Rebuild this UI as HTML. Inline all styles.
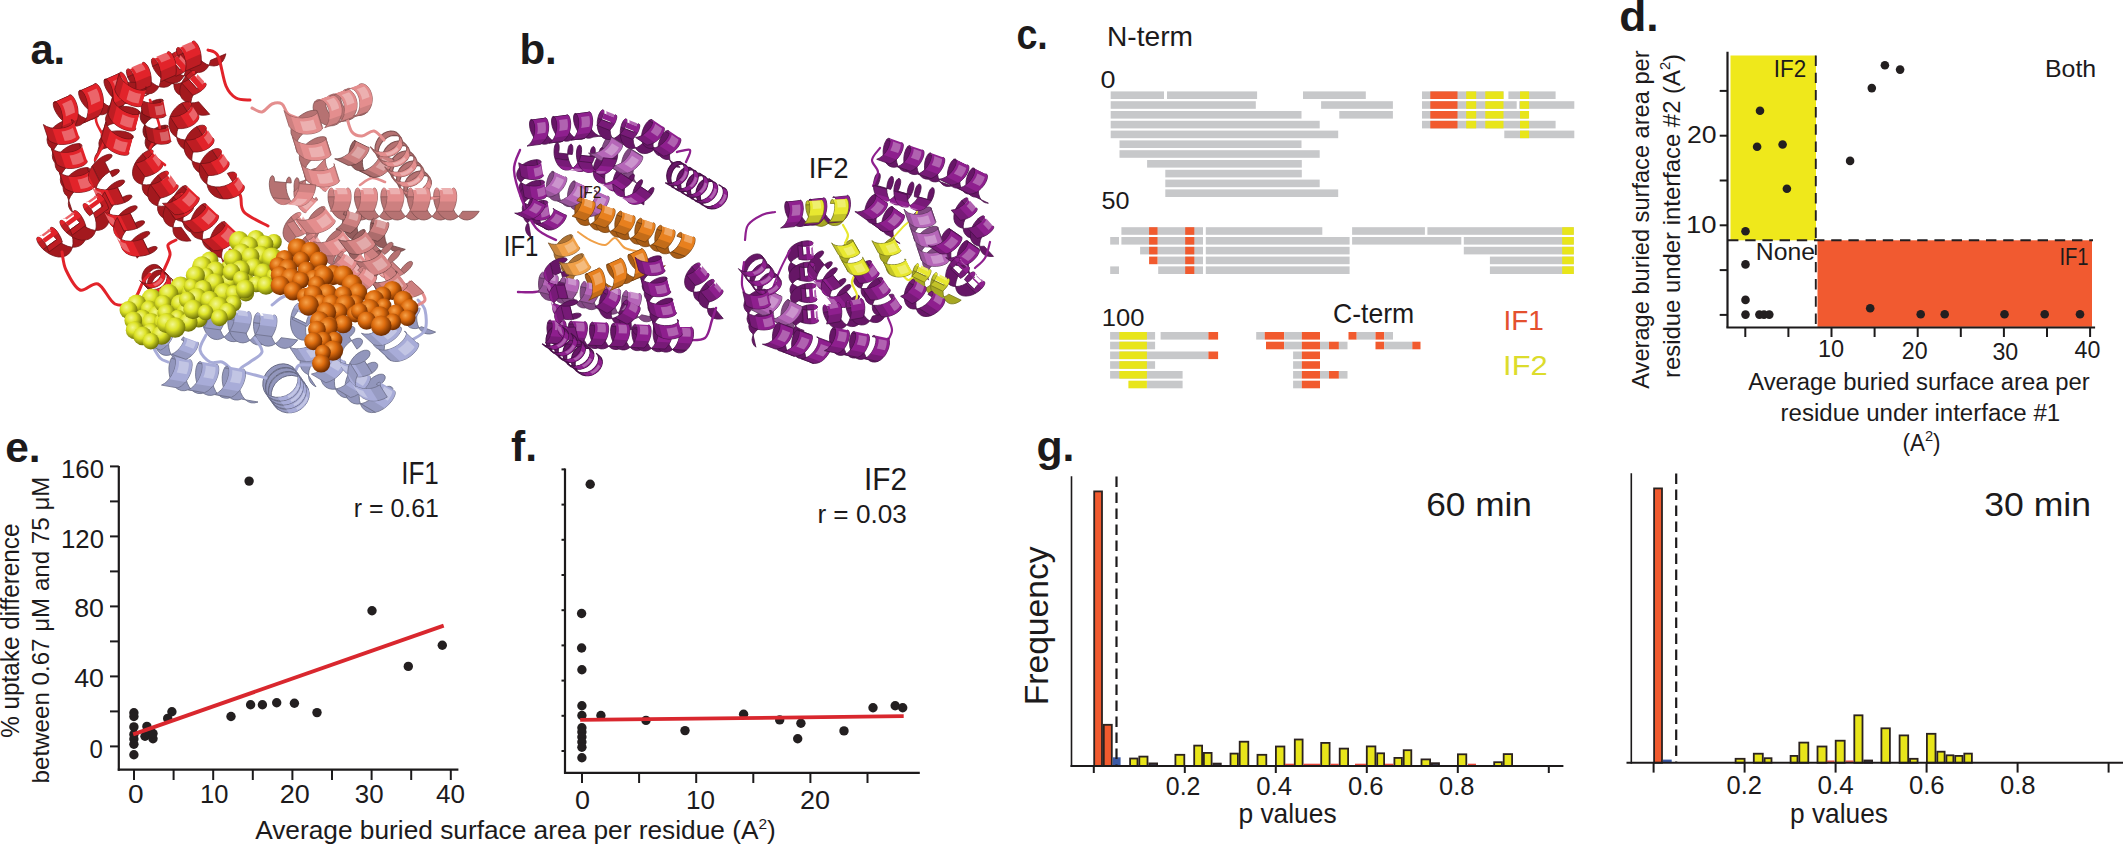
<!DOCTYPE html>
<html><head><meta charset="utf-8"><title>Figure</title>
<style>
html,body{margin:0;padding:0;background:#fff;}
svg{display:block;}
svg text{font-family:'Liberation Sans',Arial,sans-serif;}
</style></head><body>
<svg width="2123" height="846" viewBox="0 0 2123 846">
<rect width="2123" height="846" fill="#fff"/>
<defs><radialGradient id="gy" cx="0.38" cy="0.35" r="0.65"><stop offset="0" stop-color="#f2f690"/><stop offset="0.45" stop-color="#dde326"/><stop offset="1" stop-color="#6f7309"/></radialGradient><radialGradient id="go" cx="0.38" cy="0.35" r="0.65"><stop offset="0" stop-color="#f6a24a"/><stop offset="0.45" stop-color="#dd6c0e"/><stop offset="1" stop-color="#6e2c00"/></radialGradient></defs>
<g><path d="M187.8,361.2 186.7,363.5 185.8,366.7 185.4,370.5 185.4,374.7 186,379 187.3,383.2 189.2,386.9 191.6,390 194.5,392.2 197.7,393.4 201.1,393.6 204.6,392.7 188.2,389.8 184.7,390.7 181.3,390.6 178,389.3 175.1,387.1 172.7,384 170.8,380.3 169.6,376.1 169,371.8 168.9,367.6 169.4,363.8 170.2,360.6 171.4,358.3Z" fill="#9296bc" stroke="#666984" stroke-width="0.8"/>
<path d="M214.5,365.9 213.4,368.2 212.5,371.3 212,375.1 212.1,379.3 212.7,383.7 214,387.8 215.8,391.6 218.3,394.7 221.1,396.9 224.4,398.1 227.8,398.3 231.3,397.3 214.8,394.5 211.4,395.4 207.9,395.2 204.7,394 201.8,391.8 199.4,388.7 197.5,385 196.3,380.8 195.6,376.4 195.6,372.3 196,368.5 196.9,365.3 198,363Z" fill="#9296bc" stroke="#666984" stroke-width="0.8"/>
<path d="M241.2,370.5 240,372.8 239.1,376 238.7,379.8 238.7,384 239.4,388.3 240.6,392.5 242.5,396.2 244.9,399.3 247.8,401.6 251,402.8 254.5,402.9 258,402 241.5,399.1 238,400 234.6,399.9 231.4,398.7 228.5,396.5 226,393.4 224.2,389.6 222.9,385.4 222.3,381.1 222.2,376.9 222.7,373.1 223.6,370 224.7,367.7Z" fill="#9296bc" stroke="#666984" stroke-width="0.8"/>
<path d="M218.7,317.9 218.7,322 219.3,326.3 220.5,330.5 222.3,334.3 224.6,337.6 227.4,340 230.6,341.4 234,341.7 237.4,341 240.7,339.2 243.7,336.6 246.3,333.2 229.8,331.1 227.1,334.4 224.1,337.1 220.8,338.8 217.4,339.6 214,339.2 210.9,337.8 208.1,335.4 205.7,332.2 203.9,328.4 202.8,324.2 202.2,319.9 202.2,315.8Z" fill="#9296bc" stroke="#666984" stroke-width="0.8"/>
<path d="M244.4,321.3 244.4,325.4 245,329.6 246.2,333.8 248,337.7 250.3,340.9 253.1,343.3 256.3,344.7 259.6,345 263,344.3 266.3,342.5 269.4,339.9 272,336.5 255.4,334.4 252.8,337.7 249.8,340.4 246.5,342.2 243.1,342.9 239.7,342.5 236.6,341.1 233.7,338.7 231.4,335.5 229.6,331.7 228.4,327.5 227.8,323.2 227.8,319.1Z" fill="#9296bc" stroke="#666984" stroke-width="0.8"/>
<path d="M270.1,324.6 270.1,328.7 270.6,333 271.8,337.2 273.6,341 276,344.2 278.8,346.6 281.9,348 285.3,348.4 288.7,347.6 292,345.9 295,343.2 297.7,339.9 281.1,337.7 278.5,341.1 275.4,343.7 272.1,345.5 268.7,346.2 265.4,345.9 262.2,344.5 259.4,342.1 257.1,338.9 255.3,335 254.1,330.8 253.5,326.5 253.5,322.5Z" fill="#9296bc" stroke="#666984" stroke-width="0.8"/>
<path d="M170.2,335.8 169.4,338.2 168.8,341.1 168.6,344.3 168.9,347.7 169.6,351 170.8,354.1 172.5,356.7 174.6,358.7 177.2,360.1 180,360.6 182.9,360.4 185.9,359.4 171.8,354.2 168.8,355.2 165.9,355.4 163.1,354.9 160.5,353.5 158.4,351.5 156.7,348.9 155.4,345.8 154.7,342.5 154.5,339.1 154.7,335.9 155.3,333 156.1,330.6Z" fill="#9296bc" stroke="#666984" stroke-width="0.8"/>
<path d="M294.5,370.1 290.6,368.2 286.1,367.4 281.5,367.8 276.9,369.4 272.8,372.1 269.3,375.7 266.9,380 265.6,384.8 265.5,389.5 266.6,394.1 268.9,398.2 272.3,401.4 269.8,397.9 266.4,394.6 264.1,390.6 262.9,386 263,381.2 264.3,376.5 266.8,372.2 270.2,368.6 274.4,365.9 278.9,364.3 283.6,363.8 288.1,364.6 292,366.6Z" fill="#9296bc" stroke="#666984" stroke-width="1"/>
<path d="M297.4,374.1 293.5,372.2 289,371.4 284.3,371.8 279.8,373.4 275.6,376.1 272.2,379.7 269.7,384 268.4,388.8 268.3,393.5 269.5,398.1 271.8,402.2 275.1,405.4 272.6,401.9 269.3,398.6 266.9,394.6 265.8,390 265.9,385.2 267.2,380.5 269.7,376.2 273.1,372.6 277.2,369.9 281.8,368.3 286.5,367.8 290.9,368.6 294.9,370.6Z" fill="#9296bc" stroke="#666984" stroke-width="1"/>
<path d="M300.2,378.1 296.3,376.2 291.9,375.4 287.2,375.8 282.6,377.4 278.5,380.1 275.1,383.7 272.6,388 271.3,392.8 271.2,397.5 272.3,402.1 274.6,406.2 278,409.4 275.5,405.9 272.1,402.6 269.8,398.6 268.6,394 268.7,389.2 270.1,384.5 272.5,380.2 275.9,376.6 280.1,373.9 284.7,372.3 289.3,371.8 293.8,372.6 297.7,374.6Z" fill="#9296bc" stroke="#666984" stroke-width="1"/>
<path d="M306.1,323.5 305.6,327.8 305.7,332.3 306.5,336.5 308.1,340.3 310.3,343.5 313.1,345.7 316.5,347 320.2,347.3 324.1,346.6 327.9,345 331.6,342.7 335,339.7 319.9,332.5 316.6,335.5 312.9,337.9 309,339.5 305.1,340.2 301.4,339.9 298,338.6 295.2,336.3 293,333.1 291.5,329.4 290.6,325.1 290.5,320.7 291,316.3Z" fill="#9296bc" stroke="#666984" stroke-width="0.8"/>
<path d="M341,363.3 339.1,365.7 337.3,369 335.8,372.9 334.8,377.1 334.4,381.5 334.7,385.8 335.8,389.7 337.6,393 340.1,395.5 343.2,397.2 346.7,397.8 350.6,397.5 336.2,388.9 332.4,389.3 328.8,388.6 325.7,387 323.2,384.4 321.4,381.1 320.4,377.2 320.1,372.9 320.5,368.6 321.5,364.3 323,360.4 324.8,357.2 326.6,354.7Z" fill="#9296bc" stroke="#666984" stroke-width="0.8"/>
<path d="M365.8,378.1 363.9,380.5 362.1,383.8 360.6,387.7 359.6,391.9 359.2,396.3 359.5,400.6 360.6,404.5 362.4,407.8 364.9,410.3 368,412 371.5,412.6 375.4,412.3 361,403.7 357.2,404.1 353.6,403.4 350.5,401.8 348,399.2 346.2,395.9 345.2,392 344.9,387.7 345.3,383.4 346.3,379.1 347.8,375.2 349.6,372 351.4,369.5Z" fill="#9296bc" stroke="#666984" stroke-width="0.8"/>
<path d="M356.9,349.1 359.7,346.9 361.6,344.5 362.5,342.3 362.4,340.4 361.3,339 359.4,338.3 356.9,338.4 353.8,339.4 350.6,341.2 347.5,343.8 344.6,347.1 342.3,351 334.7,338.9 337,335.1 339.8,331.7 343,329.1 346.2,327.3 349.2,326.3 351.8,326.2 353.7,326.9 354.7,328.3 354.8,330.2 353.9,332.5 352,334.8 349.3,337Z" fill="#9296bc" stroke="#666984" stroke-width="0.8"/>
<path d="M372.1,373.1 374.9,370.9 376.8,368.5 377.7,366.3 377.6,364.4 376.5,363 374.6,362.3 372.1,362.4 369,363.4 365.8,365.2 362.7,367.8 359.8,371.1 357.5,375 349.9,362.9 352.2,359.1 355,355.7 358.2,353.1 361.4,351.3 364.4,350.3 367,350.2 368.9,350.9 369.9,352.3 370,354.2 369.1,356.5 367.2,358.8 364.5,361Z" fill="#9296bc" stroke="#666984" stroke-width="0.8"/>
<path d="M387.3,397.1 390.1,394.9 392,392.5 392.9,390.3 392.8,388.4 391.7,387 389.8,386.3 387.3,386.4 384.2,387.4 381,389.2 377.9,391.8 375,395.1 372.7,399 365.1,386.9 367.4,383.1 370.2,379.7 373.4,377.1 376.6,375.3 379.6,374.3 382.2,374.2 384.1,374.9 385.1,376.3 385.2,378.2 384.3,380.5 382.4,382.8 379.7,385Z" fill="#9296bc" stroke="#666984" stroke-width="0.8"/>
<path d="M399.3,326.7 397.3,327.2 394.9,328.6 392.3,330.9 389.8,333.9 387.5,337.5 385.8,341.4 384.6,345.5 384.2,349.6 384.7,353.3 386,356.5 388.2,359 391,360.7 378.7,349.3 375.9,347.6 373.7,345.1 372.4,341.9 372,338.2 372.3,334.2 373.5,330.1 375.3,326.2 377.5,322.6 380,319.6 382.6,317.3 385,315.9 387,315.3Z" fill="#9296bc" stroke="#666984" stroke-width="0.8"/>
<path d="M417.4,312.3 416.9,314.9 416.7,317.9 416.9,321 417.5,324.1 418.6,327.1 420.1,329.7 422.1,331.7 424.5,333.2 427.1,333.9 429.9,334 432.8,333.3 435.6,332.1 421.6,326.7 418.8,327.9 415.9,328.6 413.1,328.5 410.4,327.8 408.1,326.3 406.1,324.3 404.6,321.7 403.5,318.7 402.9,315.6 402.7,312.5 402.9,309.5 403.4,306.9Z" fill="#9296bc" stroke="#666984" stroke-width="0.8"/>
<path d="M319.3,356.2 317.6,357.4 315.7,359.2 313.7,361.5 311.8,364.3 310.2,367.4 309,370.7 308.5,374.1 308.6,377.4 309.4,380.4 311,383.1 313.2,385.2 316,386.8 307.7,374.3 304.9,372.7 302.7,370.6 301.1,367.9 300.2,364.9 300.1,361.6 300.7,358.2 301.8,354.9 303.4,351.8 305.3,349 307.3,346.7 309.3,344.9 311,343.7Z" fill="#9296bc" stroke="#666984" stroke-width="0.8"/>
<path d="M357.8,218.8 357.3,221.6 357,225 357.2,228.5 357.8,232.2 359,235.6 360.7,238.6 362.9,241.1 365.5,242.8 368.5,243.7 371.6,243.8 374.7,243 377.8,241.4 363.4,237.2 360.3,238.8 357.1,239.6 354,239.5 351.1,238.6 348.5,236.9 346.3,234.4 344.6,231.4 343.4,228 342.7,224.3 342.6,220.8 342.8,217.4 343.4,214.6Z" fill="#945c5c" stroke="#684040" stroke-width="0.8"/>
<path d="M385.3,226.8 384.8,229.6 384.5,233 384.7,236.5 385.3,240.2 386.5,243.6 388.2,246.6 390.4,249.1 393,250.8 396,251.7 399.1,251.8 402.2,251 405.3,249.4 390.9,245.2 387.8,246.8 384.6,247.6 381.5,247.5 378.6,246.6 376,244.9 373.8,242.4 372.1,239.4 370.9,236 370.2,232.3 370.1,228.8 370.3,225.4 370.9,222.6Z" fill="#945c5c" stroke="#684040" stroke-width="0.8"/>
<path d="M367.6,147.2 366.5,148.2 365.3,150 364.1,152.6 363.2,155.6 362.6,159.1 362.4,162.8 362.8,166.4 363.8,169.7 365.3,172.7 367.4,175 370,176.6 372.9,177.4 359.4,170.8 356.4,170 353.9,168.4 351.8,166.1 350.3,163.2 349.3,159.8 348.9,156.2 349.1,152.5 349.7,149.1 350.6,146 351.8,143.5 353,141.7 354.1,140.6Z" fill="#945c5c" stroke="#684040" stroke-width="0.8"/>
<path d="M300.6,230.6 298.1,233.3 295.8,236.4 294.1,239.8 292.9,243.3 292.6,246.7 293.1,249.9 294.4,252.6 296.5,254.9 299.2,256.4 302.5,257.3 306.2,257.5 310,257.1 300.4,243.4 296.6,243.8 293,243.6 289.7,242.8 286.9,241.2 284.8,239 283.5,236.2 283,233 283.4,229.6 284.5,226.1 286.2,222.7 288.5,219.6 291,216.9Z" fill="#b67272" stroke="#7f5050" stroke-width="0.8"/>
<path d="M314.6,250.6 312.1,253.3 309.8,256.4 308.1,259.8 306.9,263.3 306.6,266.7 307.1,269.9 308.4,272.6 310.5,274.9 313.2,276.4 316.5,277.3 320.2,277.5 324,277.1 314.4,263.4 310.6,263.8 307,263.6 303.7,262.8 300.9,261.2 298.8,259 297.5,256.2 297,253 297.4,249.6 298.5,246.1 300.2,242.7 302.5,239.6 305,236.9Z" fill="#b67272" stroke="#7f5050" stroke-width="0.8"/>
<path d="M324.7,188.2 322.9,186.5 320.4,184.7 317.5,183 314.1,181.6 310.5,180.7 306.9,180.4 303.5,180.7 300.4,181.7 297.8,183.5 295.8,185.8 294.5,188.7 293.9,192 305.3,179.8 305.9,176.5 307.2,173.6 309.2,171.3 311.8,169.5 314.9,168.5 318.3,168.2 321.9,168.5 325.5,169.4 328.9,170.8 331.9,172.5 334.3,174.3 336.1,176Z" fill="#b67272" stroke="#7f5050" stroke-width="0.8"/>
<path d="M326.9,97.5 325.9,100 325.5,103.1 326,106.5 327.2,110.1 329.2,113.5 331.9,116.6 335.1,119 338.6,120.6 342.3,121.3 346,121 349.4,119.8 352.3,117.6 339.9,122.1 337,124.3 333.6,125.6 329.9,125.9 326.2,125.2 322.7,123.6 319.5,121.1 316.8,118.1 314.8,114.7 313.6,111.1 313.1,107.6 313.4,104.5 314.5,102Z" fill="#b67272" stroke="#7f5050" stroke-width="0.8"/>
<path d="M342.1,91.9 341.1,94.4 340.7,97.5 341.2,100.9 342.4,104.5 344.4,107.9 347.1,111 350.3,113.4 353.8,115 357.5,115.7 361.2,115.4 364.6,114.2 367.5,112 355.1,116.5 352.2,118.7 348.8,120 345.1,120.3 341.4,119.6 337.9,118 334.7,115.5 332,112.5 330,109.1 328.8,105.5 328.3,102 328.6,98.9 329.7,96.4Z" fill="#b67272" stroke="#7f5050" stroke-width="0.8"/>
<path d="M401.4,138.4 399.4,136.6 396.8,135.6 393.7,135.4 390.4,136 387.1,137.6 384,140 381.4,143 379.4,146.5 378.3,150.3 378.1,154.1 378.9,157.7 380.6,161 377.4,156.6 375.7,153.3 375,149.7 375.2,145.9 376.3,142.1 378.2,138.6 380.8,135.6 383.9,133.2 387.2,131.7 390.6,131 393.7,131.2 396.3,132.2 398.2,134Z" fill="#b67272" stroke="#7f5050" stroke-width="1.1"/>
<path d="M408.6,148.4 406.6,146.6 404,145.6 400.9,145.4 397.6,146 394.3,147.6 391.2,150 388.6,153 386.6,156.5 385.5,160.3 385.3,164.1 386.1,167.7 387.8,171 384.6,166.6 382.9,163.3 382.2,159.7 382.4,155.9 383.5,152.1 385.4,148.6 388,145.6 391.1,143.2 394.4,141.7 397.8,141 400.9,141.2 403.5,142.2 405.4,144Z" fill="#b67272" stroke="#7f5050" stroke-width="1.1"/>
<path d="M415.8,158.4 413.8,156.6 411.2,155.6 408.1,155.4 404.8,156 401.5,157.6 398.4,160 395.8,163 393.8,166.5 392.7,170.3 392.5,174.1 393.3,177.7 395,181 391.8,176.6 390.1,173.3 389.4,169.7 389.6,165.9 390.7,162.1 392.6,158.6 395.2,155.6 398.3,153.2 401.6,151.7 405,151 408.1,151.2 410.7,152.2 412.6,154Z" fill="#b67272" stroke="#7f5050" stroke-width="1.1"/>
<path d="M423,168.4 421,166.6 418.4,165.6 415.3,165.4 412,166 408.7,167.6 405.6,170 403,173 401,176.5 399.9,180.3 399.7,184.1 400.5,187.7 402.2,191 399,186.6 397.3,183.3 396.6,179.7 396.8,175.9 397.9,172.1 399.8,168.6 402.4,165.6 405.5,163.2 408.8,161.7 412.2,161 415.3,161.2 417.9,162.2 419.8,164Z" fill="#b67272" stroke="#7f5050" stroke-width="1.1"/>
<path d="M430.2,178.4 428.2,176.6 425.6,175.6 422.5,175.4 419.2,176 415.9,177.6 412.8,180 410.2,183 408.2,186.5 407.1,190.3 406.9,194.1 407.7,197.7 409.4,201 406.2,196.6 404.5,193.3 403.8,189.7 404,185.9 405.1,182.1 407,178.6 409.6,175.6 412.7,173.2 416,171.7 419.4,171 422.5,171.2 425.1,172.2 427,174Z" fill="#b67272" stroke="#7f5050" stroke-width="1.1"/>
<path d="M322.1,126.7 320.5,126.2 318.1,126.2 315,126.8 311.5,128.1 307.8,130 304.2,132.5 301,135.5 298.4,138.9 296.7,142.5 295.9,146.1 296.2,149.6 297.5,152.8 292.5,136.9 291.1,133.7 290.9,130.2 291.6,126.6 293.4,123 295.9,119.6 299.1,116.6 302.7,114.1 306.4,112.1 309.9,110.9 313,110.3 315.5,110.3 317.1,110.8Z" fill="#b67272" stroke="#7f5050" stroke-width="0.8"/>
<path d="M330.5,153.1 328.9,152.6 326.5,152.6 323.4,153.2 319.9,154.5 316.2,156.4 312.6,158.9 309.4,161.9 306.8,165.3 305.1,168.9 304.3,172.5 304.6,176 305.9,179.2 300.9,163.3 299.5,160.1 299.3,156.6 300,153 301.8,149.4 304.3,146 307.5,143 311.1,140.5 314.8,138.5 318.3,137.3 321.4,136.7 323.9,136.7 325.5,137.2Z" fill="#b67272" stroke="#7f5050" stroke-width="0.8"/>
<path d="M291.2,183 291.1,180.3 290.5,178.3 289.7,177.2 288.8,177.1 287.8,177.8 286.9,179.5 286.3,182 286,185.1 286.2,188.6 286.9,192.4 288.1,196 289.8,199.4 273.1,198 271.4,194.7 270.2,191 269.5,187.3 269.3,183.8 269.6,180.7 270.2,178.2 271.1,176.5 272.1,175.7 273.1,175.9 273.9,177 274.4,178.9 274.5,181.6Z" fill="#b67272" stroke="#7f5050" stroke-width="0.8"/>
<path d="M315.9,185 315.7,182.3 315.2,180.3 314.4,179.2 313.4,179.1 312.4,179.8 311.6,181.5 310.9,184 310.7,187.1 310.8,190.6 311.5,194.4 312.7,198 314.5,201.4 297.8,200 296.1,196.7 294.9,193 294.2,189.3 294,185.8 294.3,182.7 294.9,180.2 295.8,178.5 296.8,177.7 297.7,177.9 298.5,179 299.1,180.9 299.2,183.6Z" fill="#b67272" stroke="#7f5050" stroke-width="0.8"/>
<path d="M344.7,196.7 345,200.7 346,204.8 347.5,209 349.6,212.7 352.2,215.9 355.2,218.3 358.4,219.7 361.8,220 365.2,219.2 368.3,217.4 371.2,214.7 373.6,211.3 356.9,211.3 354.5,214.7 351.6,217.4 348.5,219.2 345.1,220 341.7,219.7 338.5,218.3 335.5,215.9 332.9,212.7 330.8,209 329.3,204.8 328.3,200.7 328,196.7Z" fill="#b67272" stroke="#7f5050" stroke-width="0.8"/>
<path d="M371.1,196.7 371.4,200.7 372.4,204.8 373.9,209 376,212.7 378.6,215.9 381.6,218.3 384.8,219.7 388.2,220 391.6,219.2 394.7,217.4 397.6,214.7 400,211.3 383.3,211.3 380.9,214.7 378,217.4 374.9,219.2 371.5,220 368.1,219.7 364.9,218.3 361.9,215.9 359.3,212.7 357.2,209 355.7,204.8 354.7,200.7 354.4,196.7Z" fill="#b67272" stroke="#7f5050" stroke-width="0.8"/>
<path d="M397.5,196.7 397.8,200.7 398.8,204.8 400.3,209 402.4,212.7 405,215.9 408,218.3 411.2,219.7 414.6,220 418,219.2 421.1,217.4 424,214.7 426.4,211.3 409.7,211.3 407.3,214.7 404.4,217.4 401.3,219.2 397.9,220 394.5,219.7 391.3,218.3 388.3,215.9 385.7,212.7 383.6,209 382.1,204.8 381.1,200.7 380.8,196.7Z" fill="#b67272" stroke="#7f5050" stroke-width="0.8"/>
<path d="M423.9,196.7 424.2,200.7 425.2,204.8 426.7,209 428.8,212.7 431.4,215.9 434.4,218.3 437.6,219.7 441,220 444.4,219.2 447.5,217.4 450.4,214.7 452.8,211.3 436.1,211.3 433.7,214.7 430.8,217.4 427.7,219.2 424.3,220 420.9,219.7 417.7,218.3 414.7,215.9 412.1,212.7 410,209 408.5,204.8 407.5,200.7 407.2,196.7Z" fill="#b67272" stroke="#7f5050" stroke-width="0.8"/>
<path d="M450.3,196.7 450.6,200.7 451.6,204.8 453.1,209 455.2,212.7 457.8,215.9 460.8,218.3 464,219.7 467.4,220 470.8,219.2 473.9,217.4 476.8,214.7 479.2,211.3 462.5,211.3 460.1,214.7 457.2,217.4 454.1,219.2 450.7,220 447.3,219.7 444.1,218.3 441.1,215.9 438.5,212.7 436.4,209 434.9,204.8 433.9,200.7 433.6,196.7Z" fill="#b67272" stroke="#7f5050" stroke-width="0.8"/>
<path d="M332.3,219.9 329.9,220.9 327.1,222.7 324.3,225.2 321.5,228.3 319.1,232 317.2,236 316.1,240 315.8,244 316.5,247.6 318,250.7 320.5,253.2 323.7,254.9 313.5,241.7 310.3,240 307.9,237.5 306.3,234.4 305.6,230.7 305.9,226.8 307,222.7 308.9,218.8 311.3,215.1 314.1,211.9 317,209.4 319.7,207.6 322.1,206.7Z" fill="#b67272" stroke="#7f5050" stroke-width="0.8"/>
<path d="M349.5,242.3 347.1,243.3 344.3,245.1 341.5,247.6 338.7,250.7 336.3,254.4 334.4,258.4 333.3,262.4 333,266.4 333.7,270 335.2,273.1 337.7,275.6 340.9,277.3 330.7,264.1 327.5,262.4 325.1,259.9 323.5,256.8 322.8,253.1 323.1,249.2 324.2,245.1 326.1,241.2 328.5,237.5 331.3,234.3 334.2,231.8 336.9,230 339.3,229.1Z" fill="#b67272" stroke="#7f5050" stroke-width="0.8"/>
<path d="M384.7,254.4 387.9,251.9 390.4,249.3 392.1,246.9 393,244.8 392.9,243.2 392.1,242.4 390.6,242.4 388.5,243.3 386.1,245.1 383.6,247.7 381.1,250.9 379,254.7 367.1,243.1 369.2,239.3 371.6,236 374.1,233.4 376.6,231.7 378.6,230.8 380.2,230.8 381,231.6 381,233.1 380.1,235.2 378.4,237.7 375.9,240.3 372.7,242.8Z" fill="#b67272" stroke="#7f5050" stroke-width="0.8"/>
<path d="M404.2,273.4 407.4,270.9 409.9,268.3 411.6,265.9 412.5,263.8 412.4,262.2 411.6,261.4 410.1,261.4 408,262.3 405.6,264.1 403.1,266.7 400.6,269.9 398.5,273.7 386.6,262.1 388.7,258.3 391.1,255 393.6,252.4 396.1,250.7 398.1,249.8 399.7,249.8 400.5,250.6 400.5,252.1 399.6,254.2 397.9,256.7 395.4,259.3 392.2,261.8Z" fill="#b67272" stroke="#7f5050" stroke-width="0.8"/>
<path d="M373.5,242.8 371.6,243.4 369.4,244.7 366.9,246.8 364.5,249.4 362.2,252.5 360.4,255.9 359.2,259.5 358.7,263.1 359,266.4 360.2,269.4 362.1,271.8 364.7,273.7 354.5,260.4 351.9,258.6 350,256.2 348.9,253.2 348.6,249.8 349.1,246.3 350.3,242.7 352.1,239.2 354.3,236.1 356.7,233.5 359.2,231.5 361.4,230.2 363.3,229.5Z" fill="#9a6060" stroke="#6c4343" stroke-width="0.8"/>
<path d="M389.5,263.6 387.6,264.2 385.4,265.5 382.9,267.6 380.5,270.2 378.2,273.3 376.4,276.7 375.2,280.3 374.7,283.9 375,287.2 376.2,290.2 378.1,292.6 380.7,294.5 370.5,281.2 367.9,279.4 366,277 364.9,274 364.6,270.6 365.1,267.1 366.3,263.5 368.1,260 370.3,256.9 372.7,254.3 375.2,252.3 377.4,251 379.3,250.3Z" fill="#9a6060" stroke="#6c4343" stroke-width="0.8"/>
<path d="M351.1,265.3 349.4,267.9 348,271 346.9,274.4 346.4,278 346.4,281.5 347,284.7 348.3,287.5 350.3,289.7 352.8,291.2 355.7,292 358.9,292 362.3,291.2 348.9,281.2 345.6,281.9 342.3,281.9 339.4,281.2 336.9,279.7 335,277.5 333.7,274.7 333,271.4 333,267.9 333.6,264.4 334.6,261 336.1,257.9 337.7,255.3Z" fill="#b67272" stroke="#7f5050" stroke-width="0.8"/>
<path d="M371.1,280.3 369.4,282.9 368,286 366.9,289.4 366.4,293 366.4,296.5 367,299.7 368.3,302.5 370.3,304.7 372.8,306.2 375.7,307 378.9,307 382.3,306.2 368.9,296.2 365.6,296.9 362.3,296.9 359.4,296.2 356.9,294.7 355,292.5 353.7,289.7 353,286.4 353,282.9 353.6,279.4 354.6,276 356.1,272.9 357.7,270.3Z" fill="#b67272" stroke="#7f5050" stroke-width="0.8"/>
<path d="M360,185 C362,183.8 367.8,178.5 372,178 C376.2,177.5 382.8,181.3 385,182" fill="none" stroke="#e48e8e" stroke-width="2.6" stroke-linecap="round" stroke-linejoin="round"/>
<path d="M162.8,114 160.3,114.3 157.4,115.1 154.3,116.4 151.2,118.2 148.3,120.5 145.9,123.1 144.1,126 143.1,129 143,132 143.7,134.9 145.2,137.5 147.5,139.8 144.7,125 142.4,122.7 140.8,120.1 140.1,117.2 140.3,114.2 141.3,111.2 143.1,108.3 145.5,105.7 148.3,103.5 151.4,101.7 154.6,100.3 157.5,99.5 160,99.2Z" fill="#8f161b" stroke="#640f13" stroke-width="0.8"/>
<path d="M167.8,140 165.3,140.3 162.4,141.1 159.3,142.4 156.2,144.2 153.3,146.5 150.9,149.1 149.1,152 148.1,155 148,158 148.7,160.9 150.2,163.5 152.5,165.8 149.7,151 147.4,148.7 145.8,146.1 145.1,143.2 145.3,140.2 146.3,137.2 148.1,134.3 150.5,131.7 153.3,129.5 156.4,127.7 159.6,126.3 162.5,125.5 165,125.2Z" fill="#8f161b" stroke="#640f13" stroke-width="0.8"/>
<path d="M179.9,69.7 177.7,72.7 175.9,76.1 174.6,79.7 173.9,83.3 174,86.8 174.9,89.9 176.5,92.5 178.9,94.5 181.9,95.8 185.3,96.3 189,96.1 192.7,95.3 181.6,82.8 177.8,83.7 174.2,83.9 170.8,83.4 167.8,82.1 165.4,80.1 163.8,77.5 162.9,74.4 162.8,70.9 163.5,67.3 164.8,63.6 166.6,60.2 168.8,57.2Z" fill="#a3191e" stroke="#721215" stroke-width="0.8"/>
<path d="M196.9,88.7 194.7,91.7 192.9,95.1 191.6,98.7 190.9,102.3 191,105.8 191.9,108.9 193.5,111.5 195.9,113.5 198.9,114.8 202.3,115.3 206,115.1 209.7,114.3 198.6,101.8 194.8,102.7 191.2,102.9 187.8,102.4 184.8,101.1 182.4,99.1 180.8,96.5 179.9,93.4 179.8,89.9 180.5,86.3 181.8,82.6 183.6,79.2 185.8,76.2Z" fill="#a3191e" stroke="#721215" stroke-width="0.8"/>
<path d="M68.7,96 68.5,98 69.1,100.7 70.3,103.9 72.2,107.3 74.8,110.7 77.9,113.8 81.4,116.4 85.1,118.3 88.8,119.3 92.4,119.2 95.7,118.2 98.6,116.1 83.3,123 80.5,125 77.2,126.1 73.6,126.1 69.8,125.1 66.1,123.3 62.6,120.7 59.5,117.5 57,114.1 55.1,110.7 53.8,107.5 53.3,104.8 53.4,102.9Z" fill="#a3191e" stroke="#721215" stroke-width="0.8"/>
<path d="M94,84.7 93.9,86.7 94.4,89.4 95.6,92.5 97.6,96 100.1,99.4 103.2,102.5 106.7,105.1 110.4,107 114.2,107.9 117.8,107.9 121.1,106.9 123.9,104.8 108.7,111.6 105.8,113.7 102.5,114.7 98.9,114.8 95.2,113.8 91.4,111.9 88,109.3 84.9,106.2 82.3,102.8 80.4,99.4 79.2,96.2 78.6,93.5 78.8,91.5Z" fill="#a3191e" stroke="#721215" stroke-width="0.8"/>
<path d="M119.3,73.4 119.2,75.3 119.7,78 121,81.2 122.9,84.6 125.5,88 128.5,91.2 132,93.8 135.7,95.6 139.5,96.6 143.1,96.6 146.4,95.5 149.2,93.5 134,100.3 131.2,102.3 127.9,103.4 124.2,103.4 120.5,102.5 116.8,100.6 113.3,98 110.2,94.9 107.7,91.5 105.7,88 104.5,84.8 104,82.2 104.1,80.2Z" fill="#a3191e" stroke="#721215" stroke-width="0.8"/>
<path d="M143,70.3 144.6,73.8 146.9,77.3 149.7,80.6 153,83.4 156.6,85.6 160.3,87 164,87.3 167.4,86.7 170.4,85 172.9,82.4 174.7,79.1 175.9,75.1 160.5,81.7 159.4,85.6 157.5,89 155.1,91.6 152,93.3 148.6,93.9 145,93.5 141.3,92.2 137.7,90 134.4,87.1 131.5,83.8 129.2,80.3 127.6,76.9Z" fill="#a3191e" stroke="#721215" stroke-width="0.8"/>
<path d="M168,59.7 169.6,63.1 171.9,66.6 174.7,69.9 178,72.8 181.6,75 185.3,76.3 189,76.7 192.4,76 195.4,74.4 197.9,71.8 199.7,68.4 200.9,64.4 185.5,71 184.4,75 182.5,78.3 180.1,80.9 177,82.6 173.6,83.2 170,82.9 166.3,81.5 162.7,79.3 159.4,76.5 156.5,73.1 154.2,69.6 152.6,66.2Z" fill="#a3191e" stroke="#721215" stroke-width="0.8"/>
<path d="M193,49 194.6,52.4 196.9,55.9 199.7,59.2 203,62.1 206.6,64.3 210.3,65.6 214,66 217.4,65.4 220.4,63.7 222.9,61.1 224.7,57.7 225.9,53.8 210.5,60.3 209.4,64.3 207.5,67.7 205.1,70.3 202,71.9 198.6,72.6 195,72.2 191.3,70.8 187.7,68.7 184.4,65.8 181.5,62.5 179.2,59 177.6,55.6Z" fill="#a3191e" stroke="#721215" stroke-width="0.8"/>
<path d="M141.6,102.8 139.8,101.4 137.1,100 133.6,99 129.6,98.4 125.2,98.3 120.9,98.8 116.9,100 113.3,101.8 110.5,104.2 108.7,107.1 107.8,110.4 108,113.8 112.4,97.7 112.2,94.2 113.1,91 114.9,88.1 117.7,85.7 121.3,83.9 125.3,82.7 129.7,82.2 134,82.3 138,82.9 141.5,83.9 144.2,85.2 146,86.7Z" fill="#a3191e" stroke="#721215" stroke-width="0.8"/>
<path d="M134.9,127.1 133.1,125.7 130.4,124.4 126.9,123.3 122.9,122.7 118.6,122.6 114.3,123.2 110.2,124.4 106.7,126.2 103.9,128.6 102,131.5 101.1,134.7 101.3,138.1 105.8,122 105.5,118.6 106.4,115.3 108.3,112.5 111.1,110.1 114.6,108.2 118.7,107.1 123,106.5 127.3,106.6 131.3,107.2 134.8,108.3 137.5,109.6 139.3,111Z" fill="#a3191e" stroke="#721215" stroke-width="0.8"/>
<path d="M128.2,151.5 126.5,150 123.7,148.7 120.2,147.7 116.2,147 111.9,147 107.6,147.5 103.5,148.7 100,150.5 97.2,152.9 95.3,155.8 94.5,159 94.7,162.5 99.1,146.4 98.9,142.9 99.7,139.7 101.6,136.8 104.4,134.4 107.9,132.6 112,131.4 116.3,130.9 120.6,130.9 124.7,131.5 128.1,132.6 130.9,133.9 132.7,135.4Z" fill="#a3191e" stroke="#721215" stroke-width="0.8"/>
<path d="M76.6,135.5 74,135.5 70.8,136.2 67.2,137.5 63.6,139.5 60,142 56.9,145 54.5,148.4 52.9,151.9 52.3,155.4 52.7,158.8 54.2,161.8 56.7,164.4 51.4,148.5 48.9,146 47.5,142.9 47,139.6 47.6,136.1 49.2,132.5 51.6,129.2 54.7,126.2 58.3,123.6 62,121.6 65.5,120.3 68.8,119.7 71.3,119.6Z" fill="#a3191e" stroke="#721215" stroke-width="0.8"/>
<path d="M84.6,159.5 82,159.5 78.8,160.2 75.2,161.5 71.6,163.5 68,166 64.9,169 62.5,172.4 60.9,175.9 60.3,179.4 60.7,182.8 62.2,185.8 64.7,188.4 59.4,172.5 56.9,170 55.5,166.9 55,163.6 55.6,160.1 57.2,156.5 59.6,153.2 62.7,150.2 66.3,147.6 70,145.6 73.5,144.3 76.8,143.7 79.3,143.6Z" fill="#a3191e" stroke="#721215" stroke-width="0.8"/>
<path d="M92.6,183.5 90,183.5 86.8,184.2 83.2,185.5 79.6,187.5 76,190 72.9,193 70.5,196.4 68.9,199.9 68.3,203.4 68.7,206.8 70.2,209.8 72.7,212.4 67.4,196.5 64.9,194 63.5,190.9 63,187.6 63.6,184.1 65.2,180.5 67.6,177.2 70.7,174.2 74.3,171.6 78,169.6 81.5,168.3 84.8,167.7 87.3,167.6Z" fill="#a3191e" stroke="#721215" stroke-width="0.8"/>
<path d="M112.2,176.8 115.3,175.2 117.7,173.5 119.1,171.9 119.4,170.5 118.8,169.6 117.3,169.3 114.9,169.5 112,170.6 108.8,172.3 105.4,174.7 102.2,177.7 99.5,181.1 92.1,166.1 94.9,162.7 98.1,159.7 101.4,157.3 104.7,155.6 107.6,154.5 109.9,154.2 111.5,154.6 112.1,155.5 111.7,156.9 110.3,158.5 108,160.2 104.8,161.8Z" fill="#a3191e" stroke="#721215" stroke-width="0.8"/>
<path d="M124.7,202.5 127.9,200.9 130.2,199.2 131.6,197.6 132,196.3 131.4,195.3 129.8,195 127.5,195.3 124.6,196.3 121.3,198 118,200.4 114.8,203.4 112,206.8 104.7,191.8 107.5,188.4 110.6,185.4 114,183 117.3,181.3 120.2,180.3 122.5,180 124.1,180.3 124.7,181.2 124.3,182.6 122.9,184.2 120.6,185.9 117.4,187.5Z" fill="#a3191e" stroke="#721215" stroke-width="0.8"/>
<path d="M137.3,228.2 140.5,226.6 142.8,224.9 144.2,223.3 144.6,222 144,221 142.4,220.7 140.1,221 137.2,222 133.9,223.7 130.6,226.1 127.4,229.1 124.6,232.5 117.3,217.5 120,214.1 123.2,211.1 126.6,208.7 129.8,207 132.8,206 135.1,205.7 136.6,206 137.2,207 136.9,208.3 135.5,209.9 133.1,211.6 130,213.2Z" fill="#a3191e" stroke="#721215" stroke-width="0.8"/>
<path d="M149.9,253.9 153,252.3 155.4,250.6 156.8,249 157.2,247.7 156.5,246.8 155,246.4 152.7,246.7 149.8,247.7 146.5,249.4 143.1,251.8 139.9,254.8 137.2,258.2 129.8,243.2 132.6,239.8 135.8,236.8 139.2,234.4 142.4,232.7 145.3,231.7 147.7,231.4 149.2,231.8 149.8,232.7 149.4,234 148,235.6 145.7,237.3 142.5,238.9Z" fill="#a3191e" stroke="#721215" stroke-width="0.8"/>
<path d="M152.5,167.4 149.5,170.2 146.8,173.6 144.5,177.3 143,181.3 142.2,185.2 142.4,188.9 143.5,192.2 145.6,194.9 148.5,196.9 152,198.1 156,198.5 160.3,198.2 150.5,184.6 146.3,184.9 142.3,184.5 138.7,183.3 135.8,181.3 133.8,178.6 132.7,175.3 132.5,171.6 133.2,167.7 134.8,163.8 137,160 139.7,156.7 142.7,153.8Z" fill="#a3191e" stroke="#721215" stroke-width="0.8"/>
<path d="M167.8,188.7 164.8,191.6 162.1,194.9 159.9,198.7 158.3,202.6 157.6,206.5 157.7,210.2 158.9,213.5 160.9,216.2 163.8,218.2 167.3,219.4 171.4,219.8 175.6,219.5 165.9,205.9 161.6,206.3 157.6,205.9 154.1,204.6 151.2,202.6 149.1,199.9 148,196.7 147.8,193 148.5,189 150.1,185.1 152.3,181.4 155.1,178 158,175.2Z" fill="#a3191e" stroke="#721215" stroke-width="0.8"/>
<path d="M183.1,210.1 180.2,212.9 177.4,216.3 175.2,220 173.6,223.9 172.9,227.9 173.1,231.6 174.2,234.8 176.3,237.5 179.1,239.5 182.7,240.8 186.7,241.2 191,240.8 181.2,227.3 176.9,227.6 172.9,227.2 169.4,226 166.5,224 164.5,221.3 163.3,218 163.1,214.3 163.9,210.4 165.4,206.4 167.7,202.7 170.4,199.3 173.4,196.5Z" fill="#a3191e" stroke="#721215" stroke-width="0.8"/>
<path d="M189.6,115.1 186.4,117.1 183.3,119.9 180.5,123.3 178.4,127.2 177.1,131.5 176.6,135.8 177.2,140 178.8,143.8 181.3,147 184.6,149.5 188.5,151.2 192.9,152 185.1,140 180.8,139.2 176.9,137.5 173.5,135 171,131.8 169.5,128 168.9,123.8 169.3,119.5 170.7,115.2 172.8,111.3 175.5,107.9 178.6,105.1 181.8,103.1Z" fill="#a3191e" stroke="#721215" stroke-width="0.8"/>
<path d="M204.7,138.5 201.5,140.5 198.4,143.3 195.7,146.7 193.5,150.7 192.2,154.9 191.8,159.2 192.4,163.4 193.9,167.2 196.4,170.4 199.7,172.9 203.7,174.6 208,175.5 200.3,163.5 195.9,162.6 192,160.9 188.7,158.4 186.2,155.2 184.6,151.4 184,147.2 184.5,142.9 185.8,138.7 187.9,134.7 190.7,131.3 193.8,128.5 197,126.5Z" fill="#a3191e" stroke="#721215" stroke-width="0.8"/>
<path d="M219.9,162 216.7,163.9 213.6,166.7 210.8,170.2 208.7,174.1 207.3,178.3 206.9,182.7 207.5,186.8 209.1,190.6 211.6,193.8 214.9,196.4 218.8,198.1 223.2,198.9 215.4,186.9 211.1,186.1 207.1,184.4 203.8,181.8 201.3,178.6 199.7,174.8 199.2,170.7 199.6,166.3 200.9,162.1 203.1,158.2 205.8,154.7 208.9,151.9 212.1,150Z" fill="#a3191e" stroke="#721215" stroke-width="0.8"/>
<path d="M195.1,197.6 192.8,199.3 190.3,201.7 187.9,204.9 185.7,208.6 184.1,212.7 183.1,216.9 182.9,220.9 183.6,224.7 185.1,227.8 187.5,230.3 190.5,232 194.1,232.7 181.9,221.4 178.3,220.6 175.2,218.9 172.9,216.5 171.4,213.3 170.7,209.5 170.9,205.5 171.9,201.3 173.5,197.2 175.7,193.5 178.1,190.3 180.6,187.9 182.9,186.3Z" fill="#a3191e" stroke="#721215" stroke-width="0.8"/>
<path d="M214.5,215.6 212.1,217.3 209.6,219.7 207.2,222.9 205.1,226.6 203.4,230.7 202.5,234.9 202.3,238.9 202.9,242.7 204.5,245.8 206.8,248.3 209.8,250 213.4,250.7 201.2,239.4 197.6,238.6 194.6,236.9 192.2,234.5 190.7,231.3 190.1,227.5 190.2,223.5 191.2,219.3 192.9,215.2 195,211.5 197.4,208.3 199.9,205.9 202.2,204.3Z" fill="#a3191e" stroke="#721215" stroke-width="0.8"/>
<path d="M233.8,233.6 231.5,235.3 229,237.7 226.5,240.9 224.4,244.6 222.8,248.7 221.8,252.9 221.6,256.9 222.3,260.7 223.8,263.8 226.1,266.3 229.2,268 232.8,268.7 220.5,257.4 216.9,256.6 213.9,254.9 211.6,252.5 210,249.3 209.4,245.5 209.6,241.5 210.6,237.3 212.2,233.2 214.3,229.5 216.7,226.3 219.2,223.9 221.6,222.3Z" fill="#a3191e" stroke="#721215" stroke-width="0.8"/>
<path d="M56.7,239.6 60.1,242.3 63.9,244.6 67.9,246.3 71.9,247.2 75.7,247.1 79.2,246.1 82.1,244.2 84.4,241.5 85.8,238 86.5,234 86.4,229.7 85.6,225.4 72.1,235.2 72.9,239.5 73,243.8 72.3,247.8 70.8,251.3 68.6,254 65.7,255.9 62.2,256.9 58.4,257 54.3,256.1 50.3,254.4 46.6,252.1 43.2,249.4Z" fill="#a3191e" stroke="#721215" stroke-width="0.8"/>
<path d="M79.9,222.8 83.3,225.5 87.1,227.8 91.1,229.5 95.1,230.4 98.9,230.3 102.4,229.3 105.3,227.4 107.6,224.7 109,221.2 109.7,217.2 109.6,212.9 108.8,208.6 95.3,218.4 96.1,222.7 96.2,227 95.5,231 94,234.5 91.8,237.2 88.9,239.1 85.4,240.1 81.6,240.2 77.5,239.3 73.5,237.6 69.8,235.3 66.4,232.6Z" fill="#a3191e" stroke="#721215" stroke-width="0.8"/>
<path d="M163.1,270.2 161.2,268.8 158.9,268.2 156.3,268.3 153.6,269.1 151.1,270.7 148.8,272.8 147.1,275.5 146,278.5 145.7,281.7 146,284.7 147.2,287.6 149,289.9 145.3,286.2 143.4,283.8 142.3,281 141.9,277.9 142.3,274.8 143.4,271.8 145.1,269.1 147.3,266.9 149.9,265.4 152.5,264.5 155.1,264.4 157.5,265.1 159.4,266.5Z" fill="#a3191e" stroke="#721215" stroke-width="0.8"/>
<path d="M168.7,275.8 166.8,274.4 164.5,273.8 161.9,273.9 159.2,274.7 156.7,276.3 154.4,278.4 152.7,281.1 151.6,284.1 151.3,287.3 151.6,290.3 152.8,293.2 154.6,295.5 150.9,291.8 149,289.4 147.9,286.6 147.5,283.5 147.9,280.4 149,277.4 150.7,274.7 152.9,272.5 155.5,271 158.1,270.1 160.7,270 163.1,270.7 165,272.1Z" fill="#a3191e" stroke="#721215" stroke-width="0.8"/>
<path d="M100,95 C99.3,99.2 95.3,112.5 96,120 C96.7,127.5 104.2,133.3 104,140 C103.8,146.7 96.5,156.7 95,160" fill="none" stroke="#e2232a" stroke-width="2.6" stroke-linecap="round" stroke-linejoin="round"/>
<path d="M150,100 C151.7,105 160,121.7 160,130 C160,138.3 149.2,144.2 150,150 C150.8,155.8 162.5,162.5 165,165" fill="none" stroke="#e2232a" stroke-width="2.6" stroke-linecap="round" stroke-linejoin="round"/>
<path d="M152,345 C153.3,347.2 157.3,355.2 160,358 C162.7,360.8 166.7,361.3 168,362" fill="none" stroke="#a8acd8" stroke-width="3" stroke-linecap="round" stroke-linejoin="round"/>
<path d="M206,335 C205,337.5 199.3,345.5 200,350 C200.7,354.5 206.3,360 210,362 C213.7,364 218.7,361 222,362 C225.3,363 228.7,367 230,368" fill="none" stroke="#a8acd8" stroke-width="3" stroke-linecap="round" stroke-linejoin="round"/>
<path d="M255,338 C256.2,340.3 262.8,348 262,352 C261.2,356 253.7,359 250,362 C246.3,365 239.2,367.8 240,370 C240.8,372.2 250.7,373.7 255,375 C259.3,376.3 264.2,377.5 266,378" fill="none" stroke="#a8acd8" stroke-width="3" stroke-linecap="round" stroke-linejoin="round"/>
<path d="M272,305 C274.2,303.5 279.5,297.8 285,296 C290.5,294.2 300,293.3 305,294 C310,294.7 313.3,299 315,300" fill="none" stroke="#a8acd8" stroke-width="3" stroke-linecap="round" stroke-linejoin="round"/>
<path d="M296,370 C296.7,369.2 296.3,365.8 300,365 C303.7,364.2 313,365.5 318,365 C323,364.5 328,362.5 330,362" fill="none" stroke="#a8acd8" stroke-width="3" stroke-linecap="round" stroke-linejoin="round"/>
<path d="M418,300 C419.2,301.7 423.8,305 425,310 C426.2,315 427.2,325 425,330 C422.8,335 414.2,338.3 412,340" fill="none" stroke="#a8acd8" stroke-width="3" stroke-linecap="round" stroke-linejoin="round"/>
<path d="M252,108 C253.7,108.7 258.7,112.7 262,112 C265.3,111.3 268.7,105.3 272,104 C275.3,102.7 279.3,102.3 282,104 C284.7,105.7 285.3,111.7 288,114 C290.7,116.3 296.3,117.3 298,118" fill="none" stroke="#e48e8e" stroke-width="3" stroke-linecap="round" stroke-linejoin="round"/>
<path d="M347,118 C347.8,120.3 349.5,129 352,132 C354.5,135 358.3,136.2 362,136 C365.7,135.8 370.3,130.3 374,131 C377.7,131.7 382.3,138.5 384,140" fill="none" stroke="#e48e8e" stroke-width="3" stroke-linecap="round" stroke-linejoin="round"/>
<path d="M420,190 C421.7,191.3 426.7,197 430,198 C433.3,199 438.3,196.3 440,196" fill="none" stroke="#e48e8e" stroke-width="3" stroke-linecap="round" stroke-linejoin="round"/>
<path d="M410,282 C411.7,283.3 417.5,287 420,290 C422.5,293 425.3,297.5 425,300 C424.7,302.5 419.2,304.2 418,305" fill="none" stroke="#e48e8e" stroke-width="3" stroke-linecap="round" stroke-linejoin="round"/>
<path d="M208,50 C209.7,51 215,50 218,56 C221,62 223,79 226,86 C229,93 232,95.7 236,98 C240,100.3 247.7,99.7 250,100" fill="none" stroke="#e2232a" stroke-width="3" stroke-linecap="round" stroke-linejoin="round"/>
<path d="M229,192 C230.8,192.5 237.5,191.7 240,195 C242.5,198.3 239.3,206.8 244,212 C248.7,217.2 264,223.7 268,226" fill="none" stroke="#e2232a" stroke-width="3" stroke-linecap="round" stroke-linejoin="round"/>
<path d="M62,252 C62.7,255 63,263.7 66,270 C69,276.3 74.7,287.7 80,290 C85.3,292.3 92.2,281.7 98,284 C103.8,286.3 109.2,301.2 115,304 C120.8,306.8 128.3,304.7 133,301 C137.7,297.3 140.2,286.5 143,282 C145.8,277.5 148.8,275.3 150,274" fill="none" stroke="#e2232a" stroke-width="3" stroke-linecap="round" stroke-linejoin="round"/>
<path d="M164,270 C165,267.5 169.3,259.2 170,255 C170.7,250.8 167,247.5 168,245 C169,242.5 174.7,240.8 176,240" fill="none" stroke="#e2232a" stroke-width="3" stroke-linecap="round" stroke-linejoin="round"/>
<path d="M230,250 C231.3,250.3 235.3,253 238,252 C240.7,251 244.7,245.3 246,244" fill="none" stroke="#e2232a" stroke-width="3" stroke-linecap="round" stroke-linejoin="round"/>
<path d="M178,388 181.3,386.1 184.4,383.3 187.1,379.9 189.3,376.1 190.9,372.2 191.8,368.4 192.2,365 192,362.3 191.3,360.5 190.3,359.7 189.1,359.9 187.8,361.2 171.4,358.3 172.6,357 173.8,356.8 174.9,357.6 175.5,359.4 175.7,362.1 175.4,365.5 174.4,369.3 172.8,373.2 170.6,377 168,380.4 164.9,383.2 161.5,385.1Z" fill="#979bc2" stroke="#6d708c" stroke-width="0.8"/>
<path d="M185.3,382 187.6,378.8 189.4,375.3 190.7,371.7 191.6,368.3 191.9,365.3 191.8,362.8 191.3,360.9 190.5,359.8 174.5,357 175.3,358.1 175.9,360 176,362.5 175.6,365.5 174.8,368.9 173.4,372.5 171.6,376 169.3,379.2Z" fill="#a8acd8"/>
<path d="M186.6,374.3 187.8,371 188.5,367.8 188.9,364.9 188.8,362.5 178.9,360.8 179,363.2 178.7,366.1 177.9,369.2 176.7,372.5Z" fill="#c2c5e4"/>
<path d="M204.6,392.7 208,390.8 211.1,388 213.8,384.6 215.9,380.8 217.5,376.8 218.5,373 218.8,369.7 218.6,367 218,365.2 217,364.3 215.8,364.6 214.5,365.9 198,363 199.3,361.7 200.5,361.5 201.5,362.3 202.2,364.1 202.4,366.8 202,370.2 201.1,374 199.5,377.9 197.3,381.7 194.6,385.1 191.5,387.9 188.2,389.8Z" fill="#979bc2" stroke="#6d708c" stroke-width="0.8"/>
<path d="M212,386.6 214.2,383.4 216.1,379.9 217.4,376.4 218.2,373 218.6,370 218.5,367.4 218,365.6 217.2,364.5 201.2,361.7 202,362.8 202.5,364.6 202.6,367.2 202.3,370.2 201.4,373.6 200.1,377.1 198.3,380.6 196,383.9Z" fill="#a8acd8"/>
<path d="M213.2,378.9 214.4,375.6 215.2,372.5 215.5,369.6 215.5,367.2 205.6,365.5 205.7,367.9 205.3,370.7 204.6,373.9 203.3,377.2Z" fill="#c2c5e4"/>
<path d="M231.3,397.3 234.7,395.4 237.7,392.7 240.4,389.2 242.6,385.4 244.2,381.5 245.2,377.7 245.5,374.4 245.3,371.7 244.6,369.8 243.6,369 242.4,369.2 241.2,370.5 224.7,367.7 226,366.4 227.2,366.1 228.2,366.9 228.9,368.8 229.1,371.5 228.7,374.8 227.7,378.6 226.2,382.6 224,386.4 221.3,389.8 218.2,392.5 214.8,394.5Z" fill="#979bc2" stroke="#6d708c" stroke-width="0.8"/>
<path d="M238.6,391.3 240.9,388.1 242.7,384.6 244.1,381.1 244.9,377.7 245.3,374.6 245.1,372.1 244.6,370.2 243.8,369.2 227.9,366.4 228.7,367.4 229.2,369.3 229.3,371.8 228.9,374.9 228.1,378.3 226.8,381.8 224.9,385.3 222.7,388.5Z" fill="#a8acd8"/>
<path d="M239.9,383.6 241.1,380.3 241.9,377.1 242.2,374.3 242.1,371.9 232.3,370.1 232.3,372.5 232,375.4 231.2,378.6 230,381.9Z" fill="#c2c5e4"/>
<path d="M220.7,329.9 222.8,326.1 224.4,322.1 225.3,318.1 225.7,314.6 225.5,311.6 224.8,309.5 223.8,308.4 222.5,308.3 221.3,309.3 220.1,311.4 219.2,314.3 218.7,317.9 202.2,315.8 202.7,312.2 203.6,309.2 204.7,307.2 206,306.2 207.2,306.2 208.2,307.4 208.9,309.5 209.1,312.4 208.7,316 207.8,319.9 206.2,323.9 204.1,327.7Z" fill="#979bc2" stroke="#6d708c" stroke-width="0.8"/>
<path d="M224.6,320.4 225.2,317 225.4,313.9 225.2,311.4 224.5,309.5 223.6,308.4 222.6,308.2 221.4,308.9 220.3,310.4 204.2,308.3 205.3,306.8 206.5,306.1 207.6,306.3 208.5,307.4 209.1,309.3 209.3,311.8 209.2,314.9 208.5,318.3Z" fill="#a8acd8"/>
<path d="M222.3,313.1 222.1,310.8 221.5,309.1 220.6,308.1 219.6,307.8 209.7,306.5 210.7,306.8 211.5,307.8 212.1,309.5 212.4,311.8Z" fill="#c2c5e4"/>
<path d="M246.3,333.2 248.5,329.4 250,325.4 251,321.5 251.3,317.9 251.1,315 250.4,312.9 249.4,311.7 248.2,311.7 246.9,312.7 245.8,314.7 244.9,317.6 244.4,321.3 227.8,319.1 228.3,315.5 229.2,312.6 230.4,310.5 231.6,309.5 232.9,309.6 233.9,310.7 234.6,312.8 234.8,315.8 234.4,319.3 233.5,323.2 231.9,327.2 229.8,331.1Z" fill="#979bc2" stroke="#6d708c" stroke-width="0.8"/>
<path d="M250.2,323.8 250.9,320.3 251.1,317.2 250.8,314.7 250.2,312.8 249.3,311.8 248.2,311.6 247.1,312.2 246,313.8 229.9,311.7 231,310.1 232.1,309.5 233.2,309.7 234.1,310.7 234.8,312.6 235,315.2 234.8,318.2 234.2,321.7Z" fill="#a8acd8"/>
<path d="M248,316.5 247.7,314.1 247.1,312.4 246.3,311.4 245.3,311.1 235.4,309.8 236.4,310.1 237.2,311.1 237.8,312.9 238.1,315.2Z" fill="#c2c5e4"/>
<path d="M272,336.5 274.1,332.7 275.7,328.7 276.6,324.8 277,321.2 276.8,318.3 276.1,316.2 275.1,315.1 273.9,315 272.6,316 271.5,318 270.6,321 270.1,324.6 253.5,322.5 254,318.8 254.9,315.9 256,313.9 257.3,312.8 258.5,312.9 259.6,314 260.2,316.2 260.4,319.1 260.1,322.7 259.1,326.6 257.6,330.6 255.4,334.4Z" fill="#979bc2" stroke="#6d708c" stroke-width="0.8"/>
<path d="M275.9,327.1 276.6,323.7 276.7,320.6 276.5,318 275.9,316.2 275,315.1 273.9,314.9 272.7,315.6 271.6,317.1 255.6,315 256.7,313.5 257.8,312.8 258.9,313 259.8,314.1 260.4,315.9 260.7,318.5 260.5,321.6 259.8,325Z" fill="#a8acd8"/>
<path d="M273.7,319.8 273.4,317.5 272.8,315.8 272,314.7 271,314.5 261,313.2 262,313.5 262.9,314.5 263.5,316.2 263.7,318.5Z" fill="#c2c5e4"/>
<path d="M160.6,350.1 163.5,348.5 166.2,346.3 168.5,343.9 170.4,341.3 171.8,338.7 172.7,336.4 173.1,334.6 173,333.4 172.6,332.8 171.9,333 171.1,334 170.2,335.8 156.1,330.6 156.9,328.8 157.8,327.8 158.5,327.6 158.9,328.2 159,329.4 158.6,331.2 157.7,333.5 156.3,336.1 154.4,338.7 152,341.1 149.4,343.3 146.5,344.9Z" fill="#979bc2" stroke="#6d708c" stroke-width="0.8"/>
<path d="M166.9,345.3 168.9,343 170.5,340.7 171.7,338.4 172.5,336.4 172.9,334.7 172.9,333.5 172.6,332.8 172,332.8 158.3,327.7 158.9,327.8 159.2,328.4 159.2,329.6 158.8,331.3 158,333.4 156.8,335.6 155.2,338 153.2,340.3Z" fill="#a8acd8"/>
<path d="M168,339.4 169.1,337.3 169.9,335.4 170.2,333.8 170.3,332.6 161.8,329.5 161.8,330.7 161.4,332.3 160.7,334.2 159.6,336.3Z" fill="#c2c5e4"/>
<path d="M185.9,359.4 188.8,357.8 191.5,355.7 193.8,353.2 195.7,350.6 197.1,348.1 198,345.8 198.4,343.9 198.4,342.7 197.9,342.1 197.2,342.4 196.4,343.4 195.5,345.1 181.4,339.9 182.3,338.2 183.1,337.2 183.8,336.9 184.3,337.5 184.3,338.7 183.9,340.6 183,342.9 181.6,345.4 179.7,348 177.4,350.5 174.7,352.6 171.8,354.2Z" fill="#979bc2" stroke="#6d708c" stroke-width="0.8"/>
<path d="M192.2,354.6 194.2,352.4 195.8,350 197,347.7 197.8,345.7 198.2,344 198.2,342.8 197.9,342.1 197.3,342.1 183.7,337.1 184.2,337.1 184.5,337.8 184.5,339 184.1,340.7 183.3,342.7 182.1,345 180.5,347.3 178.6,349.6Z" fill="#a8acd8"/>
<path d="M193.4,348.7 194.5,346.6 195.2,344.7 195.6,343.2 195.6,342 187.1,338.9 187.1,340 186.7,341.6 186,343.5 184.9,345.6Z" fill="#c2c5e4"/>
<path d="M269.4,397.4 273.6,399.7 278.3,400.8 283.2,400.7 288,399.5 292.4,397.1 296,393.8 298.7,389.8 300.3,385.5 300.7,381 299.7,376.8 297.6,373 294.5,370.1 292,366.6 295.1,369.5 297.2,373.2 298.1,377.5 297.8,381.9 296.2,386.3 293.5,390.3 289.9,393.5 285.5,395.9 280.7,397.2 275.8,397.3 271.1,396.2 266.9,393.9Z" fill="#979bc2" stroke="#6d708c" stroke-width="1"/>
<path d="M280.2,400.9 284.6,400.4 288.9,399 292.7,396.7 296,393.8 298.5,390.2 300.1,386.3 300.6,382.3 300.2,378.4 297.8,374.9 298.2,378.8 297.6,382.9 296,386.8 293.5,390.3 290.3,393.3 286.4,395.6 282.2,397 277.8,397.4Z" fill="#a8acd8"/>
<path d="M289,398.1 292.5,395.9 295.5,393.1 297.9,389.8 299.4,386.2 297.9,384 296.4,387.7 294,391 291,393.8 287.4,396Z" fill="#c2c5e4"/>
<path d="M272.3,401.4 276.5,403.7 281.1,404.8 286.1,404.7 290.9,403.5 295.2,401.1 298.9,397.8 301.6,393.8 303.2,389.5 303.5,385 302.6,380.8 300.5,377 297.4,374.1 294.9,370.6 298,373.5 300.1,377.2 301,381.5 300.6,385.9 299.1,390.3 296.4,394.3 292.7,397.5 288.3,399.9 283.5,401.2 278.6,401.3 273.9,400.2 269.8,397.9Z" fill="#979bc2" stroke="#6d708c" stroke-width="1"/>
<path d="M283.1,404.9 287.5,404.4 291.7,403 295.6,400.7 298.9,397.8 301.3,394.2 302.9,390.3 303.5,386.3 303.1,382.4 300.6,378.9 301,382.8 300.5,386.9 298.9,390.8 296.4,394.3 293.1,397.3 289.3,399.6 285,401 280.6,401.4Z" fill="#a8acd8"/>
<path d="M291.8,402.1 295.4,399.9 298.4,397.1 300.7,393.8 302.3,390.2 300.8,388 299.2,391.7 296.9,395 293.9,397.8 290.3,400Z" fill="#c2c5e4"/>
<path d="M275.1,405.4 279.3,407.7 284,408.8 288.9,408.7 293.7,407.5 298.1,405.1 301.8,401.8 304.5,397.8 306,393.5 306.4,389 305.5,384.8 303.4,381 300.2,378.1 297.7,374.6 300.8,377.5 302.9,381.2 303.8,385.5 303.5,389.9 301.9,394.3 299.2,398.3 295.6,401.5 291.2,403.9 286.4,405.2 281.5,405.3 276.8,404.2 272.6,401.9Z" fill="#979bc2" stroke="#6d708c" stroke-width="1"/>
<path d="M285.9,408.9 290.3,408.4 294.6,407 298.5,404.7 301.7,401.8 304.2,398.2 305.8,394.3 306.4,390.3 305.9,386.4 303.5,382.9 303.9,386.8 303.3,390.9 301.7,394.8 299.3,398.3 296,401.3 292.1,403.6 287.9,405 283.5,405.4Z" fill="#a8acd8"/>
<path d="M294.7,406.1 298.2,403.9 301.3,401.1 303.6,397.8 305.2,394.2 303.6,392 302.1,395.7 299.7,399 296.7,401.8 293.2,404Z" fill="#c2c5e4"/>
<path d="M278,409.4 282.2,411.7 286.9,412.8 291.8,412.7 296.6,411.5 301,409.1 304.6,405.8 307.3,401.8 308.9,397.5 309.2,393 308.3,388.8 306.2,385 303.1,382.1 300.6,378.6 303.7,381.5 305.8,385.2 306.7,389.5 306.4,393.9 304.8,398.3 302.1,402.3 298.4,405.5 294,407.9 289.2,409.2 284.3,409.3 279.6,408.2 275.5,405.9Z" fill="#979bc2" stroke="#6d708c" stroke-width="1"/>
<path d="M288.8,412.9 293.2,412.4 297.5,411 301.3,408.7 304.6,405.8 307.1,402.2 308.6,398.3 309.2,394.3 308.8,390.4 306.3,386.9 306.8,390.8 306.2,394.9 304.6,398.8 302.1,402.3 298.9,405.3 295,407.6 290.7,409 286.3,409.4Z" fill="#a8acd8"/>
<path d="M297.5,410.1 301.1,407.9 304.1,405.1 306.5,401.8 308,398.2 306.5,396 304.9,399.7 302.6,403 299.6,405.8 296,408Z" fill="#c2c5e4"/>
<path d="M307,326.4 309.8,323.1 312,319.8 313.5,316.6 314.4,314 314.5,311.9 314,310.8 313,310.6 311.6,311.4 310,313.2 308.5,315.9 307.1,319.4 306.1,323.5 291,316.3 292,312.2 293.4,308.7 294.9,306 296.5,304.2 297.9,303.4 298.9,303.6 299.4,304.8 299.3,306.8 298.5,309.5 296.9,312.6 294.7,315.9 291.9,319.2Z" fill="#979bc2" stroke="#6d708c" stroke-width="0.8"/>
<path d="M312.5,318.4 313.6,315.7 314.2,313.4 314.2,311.7 313.7,310.7 312.8,310.4 311.7,311 310.3,312.4 308.9,314.6 294.2,307.7 295.6,305.5 297,304.1 298.2,303.5 299.1,303.7 299.6,304.7 299.6,306.4 299,308.7 297.9,311.4Z" fill="#a8acd8"/>
<path d="M311.4,311.8 311.4,310.3 310.9,309.3 310.1,309.1 309,309.6 300,305.3 301.1,304.8 301.9,305 302.4,306 302.4,307.5Z" fill="#c2c5e4"/>
<path d="M335,339.7 337.8,336.5 340,333.1 341.5,330 342.4,327.3 342.5,325.3 342,324.1 341,323.9 339.6,324.7 338,326.5 336.5,329.3 335.1,332.7 334.1,336.8 319,329.6 320,325.6 321.4,322.1 322.9,319.4 324.5,317.5 325.9,316.7 326.9,316.9 327.4,318.1 327.3,320.1 326.5,322.8 324.9,325.9 322.7,329.3 319.9,332.5Z" fill="#979bc2" stroke="#6d708c" stroke-width="0.8"/>
<path d="M340.5,331.7 341.6,329 342.2,326.7 342.2,325 341.7,324 340.8,323.8 339.7,324.4 338.3,325.8 336.9,328 322.2,321 323.6,318.8 325,317.4 326.2,316.8 327.1,317 327.6,318.1 327.6,319.8 327,322 325.9,324.8Z" fill="#a8acd8"/>
<path d="M339.4,325.1 339.4,323.6 338.9,322.7 338.1,322.4 337,322.9 328,318.6 329.1,318.1 329.9,318.4 330.4,319.3 330.4,320.8Z" fill="#c2c5e4"/>
<path d="M325.8,382.7 329.7,381.5 333.6,379.4 337.1,376.8 340.2,373.8 342.7,370.6 344.4,367.6 345.5,364.9 345.7,362.8 345.3,361.5 344.3,361.1 342.8,361.7 341,363.3 326.6,354.7 328.4,353.1 329.9,352.6 330.9,353 331.4,354.3 331.1,356.3 330.1,359 328.3,362.1 325.8,365.2 322.8,368.2 319.2,370.9 315.4,372.9 311.4,374.1Z" fill="#979bc2" stroke="#6d708c" stroke-width="0.8"/>
<path d="M334.8,378.3 337.9,375.8 340.5,373 342.7,370.2 344.2,367.4 345.2,365 345.5,363.1 345.3,361.7 344.5,361 330.6,352.7 331.4,353.4 331.6,354.8 331.3,356.7 330.3,359.1 328.7,361.9 326.6,364.7 324,367.5 320.9,370Z" fill="#a8acd8"/>
<path d="M338.2,371.1 340.1,368.4 341.6,365.9 342.5,363.6 342.8,361.7 334.2,356.6 333.9,358.5 333,360.7 331.5,363.3 329.6,365.9Z" fill="#c2c5e4"/>
<path d="M350.6,397.5 354.5,396.3 358.4,394.2 361.9,391.6 365,388.6 367.5,385.4 369.2,382.4 370.3,379.7 370.5,377.6 370.1,376.3 369.1,375.9 367.6,376.5 365.8,378.1 351.4,369.5 353.2,367.9 354.7,367.4 355.7,367.8 356.2,369.1 355.9,371.1 354.9,373.8 353.1,376.9 350.6,380 347.6,383 344,385.7 340.2,387.7 336.2,388.9Z" fill="#979bc2" stroke="#6d708c" stroke-width="0.8"/>
<path d="M359.6,393.1 362.7,390.6 365.3,387.8 367.5,385 369,382.2 370,379.8 370.3,377.9 370.1,376.5 369.3,375.8 355.4,367.5 356.2,368.2 356.4,369.6 356.1,371.5 355.1,373.9 353.5,376.7 351.4,379.5 348.8,382.3 345.7,384.8Z" fill="#a8acd8"/>
<path d="M363,385.9 364.9,383.2 366.4,380.7 367.3,378.4 367.6,376.5 359,371.4 358.7,373.3 357.8,375.5 356.3,378.1 354.4,380.7Z" fill="#c2c5e4"/>
<path d="M375.4,412.3 379.3,411.1 383.2,409 386.7,406.4 389.8,403.4 392.3,400.2 394,397.2 395.1,394.5 395.3,392.4 394.9,391.1 393.9,390.7 392.4,391.3 390.6,392.9 376.2,384.3 378,382.7 379.5,382.2 380.5,382.6 381,383.9 380.7,385.9 379.7,388.6 377.9,391.7 375.4,394.8 372.4,397.8 368.8,400.5 365,402.5 361,403.7Z" fill="#979bc2" stroke="#6d708c" stroke-width="0.8"/>
<path d="M384.4,407.9 387.5,405.4 390.1,402.6 392.3,399.8 393.8,397 394.8,394.6 395.1,392.7 394.9,391.3 394.1,390.6 380.2,382.3 381,383 381.2,384.4 380.9,386.3 379.9,388.7 378.3,391.5 376.2,394.3 373.6,397.1 370.5,399.6Z" fill="#a8acd8"/>
<path d="M387.8,400.7 389.7,398 391.2,395.5 392.1,393.2 392.4,391.3 383.8,386.2 383.5,388.1 382.6,390.3 381.1,392.9 379.2,395.5Z" fill="#c2c5e4"/>
<path d="M342.3,351 340.8,355.2 340.2,359.5 340.6,363.8 341.9,367.7 344.3,371.1 347.4,373.8 351.3,375.7 355.5,376.7 360,376.9 364.4,376.3 368.5,374.9 372.1,373.1 364.5,361 360.9,362.9 356.8,364.2 352.4,364.8 347.9,364.6 343.6,363.6 339.8,361.7 336.6,359 334.3,355.6 332.9,351.7 332.6,347.5 333.2,343.1 334.7,338.9Z" fill="#979bc2" stroke="#6d708c" stroke-width="0.8"/>
<path d="M340.1,361.1 340.8,364.8 342.2,368.2 344.4,371.2 347.3,373.6 350.7,375.3 354.5,376.4 358.6,376.7 362.6,376.4 355.2,364.7 351.1,365 347.1,364.7 343.3,363.6 339.9,361.9 337,359.5 334.8,356.5 333.3,353.1 332.7,349.4Z" fill="#a8acd8"/>
<path d="M341,366.4 343.2,369.1 345.9,371.3 349.1,373 352.6,374.1 348,366.8 344.5,365.8 341.3,364.1 338.6,361.9 336.5,359.2Z" fill="#c2c5e4"/>
<path d="M357.5,375 356,379.2 355.4,383.5 355.8,387.8 357.1,391.7 359.5,395.1 362.6,397.8 366.5,399.7 370.7,400.7 375.2,400.9 379.6,400.3 383.7,398.9 387.3,397.1 379.7,385 376.1,386.9 372,388.2 367.6,388.8 363.1,388.6 358.8,387.6 355,385.7 351.8,383 349.5,379.6 348.1,375.7 347.8,371.5 348.4,367.1 349.9,362.9Z" fill="#979bc2" stroke="#6d708c" stroke-width="0.8"/>
<path d="M355.3,385.1 356,388.8 357.4,392.2 359.6,395.2 362.5,397.6 365.9,399.3 369.7,400.4 373.8,400.7 377.8,400.4 370.4,388.7 366.3,389 362.3,388.7 358.5,387.6 355.1,385.9 352.2,383.5 350,380.5 348.5,377.1 347.9,373.4Z" fill="#a8acd8"/>
<path d="M356.2,390.4 358.4,393.1 361.1,395.3 364.3,397 367.8,398.1 363.2,390.8 359.7,389.8 356.5,388.1 353.8,385.9 351.7,383.2Z" fill="#c2c5e4"/>
<path d="M373.7,344.7 377.1,345.5 380.9,345.4 385,344.4 388.9,342.8 392.6,340.5 395.9,337.9 398.4,335.1 400.3,332.4 401.3,330.1 401.4,328.2 400.7,327 399.3,326.7 387,315.3 388.4,315.7 389.1,316.9 389,318.7 388,321.1 386.2,323.8 383.6,326.6 380.4,329.2 376.7,331.4 372.7,333.1 368.7,334 364.8,334.1 361.4,333.3Z" fill="#979bc2" stroke="#6d708c" stroke-width="0.8"/>
<path d="M382.4,344.9 386,343.8 389.5,342.2 392.8,340.1 395.7,337.7 398,335.2 399.8,332.8 400.9,330.5 401.2,328.7 389.3,317.7 389,319.6 387.9,321.8 386.1,324.2 383.8,326.7 380.9,329.1 377.6,331.2 374.1,332.8 370.5,333.9Z" fill="#a8acd8"/>
<path d="M387.7,339.8 390.7,337.8 393.4,335.6 395.6,333.3 397.3,331 390,324.2 388.3,326.5 386,328.8 383.4,331.1 380.3,333Z" fill="#c2c5e4"/>
<path d="M391,360.7 394.5,361.5 398.3,361.4 402.3,360.4 406.3,358.8 410,356.5 413.2,353.9 415.8,351.1 417.6,348.4 418.6,346.1 418.7,344.2 418,343 416.6,342.7 404.3,331.3 405.7,331.7 406.4,332.9 406.3,334.7 405.3,337.1 403.5,339.8 400.9,342.6 397.7,345.2 394,347.4 390,349.1 386,350 382.2,350.1 378.7,349.3Z" fill="#979bc2" stroke="#6d708c" stroke-width="0.8"/>
<path d="M399.7,360.9 403.3,359.8 406.8,358.2 410.1,356.1 413,353.7 415.4,351.2 417.1,348.8 418.2,346.5 418.6,344.7 406.7,333.7 406.3,335.6 405.2,337.8 403.5,340.2 401.1,342.7 398.2,345.1 394.9,347.2 391.4,348.8 387.8,349.9Z" fill="#a8acd8"/>
<path d="M405,355.8 408.1,353.8 410.7,351.6 413,349.3 414.7,347 407.3,340.2 405.6,342.5 403.4,344.8 400.7,347.1 397.7,349Z" fill="#c2c5e4"/>
<path d="M409.6,322.1 412.3,320.3 414.6,318.2 416.6,315.9 418.2,313.6 419.3,311.5 419.9,309.7 420.1,308.5 419.9,307.9 419.4,308 418.8,308.7 418.1,310.2 417.4,312.3 403.4,306.9 404,304.8 404.7,303.3 405.4,302.6 405.9,302.5 406,303.1 405.9,304.3 405.2,306.1 404.1,308.2 402.6,310.5 400.6,312.8 398.2,314.9 395.6,316.7Z" fill="#979bc2" stroke="#6d708c" stroke-width="0.8"/>
<path d="M415.3,317.2 416.9,315.1 418.2,313.1 419.1,311.2 419.7,309.7 419.9,308.5 419.7,307.9 419.4,307.8 418.8,308.3 405.2,303 405.8,302.5 406.1,302.6 406.3,303.3 406.1,304.4 405.5,306 404.6,307.8 403.3,309.9 401.7,312Z" fill="#a8acd8"/>
<path d="M415.8,311.8 416.6,310.1 417.1,308.7 417.3,307.6 417.2,306.9 408.8,303.7 408.8,304.3 408.7,305.4 408.2,306.9 407.4,308.6Z" fill="#c2c5e4"/>
<path d="M298,359.8 301.2,360.9 304.7,361.3 308.2,361.3 311.6,360.7 314.7,359.9 317.3,358.8 319.4,357.7 320.8,356.6 321.4,355.8 321.3,355.4 320.6,355.5 319.3,356.2 311,343.7 312.3,343 313,342.9 313.1,343.3 312.4,344.1 311,345.1 309,346.3 306.3,347.3 303.2,348.2 299.8,348.7 296.3,348.8 292.9,348.4 289.7,347.3Z" fill="#979bc2" stroke="#6d708c" stroke-width="0.8"/>
<path d="M305.9,361.2 309.1,360.9 312.1,360.4 314.8,359.6 317.2,358.6 319.1,357.6 320.4,356.6 321.2,355.9 321.3,355.4 313.2,343.2 313.1,343.7 312.3,344.5 311,345.4 309.1,346.5 306.8,347.4 304,348.2 301,348.8 297.9,349Z" fill="#a8acd8"/>
<path d="M310.9,358 313.5,357.2 315.7,356.3 317.4,355.3 318.7,354.4 313.7,346.9 312.4,347.8 310.7,348.8 308.5,349.7 305.9,350.5Z" fill="#c2c5e4"/>
<path d="M350.3,233.4 353.2,231.2 355.8,228.6 357.9,225.7 359.5,222.7 360.6,219.9 361.2,217.6 361.3,215.8 361,214.7 360.4,214.5 359.5,215.1 358.6,216.6 357.8,218.8 343.4,214.6 344.2,212.4 345.1,210.9 345.9,210.3 346.5,210.5 346.9,211.6 346.8,213.4 346.2,215.7 345.1,218.5 343.5,221.5 341.3,224.4 338.8,227 335.9,229.2Z" fill="#ac6c6c" stroke="#664040" stroke-width="0.8"/>
<path d="M356.5,227.4 358.2,224.7 359.6,222.1 360.5,219.6 361,217.5 361.1,215.9 360.9,214.8 360.4,214.4 359.7,214.7 345.7,210.6 346.3,210.3 346.9,210.7 347.1,211.8 347,213.4 346.5,215.5 345.6,218 344.2,220.6 342.5,223.3Z" fill="#cd8080"/>
<path d="M357,220.9 357.9,218.7 358.3,216.7 358.4,215.2 358.2,214.1 349.6,211.6 349.8,212.7 349.7,214.2 349.2,216.2 348.4,218.4Z" fill="#dca6a6"/>
<path d="M377.8,241.4 380.7,239.2 383.3,236.6 385.4,233.7 387,230.7 388.1,227.9 388.7,225.6 388.8,223.8 388.5,222.7 387.9,222.5 387,223.1 386.1,224.6 385.3,226.8 370.9,222.6 371.7,220.4 372.6,218.9 373.4,218.3 374,218.5 374.4,219.6 374.3,221.4 373.7,223.7 372.6,226.5 371,229.5 368.8,232.4 366.3,235 363.4,237.2Z" fill="#ac6c6c" stroke="#664040" stroke-width="0.8"/>
<path d="M384,235.4 385.7,232.7 387.1,230.1 388,227.6 388.5,225.5 388.6,223.9 388.4,222.8 387.9,222.4 387.2,222.7 373.2,218.6 373.8,218.3 374.4,218.7 374.6,219.8 374.5,221.4 374,223.5 373.1,226 371.7,228.6 370,231.3Z" fill="#cd8080"/>
<path d="M384.5,228.9 385.4,226.7 385.8,224.7 385.9,223.2 385.7,222.1 377.1,219.6 377.3,220.7 377.2,222.2 376.7,224.2 375.9,226.4Z" fill="#dca6a6"/>
<path d="M348.2,165.4 351.4,165.3 354.7,164.5 357.9,163 360.9,160.9 363.5,158.5 365.7,155.8 367.4,153.2 368.5,150.8 369,148.9 369,147.6 368.5,147 367.6,147.2 354.1,140.6 355,140.4 355.5,141 355.5,142.3 355,144.3 353.9,146.6 352.2,149.2 350,151.9 347.4,154.4 344.4,156.4 341.1,158 337.9,158.8 334.7,158.8Z" fill="#ac6c6c" stroke="#664040" stroke-width="0.8"/>
<path d="M355.8,163.9 358.6,162.3 361.2,160.4 363.6,158.1 365.5,155.7 367.1,153.4 368.1,151.2 368.7,149.3 368.9,147.9 355.8,141.6 355.6,143 355,144.8 354,147 352.4,149.3 350.5,151.7 348.1,154 345.5,156 342.7,157.5Z" fill="#cd8080"/>
<path d="M359.1,158.9 361.2,156.7 363,154.5 364.5,152.3 365.5,150.2 357.4,146.3 356.4,148.4 354.9,150.6 353.1,152.8 351,154.9Z" fill="#dca6a6"/>
<path d="M372.9,177.4 376.1,177.3 379.3,176.5 382.5,175 385.5,172.9 388.2,170.5 390.4,167.8 392.1,165.2 393.2,162.8 393.7,160.9 393.7,159.6 393.2,159 392.3,159.2 378.8,152.6 379.7,152.4 380.2,153 380.2,154.3 379.7,156.3 378.6,158.6 376.9,161.2 374.7,163.9 372,166.4 369,168.4 365.8,170 362.5,170.8 359.4,170.8Z" fill="#ac6c6c" stroke="#664040" stroke-width="0.8"/>
<path d="M380.4,175.9 383.3,174.3 385.9,172.4 388.2,170.1 390.2,167.7 391.7,165.4 392.8,163.2 393.4,161.3 393.5,159.9 380.4,153.6 380.3,155 379.7,156.8 378.6,159 377.1,161.3 375.1,163.7 372.8,166 370.2,168 367.3,169.5Z" fill="#cd8080"/>
<path d="M383.7,170.9 385.9,168.7 387.7,166.5 389.2,164.3 390.2,162.2 382.1,158.3 381,160.4 379.6,162.6 377.8,164.8 375.6,166.9Z" fill="#dca6a6"/>
<path d="M296,237.1 299.7,236.1 303.1,234.6 306,232.9 308.3,231.1 309.8,229.3 310.5,227.8 310.4,226.7 309.5,226.2 307.8,226.2 305.7,227 303.2,228.5 300.6,230.6 291,216.9 293.6,214.8 296.1,213.3 298.3,212.6 299.9,212.5 300.8,213 300.9,214.1 300.3,215.6 298.7,217.4 296.4,219.2 293.5,220.9 290.1,222.4 286.4,223.4Z" fill="#cd8080" stroke="#945c5c" stroke-width="0.8"/>
<path d="M304.2,233.7 306.6,232.1 308.5,230.5 309.8,228.9 310.4,227.6 310.3,226.6 309.6,226 308.3,225.9 306.5,226.4 297.2,213.2 299,212.7 300.3,212.7 301,213.3 301.1,214.3 300.5,215.7 299.2,217.2 297.4,218.9 294.9,220.5Z" fill="#e48e8e"/>
<path d="M307,227.7 308.1,226.3 308.6,225.1 308.5,224.1 307.9,223.5 302.2,215.3 302.8,215.9 302.9,216.8 302.3,218.1 301.2,219.5Z" fill="#ecb0b0"/>
<path d="M310,257.1 313.7,256.1 317.1,254.6 320,252.9 322.3,251.1 323.8,249.3 324.5,247.8 324.4,246.7 323.5,246.2 321.8,246.2 319.7,247 317.2,248.5 314.6,250.6 305,236.9 307.6,234.8 310.1,233.3 312.3,232.6 313.9,232.5 314.8,233 314.9,234.1 314.3,235.6 312.7,237.4 310.4,239.2 307.5,240.9 304.1,242.4 300.4,243.4Z" fill="#cd8080" stroke="#945c5c" stroke-width="0.8"/>
<path d="M318.2,253.7 320.6,252.1 322.5,250.5 323.8,248.9 324.4,247.6 324.3,246.6 323.6,246 322.3,245.9 320.5,246.4 311.2,233.2 313,232.7 314.3,232.7 315,233.3 315.1,234.3 314.5,235.7 313.2,237.2 311.4,238.9 308.9,240.5Z" fill="#e48e8e"/>
<path d="M321,247.7 322.1,246.3 322.6,245.1 322.5,244.1 321.9,243.5 316.2,235.3 316.8,235.9 316.9,236.8 316.3,238.1 315.2,239.5Z" fill="#ecb0b0"/>
<path d="M313.9,170.7 314,174.2 314.8,177.8 316.1,181.2 317.8,184.3 319.7,187 321.7,189.1 323.4,190.6 324.9,191.3 325.8,191.4 326.1,190.8 325.8,189.7 324.7,188.2 336.1,176 337.2,177.5 337.6,178.6 337.2,179.2 336.3,179.2 334.9,178.4 333.1,177 331.1,174.8 329.2,172.2 327.5,169 326.2,165.6 325.4,162 325.3,158.5Z" fill="#cd8080" stroke="#945c5c" stroke-width="0.8"/>
<path d="M315.4,179 316.8,182 318.3,184.7 320.1,187.1 321.8,189 323.4,190.3 324.8,191.1 325.8,191.3 326.3,190.9 337.4,179.1 336.8,179.4 335.9,179.2 334.5,178.5 332.9,177.1 331.2,175.3 329.4,172.9 327.8,170.2 326.5,167.2Z" fill="#e48e8e"/>
<path d="M320.7,182.8 322.3,185 323.9,186.7 325.5,188 326.7,188.7 333.6,181.4 332.3,180.7 330.8,179.4 329.2,177.7 327.5,175.5Z" fill="#ecb0b0"/>
<path d="M293.9,192 294,195.5 294.8,199.1 296.1,202.5 297.8,205.7 299.7,208.4 301.7,210.5 303.4,211.9 304.9,212.7 305.8,212.7 306.1,212.2 305.8,211 304.7,209.5 316.1,197.3 317.2,198.9 317.6,200 317.2,200.5 316.3,200.5 314.9,199.7 313.1,198.3 311.1,196.2 309.2,193.5 307.5,190.3 306.2,186.9 305.4,183.3 305.3,179.8Z" fill="#cd8080" stroke="#945c5c" stroke-width="0.8"/>
<path d="M295.4,200.3 296.8,203.3 298.3,206.1 300.1,208.4 301.8,210.3 303.4,211.6 304.8,212.4 305.8,212.6 306.3,212.3 317.4,200.5 316.8,200.8 315.9,200.6 314.5,199.8 312.9,198.5 311.2,196.6 309.4,194.3 307.8,191.5 306.5,188.5Z" fill="#e48e8e"/>
<path d="M300.7,204.2 302.3,206.3 303.9,208 305.5,209.3 306.7,210.1 313.6,202.8 312.3,202 310.8,200.7 309.2,199 307.5,196.8Z" fill="#ecb0b0"/>
<path d="M337.1,123.2 339.4,120.2 341,116.6 341.8,112.7 341.9,108.7 341.1,104.8 339.7,101.3 337.8,98.4 335.5,96.3 333.1,95.1 330.7,94.9 328.6,95.7 326.9,97.5 314.5,102 316.2,100.3 318.3,99.5 320.7,99.7 323.1,100.8 325.4,102.9 327.3,105.8 328.7,109.3 329.4,113.2 329.4,117.3 328.6,121.2 327,124.8 324.7,127.7Z" fill="#cd8080" stroke="#945c5c" stroke-width="0.8"/>
<path d="M341.3,115.2 341.7,111.6 341.6,107.9 340.8,104.5 339.5,101.3 337.8,98.7 335.8,96.7 333.6,95.4 331.4,95 319.4,99.4 321.6,99.9 323.7,101.1 325.8,103.1 327.5,105.8 328.8,108.9 329.5,112.4 329.7,116 329.2,119.6Z" fill="#e48e8e"/>
<path d="M339.2,108.3 338.4,105.1 337.2,102.2 335.6,99.7 333.8,97.8 326.3,100.5 328.2,102.4 329.8,104.9 331,107.8 331.8,111Z" fill="#ecb0b0"/>
<path d="M352.3,117.6 354.6,114.6 356.2,111 357,107.1 357.1,103.1 356.3,99.2 354.9,95.7 353,92.8 350.7,90.7 348.3,89.5 345.9,89.3 343.8,90.1 342.1,91.9 329.7,96.4 331.4,94.7 333.5,93.9 335.9,94.1 338.3,95.2 340.6,97.3 342.5,100.2 343.9,103.7 344.6,107.6 344.6,111.7 343.8,115.6 342.2,119.2 339.9,122.1Z" fill="#cd8080" stroke="#945c5c" stroke-width="0.8"/>
<path d="M356.5,109.6 356.9,106 356.8,102.3 356,98.9 354.7,95.7 353,93.1 351,91.1 348.8,89.8 346.6,89.4 334.6,93.8 336.8,94.3 338.9,95.5 341,97.5 342.7,100.2 344,103.3 344.7,106.8 344.9,110.4 344.4,114Z" fill="#e48e8e"/>
<path d="M354.4,102.7 353.6,99.5 352.4,96.6 350.8,94.1 349,92.2 341.5,94.9 343.4,96.8 345,99.3 346.2,102.2 347,105.4Z" fill="#ecb0b0"/>
<path d="M367.5,112 369.8,109 371.4,105.4 372.2,101.5 372.3,97.5 371.5,93.6 370.1,90.1 368.2,87.2 365.9,85.1 363.5,83.9 361.1,83.7 359,84.5 357.3,86.3 344.9,90.8 346.6,89.1 348.7,88.3 351.1,88.5 353.5,89.6 355.8,91.7 357.7,94.6 359.1,98.1 359.8,102 359.8,106.1 359,110 357.4,113.6 355.1,116.5Z" fill="#cd8080" stroke="#945c5c" stroke-width="0.8"/>
<path d="M371.7,104 372.1,100.4 372,96.7 371.2,93.3 369.9,90.1 368.2,87.5 366.2,85.5 364,84.2 361.8,83.8 349.8,88.2 352,88.7 354.1,89.9 356.2,91.9 357.9,94.6 359.2,97.7 359.9,101.2 360.1,104.8 359.6,108.4Z" fill="#e48e8e"/>
<path d="M369.6,97.1 368.8,93.9 367.6,91 366,88.5 364.2,86.6 356.7,89.3 358.6,91.2 360.2,93.7 361.4,96.6 362.2,99.8Z" fill="#ecb0b0"/>
<path d="M373.4,151 375.9,153.6 379.1,155.5 382.8,156.5 386.8,156.7 390.7,155.9 394.4,154.4 397.6,152.2 400.1,149.6 401.8,146.6 402.6,143.6 402.5,140.8 401.4,138.4 398.2,134 399.3,136.4 399.5,139.3 398.7,142.2 397,145.2 394.4,147.9 391.2,150 387.5,151.6 383.6,152.3 379.7,152.1 376,151.1 372.8,149.2 370.2,146.6Z" fill="#cd8080" stroke="#945c5c" stroke-width="1.1"/>
<path d="M380.5,155.9 383.9,156.6 387.5,156.5 391,155.8 394.3,154.4 397.3,152.4 399.6,150.1 401.4,147.5 402.4,144.8 399.3,140.5 398.3,143.2 396.6,145.8 394.2,148.2 391.3,150.1 388,151.5 384.5,152.3 380.9,152.3 377.5,151.7Z" fill="#e48e8e"/>
<path d="M387.4,155.7 390.7,154.9 393.8,153.6 396.5,151.8 398.8,149.6 396.9,147 394.6,149.1 391.9,150.9 388.8,152.3 385.5,153Z" fill="#ecb0b0"/>
<path d="M380.6,161 383.1,163.6 386.3,165.5 390,166.5 394,166.7 397.9,165.9 401.6,164.4 404.8,162.2 407.3,159.6 409,156.6 409.8,153.6 409.7,150.8 408.6,148.4 405.4,144 406.5,146.4 406.7,149.3 405.9,152.2 404.2,155.2 401.6,157.9 398.4,160 394.7,161.6 390.8,162.3 386.9,162.1 383.2,161.1 380,159.2 377.4,156.6Z" fill="#cd8080" stroke="#945c5c" stroke-width="1.1"/>
<path d="M387.7,165.9 391.1,166.6 394.7,166.5 398.2,165.8 401.5,164.4 404.5,162.4 406.8,160.1 408.6,157.5 409.6,154.8 406.5,150.5 405.5,153.2 403.8,155.8 401.4,158.2 398.5,160.1 395.2,161.5 391.7,162.3 388.1,162.3 384.7,161.7Z" fill="#e48e8e"/>
<path d="M394.6,165.7 397.9,164.9 401,163.6 403.7,161.8 406,159.6 404.1,157 401.8,159.1 399.1,160.9 396,162.3 392.7,163Z" fill="#ecb0b0"/>
<path d="M387.8,171 390.3,173.6 393.5,175.5 397.2,176.5 401.2,176.7 405.1,175.9 408.8,174.4 412,172.2 414.5,169.6 416.2,166.6 417,163.6 416.9,160.8 415.8,158.4 412.6,154 413.7,156.4 413.9,159.3 413.1,162.2 411.4,165.2 408.8,167.9 405.6,170 401.9,171.6 398,172.3 394.1,172.1 390.4,171.1 387.2,169.2 384.6,166.6Z" fill="#cd8080" stroke="#945c5c" stroke-width="1.1"/>
<path d="M394.9,175.9 398.3,176.6 401.9,176.5 405.4,175.8 408.7,174.4 411.7,172.4 414,170.1 415.8,167.5 416.8,164.8 413.7,160.5 412.7,163.2 411,165.8 408.6,168.2 405.7,170.1 402.4,171.5 398.9,172.3 395.3,172.3 391.9,171.7Z" fill="#e48e8e"/>
<path d="M401.8,175.7 405.1,174.9 408.2,173.6 410.9,171.8 413.2,169.6 411.3,167 409,169.1 406.3,170.9 403.2,172.3 399.9,173Z" fill="#ecb0b0"/>
<path d="M395,181 397.5,183.6 400.7,185.5 404.4,186.5 408.4,186.7 412.3,185.9 416,184.4 419.2,182.2 421.7,179.6 423.4,176.6 424.2,173.6 424.1,170.8 423,168.4 419.8,164 420.9,166.4 421.1,169.3 420.3,172.2 418.6,175.2 416,177.9 412.8,180 409.1,181.6 405.2,182.3 401.3,182.1 397.6,181.1 394.4,179.2 391.8,176.6Z" fill="#cd8080" stroke="#945c5c" stroke-width="1.1"/>
<path d="M402.1,185.9 405.5,186.6 409.1,186.5 412.6,185.8 415.9,184.4 418.9,182.4 421.2,180.1 423,177.5 424,174.8 420.9,170.5 419.9,173.2 418.2,175.8 415.8,178.2 412.9,180.1 409.6,181.5 406.1,182.3 402.5,182.3 399.1,181.7Z" fill="#e48e8e"/>
<path d="M409,185.7 412.3,184.9 415.4,183.6 418.1,181.8 420.4,179.6 418.5,177 416.2,179.1 413.5,180.9 410.4,182.3 407.1,183Z" fill="#ecb0b0"/>
<path d="M402.2,191 404.7,193.6 407.9,195.5 411.6,196.5 415.6,196.7 419.5,195.9 423.2,194.4 426.4,192.2 428.9,189.6 430.6,186.6 431.4,183.6 431.3,180.8 430.2,178.4 427,174 428.1,176.4 428.3,179.3 427.5,182.2 425.8,185.2 423.2,187.9 420,190 416.3,191.6 412.4,192.3 408.5,192.1 404.8,191.1 401.6,189.2 399,186.6Z" fill="#cd8080" stroke="#945c5c" stroke-width="1.1"/>
<path d="M409.3,195.9 412.7,196.6 416.3,196.5 419.8,195.8 423.1,194.4 426.1,192.4 428.4,190.1 430.2,187.5 431.2,184.8 428.1,180.5 427.1,183.2 425.4,185.8 423,188.2 420.1,190.1 416.8,191.5 413.3,192.3 409.7,192.3 406.3,191.7Z" fill="#e48e8e"/>
<path d="M416.2,195.7 419.5,194.9 422.6,193.6 425.3,191.8 427.6,189.6 425.7,187 423.4,189.1 420.7,190.9 417.6,192.3 414.3,193Z" fill="#ecb0b0"/>
<path d="M289.1,126.4 291.4,129.1 294.6,131.3 298.4,132.9 302.6,133.9 307,134.1 311.3,133.8 315.2,133 318.4,131.8 320.9,130.4 322.3,129 322.8,127.7 322.1,126.7 317.1,110.8 317.7,111.8 317.3,113.1 315.8,114.5 313.4,115.9 310.1,117.1 306.2,117.9 301.9,118.2 297.5,117.9 293.3,117 289.5,115.4 286.4,113.2 284.1,110.5Z" fill="#cd8080" stroke="#945c5c" stroke-width="0.8"/>
<path d="M296,131.8 299.5,133 303.4,133.7 307.4,133.9 311.2,133.6 314.7,132.9 317.8,131.8 320.2,130.6 321.8,129.3 316.9,113.9 315.2,115.2 312.8,116.4 309.8,117.4 306.3,118.1 302.5,118.4 298.5,118.3 294.6,117.6 291,116.4Z" fill="#e48e8e"/>
<path d="M303,130.8 306.7,130.9 310.3,130.6 313.6,130 316.5,129.1 313.4,119.5 310.5,120.4 307.2,121.1 303.7,121.4 300,121.3Z" fill="#ecb0b0"/>
<path d="M297.5,152.8 299.8,155.5 303,157.7 306.8,159.3 311,160.3 315.4,160.5 319.7,160.2 323.6,159.4 326.8,158.2 329.3,156.8 330.7,155.4 331.2,154.1 330.5,153.1 325.5,137.2 326.1,138.2 325.7,139.5 324.2,140.9 321.8,142.3 318.5,143.5 314.6,144.3 310.3,144.6 305.9,144.3 301.7,143.4 297.9,141.8 294.8,139.6 292.5,136.9Z" fill="#cd8080" stroke="#945c5c" stroke-width="0.8"/>
<path d="M304.4,158.2 307.9,159.4 311.8,160.1 315.8,160.3 319.6,160 323.1,159.3 326.2,158.2 328.6,157 330.2,155.7 325.3,140.3 323.6,141.6 321.2,142.8 318.2,143.8 314.7,144.5 310.9,144.8 306.9,144.7 303,144 299.4,142.8Z" fill="#e48e8e"/>
<path d="M311.4,157.2 315.1,157.3 318.7,157 322,156.4 324.9,155.5 321.8,145.9 318.9,146.8 315.6,147.5 312.1,147.8 308.4,147.7Z" fill="#ecb0b0"/>
<path d="M305.9,179.2 308.2,181.9 311.4,184.1 315.2,185.7 319.4,186.7 323.8,186.9 328.1,186.6 332,185.8 335.2,184.6 337.7,183.2 339.1,181.8 339.6,180.5 338.9,179.5 333.9,163.6 334.5,164.6 334.1,165.9 332.6,167.3 330.2,168.7 326.9,169.9 323,170.7 318.7,171 314.3,170.7 310.1,169.8 306.3,168.2 303.2,166 300.9,163.3Z" fill="#cd8080" stroke="#945c5c" stroke-width="0.8"/>
<path d="M312.8,184.6 316.3,185.8 320.2,186.5 324.2,186.7 328,186.4 331.5,185.7 334.6,184.6 337,183.4 338.6,182.1 333.7,166.7 332,168 329.6,169.2 326.6,170.2 323.1,170.9 319.3,171.2 315.3,171.1 311.4,170.4 307.8,169.2Z" fill="#e48e8e"/>
<path d="M319.8,183.6 323.5,183.7 327.1,183.4 330.4,182.8 333.3,181.9 330.2,172.3 327.3,173.2 324,173.9 320.5,174.2 316.8,174.1Z" fill="#ecb0b0"/>
<path d="M289.8,199.4 292,202.2 294.6,204.3 297.4,205.6 300.5,206 303.5,205.3 306.4,203.8 309.1,201.5 311.4,198.6 313.3,195.2 314.7,191.7 315.5,188.2 315.9,185 299.2,183.6 298.9,186.8 298,190.3 296.7,193.9 294.8,197.2 292.5,200.2 289.8,202.5 286.8,204 283.8,204.6 280.8,204.3 277.9,203 275.3,200.9 273.1,198Z" fill="#cd8080" stroke="#945c5c" stroke-width="0.8"/>
<path d="M295.4,204.9 298.1,205.8 300.8,205.9 303.5,205.2 306.2,203.8 308.6,201.8 310.8,199.2 312.6,196.2 314,193.1 297.8,191.8 296.4,194.9 294.6,197.9 292.5,200.4 290,202.5 287.4,203.9 284.7,204.6 281.9,204.5 279.3,203.6Z" fill="#e48e8e"/>
<path d="M298.1,205.6 300.6,204.9 303.1,203.6 305.4,201.7 307.4,199.3 297.4,198.5 295.4,200.9 293.1,202.7 290.7,204.1 288.1,204.8Z" fill="#ecb0b0"/>
<path d="M347.2,211.3 349.1,207.3 350.3,203.2 351,199 351.1,195.3 350.7,192.1 349.9,189.7 348.9,188.3 347.7,188 346.5,188.8 345.6,190.6 344.9,193.3 344.7,196.7 328,196.7 328.2,193.3 328.9,190.6 329.8,188.8 331,188 332.2,188.3 333.2,189.7 334,192.1 334.4,195.3 334.3,199 333.6,203.2 332.4,207.3 330.5,211.3Z" fill="#cd8080" stroke="#945c5c" stroke-width="0.8"/>
<path d="M350.4,201.5 350.9,197.9 350.8,194.6 350.4,191.8 349.7,189.7 348.7,188.4 347.7,188 346.6,188.4 345.7,189.7 329.5,189.7 330.4,188.4 331.5,188 332.5,188.4 333.5,189.7 334.2,191.8 334.6,194.6 334.7,197.9 334.2,201.5Z" fill="#e48e8e"/>
<path d="M347.7,194.2 347.3,191.7 346.6,189.7 345.7,188.5 344.7,188 334.7,188 335.7,188.5 336.6,189.7 337.3,191.7 337.7,194.2Z" fill="#ecb0b0"/>
<path d="M373.6,211.3 375.5,207.3 376.7,203.2 377.4,199 377.5,195.3 377.1,192.1 376.3,189.7 375.3,188.3 374.1,188 372.9,188.8 372,190.6 371.3,193.3 371.1,196.7 354.4,196.7 354.6,193.3 355.3,190.6 356.2,188.8 357.4,188 358.6,188.3 359.6,189.7 360.4,192.1 360.8,195.3 360.7,199 360,203.2 358.8,207.3 356.9,211.3Z" fill="#cd8080" stroke="#945c5c" stroke-width="0.8"/>
<path d="M376.8,201.5 377.3,197.9 377.2,194.6 376.8,191.8 376.1,189.7 375.1,188.4 374.1,188 373,188.4 372.1,189.7 355.9,189.7 356.8,188.4 357.9,188 358.9,188.4 359.9,189.7 360.6,191.8 361,194.6 361.1,197.9 360.6,201.5Z" fill="#e48e8e"/>
<path d="M374.1,194.2 373.7,191.7 373,189.7 372.1,188.5 371.1,188 361.1,188 362.1,188.5 363,189.7 363.7,191.7 364.1,194.2Z" fill="#ecb0b0"/>
<path d="M400,211.3 401.9,207.3 403.1,203.2 403.8,199 403.9,195.3 403.5,192.1 402.7,189.7 401.7,188.3 400.5,188 399.3,188.8 398.4,190.6 397.7,193.3 397.5,196.7 380.8,196.7 381,193.3 381.7,190.6 382.6,188.8 383.8,188 385,188.3 386,189.7 386.8,192.1 387.2,195.3 387.1,199 386.4,203.2 385.2,207.3 383.3,211.3Z" fill="#cd8080" stroke="#945c5c" stroke-width="0.8"/>
<path d="M403.2,201.5 403.7,197.9 403.6,194.6 403.2,191.8 402.5,189.7 401.5,188.4 400.5,188 399.4,188.4 398.5,189.7 382.3,189.7 383.2,188.4 384.3,188 385.3,188.4 386.3,189.7 387,191.8 387.4,194.6 387.5,197.9 387,201.5Z" fill="#e48e8e"/>
<path d="M400.5,194.2 400.1,191.7 399.4,189.7 398.5,188.5 397.5,188 387.5,188 388.5,188.5 389.4,189.7 390.1,191.7 390.5,194.2Z" fill="#ecb0b0"/>
<path d="M426.4,211.3 428.3,207.3 429.5,203.2 430.2,199 430.3,195.3 429.9,192.1 429.1,189.7 428.1,188.3 426.9,188 425.7,188.8 424.8,190.6 424.1,193.3 423.9,196.7 407.2,196.7 407.4,193.3 408.1,190.6 409,188.8 410.2,188 411.4,188.3 412.4,189.7 413.2,192.1 413.6,195.3 413.5,199 412.8,203.2 411.6,207.3 409.7,211.3Z" fill="#cd8080" stroke="#945c5c" stroke-width="0.8"/>
<path d="M429.6,201.5 430.1,197.9 430,194.6 429.6,191.8 428.9,189.7 427.9,188.4 426.9,188 425.8,188.4 424.9,189.7 408.7,189.7 409.6,188.4 410.7,188 411.7,188.4 412.7,189.7 413.4,191.8 413.8,194.6 413.9,197.9 413.4,201.5Z" fill="#e48e8e"/>
<path d="M426.9,194.2 426.5,191.7 425.8,189.7 424.9,188.5 423.9,188 413.9,188 414.9,188.5 415.8,189.7 416.5,191.7 416.9,194.2Z" fill="#ecb0b0"/>
<path d="M452.8,211.3 454.7,207.3 455.9,203.2 456.6,199 456.7,195.3 456.3,192.1 455.5,189.7 454.5,188.3 453.3,188 452.1,188.8 451.2,190.6 450.5,193.3 450.3,196.7 433.6,196.7 433.8,193.3 434.5,190.6 435.4,188.8 436.6,188 437.8,188.3 438.8,189.7 439.6,192.1 440,195.3 439.9,199 439.2,203.2 438,207.3 436.1,211.3Z" fill="#cd8080" stroke="#945c5c" stroke-width="0.8"/>
<path d="M456,201.5 456.5,197.9 456.4,194.6 456,191.8 455.3,189.7 454.3,188.4 453.3,188 452.2,188.4 451.3,189.7 435.1,189.7 436,188.4 437.1,188 438.1,188.4 439.1,189.7 439.8,191.8 440.2,194.6 440.3,197.9 439.8,201.5Z" fill="#e48e8e"/>
<path d="M453.3,194.2 452.9,191.7 452.2,189.7 451.3,188.5 450.3,188 440.3,188 441.3,188.5 442.2,189.7 442.9,191.7 443.3,194.2Z" fill="#ecb0b0"/>
<path d="M306.5,232.5 310.3,233.4 314.5,233.5 318.8,232.9 323,231.6 326.9,229.8 330.2,227.7 332.7,225.5 334.4,223.4 335.2,221.6 335.1,220.4 334,219.8 332.3,219.9 322.1,206.7 323.9,206.5 324.9,207.1 325,208.4 324.3,210.2 322.6,212.2 320,214.4 316.7,216.5 312.8,218.3 308.6,219.6 304.3,220.3 300.1,220.2 296.3,219.3Z" fill="#cd8080" stroke="#945c5c" stroke-width="0.8"/>
<path d="M316.1,233.1 319.9,232.3 323.7,231 327.1,229.4 330,227.5 332.4,225.5 334,223.6 334.9,221.9 335.1,220.6 325.2,207.8 325.1,209.1 324.2,210.7 322.5,212.7 320.2,214.6 317.2,216.5 313.8,218.2 310.1,219.5 306.2,220.3Z" fill="#e48e8e"/>
<path d="M322.3,228.4 325.4,226.8 328.1,225 330.4,223.2 332,221.4 325.9,213.4 324.2,215.2 322,217.1 319.3,218.9 316.2,220.4Z" fill="#ecb0b0"/>
<path d="M323.7,254.9 327.5,255.8 331.7,255.9 336,255.3 340.2,254 344.1,252.2 347.4,250.1 349.9,247.9 351.6,245.8 352.4,244 352.3,242.8 351.2,242.2 349.5,242.3 339.3,229.1 341.1,228.9 342.1,229.5 342.2,230.8 341.5,232.6 339.8,234.6 337.2,236.8 333.9,238.9 330,240.7 325.8,242 321.5,242.7 317.3,242.6 313.5,241.7Z" fill="#cd8080" stroke="#945c5c" stroke-width="0.8"/>
<path d="M333.3,255.5 337.1,254.7 340.9,253.4 344.3,251.8 347.2,249.9 349.6,247.9 351.2,246 352.1,244.3 352.3,243 342.4,230.2 342.3,231.5 341.4,233.1 339.7,235.1 337.4,237 334.4,238.9 331,240.6 327.3,241.9 323.4,242.7Z" fill="#e48e8e"/>
<path d="M339.5,250.8 342.6,249.2 345.3,247.4 347.6,245.6 349.2,243.8 343.1,235.8 341.4,237.6 339.2,239.5 336.5,241.3 333.4,242.8Z" fill="#ecb0b0"/>
<path d="M340.9,277.3 344.7,278.2 348.9,278.3 353.2,277.7 357.4,276.4 361.3,274.6 364.6,272.5 367.1,270.3 368.8,268.2 369.6,266.4 369.5,265.2 368.4,264.6 366.7,264.7 356.5,251.5 358.3,251.3 359.3,251.9 359.4,253.2 358.7,255 357,257 354.4,259.2 351.1,261.3 347.2,263.1 343,264.4 338.7,265.1 334.5,265 330.7,264.1Z" fill="#cd8080" stroke="#945c5c" stroke-width="0.8"/>
<path d="M350.5,277.9 354.3,277.1 358.1,275.8 361.5,274.2 364.4,272.3 366.8,270.3 368.4,268.4 369.3,266.7 369.5,265.4 359.6,252.6 359.5,253.9 358.6,255.5 356.9,257.5 354.6,259.4 351.6,261.3 348.2,263 344.5,264.3 340.6,265.1Z" fill="#e48e8e"/>
<path d="M356.7,273.2 359.8,271.6 362.5,269.8 364.8,268 366.4,266.2 360.3,258.2 358.6,260 356.4,261.9 353.7,263.7 350.6,265.2Z" fill="#ecb0b0"/>
<path d="M379,254.7 377.5,258.8 376.6,263 376.5,267 377.3,270.7 378.9,273.8 381.3,276.2 384.5,277.8 388.2,278.5 392.2,278.3 396.4,277.3 400.4,275.6 404.2,273.4 392.2,261.8 388.5,264 384.4,265.7 380.3,266.7 376.2,266.8 372.5,266.1 369.4,264.6 366.9,262.2 365.3,259.1 364.5,255.4 364.6,251.3 365.5,247.2 367.1,243.1Z" fill="#cd8080" stroke="#945c5c" stroke-width="0.8"/>
<path d="M376.3,264.5 376.4,268 377.3,271.2 378.9,273.9 381.2,276.1 384,277.5 387.2,278.3 390.8,278.3 394.5,277.6 382.9,266.3 379.2,267 375.6,266.9 372.4,266.2 369.6,264.8 367.3,262.6 365.7,259.9 364.8,256.7 364.6,253.2Z" fill="#e48e8e"/>
<path d="M375.3,269.5 376.8,271.9 379,273.9 381.6,275.3 384.6,276 377.4,269 374.4,268.3 371.8,266.9 369.7,264.9 368.1,262.5Z" fill="#ecb0b0"/>
<path d="M398.5,273.7 397,277.8 396.1,282 396,286 396.8,289.7 398.4,292.8 400.8,295.2 404,296.8 407.7,297.5 411.7,297.3 415.9,296.3 419.9,294.6 423.7,292.4 411.7,280.8 408,283 403.9,284.7 399.8,285.7 395.7,285.8 392,285.1 388.9,283.6 386.4,281.2 384.8,278.1 384,274.4 384.1,270.3 385,266.2 386.6,262.1Z" fill="#cd8080" stroke="#945c5c" stroke-width="0.8"/>
<path d="M395.8,283.5 395.9,287 396.8,290.2 398.4,292.9 400.7,295.1 403.5,296.5 406.7,297.3 410.3,297.3 414,296.6 402.4,285.3 398.7,286 395.1,285.9 391.9,285.2 389.1,283.8 386.8,281.6 385.2,278.9 384.3,275.7 384.1,272.2Z" fill="#e48e8e"/>
<path d="M394.8,288.5 396.3,290.9 398.5,292.9 401.1,294.3 404.1,295 396.9,288 393.9,287.3 391.3,285.9 389.2,283.9 387.6,281.5Z" fill="#ecb0b0"/>
<path d="M348.7,252.9 351.9,254 355.5,254.4 359.3,254.1 363,253.2 366.6,251.8 369.7,250.1 372.3,248.3 374.1,246.4 375.1,244.8 375.3,243.6 374.8,242.9 373.5,242.8 363.3,229.5 364.6,229.6 365.2,230.3 365,231.6 363.9,233.2 362.1,235 359.6,236.9 356.4,238.6 352.9,240 349.1,240.8 345.3,241.1 341.7,240.7 338.5,239.6Z" fill="#b47070" stroke="#6b4242" stroke-width="0.8"/>
<path d="M356.8,254.1 360.3,253.7 363.6,252.8 366.8,251.5 369.6,249.9 371.9,248.2 373.7,246.6 374.8,245.1 375.2,243.8 365.3,231 364.9,232.2 363.8,233.7 362,235.4 359.7,237.1 356.9,238.6 353.8,239.9 350.4,240.8 347,241.3Z" fill="#d68585"/>
<path d="M362.2,250.2 365.1,248.9 367.7,247.5 369.9,245.9 371.6,244.3 365.5,236.4 363.8,238 361.6,239.5 359,241 356.1,242.2Z" fill="#e2aaaa"/>
<path d="M364.7,273.7 367.9,274.8 371.5,275.2 375.3,274.9 379,274 382.6,272.6 385.7,270.9 388.3,269.1 390.1,267.2 391.1,265.6 391.3,264.4 390.8,263.7 389.5,263.6 379.3,250.3 380.6,250.4 381.2,251.1 381,252.4 379.9,254 378.1,255.8 375.6,257.7 372.4,259.4 368.9,260.8 365.1,261.6 361.3,261.9 357.7,261.5 354.5,260.4Z" fill="#b47070" stroke="#6b4242" stroke-width="0.8"/>
<path d="M372.8,274.9 376.3,274.5 379.6,273.6 382.8,272.3 385.6,270.7 387.9,269 389.7,267.4 390.8,265.9 391.2,264.6 381.3,251.8 380.9,253 379.8,254.5 378,256.2 375.7,257.9 372.9,259.4 369.8,260.7 366.4,261.6 363,262.1Z" fill="#d68585"/>
<path d="M378.2,271 381.1,269.7 383.7,268.3 385.9,266.7 387.6,265.1 381.5,257.2 379.8,258.8 377.6,260.3 375,261.8 372.1,263Z" fill="#e2aaaa"/>
<path d="M380.7,294.5 383.9,295.6 387.5,296 391.3,295.7 395,294.8 398.6,293.4 401.7,291.7 404.3,289.9 406.1,288 407.1,286.4 407.3,285.2 406.8,284.5 405.5,284.4 395.3,271.1 396.6,271.2 397.2,271.9 397,273.2 395.9,274.8 394.1,276.6 391.6,278.5 388.4,280.2 384.9,281.6 381.1,282.4 377.3,282.7 373.7,282.3 370.5,281.2Z" fill="#b47070" stroke="#6b4242" stroke-width="0.8"/>
<path d="M388.8,295.7 392.3,295.3 395.6,294.4 398.8,293.1 401.6,291.5 403.9,289.8 405.7,288.2 406.8,286.7 407.2,285.4 397.3,272.6 396.9,273.8 395.8,275.3 394,277 391.7,278.7 388.9,280.2 385.8,281.5 382.4,282.4 379,282.9Z" fill="#d68585"/>
<path d="M394.2,291.8 397.1,290.5 399.7,289.1 401.9,287.5 403.6,285.9 397.5,278 395.8,279.6 393.6,281.1 391,282.6 388.1,283.8Z" fill="#e2aaaa"/>
<path d="M342.3,276.2 345.6,274.9 348.7,273 351.4,270.9 353.7,268.6 355.3,266.3 356.3,264.3 356.7,262.8 356.4,261.8 355.6,261.6 354.3,262.1 352.8,263.3 351.1,265.3 337.7,255.3 339.4,253.3 341,252 342.2,251.5 343,251.8 343.3,252.8 343,254.3 342,256.3 340.3,258.5 338.1,260.8 335.3,263 332.2,264.9 328.9,266.2Z" fill="#cd8080" stroke="#945c5c" stroke-width="0.8"/>
<path d="M349.6,272 352,270 353.9,267.9 355.3,265.9 356.1,264.2 356.5,262.8 356.3,261.8 355.7,261.4 354.7,261.6 341.7,251.9 342.7,251.7 343.3,252.1 343.5,253 343.2,254.5 342.3,256.2 340.9,258.2 339,260.3 336.7,262.3Z" fill="#e48e8e"/>
<path d="M351.6,265.8 352.9,264 353.7,262.3 354,261 353.9,260.1 345.9,254 346,255 345.6,256.3 344.8,258 343.6,259.8Z" fill="#ecb0b0"/>
<path d="M362.3,291.2 365.6,289.9 368.7,288 371.4,285.9 373.7,283.6 375.3,281.3 376.3,279.3 376.7,277.8 376.4,276.8 375.6,276.6 374.3,277.1 372.8,278.3 371.1,280.3 357.7,270.3 359.4,268.3 361,267 362.2,266.5 363,266.8 363.3,267.8 363,269.3 362,271.3 360.3,273.5 358.1,275.8 355.3,278 352.2,279.9 348.9,281.2Z" fill="#cd8080" stroke="#945c5c" stroke-width="0.8"/>
<path d="M369.6,287 372,285 373.9,282.9 375.3,280.9 376.1,279.2 376.5,277.8 376.3,276.8 375.7,276.4 374.7,276.6 361.7,266.9 362.7,266.7 363.3,267.1 363.5,268 363.2,269.5 362.3,271.2 360.9,273.2 359,275.3 356.7,277.3Z" fill="#e48e8e"/>
<path d="M371.6,280.8 372.9,279 373.7,277.3 374,276 373.9,275.1 365.9,269 366,270 365.6,271.3 364.8,273 363.6,274.8Z" fill="#ecb0b0"/>
<path d="M142.5,113.8 145.4,115.6 148.8,117 152.3,117.8 155.8,118.2 159.1,118.1 161.9,117.7 164.1,117 165.5,116.1 166.1,115.3 165.8,114.6 164.7,114.1 162.8,114 160,99.2 161.9,99.3 163,99.8 163.3,100.5 162.7,101.4 161.3,102.2 159.1,102.9 156.3,103.4 153,103.4 149.5,103.1 145.9,102.2 142.6,100.9 139.7,99Z" fill="#a71a1f" stroke="#641012" stroke-width="0.8"/>
<path d="M150.1,117.2 153.3,117.8 156.5,118 159.4,117.9 161.9,117.4 163.9,116.8 165.3,116.1 166,115.3 166,114.6 163.3,100.3 163.3,101 162.5,101.8 161.1,102.5 159.1,103.1 156.6,103.5 153.7,103.7 150.6,103.5 147.4,102.8Z" fill="#c71f25"/>
<path d="M156.3,115.3 159,115.1 161.4,114.7 163.3,114.1 164.6,113.5 162.9,104.6 161.5,105.3 159.7,105.9 157.3,106.3 154.6,106.4Z" fill="#d86266"/>
<path d="M147.5,139.8 150.4,141.6 153.8,143 157.3,143.8 160.8,144.2 164.1,144.1 166.9,143.7 169.1,143 170.5,142.1 171.1,141.3 170.8,140.6 169.7,140.1 167.8,140 165,125.2 166.9,125.3 168,125.8 168.3,126.5 167.7,127.4 166.3,128.2 164.1,128.9 161.3,129.4 158,129.4 154.5,129.1 150.9,128.2 147.6,126.9 144.7,125Z" fill="#a71a1f" stroke="#641012" stroke-width="0.8"/>
<path d="M155.1,143.2 158.3,143.8 161.5,144 164.4,143.9 166.9,143.4 168.9,142.8 170.3,142.1 171,141.3 171,140.6 168.3,126.3 168.3,127 167.5,127.8 166.1,128.5 164.1,129.1 161.6,129.5 158.7,129.7 155.6,129.5 152.4,128.8Z" fill="#c71f25"/>
<path d="M161.3,141.3 164,141.1 166.4,140.7 168.3,140.1 169.6,139.5 167.9,130.6 166.5,131.3 164.7,131.9 162.3,132.3 159.6,132.4Z" fill="#d86266"/>
<path d="M175.7,76.3 179.3,74.8 182.6,73 185.3,71 187.4,68.9 188.7,67.1 189.2,65.5 189,64.5 188.1,64.1 186.5,64.4 184.5,65.5 182.2,67.2 179.9,69.7 168.8,57.2 171.1,54.8 173.4,53 175.4,52 176.9,51.6 177.9,52 178.1,53.1 177.6,54.6 176.2,56.5 174.2,58.6 171.4,60.6 168.2,62.4 164.6,63.8Z" fill="#be1d23" stroke="#711215" stroke-width="0.8"/>
<path d="M183.6,72 185.8,70.2 187.5,68.4 188.6,66.7 189.1,65.3 188.9,64.4 188.1,63.9 186.9,64 185.2,64.8 174.4,52.7 176,52 177.3,51.8 178.1,52.3 178.3,53.3 177.8,54.6 176.7,56.3 175,58.1 172.8,60Z" fill="#e2232a"/>
<path d="M185.7,65.8 186.6,64.3 187,63 186.9,62.1 186.2,61.6 179.5,54.2 180.2,54.6 180.3,55.6 179.9,56.8 179,58.4Z" fill="#eb656a"/>
<path d="M192.7,95.3 196.3,93.8 199.6,92 202.3,90 204.4,87.9 205.7,86.1 206.2,84.5 206,83.5 205.1,83.1 203.5,83.4 201.5,84.5 199.2,86.2 196.9,88.7 185.8,76.2 188.1,73.8 190.4,72 192.4,71 193.9,70.6 194.9,71 195.1,72.1 194.6,73.6 193.2,75.5 191.2,77.6 188.4,79.6 185.2,81.4 181.6,82.8Z" fill="#be1d23" stroke="#711215" stroke-width="0.8"/>
<path d="M200.6,91 202.8,89.2 204.5,87.4 205.6,85.7 206.1,84.3 205.9,83.4 205.1,82.9 203.9,83 202.2,83.8 191.4,71.7 193,71 194.3,70.8 195.1,71.3 195.3,72.3 194.8,73.6 193.7,75.3 192,77.1 189.8,79Z" fill="#e2232a"/>
<path d="M202.7,84.8 203.6,83.3 204,82 203.9,81.1 203.2,80.6 196.5,73.2 197.2,73.6 197.3,74.6 196.9,75.8 196,77.4Z" fill="#eb656a"/>
<path d="M73.2,127.5 75.5,124.6 77.1,120.9 77.9,116.8 78.1,112.4 77.7,108.1 76.7,104 75.3,100.5 73.7,97.7 72.1,95.7 70.6,94.8 69.4,94.9 68.7,96 53.4,102.9 54.2,101.8 55.3,101.6 56.8,102.6 58.5,104.5 60.1,107.3 61.5,110.8 62.4,114.9 62.9,119.3 62.7,123.6 61.8,127.8 60.2,131.4 58,134.3Z" fill="#be1d23" stroke="#711215" stroke-width="0.8"/>
<path d="M77.3,119.4 77.8,115.6 77.9,111.7 77.4,107.8 76.5,104.1 75.3,100.9 73.8,98.3 72.3,96.3 70.9,95.2 56.1,101.8 57.6,102.9 59,104.9 60.5,107.5 61.7,110.7 62.6,114.4 63.1,118.3 63.1,122.2 62.5,126Z" fill="#e2232a"/>
<path d="M75,112.4 74.5,108.8 73.7,105.4 72.5,102.3 71.2,99.8 62.1,103.9 63.4,106.4 64.5,109.5 65.4,112.9 65.9,116.5Z" fill="#eb656a"/>
<path d="M98.6,116.1 100.8,113.2 102.4,109.6 103.3,105.5 103.5,101.1 103,96.7 102,92.7 100.7,89.1 99.1,86.3 97.4,84.4 95.9,83.5 94.7,83.6 94,84.7 78.8,91.5 79.5,90.4 80.7,90.3 82.2,91.2 83.8,93.1 85.4,96 86.8,99.5 87.8,103.6 88.2,107.9 88,112.3 87.2,116.4 85.6,120.1 83.3,123Z" fill="#be1d23" stroke="#711215" stroke-width="0.8"/>
<path d="M102.6,108.1 103.2,104.3 103.2,100.3 102.7,96.4 101.8,92.8 100.6,89.6 99.2,86.9 97.7,85 96.3,83.8 81.5,90.5 82.9,91.6 84.4,93.5 85.8,96.2 87,99.4 87.9,103 88.4,106.9 88.4,110.9 87.8,114.7Z" fill="#e2232a"/>
<path d="M100.3,101.1 99.8,97.4 99,94 97.9,91 96.5,88.5 87.4,92.6 88.7,95.1 89.8,98.1 90.7,101.5 91.2,105.1Z" fill="#eb656a"/>
<path d="M123.9,104.8 126.2,101.9 127.7,98.3 128.6,94.1 128.8,89.8 128.3,85.4 127.4,81.3 126,77.8 124.4,75 122.8,73.1 121.3,72.2 120.1,72.3 119.3,73.4 104.1,80.2 104.8,79.1 106,79 107.5,79.9 109.2,81.8 110.7,84.6 112.1,88.2 113.1,92.2 113.5,96.6 113.4,101 112.5,105.1 110.9,108.7 108.7,111.6Z" fill="#be1d23" stroke="#711215" stroke-width="0.8"/>
<path d="M127.9,96.8 128.5,92.9 128.5,89 128,85.1 127.1,81.4 125.9,78.2 124.5,75.6 123,73.7 121.6,72.5 106.8,79.1 108.2,80.3 109.7,82.2 111.1,84.8 112.3,88.1 113.3,91.7 113.7,95.6 113.7,99.6 113.2,103.4Z" fill="#e2232a"/>
<path d="M125.7,89.7 125.2,86.1 124.3,82.7 123.2,79.7 121.9,77.2 112.7,81.3 114,83.8 115.2,86.8 116,90.2 116.5,93.8Z" fill="#eb656a"/>
<path d="M150.9,85.8 151.3,81.5 151.1,77.1 150.4,72.9 149.2,69.1 147.7,66 146,63.8 144.5,62.5 143.1,62.3 142.2,63.1 141.8,64.8 142,67.3 143,70.3 127.6,76.9 126.7,73.8 126.4,71.3 126.8,69.6 127.8,68.9 129.1,69.1 130.7,70.4 132.3,72.6 133.8,75.7 135,79.4 135.8,83.6 136,88 135.5,92.3Z" fill="#be1d23" stroke="#711215" stroke-width="0.8"/>
<path d="M150.7,75.5 149.8,71.8 148.6,68.5 147.3,65.9 145.8,63.9 144.4,62.7 143.1,62.4 142.2,62.8 141.7,64.1 126.8,70.5 127.3,69.2 128.2,68.7 129.5,69.1 130.9,70.3 132.4,72.2 133.7,74.9 134.9,78.2 135.8,81.8Z" fill="#e2232a"/>
<path d="M145.6,69.4 144.3,66.9 142.9,65.1 141.6,64 140.4,63.6 131.2,67.5 132.4,67.9 133.7,69.1 135.1,70.9 136.4,73.3Z" fill="#eb656a"/>
<path d="M175.9,75.1 176.3,70.8 176.1,66.4 175.4,62.2 174.2,58.5 172.7,55.4 171,53.1 169.5,51.9 168.1,51.6 167.2,52.4 166.8,54.1 167,56.6 168,59.7 152.6,66.2 151.7,63.2 151.4,60.7 151.8,59 152.8,58.2 154.1,58.4 155.7,59.7 157.3,61.9 158.8,65 160,68.8 160.8,73 161,77.4 160.5,81.7Z" fill="#be1d23" stroke="#711215" stroke-width="0.8"/>
<path d="M175.7,64.8 174.8,61.1 173.6,57.9 172.3,55.2 170.8,53.2 169.4,52.1 168.1,51.7 167.2,52.2 166.7,53.4 151.8,59.8 152.3,58.5 153.2,58.1 154.5,58.4 155.9,59.6 157.4,61.6 158.7,64.2 159.9,67.5 160.8,71.2Z" fill="#e2232a"/>
<path d="M170.6,58.7 169.3,56.3 167.9,54.5 166.6,53.3 165.4,52.9 156.2,56.8 157.4,57.3 158.7,58.4 160.1,60.2 161.4,62.6Z" fill="#eb656a"/>
<path d="M200.9,64.4 201.3,60.1 201.1,55.7 200.4,51.5 199.2,47.8 197.7,44.7 196,42.5 194.5,41.2 193.1,41 192.2,41.7 191.8,43.5 192,45.9 193,49 177.6,55.6 176.7,52.5 176.4,50 176.8,48.3 177.8,47.5 179.1,47.8 180.7,49 182.3,51.3 183.8,54.3 185,58.1 185.8,62.3 186,66.7 185.5,71Z" fill="#be1d23" stroke="#711215" stroke-width="0.8"/>
<path d="M200.7,54.1 199.8,50.5 198.6,47.2 197.3,44.5 195.8,42.6 194.4,41.4 193.1,41 192.2,41.5 191.7,42.8 176.8,49.1 177.3,47.9 178.2,47.4 179.5,47.7 180.9,48.9 182.4,50.9 183.7,53.6 184.9,56.8 185.8,60.5Z" fill="#e2232a"/>
<path d="M195.6,48 194.3,45.6 192.9,43.8 191.6,42.7 190.4,42.2 181.2,46.2 182.4,46.6 183.7,47.7 185.1,49.5 186.4,52Z" fill="#eb656a"/>
<path d="M114.7,89.5 115.9,92.9 118.1,96.3 121,99.4 124.5,102 128.2,104.1 132,105.6 135.5,106.4 138.5,106.7 140.7,106.3 142,105.4 142.3,104.2 141.6,102.8 146,86.7 146.8,88.1 146.5,89.3 145.1,90.2 142.9,90.5 139.9,90.3 136.4,89.5 132.6,88 128.9,85.9 125.4,83.3 122.5,80.2 120.3,76.8 119.1,73.4Z" fill="#be1d23" stroke="#711215" stroke-width="0.8"/>
<path d="M119.2,97.3 122.1,100 125.3,102.2 128.7,104 132.1,105.4 135.2,106.1 138,106.4 140.2,106.2 141.7,105.6 146,90 144.5,90.6 142.3,90.8 139.5,90.5 136.3,89.7 133,88.4 129.6,86.6 126.3,84.3 123.5,81.7Z" fill="#e2232a"/>
<path d="M126.5,99.5 129.7,101.2 132.9,102.4 135.8,103.1 138.5,103.4 141.1,93.8 138.5,93.5 135.5,92.7 132.4,91.5 129.2,89.9Z" fill="#eb656a"/>
<path d="M108,113.8 109.2,117.3 111.4,120.6 114.3,123.7 117.8,126.3 121.6,128.4 125.3,129.9 128.8,130.8 131.8,131 134.1,130.6 135.4,129.8 135.7,128.6 134.9,127.1 139.3,111 140.1,112.4 139.8,113.7 138.5,114.5 136.2,114.9 133.2,114.7 129.7,113.8 126,112.3 122.2,110.2 118.8,107.6 115.8,104.5 113.7,101.2 112.4,97.7Z" fill="#be1d23" stroke="#711215" stroke-width="0.8"/>
<path d="M112.6,121.7 115.4,124.3 118.6,126.6 122,128.4 125.4,129.7 128.6,130.5 131.3,130.8 133.5,130.5 135,129.9 139.3,114.3 137.8,114.9 135.6,115.1 132.8,114.9 129.7,114.1 126.3,112.8 122.9,110.9 119.7,108.7 116.8,106Z" fill="#e2232a"/>
<path d="M119.9,123.9 123.1,125.5 126.2,126.7 129.2,127.5 131.8,127.8 134.5,118.1 131.8,117.8 128.9,117 125.7,115.8 122.5,114.2Z" fill="#eb656a"/>
<path d="M101.3,138.1 102.6,141.6 104.7,145 107.7,148 111.1,150.7 114.9,152.8 118.7,154.3 122.2,155.1 125.1,155.3 127.4,155 128.7,154.1 129,152.9 128.2,151.5 132.7,135.4 133.4,136.8 133.1,138 131.8,138.8 129.6,139.2 126.6,139 123.1,138.2 119.3,136.7 115.6,134.6 112.1,131.9 109.2,128.9 107,125.5 105.8,122Z" fill="#be1d23" stroke="#711215" stroke-width="0.8"/>
<path d="M105.9,146 108.7,148.6 111.9,150.9 115.3,152.7 118.7,154 121.9,154.8 124.7,155.1 126.9,154.9 128.4,154.3 132.6,138.6 131.2,139.3 129,139.5 126.2,139.2 123,138.4 119.6,137.1 116.2,135.3 113,133 110.2,130.4Z" fill="#e2232a"/>
<path d="M113.2,148.2 116.4,149.8 119.5,151 122.5,151.8 125.1,152.1 127.8,142.4 125.2,142.1 122.2,141.4 119,140.2 115.9,138.5Z" fill="#eb656a"/>
<path d="M48.7,140.4 51.9,142.3 55.8,143.7 60,144.4 64.4,144.4 68.6,143.8 72.4,142.8 75.5,141.5 77.7,139.9 79,138.4 79.2,137.1 78.4,136 76.6,135.5 71.3,119.6 73.1,120.2 73.9,121.2 73.7,122.6 72.4,124.1 70.2,125.6 67.1,127 63.3,128 59.1,128.5 54.8,128.5 50.5,127.8 46.6,126.5 43.4,124.5Z" fill="#be1d23" stroke="#711215" stroke-width="0.8"/>
<path d="M57.4,143.8 61.3,144.2 65.2,144.1 68.9,143.5 72.3,142.6 75.1,141.4 77.3,140 78.6,138.6 79.2,137.3 74,122 73.5,123.3 72.1,124.6 70,126 67.2,127.2 63.8,128.2 60.1,128.7 56.1,128.8 52.3,128.4Z" fill="#e2232a"/>
<path d="M64.7,141.1 68.2,140.5 71.3,139.7 74,138.5 76,137.3 72.9,127.8 70.8,129 68.1,130.1 65,131 61.5,131.6Z" fill="#eb656a"/>
<path d="M56.7,164.4 59.9,166.3 63.8,167.7 68,168.4 72.4,168.4 76.6,167.8 80.4,166.8 83.5,165.5 85.7,163.9 87,162.4 87.2,161.1 86.4,160 84.6,159.5 79.3,143.6 81.1,144.2 81.9,145.2 81.7,146.6 80.4,148.1 78.2,149.6 75.1,151 71.3,152 67.1,152.5 62.8,152.5 58.5,151.8 54.6,150.5 51.4,148.5Z" fill="#be1d23" stroke="#711215" stroke-width="0.8"/>
<path d="M65.4,167.8 69.3,168.2 73.2,168.1 76.9,167.5 80.3,166.6 83.1,165.4 85.3,164 86.6,162.6 87.2,161.3 82,146 81.5,147.3 80.1,148.6 78,150 75.2,151.2 71.8,152.2 68.1,152.7 64.1,152.8 60.3,152.4Z" fill="#e2232a"/>
<path d="M72.7,165.1 76.2,164.5 79.3,163.7 82,162.5 84,161.3 80.9,151.8 78.8,153 76.1,154.1 73,155 69.5,155.6Z" fill="#eb656a"/>
<path d="M64.7,188.4 67.9,190.3 71.8,191.7 76,192.4 80.4,192.4 84.6,191.8 88.4,190.8 91.5,189.5 93.7,187.9 95,186.4 95.2,185.1 94.4,184 92.6,183.5 87.3,167.6 89.1,168.2 89.9,169.2 89.7,170.6 88.4,172.1 86.2,173.6 83.1,175 79.3,176 75.1,176.5 70.8,176.5 66.5,175.8 62.6,174.5 59.4,172.5Z" fill="#be1d23" stroke="#711215" stroke-width="0.8"/>
<path d="M73.4,191.8 77.3,192.2 81.2,192.1 84.9,191.5 88.3,190.6 91.1,189.4 93.3,188 94.6,186.6 95.2,185.3 90,170 89.5,171.3 88.1,172.6 86,174 83.2,175.2 79.8,176.2 76.1,176.7 72.1,176.8 68.3,176.4Z" fill="#e2232a"/>
<path d="M80.7,189.1 84.2,188.5 87.3,187.7 90,186.5 92,185.3 88.9,175.8 86.8,177 84.1,178.1 81,179 77.5,179.6Z" fill="#eb656a"/>
<path d="M99.5,181.1 97.3,184.8 96,188.6 95.7,192.4 96.4,195.9 98,199 100.6,201.5 104,203.3 108,204.4 112.3,204.9 116.7,204.6 120.9,203.8 124.7,202.5 117.4,187.5 113.6,188.8 109.3,189.6 104.9,189.9 100.6,189.4 96.7,188.3 93.3,186.5 90.7,184 89,180.9 88.4,177.4 88.7,173.6 90,169.8 92.1,166.1Z" fill="#be1d23" stroke="#711215" stroke-width="0.8"/>
<path d="M95.7,189.9 95.7,193.3 96.5,196.3 98.2,199 100.5,201.2 103.5,202.9 107,204.1 110.9,204.6 114.8,204.6 107.7,190 103.7,190 99.9,189.5 96.4,188.4 93.4,186.7 91,184.5 89.4,181.8 88.6,178.7 88.6,175.4Z" fill="#e2232a"/>
<path d="M95.3,193.9 96.9,196.4 99.2,198.5 102,200.1 105.2,201.2 100.8,192.2 97.6,191.1 94.8,189.5 92.5,187.4 90.9,184.9Z" fill="#eb656a"/>
<path d="M112,206.8 109.9,210.5 108.6,214.4 108.3,218.1 108.9,221.6 110.6,224.7 113.2,227.2 116.6,229 120.5,230.2 124.8,230.6 129.3,230.3 133.5,229.5 137.3,228.2 130,213.2 126.2,214.5 121.9,215.3 117.5,215.6 113.2,215.2 109.2,214 105.9,212.2 103.3,209.7 101.6,206.6 100.9,203.1 101.3,199.4 102.6,195.5 104.7,191.8Z" fill="#be1d23" stroke="#711215" stroke-width="0.8"/>
<path d="M108.3,215.7 108.3,219 109.1,222 110.7,224.7 113.1,227 116.1,228.7 119.6,229.8 123.4,230.3 127.4,230.3 120.3,215.7 116.3,215.7 112.5,215.2 109,214.1 106,212.4 103.6,210.2 102,207.5 101.1,204.4 101.1,201.1Z" fill="#e2232a"/>
<path d="M107.9,219.6 109.5,222.1 111.7,224.2 114.5,225.8 117.8,226.9 113.4,217.9 110.1,216.8 107.3,215.2 105.1,213.1 103.5,210.6Z" fill="#eb656a"/>
<path d="M124.6,232.5 122.5,236.2 121.2,240.1 120.8,243.8 121.5,247.3 123.2,250.4 125.8,252.9 129.1,254.7 133.1,255.9 137.4,256.3 141.8,256 146.1,255.2 149.9,253.9 142.5,238.9 138.7,240.2 134.5,241 130.1,241.3 125.8,240.9 121.8,239.7 118.4,237.9 115.9,235.4 114.2,232.3 113.5,228.8 113.9,225.1 115.1,221.2 117.3,217.5Z" fill="#be1d23" stroke="#711215" stroke-width="0.8"/>
<path d="M120.8,241.4 120.8,244.7 121.7,247.8 123.3,250.4 125.7,252.7 128.7,254.4 132.2,255.5 136,256 140,256 132.8,241.4 128.9,241.5 125.1,240.9 121.6,239.8 118.6,238.1 116.2,235.9 114.5,233.2 113.7,230.1 113.7,226.8Z" fill="#e2232a"/>
<path d="M120.5,245.4 122.1,247.8 124.3,249.9 127.1,251.5 130.3,252.6 125.9,243.6 122.7,242.5 119.9,240.9 117.7,238.8 116.1,236.4Z" fill="#eb656a"/>
<path d="M145,176.8 149.2,175.8 153.2,174.2 156.7,172.2 159.6,170.1 161.6,167.9 162.7,166 162.8,164.5 162,163.6 160.4,163.4 158.2,163.9 155.4,165.3 152.5,167.4 142.7,153.8 145.7,151.7 148.4,150.4 150.7,149.8 152.3,150 153.1,150.9 152.9,152.4 151.8,154.4 149.8,156.5 147,158.7 143.5,160.6 139.5,162.2 135.2,163.3Z" fill="#be1d23" stroke="#711215" stroke-width="0.8"/>
<path d="M154.5,173.2 157.5,171.4 159.9,169.4 161.6,167.5 162.5,165.8 162.7,164.4 162.1,163.5 160.9,163.1 159,163.4 149.6,150.2 151.4,150 152.7,150.3 153.2,151.3 153.1,152.6 152.1,154.4 150.4,156.3 148.1,158.2 145.1,160.1Z" fill="#e2232a"/>
<path d="M158.4,166.7 159.9,164.9 160.7,163.3 160.9,162 160.4,161.1 154.6,152.9 155.1,153.9 154.9,155.2 154,156.7 152.5,158.5Z" fill="#eb656a"/>
<path d="M160.3,198.2 164.5,197.1 168.5,195.5 172.1,193.6 174.9,191.4 176.9,189.3 178,187.3 178.2,185.8 177.4,184.9 175.8,184.7 173.5,185.2 170.8,186.6 167.8,188.7 158,175.2 161,173 163.8,171.7 166,171.1 167.6,171.3 168.4,172.3 168.3,173.8 167.2,175.7 165.2,177.8 162.3,180 158.8,182 154.8,183.6 150.5,184.6Z" fill="#be1d23" stroke="#711215" stroke-width="0.8"/>
<path d="M169.9,194.6 172.8,192.7 175.2,190.8 176.9,188.8 177.9,187.1 178,185.8 177.5,184.8 176.2,184.5 174.3,184.7 164.9,171.6 166.7,171.3 168,171.7 168.6,172.6 168.4,174 167.5,175.7 165.8,177.6 163.4,179.6 160.4,181.4Z" fill="#e2232a"/>
<path d="M173.7,188 175.2,186.2 176.1,184.6 176.2,183.3 175.8,182.4 169.9,174.3 170.4,175.2 170.2,176.5 169.4,178.1 167.8,179.8Z" fill="#eb656a"/>
<path d="M175.6,219.5 179.9,218.5 183.9,216.9 187.4,214.9 190.2,212.7 192.3,210.6 193.3,208.7 193.5,207.2 192.7,206.2 191.1,206 188.8,206.6 186.1,207.9 183.1,210.1 173.4,196.5 176.4,194.4 179.1,193 181.4,192.5 183,192.7 183.7,193.6 183.6,195.1 182.5,197 180.5,199.2 177.6,201.3 174.1,203.3 170.1,204.9 165.9,205.9Z" fill="#be1d23" stroke="#711215" stroke-width="0.8"/>
<path d="M185.2,215.9 188.2,214.1 190.6,212.1 192.3,210.2 193.2,208.5 193.4,207.1 192.8,206.2 191.5,205.8 189.7,206.1 180.2,192.9 182.1,192.6 183.3,193 183.9,193.9 183.7,195.3 182.8,197 181.1,198.9 178.7,200.9 175.7,202.8Z" fill="#e2232a"/>
<path d="M189,209.3 190.5,207.5 191.4,206 191.6,204.7 191.1,203.8 185.3,195.6 185.7,196.5 185.5,197.8 184.7,199.4 183.2,201.2Z" fill="#eb656a"/>
<path d="M177.7,128.6 182.2,128.6 186.6,127.8 190.6,126.3 194,124.3 196.6,122 198.3,119.6 198.9,117.4 198.6,115.6 197.4,114.3 195.3,113.7 192.7,114 189.6,115.1 181.8,103.1 184.9,102 187.6,101.7 189.6,102.3 190.9,103.6 191.2,105.4 190.5,107.6 188.8,110 186.2,112.3 182.8,114.3 178.8,115.8 174.5,116.6 170,116.6Z" fill="#be1d23" stroke="#711215" stroke-width="0.8"/>
<path d="M188.1,127.1 191.5,125.5 194.4,123.7 196.7,121.6 198.1,119.4 198.8,117.4 198.7,115.7 197.7,114.4 196.1,113.7 188.6,102 190.2,102.8 191.1,104.1 191.3,105.8 190.6,107.8 189.1,109.9 186.9,112 184,113.9 180.6,115.4Z" fill="#e2232a"/>
<path d="M193.3,121.2 195.4,119.2 196.7,117.2 197.4,115.4 197.3,113.7 192.6,106.5 192.7,108.2 192.1,110 190.7,112 188.7,114Z" fill="#eb656a"/>
<path d="M192.9,152 197.4,152 201.7,151.2 205.7,149.7 209.1,147.7 211.7,145.4 213.4,143.1 214.1,140.8 213.8,139 212.5,137.7 210.5,137.2 207.8,137.4 204.7,138.5 197,126.5 200.1,125.4 202.7,125.2 204.8,125.7 206,127 206.3,128.9 205.6,131.1 204,133.4 201.4,135.7 198,137.7 194,139.2 189.6,140 185.1,140Z" fill="#be1d23" stroke="#711215" stroke-width="0.8"/>
<path d="M203.3,150.5 206.7,149 209.6,147.1 211.8,145 213.3,142.9 213.9,140.9 213.8,139.2 212.9,137.9 211.3,137.1 203.8,125.5 205.4,126.2 206.3,127.5 206.4,129.2 205.8,131.2 204.3,133.4 202.1,135.5 199.2,137.3 195.7,138.8Z" fill="#e2232a"/>
<path d="M208.5,144.6 210.5,142.6 211.8,140.7 212.5,138.8 212.4,137.1 207.8,129.9 207.8,131.6 207.2,133.5 205.8,135.4 203.8,137.4Z" fill="#eb656a"/>
<path d="M208,175.5 212.5,175.4 216.9,174.6 220.9,173.1 224.3,171.1 226.9,168.8 228.5,166.5 229.2,164.3 228.9,162.4 227.7,161.2 225.6,160.6 223,160.8 219.9,162 212.1,150 215.2,148.8 217.9,148.6 219.9,149.2 221.2,150.4 221.5,152.3 220.8,154.5 219.1,156.9 216.5,159.1 213.1,161.1 209.1,162.6 204.7,163.4 200.3,163.5Z" fill="#be1d23" stroke="#711215" stroke-width="0.8"/>
<path d="M218.4,173.9 221.8,172.4 224.7,170.5 227,168.4 228.4,166.3 229.1,164.3 228.9,162.6 228,161.3 226.4,160.5 218.9,148.9 220.5,149.7 221.4,150.9 221.6,152.7 220.9,154.7 219.4,156.8 217.2,158.9 214.3,160.8 210.9,162.3Z" fill="#e2232a"/>
<path d="M223.6,168 225.6,166.1 227,164.1 227.6,162.2 227.6,160.6 222.9,153.4 223,155 222.3,156.9 221,158.9 219,160.8Z" fill="#eb656a"/>
<path d="M223.2,198.9 227.6,198.9 232,198 236,196.6 239.4,194.6 242,192.3 243.7,189.9 244.4,187.7 244.1,185.9 242.8,184.6 240.8,184 238.1,184.3 235,185.4 227.3,173.4 230.3,172.3 233,172 235.1,172.6 236.3,173.9 236.6,175.7 235.9,177.9 234.2,180.3 231.6,182.6 228.2,184.6 224.3,186 219.9,186.9 215.4,186.9Z" fill="#be1d23" stroke="#711215" stroke-width="0.8"/>
<path d="M233.5,197.3 237,195.8 239.9,193.9 242.1,191.9 243.6,189.7 244.2,187.7 244.1,186 243.2,184.7 241.6,184 234,172.3 235.6,173.1 236.6,174.4 236.7,176.1 236,178.1 234.6,180.2 232.3,182.3 229.5,184.2 226,185.7Z" fill="#e2232a"/>
<path d="M238.8,191.5 240.8,189.5 242.1,187.5 242.8,185.6 242.7,184 238.1,176.8 238.1,178.4 237.5,180.3 236.1,182.3 234.1,184.3Z" fill="#eb656a"/>
<path d="M174.8,214.7 178.7,214.6 182.8,213.7 186.8,212 190.6,209.8 193.8,207.2 196.4,204.5 198.2,202 199.2,199.7 199.3,198 198.5,197.1 197.1,196.9 195.1,197.6 182.9,186.3 184.9,185.5 186.3,185.7 187,186.7 186.9,188.3 186,190.6 184.2,193.1 181.6,195.8 178.4,198.4 174.6,200.6 170.6,202.3 166.5,203.2 162.5,203.4Z" fill="#be1d23" stroke="#711215" stroke-width="0.8"/>
<path d="M184.3,212.9 187.8,211.2 191.1,209.1 193.9,206.8 196.2,204.4 197.9,202 198.9,200 199.1,198.3 198.7,197.2 186.9,186.1 187.3,187.3 187,188.9 186,191 184.4,193.3 182.1,195.7 179.2,198.1 176,200.2 172.4,201.9Z" fill="#e2232a"/>
<path d="M189.2,206.7 191.9,204.5 194,202.3 195.5,200.1 196.5,198.1 189.2,191.3 188.2,193.2 186.6,195.4 184.5,197.7 181.9,199.9Z" fill="#eb656a"/>
<path d="M194.1,232.7 198,232.6 202.1,231.7 206.2,230 209.9,227.8 213.2,225.2 215.8,222.5 217.6,220 218.5,217.7 218.6,216 217.9,215.1 216.5,214.9 214.5,215.6 202.2,204.3 204.2,203.5 205.7,203.7 206.4,204.7 206.3,206.3 205.3,208.6 203.5,211.1 200.9,213.8 197.7,216.4 194,218.6 189.9,220.3 185.8,221.2 181.9,221.4Z" fill="#be1d23" stroke="#711215" stroke-width="0.8"/>
<path d="M203.6,230.9 207.2,229.2 210.4,227.1 213.3,224.8 215.6,222.4 217.2,220 218.2,218 218.5,216.3 218.1,215.2 206.2,204.1 206.6,205.3 206.3,206.9 205.4,209 203.7,211.3 201.4,213.7 198.6,216.1 195.3,218.2 191.7,219.9Z" fill="#e2232a"/>
<path d="M208.6,224.7 211.2,222.5 213.3,220.3 214.9,218.1 215.9,216.1 208.5,209.3 207.5,211.2 206,213.4 203.8,215.7 201.2,217.9Z" fill="#eb656a"/>
<path d="M213.4,250.7 217.4,250.6 221.5,249.7 225.5,248 229.3,245.8 232.5,243.2 235.1,240.5 236.9,238 237.8,235.7 237.9,234 237.2,233.1 235.8,232.9 233.8,233.6 221.6,222.3 223.6,221.5 225,221.7 225.7,222.7 225.6,224.3 224.7,226.6 222.9,229.1 220.3,231.8 217,234.4 213.3,236.6 209.3,238.3 205.1,239.2 201.2,239.4Z" fill="#be1d23" stroke="#711215" stroke-width="0.8"/>
<path d="M222.9,248.9 226.5,247.2 229.8,245.1 232.6,242.8 234.9,240.4 236.6,238 237.5,236 237.8,234.3 237.4,233.2 225.6,222.1 226,223.3 225.7,224.9 224.7,227 223,229.3 220.7,231.7 217.9,234.1 214.6,236.2 211.1,237.9Z" fill="#e2232a"/>
<path d="M227.9,242.7 230.5,240.5 232.6,238.3 234.2,236.1 235.2,234.1 227.8,227.3 226.9,229.2 225.3,231.4 223.2,233.7 220.6,235.9Z" fill="#eb656a"/>
<path d="M62.4,242.2 61,238.1 59.1,234.4 57.1,231.3 55,229 53.1,227.7 51.5,227.3 50.5,227.8 50.2,229.1 50.7,231.2 51.9,233.8 54,236.7 56.7,239.6 43.2,249.4 40.5,246.5 38.4,243.6 37.2,241 36.7,238.9 37,237.6 38,237.1 39.5,237.5 41.5,238.8 43.5,241.1 45.6,244.2 47.4,247.9 48.9,252Z" fill="#be1d23" stroke="#711215" stroke-width="0.8"/>
<path d="M58.1,233.2 56.2,230.7 54.4,228.8 52.7,227.7 51.3,227.4 50.4,227.8 50,228.9 50.3,230.7 51.1,232.8 38,242.3 37.1,240.2 36.9,238.4 37.3,237.3 38.2,236.9 39.6,237.2 41.3,238.3 43.1,240.2 45,242.7Z" fill="#e2232a"/>
<path d="M51.6,230.5 50.1,229.5 48.8,229.2 47.9,229.6 47.5,230.6 39.4,236.4 39.8,235.5 40.7,235.1 42,235.4 43.5,236.3Z" fill="#eb656a"/>
<path d="M85.6,225.4 84.2,221.3 82.3,217.6 80.3,214.5 78.2,212.2 76.3,210.9 74.7,210.5 73.7,211 73.4,212.3 73.9,214.4 75.1,217 77.2,219.9 79.9,222.8 66.4,232.6 63.7,229.7 61.6,226.8 60.4,224.2 59.9,222.1 60.2,220.8 61.2,220.3 62.7,220.7 64.7,222 66.7,224.3 68.8,227.4 70.6,231.1 72.1,235.2Z" fill="#be1d23" stroke="#711215" stroke-width="0.8"/>
<path d="M81.3,216.4 79.4,213.9 77.6,212 75.9,210.9 74.5,210.6 73.6,211 73.2,212.1 73.5,213.9 74.3,216 61.2,225.5 60.3,223.4 60.1,221.6 60.5,220.5 61.4,220.1 62.8,220.4 64.5,221.5 66.3,223.4 68.2,225.9Z" fill="#e2232a"/>
<path d="M74.8,213.7 73.3,212.7 72,212.4 71.1,212.8 70.7,213.8 62.6,219.6 63,218.7 63.9,218.3 65.2,218.6 66.7,219.5Z" fill="#eb656a"/>
<path d="M108.8,208.6 107.4,204.5 105.5,200.8 103.5,197.7 101.4,195.4 99.5,194.1 97.9,193.7 96.9,194.2 96.6,195.5 97.1,197.6 98.3,200.2 100.4,203.1 103.1,206 89.6,215.8 86.9,212.9 84.8,210 83.6,207.4 83.1,205.3 83.4,204 84.4,203.5 85.9,203.9 87.9,205.2 89.9,207.5 92,210.6 93.8,214.3 95.3,218.4Z" fill="#be1d23" stroke="#711215" stroke-width="0.8"/>
<path d="M104.5,199.6 102.6,197.1 100.8,195.2 99.1,194.1 97.7,193.8 96.8,194.2 96.4,195.3 96.7,197.1 97.5,199.2 84.4,208.7 83.5,206.6 83.3,204.8 83.7,203.7 84.6,203.3 86,203.6 87.7,204.7 89.5,206.6 91.4,209.1Z" fill="#e2232a"/>
<path d="M98,196.9 96.5,195.9 95.2,195.6 94.3,196 93.9,197 85.8,202.8 86.2,201.9 87.1,201.5 88.4,201.8 89.9,202.7Z" fill="#eb656a"/>
<path d="M143.4,284.3 145.8,286.2 148.6,287.3 151.7,287.7 154.8,287.3 157.8,286.2 160.5,284.5 162.7,282.3 164.2,279.7 165.1,277.1 165.2,274.5 164.5,272.1 163.1,270.2 159.4,266.5 160.8,268.4 161.4,270.7 161.3,273.3 160.5,276 158.9,278.5 156.8,280.8 154.1,282.5 151.1,283.6 147.9,283.9 144.9,283.6 142,282.4 139.7,280.6Z" fill="#be1d23" stroke="#711215" stroke-width="0.8"/>
<path d="M149.7,287.5 152.6,287.6 155.4,287.1 158,286 160.4,284.4 162.4,282.4 163.9,280.2 164.8,277.8 165.2,275.4 161.5,271.8 161.2,274.2 160.3,276.6 158.8,278.8 156.8,280.8 154.4,282.4 151.7,283.5 148.9,284 146.1,283.9Z" fill="#e2232a"/>
<path d="M155,286.3 157.5,285.2 159.7,283.7 161.6,281.9 163,279.8 160.8,277.6 159.4,279.7 157.5,281.5 155.3,283 152.8,284Z" fill="#eb656a"/>
<path d="M149,289.9 151.4,291.8 154.2,292.9 157.3,293.3 160.4,292.9 163.4,291.8 166.1,290.1 168.3,287.9 169.8,285.3 170.7,282.7 170.8,280.1 170.1,277.7 168.7,275.8 165,272.1 166.4,274 167,276.3 166.9,278.9 166.1,281.6 164.5,284.1 162.4,286.4 159.7,288.1 156.7,289.2 153.5,289.5 150.5,289.2 147.6,288 145.3,286.2Z" fill="#be1d23" stroke="#711215" stroke-width="0.8"/>
<path d="M155.3,293.1 158.2,293.2 161,292.7 163.6,291.6 166,290 168,288 169.5,285.8 170.4,283.4 170.8,281 167.1,277.4 166.8,279.8 165.9,282.2 164.4,284.4 162.4,286.4 160,288 157.3,289.1 154.5,289.6 151.7,289.5Z" fill="#e2232a"/>
<path d="M160.6,291.9 163.1,290.8 165.3,289.3 167.2,287.5 168.6,285.4 166.4,283.2 165,285.3 163.1,287.1 160.9,288.6 158.4,289.6Z" fill="#eb656a"/>
<path d="M154.6,295.5 157,297.4 159.8,298.5 162.9,298.9 166,298.5 169,297.4 171.7,295.7 173.9,293.5 175.4,290.9 176.3,288.3 176.4,285.7 175.7,283.3 174.3,281.4 170.6,277.7 172,279.6 172.6,281.9 172.5,284.5 171.7,287.2 170.1,289.7 168,292 165.3,293.7 162.3,294.8 159.1,295.1 156.1,294.8 153.2,293.6 150.9,291.8Z" fill="#be1d23" stroke="#711215" stroke-width="0.8"/>
<path d="M160.9,298.7 163.8,298.8 166.6,298.3 169.2,297.2 171.6,295.6 173.6,293.6 175.1,291.4 176,289 176.4,286.6 172.7,283 172.4,285.4 171.5,287.8 170,290 168,292 165.6,293.6 162.9,294.7 160.1,295.2 157.3,295.1Z" fill="#e2232a"/>
<path d="M166.2,297.5 168.7,296.4 170.9,294.9 172.8,293.1 174.2,291 172,288.8 170.6,290.9 168.7,292.7 166.5,294.2 164,295.2Z" fill="#eb656a"/>
<circle cx="151.6" cy="298.5" r="9.9" fill="url(#gy)"/>
<circle cx="136.7" cy="304.1" r="9.7" fill="url(#gy)"/>
<circle cx="163" cy="306.4" r="8.8" fill="url(#gy)"/>
<circle cx="149" cy="308.9" r="8.3" fill="url(#gy)"/>
<circle cx="128.5" cy="310" r="9" fill="url(#gy)"/>
<circle cx="157" cy="314.4" r="8.7" fill="url(#gy)"/>
<circle cx="168.8" cy="314.5" r="9.8" fill="url(#gy)"/>
<circle cx="142.4" cy="318.1" r="8.5" fill="url(#gy)"/>
<circle cx="133.3" cy="320.4" r="8.9" fill="url(#gy)"/>
<circle cx="151.1" cy="322.1" r="9.2" fill="url(#gy)"/>
<circle cx="164" cy="322.6" r="10.1" fill="url(#gy)"/>
<circle cx="134.8" cy="330.2" r="9" fill="url(#gy)"/>
<circle cx="151" cy="331.4" r="8.4" fill="url(#gy)"/>
<circle cx="161.5" cy="335.1" r="9.7" fill="url(#gy)"/>
<circle cx="142.5" cy="335.9" r="9.3" fill="url(#gy)"/>
<circle cx="150.8" cy="341.2" r="8.3" fill="url(#gy)"/>
<circle cx="180.6" cy="286.7" r="10.1" fill="url(#gy)"/>
<circle cx="191.9" cy="292.4" r="10.3" fill="url(#gy)"/>
<circle cx="168.6" cy="293.7" r="9.8" fill="url(#gy)"/>
<circle cx="195.3" cy="301.1" r="10.1" fill="url(#gy)"/>
<circle cx="163" cy="303.5" r="8.5" fill="url(#gy)"/>
<circle cx="180.4" cy="303.8" r="9.6" fill="url(#gy)"/>
<circle cx="204" cy="307.7" r="10.1" fill="url(#gy)"/>
<circle cx="186.3" cy="311.2" r="9.5" fill="url(#gy)"/>
<circle cx="166.3" cy="312.9" r="8.9" fill="url(#gy)"/>
<circle cx="177.8" cy="317.7" r="7.9" fill="url(#gy)"/>
<circle cx="198.7" cy="318.7" r="8.8" fill="url(#gy)"/>
<circle cx="188.3" cy="322.4" r="9.3" fill="url(#gy)"/>
<circle cx="166.8" cy="323.1" r="10.1" fill="url(#gy)"/>
<circle cx="175.1" cy="327.5" r="10.3" fill="url(#gy)"/>
<circle cx="209.6" cy="260.5" r="8.9" fill="url(#gy)"/>
<circle cx="202.1" cy="266.3" r="10" fill="url(#gy)"/>
<circle cx="229" cy="267.9" r="8.4" fill="url(#gy)"/>
<circle cx="215.5" cy="271.1" r="9.8" fill="url(#gy)"/>
<circle cx="237.4" cy="273.4" r="9.1" fill="url(#gy)"/>
<circle cx="206.4" cy="275.4" r="7.7" fill="url(#gy)"/>
<circle cx="195.4" cy="275.6" r="9.6" fill="url(#gy)"/>
<circle cx="228.9" cy="281.5" r="8.7" fill="url(#gy)"/>
<circle cx="245" cy="282" r="9.9" fill="url(#gy)"/>
<circle cx="214.7" cy="282.7" r="9.5" fill="url(#gy)"/>
<circle cx="191.4" cy="286.4" r="7.7" fill="url(#gy)"/>
<circle cx="202.9" cy="288.9" r="9" fill="url(#gy)"/>
<circle cx="223.7" cy="293" r="10" fill="url(#gy)"/>
<circle cx="245.9" cy="293.1" r="8.3" fill="url(#gy)"/>
<circle cx="233.9" cy="293.6" r="8.5" fill="url(#gy)"/>
<circle cx="196.8" cy="297.9" r="10" fill="url(#gy)"/>
<circle cx="187.1" cy="299.8" r="8.2" fill="url(#gy)"/>
<circle cx="209.6" cy="299.9" r="9.2" fill="url(#gy)"/>
<circle cx="233.2" cy="303.4" r="8.3" fill="url(#gy)"/>
<circle cx="218.2" cy="306.8" r="10.3" fill="url(#gy)"/>
<circle cx="193" cy="309.4" r="9.8" fill="url(#gy)"/>
<circle cx="227.4" cy="311.7" r="8.9" fill="url(#gy)"/>
<circle cx="205.6" cy="312.4" r="7.9" fill="url(#gy)"/>
<circle cx="219.4" cy="317.8" r="8.5" fill="url(#gy)"/>
<circle cx="256" cy="239" r="9" fill="url(#gy)"/>
<circle cx="239" cy="241.1" r="10.2" fill="url(#gy)"/>
<circle cx="273.9" cy="241.8" r="7.9" fill="url(#gy)"/>
<circle cx="264.3" cy="244.3" r="9.1" fill="url(#gy)"/>
<circle cx="248.4" cy="245.9" r="9.6" fill="url(#gy)"/>
<circle cx="241.6" cy="252.7" r="9.1" fill="url(#gy)"/>
<circle cx="260.9" cy="255.5" r="9.8" fill="url(#gy)"/>
<circle cx="250.3" cy="256.5" r="9.1" fill="url(#gy)"/>
<circle cx="271.8" cy="257.7" r="10.3" fill="url(#gy)"/>
<circle cx="232.9" cy="258.3" r="9.3" fill="url(#gy)"/>
<circle cx="278.7" cy="264.3" r="9.2" fill="url(#gy)"/>
<circle cx="253.6" cy="267" r="8.9" fill="url(#gy)"/>
<circle cx="240.6" cy="269.6" r="9.3" fill="url(#gy)"/>
<circle cx="231.4" cy="271.9" r="8.7" fill="url(#gy)"/>
<circle cx="263" cy="272.5" r="9.2" fill="url(#gy)"/>
<circle cx="274.8" cy="276.2" r="8.4" fill="url(#gy)"/>
<circle cx="241.2" cy="279" r="8.2" fill="url(#gy)"/>
<circle cx="256.4" cy="284.1" r="8.2" fill="url(#gy)"/>
<circle cx="266" cy="285.5" r="9.3" fill="url(#gy)"/>
<circle cx="245.1" cy="289" r="9.4" fill="url(#gy)"/>
<circle cx="297.5" cy="248.1" r="9.9" fill="url(#go)"/>
<circle cx="310.3" cy="251.5" r="9.7" fill="url(#go)"/>
<circle cx="284.5" cy="258.8" r="8.8" fill="url(#go)"/>
<circle cx="301.1" cy="259.8" r="8.3" fill="url(#go)"/>
<circle cx="318.7" cy="260.5" r="9" fill="url(#go)"/>
<circle cx="278" cy="265.6" r="8.7" fill="url(#go)"/>
<circle cx="287.7" cy="268.9" r="9.8" fill="url(#go)"/>
<circle cx="306.3" cy="270.1" r="8.5" fill="url(#go)"/>
<circle cx="321.9" cy="273.6" r="8.9" fill="url(#go)"/>
<circle cx="279.9" cy="275.2" r="9.2" fill="url(#go)"/>
<circle cx="290.8" cy="278.1" r="10.1" fill="url(#go)"/>
<circle cx="313.9" cy="278.7" r="9" fill="url(#go)"/>
<circle cx="300.7" cy="280.3" r="8.4" fill="url(#go)"/>
<circle cx="280.3" cy="285.5" r="9.7" fill="url(#go)"/>
<circle cx="293" cy="291.1" r="9.3" fill="url(#go)"/>
<circle cx="305.1" cy="296.4" r="8.3" fill="url(#go)"/>
<circle cx="333.2" cy="275.1" r="10.1" fill="url(#go)"/>
<circle cx="343.2" cy="275.8" r="10.3" fill="url(#go)"/>
<circle cx="323.8" cy="275.9" r="9.8" fill="url(#go)"/>
<circle cx="352" cy="284.3" r="10.1" fill="url(#go)"/>
<circle cx="316.5" cy="284.4" r="8.5" fill="url(#go)"/>
<circle cx="357.7" cy="292.7" r="9.6" fill="url(#go)"/>
<circle cx="327.1" cy="293.8" r="10.1" fill="url(#go)"/>
<circle cx="313.1" cy="294.7" r="9.5" fill="url(#go)"/>
<circle cx="343.2" cy="294.9" r="8.9" fill="url(#go)"/>
<circle cx="320.4" cy="302.5" r="7.9" fill="url(#go)"/>
<circle cx="355.1" cy="303.2" r="8.8" fill="url(#go)"/>
<circle cx="331" cy="303.5" r="9.3" fill="url(#go)"/>
<circle cx="345.2" cy="304.7" r="10.1" fill="url(#go)"/>
<circle cx="308.6" cy="305.4" r="10.3" fill="url(#go)"/>
<circle cx="338.5" cy="311.7" r="8.9" fill="url(#go)"/>
<circle cx="326.2" cy="312.3" r="10" fill="url(#go)"/>
<circle cx="355.2" cy="314.1" r="8.4" fill="url(#go)"/>
<circle cx="319.6" cy="321.1" r="9.8" fill="url(#go)"/>
<circle cx="343.2" cy="324.2" r="9.1" fill="url(#go)"/>
<circle cx="329.7" cy="324.5" r="7.7" fill="url(#go)"/>
<circle cx="392.3" cy="290.5" r="9.6" fill="url(#go)"/>
<circle cx="382.6" cy="295.2" r="8.7" fill="url(#go)"/>
<circle cx="374.3" cy="299.9" r="9.9" fill="url(#go)"/>
<circle cx="403.1" cy="300.3" r="9.5" fill="url(#go)"/>
<circle cx="383.9" cy="305.9" r="7.7" fill="url(#go)"/>
<circle cx="409.4" cy="308" r="9" fill="url(#go)"/>
<circle cx="369.7" cy="309" r="10" fill="url(#go)"/>
<circle cx="359.3" cy="311.2" r="8.3" fill="url(#go)"/>
<circle cx="396.1" cy="312.9" r="8.5" fill="url(#go)"/>
<circle cx="379.9" cy="316.2" r="10" fill="url(#go)"/>
<circle cx="407.4" cy="317.9" r="8.2" fill="url(#go)"/>
<circle cx="366.6" cy="320.6" r="9.2" fill="url(#go)"/>
<circle cx="392.8" cy="321.9" r="8.3" fill="url(#go)"/>
<circle cx="381.2" cy="325.7" r="10.3" fill="url(#go)"/>
<circle cx="327.8" cy="327.3" r="9.8" fill="url(#go)"/>
<circle cx="316.9" cy="329.6" r="8.9" fill="url(#go)"/>
<circle cx="334.5" cy="339.7" r="7.9" fill="url(#go)"/>
<circle cx="323.1" cy="340.2" r="8.5" fill="url(#go)"/>
<circle cx="313.3" cy="341.2" r="9" fill="url(#go)"/>
<circle cx="333" cy="350.6" r="10.2" fill="url(#go)"/>
<circle cx="322.9" cy="352.6" r="7.9" fill="url(#go)"/>
<circle cx="321.1" cy="363.5" r="9.1" fill="url(#go)"/></g>
<g><path d="M564.3,177.4 563,178.7 561.7,180.8 560.4,183.5 559.5,186.8 559,190.3 559,194 559.5,197.5 560.6,200.6 562.3,203.3 564.5,205.2 567.1,206.4 570,206.7 557.5,201 554.6,200.7 551.9,199.5 549.7,197.6 548.1,194.9 546.9,191.8 546.4,188.3 546.4,184.6 547,181.1 547.9,177.9 549.1,175.1 550.4,173 551.8,171.7Z" fill="#824984" stroke="#5b335c" stroke-width="0.8"/>
<path d="M585.5,187 584.2,188.3 582.9,190.4 581.6,193.1 580.7,196.4 580.2,199.9 580.2,203.6 580.7,207.1 581.8,210.2 583.5,212.9 585.7,214.8 588.3,216 591.2,216.3 578.7,210.6 575.8,210.3 573.1,209.1 570.9,207.2 569.3,204.5 568.1,201.4 567.6,197.9 567.6,194.2 568.2,190.7 569.1,187.5 570.3,184.7 571.6,182.6 573,181.3Z" fill="#824984" stroke="#5b335c" stroke-width="0.8"/>
<path d="M552.7,280.5 552.1,283.6 551.9,287 552.2,290.6 553,294.1 554.3,297.3 556.1,299.9 558.3,301.9 560.9,303.1 563.7,303.4 566.5,302.9 569.3,301.5 572,299.4 558.5,296.4 555.9,298.5 553.1,299.9 550.2,300.5 547.4,300.1 544.9,299 542.6,297 540.8,294.3 539.5,291.1 538.7,287.6 538.5,284 538.7,280.6 539.2,277.5Z" fill="#824984" stroke="#5b335c" stroke-width="0.8"/>
<path d="M573.5,285.1 572.9,288.2 572.7,291.6 573,295.2 573.8,298.7 575.1,301.9 576.9,304.5 579.1,306.5 581.7,307.7 584.5,308 587.3,307.5 590.1,306.1 592.8,304 579.3,301 576.7,303.1 573.9,304.5 571,305.1 568.2,304.7 565.7,303.6 563.4,301.6 561.6,298.9 560.3,295.7 559.5,292.2 559.3,288.6 559.5,285.2 560,282.1Z" fill="#824984" stroke="#5b335c" stroke-width="0.8"/>
<path d="M594.3,289.7 593.7,292.8 593.5,296.2 593.8,299.8 594.6,303.3 595.9,306.5 597.7,309.1 599.9,311.1 602.5,312.3 605.3,312.6 608.1,312.1 610.9,310.7 613.6,308.6 600.1,305.6 597.5,307.7 594.7,309.1 591.8,309.7 589,309.3 586.5,308.2 584.2,306.2 582.4,303.5 581.1,300.3 580.3,296.8 580.1,293.2 580.3,289.8 580.8,286.7Z" fill="#824984" stroke="#5b335c" stroke-width="0.8"/>
<path d="M615.1,294.3 614.5,297.4 614.3,300.8 614.6,304.4 615.4,307.9 616.7,311.1 618.5,313.7 620.7,315.7 623.3,316.9 626.1,317.2 628.9,316.7 631.7,315.3 634.4,313.2 620.9,310.2 618.3,312.3 615.5,313.7 612.6,314.3 609.8,313.9 607.3,312.8 605,310.8 603.2,308.1 601.9,304.9 601.1,301.4 600.9,297.8 601.1,294.4 601.6,291.3Z" fill="#824984" stroke="#5b335c" stroke-width="0.8"/>
<path d="M635.9,298.9 635.3,302 635.1,305.4 635.4,309 636.2,312.5 637.5,315.7 639.3,318.3 641.5,320.3 644.1,321.5 646.9,321.8 649.7,321.3 652.5,319.9 655.2,317.8 641.7,314.8 639.1,316.9 636.3,318.3 633.4,318.9 630.6,318.5 628.1,317.4 625.8,315.4 624,312.7 622.7,309.5 621.9,306 621.7,302.4 621.9,299 622.4,295.9Z" fill="#824984" stroke="#5b335c" stroke-width="0.8"/>
<path d="M621.5,143.2 620.2,143.7 618.7,145 617.1,147.1 615.6,149.8 614.3,153 613.4,156.5 613,160.1 613.3,163.6 614.1,166.8 615.6,169.5 617.6,171.6 620.2,172.9 608.5,165.6 606,164.3 603.9,162.2 602.4,159.5 601.6,156.3 601.4,152.8 601.7,149.2 602.6,145.7 603.9,142.5 605.4,139.8 607,137.7 608.5,136.4 609.8,135.9Z" fill="#824984" stroke="#5b335c" stroke-width="0.8"/>
<path d="M641.5,155.7 640.2,156.2 638.7,157.5 637.1,159.6 635.6,162.3 634.3,165.5 633.4,169 633,172.6 633.3,176.1 634.1,179.3 635.6,182 637.6,184.1 640.2,185.4 628.5,178.1 626,176.8 623.9,174.7 622.4,172 621.6,168.8 621.4,165.3 621.7,161.7 622.6,158.2 623.9,155 625.4,152.3 627,150.2 628.5,148.9 629.8,148.4Z" fill="#824984" stroke="#5b335c" stroke-width="0.8"/>
<path d="M544,118.4 543.4,119.9 543.2,122.2 543.4,125 544.1,128.1 545.3,131.4 547,134.6 549.1,137.5 551.6,139.8 554.3,141.5 557.1,142.3 560,142.2 562.7,141.3 549,143.1 546.3,144.1 543.5,144.2 540.6,143.3 537.9,141.7 535.5,139.4 533.3,136.5 531.6,133.3 530.4,130 529.7,126.8 529.5,124 529.7,121.8 530.3,120.2Z" fill="#661666" stroke="#470f47" stroke-width="0.8"/>
<path d="M566,115.4 565.4,116.9 565.2,119.2 565.4,122 566.1,125.1 567.3,128.4 569,131.6 571.1,134.5 573.6,136.8 576.3,138.5 579.1,139.3 582,139.2 584.7,138.3 571,140.1 568.3,141.1 565.5,141.2 562.6,140.3 559.9,138.7 557.5,136.4 555.3,133.5 553.6,130.3 552.4,127 551.7,123.8 551.5,121 551.7,118.8 552.3,117.2Z" fill="#661666" stroke="#470f47" stroke-width="0.8"/>
<path d="M588,112.4 587.4,113.9 587.2,116.2 587.4,119 588.1,122.1 589.3,125.4 591,128.6 593.1,131.5 595.6,133.8 598.3,135.5 601.1,136.3 604,136.2 606.7,135.3 593,137.1 590.3,138.1 587.5,138.2 584.6,137.3 581.9,135.7 579.5,133.4 577.3,130.5 575.6,127.3 574.4,124 573.7,120.8 573.5,118 573.7,115.8 574.3,114.2Z" fill="#661666" stroke="#470f47" stroke-width="0.8"/>
<path d="M610.7,123.2 610.2,126.6 610.1,130.3 610.5,133.9 611.6,137.2 613.1,140.1 615.2,142.4 617.8,143.9 620.6,144.6 623.7,144.4 626.8,143.4 629.8,141.7 632.6,139.3 619.8,134.3 617,136.6 614,138.4 610.8,139.4 607.8,139.6 604.9,138.9 602.4,137.4 600.3,135.1 598.7,132.2 597.7,128.9 597.3,125.3 597.3,121.6 597.9,118.2Z" fill="#661666" stroke="#470f47" stroke-width="0.8"/>
<path d="M633.7,132.2 633.2,135.6 633.1,139.3 633.5,142.9 634.6,146.2 636.1,149.1 638.2,151.4 640.8,152.9 643.6,153.6 646.7,153.4 649.8,152.4 652.8,150.7 655.6,148.3 642.8,143.3 640,145.6 637,147.4 633.8,148.4 630.8,148.6 627.9,147.9 625.4,146.4 623.3,144.1 621.7,141.2 620.7,137.9 620.3,134.3 620.3,130.6 620.9,127.2Z" fill="#661666" stroke="#470f47" stroke-width="0.8"/>
<path d="M660.6,128 658.9,129.6 657.1,131.9 655.5,134.7 654.2,138 653.3,141.5 653,144.9 653.3,148.2 654.3,151.2 655.9,153.5 658,155.2 660.6,156.1 663.6,156.2 652.1,148.5 649.2,148.4 646.6,147.5 644.4,145.9 642.8,143.5 641.8,140.6 641.5,137.3 641.8,133.8 642.7,130.3 644,127.1 645.6,124.2 647.4,121.9 649.1,120.3Z" fill="#661666" stroke="#470f47" stroke-width="0.8"/>
<path d="M677.1,139 675.4,140.6 673.6,142.9 672,145.7 670.7,149 669.8,152.5 669.5,155.9 669.8,159.2 670.8,162.2 672.4,164.5 674.5,166.2 677.1,167.1 680.1,167.2 668.6,159.5 665.7,159.4 663.1,158.5 660.9,156.9 659.3,154.5 658.3,151.6 658,148.3 658.3,144.8 659.2,141.3 660.5,138.1 662.1,135.2 663.9,132.9 665.6,131.3Z" fill="#661666" stroke="#470f47" stroke-width="0.8"/>
<path d="M572.2,154.5 572.8,151.3 572.9,148.5 572.7,146.3 572,144.8 571.2,144.1 570.2,144.4 569.2,145.5 568.4,147.4 567.9,150 567.7,153.2 567.9,156.6 568.7,160.2 555,158.7 554.2,155.2 554,151.7 554.2,148.6 554.7,146 555.5,144 556.5,142.9 557.5,142.7 558.3,143.3 559,144.8 559.2,147.1 559.1,149.9 558.5,153Z" fill="#661666" stroke="#470f47" stroke-width="0.8"/>
<path d="M594.6,156.9 595.2,153.7 595.3,150.9 595.1,148.7 594.4,147.2 593.6,146.5 592.6,146.8 591.6,147.9 590.8,149.8 590.3,152.4 590.1,155.6 590.3,159 591.1,162.6 577.4,161.1 576.6,157.6 576.4,154.1 576.6,151 577.1,148.4 577.9,146.4 578.9,145.3 579.9,145.1 580.7,145.7 581.4,147.2 581.6,149.5 581.5,152.3 580.9,155.4Z" fill="#661666" stroke="#470f47" stroke-width="0.8"/>
<path d="M617,159.3 617.6,156.1 617.7,153.3 617.5,151.1 616.8,149.6 616,148.9 615,149.2 614,150.3 613.2,152.2 612.7,154.8 612.5,158 612.7,161.4 613.5,165 599.8,163.5 599,160 598.8,156.5 599,153.4 599.5,150.8 600.3,148.8 601.3,147.7 602.3,147.5 603.1,148.1 603.8,149.6 604,151.9 603.9,154.7 603.3,157.8Z" fill="#661666" stroke="#470f47" stroke-width="0.8"/>
<path d="M539,173.3 536.2,173.5 533.1,174.2 529.8,175.4 526.7,177 523.8,179.1 521.5,181.6 519.8,184.3 519,187.1 519,189.8 520,192.4 521.7,194.8 524.2,196.8 522,183.2 519.5,181.2 517.7,178.8 516.8,176.2 516.7,173.5 517.6,170.7 519.2,168 521.6,165.5 524.4,163.4 527.6,161.8 530.9,160.6 534,159.9 536.8,159.7Z" fill="#661666" stroke="#470f47" stroke-width="0.8"/>
<path d="M542.3,193.7 539.6,193.8 536.4,194.5 533.2,195.7 530,197.4 527.1,199.5 524.8,201.9 523.1,204.6 522.3,207.4 522.4,210.2 523.3,212.8 525.1,215.1 527.5,217.1 525.3,203.5 522.8,201.5 521.1,199.2 520.1,196.6 520.1,193.8 520.9,191 522.6,188.3 524.9,185.9 527.8,183.8 530.9,182.1 534.2,180.9 537.3,180.3 540.1,180.1Z" fill="#661666" stroke="#470f47" stroke-width="0.8"/>
<path d="M545.7,214 542.9,214.2 539.8,214.9 536.5,216 533.3,217.7 530.5,219.8 528.1,222.3 526.5,224.9 525.6,227.7 525.7,230.5 526.6,233.1 528.4,235.5 530.9,237.4 528.7,223.8 526.2,221.9 524.4,219.5 523.5,216.9 523.4,214.1 524.2,211.3 525.9,208.7 528.2,206.2 531.1,204.1 534.3,202.4 537.5,201.3 540.7,200.6 543.5,200.4Z" fill="#661666" stroke="#470f47" stroke-width="0.8"/>
<path d="M543.9,204.2 543,205.1 542,206.6 541,208.8 540.2,211.4 539.7,214.3 539.5,217.4 539.9,220.5 540.7,223.3 542,225.9 543.7,227.9 545.9,229.2 548.4,229.9 536.1,223.8 533.6,223.1 531.4,221.7 529.6,219.7 528.3,217.2 527.5,214.3 527.2,211.2 527.4,208.1 527.9,205.2 528.7,202.6 529.7,200.5 530.7,198.9 531.6,198.1Z" fill="#661666" stroke="#470f47" stroke-width="0.8"/>
<path d="M612.6,167.8 614,165.5 614.7,163.4 614.8,161.9 614.3,161.1 613.3,161 611.9,161.7 610.3,163.1 608.7,165.3 607.1,168.1 605.8,171.4 604.9,174.9 604.6,178.5 593.2,170.8 593.5,167.2 594.4,163.7 595.7,160.4 597.2,157.6 598.9,155.4 600.5,154 601.9,153.3 602.9,153.4 603.4,154.2 603.3,155.7 602.6,157.8 601.2,160.1Z" fill="#661666" stroke="#470f47" stroke-width="0.8"/>
<path d="M632.2,181 633.6,178.7 634.3,176.6 634.4,175.1 633.9,174.3 632.9,174.2 631.5,174.9 629.9,176.3 628.3,178.5 626.7,181.3 625.4,184.6 624.5,188.1 624.2,191.7 612.8,184 613.1,180.4 614,176.9 615.3,173.6 616.8,170.8 618.5,168.6 620.1,167.2 621.5,166.5 622.5,166.6 623,167.4 622.9,168.9 622.2,171 620.8,173.3Z" fill="#661666" stroke="#470f47" stroke-width="0.8"/>
<path d="M651.8,194.2 653.2,191.9 653.9,189.8 654,188.3 653.5,187.5 652.5,187.4 651.1,188.1 649.5,189.5 647.9,191.7 646.3,194.5 645,197.8 644.1,201.3 643.8,204.9 632.4,197.2 632.7,193.6 633.6,190.1 634.9,186.8 636.4,184 638.1,181.8 639.7,180.4 641.1,179.7 642.1,179.8 642.6,180.6 642.5,182.1 641.8,184.2 640.4,186.5Z" fill="#661666" stroke="#470f47" stroke-width="0.8"/>
<path d="M683.7,164.1 681.3,164 678.8,164.7 676.4,166.2 674.2,168.5 672.5,171.3 671.3,174.6 670.8,178 671.1,181.5 672.2,184.7 673.9,187.4 676.3,189.6 679.1,191 675,188.6 672.2,187.2 669.8,185 668,182.2 667,179 666.7,175.6 667.2,172.2 668.3,168.9 670.1,166.1 672.2,163.8 674.7,162.3 677.2,161.5 679.5,161.6Z" fill="#661666" stroke="#470f47" stroke-width="1.1"/>
<path d="M693.4,169.9 691.1,169.8 688.6,170.5 686.1,172 684,174.3 682.2,177.1 681.1,180.4 680.6,183.8 680.9,187.3 681.9,190.5 683.7,193.2 686.1,195.4 688.9,196.8 684.8,194.4 681.9,192.9 679.6,190.8 677.8,188 676.8,184.8 676.5,181.4 677,177.9 678.1,174.7 679.8,171.8 682,169.6 684.4,168 686.9,167.3 689.3,167.4Z" fill="#661666" stroke="#470f47" stroke-width="1.1"/>
<path d="M703.2,175.6 700.8,175.5 698.4,176.3 695.9,177.8 693.8,180.1 692,182.9 690.9,186.1 690.4,189.6 690.7,193 691.7,196.2 693.5,199 695.8,201.2 698.7,202.6 694.6,200.1 691.7,198.7 689.3,196.6 687.6,193.8 686.5,190.6 686.3,187.2 686.7,183.7 687.9,180.5 689.6,177.6 691.8,175.4 694.2,173.8 696.7,173.1 699.1,173.2Z" fill="#661666" stroke="#470f47" stroke-width="1.1"/>
<path d="M713,181.4 710.6,181.3 708.1,182 705.7,183.6 703.5,185.8 701.8,188.7 700.6,191.9 700.2,195.4 700.5,198.8 701.5,202 703.2,204.8 705.6,206.9 708.5,208.4 704.3,205.9 701.5,204.5 699.1,202.3 697.4,199.6 696.3,196.4 696,192.9 696.5,189.5 697.7,186.2 699.4,183.4 701.6,181.1 704,179.6 706.5,178.9 708.9,179Z" fill="#661666" stroke="#470f47" stroke-width="1.1"/>
<path d="M577.2,246.6 575.2,247.1 572.7,248.2 570.1,249.9 567.4,252.2 565,254.9 563,257.9 561.6,261 561,264.2 561.1,267.2 562,269.8 563.8,272.1 566.2,273.8 559.3,261.9 556.8,260.2 555.1,257.9 554.2,255.2 554.1,252.2 554.7,249.1 556.1,245.9 558.1,243 560.5,240.3 563.1,238 565.8,236.3 568.3,235.2 570.3,234.7Z" fill="#ad7334" stroke="#795024" stroke-width="0.8"/>
<path d="M588.2,265.6 586.2,266.1 583.7,267.2 581.1,268.9 578.4,271.2 576,273.9 574,276.9 572.6,280 572,283.2 572.1,286.2 573,288.8 574.8,291.1 577.2,292.8 570.3,280.9 567.8,279.2 566.1,276.9 565.2,274.2 565.1,271.2 565.7,268.1 567.1,264.9 569.1,262 571.5,259.3 574.1,257 576.8,255.3 579.3,254.2 581.3,253.7Z" fill="#ad7334" stroke="#795024" stroke-width="0.8"/>
<path d="M589.9,205.4 588.9,208.1 588.1,211.3 587.8,214.8 588,218.3 588.7,221.7 589.9,224.7 591.7,227.2 593.9,229 596.4,230 599.3,230.1 602.2,229.4 605.1,227.9 592.1,223.3 589.2,224.8 586.3,225.5 583.5,225.3 580.9,224.4 578.7,222.6 576.9,220.1 575.7,217.1 575,213.7 574.8,210.2 575.1,206.7 575.9,203.5 576.9,200.8Z" fill="#a75c16" stroke="#75400f" stroke-width="0.8"/>
<path d="M609.9,212.5 608.9,215.2 608.1,218.4 607.8,221.9 608,225.4 608.7,228.8 609.9,231.8 611.7,234.3 613.9,236.1 616.4,237 619.3,237.2 622.2,236.5 625.1,235 612.1,230.4 609.2,231.8 606.3,232.6 603.5,232.4 600.9,231.5 598.7,229.7 596.9,227.2 595.7,224.2 595,220.8 594.8,217.2 595.1,213.8 595.9,210.6 596.9,207.8Z" fill="#a75c16" stroke="#75400f" stroke-width="0.8"/>
<path d="M629.9,219.5 628.9,222.3 628.1,225.5 627.8,228.9 628,232.5 628.7,235.9 629.9,238.9 631.7,241.4 633.9,243.2 636.4,244.1 639.3,244.3 642.2,243.5 645.1,242.1 632.1,237.5 629.2,238.9 626.3,239.7 623.5,239.5 620.9,238.6 618.7,236.8 616.9,234.3 615.7,231.3 615,227.9 614.8,224.3 615.1,220.9 615.9,217.7 616.9,214.9Z" fill="#a75c16" stroke="#75400f" stroke-width="0.8"/>
<path d="M649.9,226.6 648.9,229.4 648.1,232.6 647.8,236 648,239.6 648.7,243 649.9,246 651.7,248.5 653.9,250.3 656.4,251.2 659.3,251.3 662.2,250.6 665.1,249.2 652.1,244.5 649.2,246 646.3,246.7 643.5,246.6 640.9,245.6 638.7,243.9 636.9,241.4 635.7,238.4 635,235 634.8,231.4 635.1,227.9 635.9,224.7 636.9,222Z" fill="#a75c16" stroke="#75400f" stroke-width="0.8"/>
<path d="M669.9,233.7 668.9,236.4 668.1,239.6 667.8,243.1 668,246.7 668.7,250.1 669.9,253.1 671.7,255.6 673.9,257.3 676.4,258.3 679.3,258.4 682.2,257.7 685.1,256.2 672.1,251.6 669.2,253.1 666.3,253.8 663.5,253.7 660.9,252.7 658.7,251 656.9,248.5 655.7,245.5 655,242.1 654.8,238.5 655.1,235 655.9,231.8 656.9,229.1Z" fill="#a75c16" stroke="#75400f" stroke-width="0.8"/>
<path d="M597.9,268.9 597.8,270.5 598.3,272.6 599.3,275.2 601,278 603.1,280.7 605.6,283.2 608.5,285.3 611.6,286.8 614.6,287.5 617.6,287.5 620.3,286.6 622.7,284.9 610.1,290.6 607.8,292.3 605.1,293.2 602.1,293.2 599,292.5 596,291 593.1,288.9 590.5,286.4 588.4,283.7 586.8,280.9 585.7,278.3 585.3,276.2 585.3,274.6Z" fill="#a75c16" stroke="#75400f" stroke-width="0.8"/>
<path d="M619.2,259.2 619.2,260.8 619.6,263 620.7,265.5 622.3,268.3 624.4,271 627,273.6 629.8,275.6 632.9,277.1 636,277.9 639,277.8 641.7,276.9 644,275.3 631.4,281 629.1,282.6 626.4,283.5 623.4,283.6 620.3,282.8 617.3,281.3 614.4,279.2 611.9,276.7 609.7,274 608.1,271.2 607.1,268.7 606.6,266.5 606.7,264.9Z" fill="#a75c16" stroke="#75400f" stroke-width="0.8"/>
<path d="M640.6,249.5 640.5,251.1 641,253.3 642,255.9 643.6,258.6 645.8,261.4 648.3,263.9 651.2,266 654.2,267.5 657.3,268.2 660.3,268.2 663,267.3 665.3,265.6 652.8,271.3 650.4,273 647.7,273.8 644.8,273.9 641.7,273.1 638.6,271.7 635.8,269.6 633.2,267.1 631.1,264.3 629.5,261.6 628.4,259 627.9,256.8 628,255.2Z" fill="#a75c16" stroke="#75400f" stroke-width="0.8"/>
<path d="M561.3,323.6 560.8,326.1 560.7,329.1 561,332.5 561.8,336 563.1,339.4 564.8,342.4 567,344.8 569.5,346.5 572.2,347.4 575,347.4 577.7,346.5 580.3,344.7 566.5,344 563.9,345.8 561.2,346.7 558.4,346.7 555.7,345.8 553.2,344.1 551.1,341.7 549.3,338.7 548,335.3 547.2,331.8 546.9,328.4 547.1,325.4 547.6,322.9Z" fill="#661666" stroke="#470f47" stroke-width="0.8"/>
<path d="M582.6,324.6 582,327.2 581.9,330.2 582.2,333.6 583,337.1 584.3,340.4 586.1,343.4 588.2,345.9 590.7,347.6 593.4,348.5 596.2,348.5 598.9,347.6 601.5,345.8 587.7,345.1 585.2,346.9 582.4,347.8 579.6,347.8 576.9,346.9 574.5,345.2 572.3,342.7 570.5,339.8 569.2,336.4 568.5,332.9 568.1,329.5 568.3,326.5 568.8,323.9Z" fill="#661666" stroke="#470f47" stroke-width="0.8"/>
<path d="M603.8,325.7 603.3,328.2 603.1,331.3 603.4,334.7 604.2,338.2 605.5,341.5 607.3,344.5 609.5,347 611.9,348.7 614.6,349.5 617.4,349.5 620.2,348.6 622.7,346.9 609,346.2 606.4,347.9 603.7,348.8 600.9,348.9 598.2,348 595.7,346.3 593.5,343.8 591.8,340.8 590.5,337.5 589.7,334 589.4,330.6 589.5,327.5 590,325Z" fill="#661666" stroke="#470f47" stroke-width="0.8"/>
<path d="M625,326.8 624.5,329.3 624.4,332.4 624.7,335.8 625.5,339.2 626.8,342.6 628.5,345.6 630.7,348 633.2,349.7 635.9,350.6 638.6,350.6 641.4,349.7 644,348 630.2,347.3 627.6,349 624.9,349.9 622.1,349.9 619.4,349.1 616.9,347.3 614.8,344.9 613,341.9 611.7,338.6 610.9,335.1 610.6,331.7 610.7,328.6 611.3,326.1Z" fill="#661666" stroke="#470f47" stroke-width="0.8"/>
<path d="M646.3,327.9 645.7,330.4 645.6,333.5 645.9,336.8 646.7,340.3 648,343.7 649.8,346.7 651.9,349.1 654.4,350.8 657.1,351.7 659.9,351.7 662.6,350.8 665.2,349.1 651.4,348.4 648.9,350.1 646.1,351 643.3,351 640.6,350.1 638.2,348.4 636,346 634.2,343 632.9,339.6 632.1,336.1 631.8,332.8 632,329.7 632.5,327.2Z" fill="#661666" stroke="#470f47" stroke-width="0.8"/>
<path d="M667.5,329 667,331.5 666.8,334.5 667.1,337.9 667.9,341.4 669.2,344.8 671,347.8 673.1,350.2 675.6,351.9 678.3,352.8 681.1,352.8 683.9,351.9 686.4,350.1 672.7,349.4 670.1,351.2 667.3,352.1 664.6,352.1 661.9,351.2 659.4,349.5 657.2,347.1 655.5,344.1 654.2,340.7 653.4,337.2 653.1,333.8 653.2,330.8 653.7,328.3Z" fill="#661666" stroke="#470f47" stroke-width="0.8"/>
<path d="M562.5,277.3 565.5,276.6 568,275.6 569.6,274.5 570.5,273.3 570.5,272.3 569.6,271.6 567.9,271.2 565.5,271.2 562.7,271.8 559.6,272.9 556.5,274.5 553.5,276.6 550.1,263.2 553.1,261.1 556.2,259.5 559.3,258.4 562.2,257.9 564.5,257.8 566.2,258.2 567.1,259 567.1,260 566.2,261.1 564.6,262.3 562.1,263.2 559.1,263.9Z" fill="#661666" stroke="#470f47" stroke-width="0.8"/>
<path d="M567.9,298.3 570.9,297.6 573.3,296.6 575,295.5 575.8,294.3 575.8,293.3 574.9,292.6 573.2,292.2 570.9,292.2 568.1,292.8 565,293.9 561.8,295.5 558.9,297.6 555.5,284.2 558.4,282.1 561.6,280.5 564.7,279.4 567.5,278.9 569.8,278.8 571.5,279.2 572.4,280 572.4,281 571.6,282.1 569.9,283.3 567.5,284.2 564.5,284.9Z" fill="#661666" stroke="#470f47" stroke-width="0.8"/>
<path d="M573.2,319.3 576.2,318.6 578.6,317.6 580.3,316.5 581.1,315.3 581.1,314.3 580.2,313.6 578.5,313.2 576.2,313.2 573.4,313.8 570.3,314.9 567.2,316.5 564.2,318.6 560.8,305.2 563.8,303.1 566.9,301.5 570,300.4 572.8,299.9 575.2,299.8 576.8,300.2 577.7,301 577.8,302 576.9,303.1 575.2,304.3 572.8,305.2 569.8,305.9Z" fill="#661666" stroke="#470f47" stroke-width="0.8"/>
<path d="M566.2,329.6 564.1,328.6 561.7,328.3 559.1,328.9 556.5,330.2 554.1,332.3 552.1,335 550.6,338.2 549.8,341.6 549.8,345 550.6,348.2 552.1,351.1 554.3,353.4 550.5,350.4 548.3,348.1 546.8,345.2 546,342 546.1,338.6 546.8,335.2 548.3,332.1 550.3,329.4 552.7,327.3 555.3,325.9 557.9,325.3 560.4,325.6 562.4,326.6Z" fill="#661666" stroke="#470f47" stroke-width="1.1"/>
<path d="M574.6,336.3 572.6,335.2 570.1,335 567.5,335.5 564.9,336.9 562.5,339 560.5,341.7 559,344.8 558.3,348.2 558.2,351.6 559,354.9 560.5,357.7 562.7,360 558.9,357 556.8,354.8 555.2,351.9 554.5,348.7 554.5,345.3 555.3,341.9 556.7,338.7 558.7,336 561.1,333.9 563.8,332.6 566.4,332 568.8,332.3 570.8,333.3Z" fill="#661666" stroke="#470f47" stroke-width="1.1"/>
<path d="M583.1,343 581,341.9 578.6,341.7 576,342.2 573.4,343.6 571,345.7 568.9,348.4 567.5,351.5 566.7,354.9 566.7,358.3 567.5,361.5 569,364.4 571.2,366.7 567.4,363.7 565.2,361.4 563.7,358.6 562.9,355.3 562.9,351.9 563.7,348.5 565.2,345.4 567.2,342.7 569.6,340.6 572.2,339.2 574.8,338.7 577.2,338.9 579.3,340Z" fill="#661666" stroke="#470f47" stroke-width="1.1"/>
<path d="M591.5,349.6 589.5,348.6 587,348.3 584.4,348.9 581.8,350.2 579.4,352.3 577.4,355 575.9,358.2 575.2,361.6 575.1,365 575.9,368.2 577.4,371.1 579.6,373.4 575.8,370.4 573.6,368.1 572.1,365.2 571.4,362 571.4,358.6 572.2,355.2 573.6,352.1 575.6,349.4 578,347.3 580.7,345.9 583.3,345.3 585.7,345.6 587.7,346.6Z" fill="#661666" stroke="#470f47" stroke-width="1.1"/>
<path d="M663.7,269.3 661.8,269.1 659.3,269.3 656.4,270.1 653.3,271.4 650.2,273.2 647.4,275.4 645,278 643.3,280.8 642.3,283.7 642.2,286.6 642.9,289.3 644.5,291.7 640.9,278.4 639.3,276 638.6,273.3 638.7,270.4 639.7,267.5 641.4,264.7 643.8,262.1 646.6,259.9 649.7,258.1 652.8,256.8 655.7,256 658.2,255.8 660.1,256Z" fill="#661666" stroke="#470f47" stroke-width="0.8"/>
<path d="M669.4,290.5 667.5,290.2 665,290.5 662.1,291.2 659,292.5 655.9,294.3 653.1,296.5 650.7,299.1 649,301.9 648,304.9 647.9,307.7 648.6,310.4 650.2,312.8 646.6,299.5 645,297.1 644.3,294.4 644.4,291.5 645.4,288.6 647.1,285.8 649.5,283.2 652.3,281 655.4,279.2 658.5,277.9 661.4,277.2 663.9,276.9 665.8,277.2Z" fill="#661666" stroke="#470f47" stroke-width="0.8"/>
<path d="M675.1,311.6 673.2,311.4 670.7,311.6 667.8,312.4 664.7,313.7 661.6,315.4 658.8,317.7 656.4,320.3 654.7,323.1 653.7,326 653.6,328.9 654.3,331.6 655.9,334 652.3,320.7 650.7,318.3 650,315.6 650.1,312.7 651.1,309.8 652.8,307 655.2,304.4 658,302.1 661.1,300.3 664.2,299.1 667.1,298.3 669.6,298.1 671.5,298.3Z" fill="#661666" stroke="#470f47" stroke-width="0.8"/>
<path d="M700.7,277.2 698.5,279.8 696.5,282.7 694.9,285.9 693.8,289.3 693.5,292.6 693.9,295.6 695,298.2 696.9,300.3 699.4,301.7 702.4,302.5 705.7,302.6 709.2,302 700.3,291.5 696.8,292.1 693.5,292 690.5,291.2 688,289.8 686.1,287.7 685,285.1 684.6,282 684.9,278.8 685.9,275.4 687.5,272.2 689.6,269.3 691.8,266.7Z" fill="#661666" stroke="#470f47" stroke-width="0.8"/>
<path d="M714.7,293.7 712.5,296.3 710.5,299.2 708.9,302.4 707.8,305.8 707.5,309.1 707.9,312.1 709,314.7 710.9,316.8 713.4,318.2 716.4,319 719.7,319.1 723.2,318.5 714.3,308 710.8,308.6 707.5,308.5 704.5,307.7 702,306.3 700.1,304.2 699,301.6 698.6,298.5 698.9,295.3 699.9,291.9 701.5,288.7 703.6,285.8 705.8,283.2Z" fill="#661666" stroke="#470f47" stroke-width="0.8"/>
<path d="M615,298.9 613.6,301.5 612.3,304.6 611.5,308 611.1,311.7 611.3,315.2 612.1,318.5 613.5,321.2 615.5,323.4 617.9,324.8 620.8,325.4 623.9,325.2 627.1,324.3 615,317.6 611.8,318.6 608.7,318.8 605.9,318.2 603.4,316.8 601.4,314.6 600,311.8 599.2,308.6 599,305 599.4,301.4 600.3,297.9 601.5,294.8 602.9,292.2Z" fill="#661666" stroke="#470f47" stroke-width="0.8"/>
<path d="M635,309.9 633.6,312.5 632.3,315.6 631.5,319 631.1,322.7 631.3,326.2 632.1,329.5 633.5,332.2 635.5,334.4 637.9,335.8 640.8,336.4 643.9,336.2 647.1,335.3 635,328.6 631.8,329.6 628.7,329.8 625.9,329.2 623.4,327.8 621.4,325.6 620,322.8 619.2,319.6 619,316 619.4,312.4 620.3,308.9 621.5,305.8 622.9,303.2Z" fill="#661666" stroke="#470f47" stroke-width="0.8"/>
<path d="M779.9,295.8 778.5,296.8 777.1,298.5 775.7,301 774.5,304 773.6,307.4 773.2,311 773.4,314.5 774.1,317.9 775.4,320.8 777.3,323 779.7,324.6 782.4,325.3 770.1,319.2 767.4,318.4 765,316.9 763.1,314.6 761.8,311.7 761,308.4 760.9,304.8 761.3,301.2 762.1,297.8 763.3,294.8 764.8,292.3 766.2,290.6 767.6,289.7Z" fill="#824984" stroke="#5b335c" stroke-width="0.8"/>
<path d="M799.9,305.8 798.5,306.8 797.1,308.5 795.7,311 794.5,314 793.6,317.4 793.2,321 793.4,324.5 794.1,327.9 795.4,330.8 797.3,333 799.7,334.6 802.4,335.3 790.1,329.2 787.4,328.4 785,326.9 783.1,324.6 781.8,321.7 781,318.4 780.9,314.8 781.3,311.2 782.1,307.8 783.3,304.8 784.8,302.3 786.2,300.6 787.6,299.7Z" fill="#824984" stroke="#5b335c" stroke-width="0.8"/>
<path d="M935.3,220.6 934,220.1 931.9,220 929.3,220.5 926.4,221.5 923.4,223.1 920.4,225.1 917.8,227.6 915.8,230.3 914.4,233.2 913.8,236.1 914,238.9 915.2,241.4 910.7,228.4 909.5,225.9 909.3,223.1 909.9,220.2 911.3,217.3 913.4,214.6 916,212.1 918.9,210.1 921.9,208.5 924.8,207.5 927.4,207 929.5,207 930.8,207.6Z" fill="#824984" stroke="#5b335c" stroke-width="0.8"/>
<path d="M942,239.9 940.6,239.4 938.6,239.4 936,239.8 933.1,240.9 930,242.4 927.1,244.5 924.5,246.9 922.4,249.7 921,252.6 920.4,255.5 920.7,258.2 921.8,260.8 917.3,247.7 916.2,245.2 915.9,242.4 916.5,239.5 917.9,236.6 920,233.9 922.6,231.4 925.6,229.4 928.6,227.8 931.5,226.8 934.1,226.3 936.1,226.4 937.5,226.9Z" fill="#824984" stroke="#5b335c" stroke-width="0.8"/>
<path d="M948.7,259.3 947.3,258.7 945.3,258.7 942.7,259.2 939.7,260.2 936.7,261.8 933.8,263.8 931.2,266.3 929.1,269 927.7,271.9 927.1,274.8 927.4,277.6 928.5,280.1 924,267.1 922.9,264.6 922.6,261.8 923.2,258.9 924.6,256 926.7,253.2 929.3,250.8 932.2,248.7 935.3,247.2 938.2,246.1 940.8,245.7 942.8,245.7 944.2,246.2Z" fill="#824984" stroke="#5b335c" stroke-width="0.8"/>
<path d="M799.2,200.8 798.7,202.3 798.4,204.5 798.6,207.3 799.2,210.5 800.4,213.8 802,217.1 804.1,220 806.6,222.4 809.3,224.2 812.2,225.1 815.1,225.1 817.9,224.2 804.2,225.6 801.4,226.5 798.5,226.5 795.6,225.6 792.9,223.8 790.4,221.4 788.3,218.5 786.7,215.2 785.5,211.9 784.9,208.7 784.7,205.9 785,203.7 785.5,202.2Z" fill="#661666" stroke="#470f47" stroke-width="0.8"/>
<path d="M822.8,198.4 822.3,199.9 822,202.1 822.2,204.9 822.8,208.1 824,211.4 825.6,214.7 827.7,217.6 830.2,220 832.9,221.8 835.8,222.7 838.7,222.7 841.5,221.8 827.8,223.2 825,224.1 822.1,224.1 819.2,223.2 816.5,221.4 814,219 811.9,216.1 810.3,212.8 809.1,209.5 808.5,206.3 808.3,203.5 808.6,201.3 809.1,199.8Z" fill="#661666" stroke="#470f47" stroke-width="0.8"/>
<path d="M765.2,260.1 763.4,259 761,258.6 758.3,259 755.4,260.1 752.7,262 750.2,264.4 748.3,267.3 746.9,270.6 746.3,273.9 746.6,277.1 747.6,280.1 749.5,282.6 745.8,277.9 744,275.4 742.9,272.4 742.7,269.2 743.2,265.9 744.6,262.7 746.5,259.7 749,257.3 751.7,255.4 754.6,254.3 757.3,253.9 759.7,254.3 761.5,255.4Z" fill="#661666" stroke="#470f47" stroke-width="0.8"/>
<path d="M772.6,269.4 770.7,268.3 768.3,268 765.6,268.3 762.8,269.4 760,271.3 757.6,273.7 755.6,276.7 754.3,279.9 753.7,283.2 753.9,286.5 755,289.4 756.8,291.9 753.1,287.2 751.3,284.7 750.2,281.8 750,278.5 750.6,275.2 751.9,272 753.9,269.1 756.3,266.6 759.1,264.8 761.9,263.6 764.6,263.3 767,263.7 768.9,264.8Z" fill="#661666" stroke="#470f47" stroke-width="0.8"/>
<path d="M779.9,278.8 778,277.7 775.6,277.3 772.9,277.7 770.1,278.8 767.3,280.6 764.9,283.1 762.9,286 761.6,289.2 761,292.6 761.3,295.8 762.3,298.7 764.1,301.2 760.4,296.6 758.6,294.1 757.6,291.1 757.3,287.9 757.9,284.5 759.2,281.3 761.2,278.4 763.7,275.9 766.4,274.1 769.2,273 772,272.6 774.3,273 776.2,274.1Z" fill="#661666" stroke="#470f47" stroke-width="0.8"/>
<path d="M767.7,302.7 765.4,302.7 762.5,303.3 759.4,304.3 756.3,305.9 753.3,307.9 750.7,310.4 748.7,313.1 747.5,315.9 747,318.8 747.5,321.5 748.8,324.1 750.9,326.2 747.8,312.8 745.6,310.6 744.3,308.1 743.8,305.4 744.3,302.5 745.5,299.6 747.5,296.9 750.1,294.5 753.1,292.5 756.2,290.9 759.4,289.9 762.2,289.3 764.6,289.3Z" fill="#661666" stroke="#470f47" stroke-width="0.8"/>
<path d="M772.7,323.7 770.4,323.7 767.5,324.3 764.4,325.3 761.3,326.9 758.3,328.9 755.7,331.4 753.7,334.1 752.5,336.9 752,339.8 752.5,342.5 753.8,345.1 755.9,347.2 752.8,333.8 750.6,331.6 749.3,329.1 748.8,326.4 749.3,323.5 750.5,320.6 752.5,317.9 755.1,315.5 758.1,313.5 761.2,311.9 764.4,310.9 767.2,310.3 769.6,310.3Z" fill="#661666" stroke="#470f47" stroke-width="0.8"/>
<path d="M803,255.2 799.6,256.3 796.3,257.8 793.4,259.8 791,262.1 789.4,264.7 788.5,267.5 788.6,270.3 789.6,273 791.3,275.4 793.8,277.5 796.9,279.2 800.3,280.4 799.3,266.7 795.9,265.5 792.9,263.8 790.4,261.7 788.6,259.2 787.6,256.5 787.6,253.7 788.4,251 790.1,248.4 792.4,246 795.4,244 798.6,242.5 802,241.5Z" fill="#661666" stroke="#470f47" stroke-width="0.8"/>
<path d="M804.5,276.5 801.1,277.5 797.8,279 794.9,281 792.5,283.4 790.9,286 790,288.7 790.1,291.5 791.1,294.2 792.8,296.7 795.3,298.8 798.4,300.5 801.8,301.7 800.8,287.9 797.4,286.7 794.4,285 791.9,282.9 790.1,280.5 789.1,277.8 789.1,275 789.9,272.2 791.6,269.6 793.9,267.3 796.9,265.3 800.1,263.8 803.5,262.7Z" fill="#661666" stroke="#470f47" stroke-width="0.8"/>
<path d="M806,297.7 802.6,298.8 799.3,300.3 796.4,302.3 794,304.6 792.4,307.2 791.5,310 791.6,312.8 792.6,315.5 794.3,317.9 796.8,320 799.9,321.7 803.3,322.9 802.3,309.2 798.9,308 795.9,306.3 793.4,304.2 791.6,301.7 790.6,299 790.6,296.2 791.4,293.5 793.1,290.9 795.4,288.5 798.4,286.5 801.6,285 805,284Z" fill="#661666" stroke="#470f47" stroke-width="0.8"/>
<path d="M807.5,319 804.1,320 800.8,321.5 797.9,323.5 795.5,325.9 793.9,328.5 793,331.2 793.1,334 794.1,336.7 795.8,339.2 798.3,341.3 801.4,343 804.8,344.2 803.8,330.4 800.4,329.2 797.4,327.5 794.9,325.4 793.1,323 792.1,320.3 792.1,317.5 792.9,314.7 794.6,312.1 796.9,309.8 799.9,307.8 803.1,306.3 806.5,305.2Z" fill="#661666" stroke="#470f47" stroke-width="0.8"/>
<path d="M827.8,269 830,267.1 831.5,265.3 832.2,263.6 832.2,262.4 831.5,261.7 830.2,261.7 828.3,262.3 826.1,263.5 823.7,265.5 821.4,268 819.4,270.9 817.7,274.1 809,263.4 810.7,260.2 812.8,257.2 815.1,254.8 817.4,252.8 819.6,251.5 821.5,250.9 822.9,251 823.6,251.7 823.6,252.9 822.8,254.5 821.3,256.4 819.1,258.3Z" fill="#661666" stroke="#470f47" stroke-width="0.8"/>
<path d="M841.4,285.8 843.6,283.9 845.1,282.1 845.8,280.4 845.8,279.2 845.1,278.5 843.8,278.5 841.9,279.1 839.7,280.3 837.3,282.3 835,284.8 833,287.7 831.3,290.9 822.6,280.2 824.3,277 826.4,274 828.7,271.6 831,269.6 833.2,268.3 835.1,267.7 836.5,267.8 837.2,268.5 837.2,269.7 836.4,271.3 834.9,273.2 832.7,275.1Z" fill="#661666" stroke="#470f47" stroke-width="0.8"/>
<path d="M855,302.6 857.2,300.7 858.7,298.9 859.4,297.2 859.4,296 858.7,295.3 857.4,295.3 855.5,295.9 853.3,297.1 850.9,299.1 848.6,301.6 846.6,304.5 844.9,307.7 836.2,297 837.9,293.8 840,290.8 842.3,288.4 844.6,286.4 846.8,285.1 848.7,284.5 850.1,284.6 850.8,285.3 850.8,286.5 850,288.1 848.5,290 846.3,291.9Z" fill="#661666" stroke="#470f47" stroke-width="0.8"/>
<path d="M874.2,272.7 871.7,274 869.1,275.9 866.6,278.3 864.4,281.1 862.7,284.2 861.5,287.4 861.1,290.5 861.5,293.4 862.7,295.8 864.6,297.8 867.2,299.2 870.3,300 862.6,288.5 859.5,287.8 857,286.4 855.1,284.4 853.9,281.9 853.5,279 853.9,275.9 855,272.7 856.8,269.7 859,266.8 861.5,264.4 864.1,262.5 866.5,261.2Z" fill="#661666" stroke="#470f47" stroke-width="0.8"/>
<path d="M885.4,289.5 882.9,290.8 880.3,292.7 877.8,295.1 875.6,297.9 873.9,301 872.7,304.2 872.3,307.3 872.7,310.2 873.9,312.6 875.8,314.6 878.4,316 881.5,316.8 873.8,305.3 870.7,304.6 868.2,303.2 866.3,301.2 865.1,298.7 864.7,295.8 865.1,292.7 866.2,289.5 868,286.5 870.2,283.6 872.7,281.2 875.3,279.3 877.7,278Z" fill="#661666" stroke="#470f47" stroke-width="0.8"/>
<path d="M791.2,327.4 790,328.1 788.6,329.7 787.3,332 786.3,334.9 785.6,338.2 785.3,341.8 785.5,345.3 786.3,348.7 787.6,351.6 789.5,353.9 791.8,355.5 794.5,356.2 781.6,351.4 778.9,350.7 776.6,349.1 774.7,346.8 773.4,343.9 772.6,340.5 772.4,336.9 772.7,333.4 773.4,330 774.4,327.1 775.7,324.8 777.1,323.3 778.3,322.6Z" fill="#661666" stroke="#470f47" stroke-width="0.8"/>
<path d="M810.4,334.6 809.2,335.3 807.8,336.9 806.5,339.2 805.5,342.1 804.8,345.4 804.5,349 804.7,352.5 805.5,355.9 806.8,358.8 808.7,361.1 811,362.7 813.7,363.4 800.8,358.6 798.1,357.9 795.8,356.3 793.9,354 792.6,351.1 791.8,347.7 791.6,344.1 791.9,340.6 792.6,337.2 793.6,334.3 794.9,332 796.3,330.5 797.5,329.8Z" fill="#661666" stroke="#470f47" stroke-width="0.8"/>
<path d="M836.9,310 837.8,313.2 839.2,316.4 841.1,319.5 843.4,322.3 846,324.5 848.8,326 851.7,326.6 854.6,326.4 857.3,325.3 859.7,323.4 861.7,320.8 863.2,317.6 849.6,320 848.1,323.1 846.1,325.7 843.7,327.7 841,328.8 838.1,329 835.2,328.3 832.4,326.8 829.8,324.6 827.5,321.9 825.6,318.8 824.2,315.5 823.3,312.4Z" fill="#661666" stroke="#470f47" stroke-width="0.8"/>
<path d="M859.9,306 860.8,309.2 862.2,312.4 864.1,315.5 866.4,318.3 869,320.5 871.8,322 874.7,322.6 877.6,322.4 880.3,321.3 882.7,319.4 884.7,316.8 886.2,313.6 872.6,316 871.1,319.1 869.1,321.7 866.7,323.7 864,324.8 861.1,325 858.2,324.3 855.4,322.8 852.8,320.6 850.5,317.9 848.6,314.8 847.2,311.5 846.3,308.4Z" fill="#661666" stroke="#470f47" stroke-width="0.8"/>
<path d="M845.6,331.3 844.5,333.2 843.7,335.7 843.2,338.8 843,342.3 843.4,345.9 844.3,349.3 845.7,352.4 847.5,355 849.8,356.9 852.3,357.9 855.1,358.1 857.9,357.4 844.4,354.7 841.6,355.4 838.8,355.2 836.3,354.2 834,352.3 832.1,349.7 830.8,346.6 829.9,343.2 829.5,339.6 829.6,336.1 830.2,333 831,330.5 832.1,328.6Z" fill="#661666" stroke="#470f47" stroke-width="0.8"/>
<path d="M865.6,335.3 864.5,337.2 863.7,339.7 863.2,342.8 863,346.3 863.4,349.9 864.3,353.3 865.7,356.4 867.5,359 869.8,360.9 872.3,361.9 875.1,362.1 877.9,361.4 864.4,358.7 861.6,359.4 858.8,359.2 856.3,358.2 854,356.3 852.1,353.7 850.8,350.6 849.9,347.2 849.5,343.6 849.6,340.1 850.2,337 851,334.5 852.1,332.6Z" fill="#661666" stroke="#470f47" stroke-width="0.8"/>
<path d="M772,290 C773.3,286.7 777,276.7 780,270 C783,263.3 788.3,253.3 790,250" fill="none" stroke="#8e1f8e" stroke-width="2" stroke-linecap="round" stroke-linejoin="round"/>
<path d="M819.5,204.1 819.6,206.8 820.1,210 821.1,213.4 822.5,216.7 824.5,219.8 826.8,222.4 829.5,224.3 832.4,225.4 835.3,225.6 838.2,225 840.8,223.5 843.2,221.2 829.5,221.9 827.1,224.2 824.4,225.7 821.5,226.4 818.6,226.1 815.7,225 813.1,223.1 810.7,220.5 808.8,217.5 807.3,214.1 806.3,210.7 805.8,207.6 805.8,204.8Z" fill="#a7a723" stroke="#757518" stroke-width="0.8"/>
<path d="M859.4,251.8 858.4,251.8 856.9,252.2 855.2,253.1 853.3,254.4 851.3,256.2 849.5,258.3 848,260.7 847,263.2 846.5,265.7 846.5,268.1 847.2,270.3 848.5,272.1 841.6,260.2 840.3,258.3 839.6,256.1 839.6,253.7 840.1,251.2 841.2,248.7 842.6,246.4 844.4,244.2 846.4,242.5 848.3,241.1 850.1,240.2 851.5,239.8 852.5,239.9Z" fill="#a7a723" stroke="#757518" stroke-width="0.8"/>
<path d="M899.6,144.3 898.4,146.3 897.3,149 896.5,152.2 896.1,155.7 896.2,159.3 896.9,162.8 898,166 899.8,168.6 902,170.5 904.6,171.6 907.4,171.9 910.4,171.3 897.4,166.7 894.4,167.3 891.6,167 889,165.9 886.8,164 885.1,161.4 883.9,158.2 883.2,154.7 883.1,151.1 883.5,147.6 884.3,144.4 885.4,141.7 886.6,139.7Z" fill="#661666" stroke="#470f47" stroke-width="0.8"/>
<path d="M920.3,151.7 919,153.7 918,156.3 917.2,159.5 916.8,163.1 916.9,166.7 917.5,170.2 918.7,173.3 920.4,175.9 922.6,177.8 925.2,178.9 928.1,179.2 931,178.6 918.1,174 915.1,174.6 912.2,174.3 909.7,173.2 907.5,171.3 905.7,168.7 904.5,165.5 903.9,162.1 903.8,158.4 904.2,154.9 905,151.7 906,149.1 907.3,147.1Z" fill="#661666" stroke="#470f47" stroke-width="0.8"/>
<path d="M940.9,159 939.7,161 938.6,163.7 937.8,166.9 937.4,170.4 937.5,174 938.2,177.5 939.4,180.6 941.1,183.2 943.3,185.2 945.9,186.3 948.7,186.5 951.7,185.9 938.7,181.3 935.8,181.9 932.9,181.7 930.3,180.6 928.1,178.6 926.4,176 925.2,172.9 924.6,169.4 924.5,165.8 924.8,162.3 925.6,159.1 926.7,156.4 928,154.4Z" fill="#661666" stroke="#470f47" stroke-width="0.8"/>
<path d="M890.7,189.4 892.2,186.2 893.1,183.2 893.5,180.6 893.4,178.5 892.9,177 892,176.4 890.9,176.7 889.7,177.8 888.6,179.8 887.6,182.4 887,185.6 886.7,189.1 873.5,185.4 873.7,181.9 874.4,178.8 875.3,176.1 876.5,174.2 877.6,173.1 878.7,172.8 879.6,173.4 880.2,174.8 880.3,176.9 879.8,179.6 878.9,182.6 877.5,185.7Z" fill="#661666" stroke="#470f47" stroke-width="0.8"/>
<path d="M911.1,195 912.6,191.8 913.5,188.8 913.9,186.2 913.8,184.1 913.3,182.6 912.4,182 911.3,182.3 910.1,183.4 909,185.4 908,188 907.4,191.2 907.1,194.7 893.9,191 894.1,187.5 894.8,184.4 895.7,181.7 896.9,179.8 898,178.7 899.1,178.4 900,179 900.6,180.4 900.7,182.5 900.2,185.2 899.3,188.2 897.9,191.3Z" fill="#661666" stroke="#470f47" stroke-width="0.8"/>
<path d="M931.5,200.6 933,197.4 933.9,194.4 934.3,191.8 934.2,189.7 933.7,188.2 932.8,187.6 931.7,187.9 930.5,189 929.4,191 928.4,193.6 927.8,196.8 927.5,200.3 914.3,196.6 914.5,193.1 915.2,190 916.1,187.3 917.3,185.4 918.4,184.3 919.5,184 920.4,184.6 921,186 921.1,188.1 920.6,190.8 919.7,193.8 918.3,196.9Z" fill="#661666" stroke="#470f47" stroke-width="0.8"/>
<path d="M966.2,165.3 964.8,166.6 963.3,168.6 961.9,171.2 960.8,174.4 960,177.9 959.8,181.5 960.1,184.9 961.1,188.1 962.6,190.7 964.6,192.7 967.1,193.8 969.9,194.2 957.5,188.2 954.7,187.8 952.2,186.6 950.2,184.7 948.7,182 947.8,178.9 947.4,175.4 947.6,171.9 948.4,168.4 949.5,165.2 950.9,162.5 952.4,160.5 953.8,159.3Z" fill="#661666" stroke="#470f47" stroke-width="0.8"/>
<path d="M984.7,174.3 983.3,175.6 981.8,177.6 980.4,180.2 979.3,183.4 978.5,186.9 978.3,190.5 978.6,193.9 979.6,197.1 981.1,199.7 983.1,201.7 985.6,202.8 988.4,203.2 976,197.2 973.2,196.8 970.7,195.6 968.7,193.7 967.2,191 966.3,187.9 965.9,184.4 966.1,180.9 966.9,177.4 968,174.2 969.4,171.5 970.9,169.5 972.3,168.3Z" fill="#661666" stroke="#470f47" stroke-width="0.8"/>
<path d="M971,210.8 968.9,213 966.8,215.8 965.1,219 963.8,222.4 963.2,225.9 963.2,229.2 964,232.2 965.5,234.7 967.6,236.7 970.4,238 973.6,238.5 977,238.4 967.7,228.2 964.3,228.4 961.1,227.8 958.3,226.5 956.1,224.6 954.6,222 953.9,219 953.9,215.7 954.5,212.3 955.8,208.8 957.5,205.7 959.6,202.9 961.7,200.6Z" fill="#661666" stroke="#470f47" stroke-width="0.8"/>
<path d="M987.5,228.8 985.4,231 983.3,233.8 981.6,237 980.3,240.4 979.7,243.9 979.7,247.2 980.5,250.2 982,252.7 984.1,254.7 986.9,256 990.1,256.5 993.5,256.4 984.2,246.2 980.8,246.4 977.6,245.8 974.8,244.5 972.6,242.6 971.1,240 970.4,237 970.4,233.7 971,230.3 972.3,226.8 974,223.7 976.1,220.9 978.2,218.6Z" fill="#661666" stroke="#470f47" stroke-width="0.8"/>
<path d="M960.6,236.4 959.2,236.8 957.5,238 955.8,240 954,242.5 952.6,245.6 951.5,249 950.9,252.6 950.8,256 951.5,259.2 952.7,261.9 954.6,264 957.1,265.4 945.7,257.6 943.3,256.2 941.4,254.1 940.1,251.4 939.5,248.2 939.5,244.8 940.1,241.2 941.2,237.8 942.7,234.7 944.4,232.2 946.2,230.2 947.8,229 949.2,228.6Z" fill="#661666" stroke="#470f47" stroke-width="0.8"/>
<path d="M978.1,248.4 976.7,248.8 975,250 973.3,252 971.5,254.5 970.1,257.6 969,261 968.4,264.6 968.3,268 969,271.2 970.2,273.9 972.1,276 974.6,277.4 963.2,269.6 960.8,268.2 958.9,266.1 957.6,263.4 957,260.2 957,256.8 957.6,253.2 958.7,249.8 960.2,246.7 961.9,244.2 963.7,242.2 965.3,241 966.7,240.6Z" fill="#661666" stroke="#470f47" stroke-width="0.8"/>
<path d="M885.6,202.4 884.1,203.1 882.4,204.6 880.6,206.7 878.9,209.5 877.5,212.7 876.5,216.2 876,219.7 876.2,223 877,226.1 878.5,228.6 880.5,230.4 883.1,231.5 871.9,223.6 869.3,222.5 867.2,220.6 865.7,218.1 864.9,215.1 864.8,211.7 865.2,208.2 866.2,204.8 867.6,201.6 869.3,198.8 871.1,196.6 872.9,195.2 874.4,194.5Z" fill="#661666" stroke="#470f47" stroke-width="0.8"/>
<path d="M902.6,214.4 901.1,215.1 899.4,216.6 897.6,218.7 895.9,221.5 894.5,224.7 893.5,228.2 893,231.7 893.2,235 894,238.1 895.5,240.6 897.5,242.4 900.1,243.5 888.9,235.6 886.3,234.5 884.2,232.6 882.7,230.1 881.9,227.1 881.8,223.7 882.2,220.2 883.2,216.8 884.6,213.6 886.3,210.8 888.1,208.6 889.9,207.2 891.4,206.5Z" fill="#661666" stroke="#470f47" stroke-width="0.8"/>
<path d="M920.8,289.7 919.1,292.2 917.7,295.2 916.6,298.6 915.9,302.2 915.9,305.7 916.4,309 917.6,311.9 919.4,314.1 921.7,315.7 924.5,316.5 927.6,316.5 930.8,315.7 919.2,308.3 916,309 912.9,309 910.1,308.3 907.8,306.7 906,304.4 904.8,301.5 904.3,298.2 904.3,294.7 905,291.1 906.1,287.8 907.6,284.8 909.2,282.3Z" fill="#661666" stroke="#470f47" stroke-width="0.8"/>
<path d="M959.1,274.4 957.4,277.6 956.2,281 955.6,284.4 955.7,287.6 956.5,290.5 958,292.9 960.2,294.7 962.8,295.8 965.9,296.1 969.3,295.7 972.7,294.7 975.9,293.1 965.9,283.6 962.7,285.2 959.3,286.2 956,286.6 952.9,286.2 950.2,285.2 948,283.4 946.5,281 945.7,278.1 945.7,274.9 946.3,271.5 947.4,268.1 949.1,264.9Z" fill="#661666" stroke="#470f47" stroke-width="0.8"/>
<path d="M899.7,249.9 898.3,250.3 896.4,251.2 894.3,252.5 892.2,254.4 890.1,256.6 888.3,259.2 887,261.9 886.2,264.8 886.1,267.5 886.6,270.1 887.9,272.4 889.7,274.3 883.3,262.1 881.4,260.2 880.2,257.9 879.6,255.4 879.8,252.6 880.5,249.8 881.9,247 883.6,244.4 885.7,242.2 887.9,240.4 890,239 891.8,238.1 893.3,237.7Z" fill="#a7a723" stroke="#757518" stroke-width="0.8"/>
<path d="M925.5,276.3 924.8,279.2 924.5,282.2 924.7,285.2 925.3,288.1 926.4,290.6 928,292.6 930,294 932.3,294.8 934.9,294.8 937.5,294.2 940.2,292.9 942.7,291.2 930.3,285.2 927.8,286.9 925.1,288.1 922.5,288.8 919.9,288.7 917.6,288 915.6,286.6 914,284.5 912.9,282 912.3,279.2 912.1,276.1 912.4,273.1 913.1,270.3Z" fill="#a7a723" stroke="#757518" stroke-width="0.8"/>
<path d="M944,285.3 943.3,288.2 943,291.2 943.2,294.2 943.8,297.1 944.9,299.6 946.5,301.6 948.5,303 950.8,303.8 953.4,303.8 956,303.2 958.7,301.9 961.2,300.2 948.8,294.2 946.3,295.9 943.6,297.1 941,297.8 938.4,297.7 936.1,297 934.1,295.6 932.5,293.5 931.4,291 930.8,288.2 930.6,285.1 930.9,282.1 931.6,279.3Z" fill="#a7a723" stroke="#757518" stroke-width="0.8"/>
<path d="M520,150 C519,153.3 513.7,161.7 514,170 C514.3,178.3 518.3,190.3 522,200 C525.7,209.7 530.3,221.3 536,228 C541.7,234.7 552.7,238 556,240" fill="none" stroke="#8e1f8e" stroke-width="2.4" stroke-linecap="round" stroke-linejoin="round"/>
<path d="M677,152 C679.2,151.7 688.5,148.3 690,150 C691.5,151.7 686.7,160 686,162" fill="none" stroke="#8e1f8e" stroke-width="2.4" stroke-linecap="round" stroke-linejoin="round"/>
<path d="M578,232 C580,233.3 585.5,237.8 590,240 C594.5,242.2 600.8,245.3 605,245 C609.2,244.7 611.7,237.5 615,238 C618.3,238.5 620.8,245.7 625,248 C629.2,250.3 637.5,251.3 640,252" fill="none" stroke="#f0a048" stroke-width="2" stroke-linecap="round" stroke-linejoin="round"/>
<path d="M518,292 C520.8,292 529.7,292.7 535,292 C540.3,291.3 547.5,288.7 550,288" fill="none" stroke="#8e1f8e" stroke-width="2.4" stroke-linecap="round" stroke-linejoin="round"/>
<path d="M686,340 C689.2,339.7 700.7,341.3 705,338 C709.3,334.7 710.2,325 712,320 C713.8,315 715.3,310 716,308" fill="none" stroke="#8e1f8e" stroke-width="2.4" stroke-linecap="round" stroke-linejoin="round"/>
<path d="M745,240 C745.5,237.5 745.2,229.2 748,225 C750.8,220.8 757.5,217.2 762,215 C766.5,212.8 772.8,212.5 775,212" fill="none" stroke="#8e1f8e" stroke-width="2.2" stroke-linecap="round" stroke-linejoin="round"/>
<path d="M744,262 C743.7,265.8 741.3,278.7 742,285 C742.7,291.3 747,297.5 748,300" fill="none" stroke="#8e1f8e" stroke-width="2.2" stroke-linecap="round" stroke-linejoin="round"/>
<path d="M880,350 C881.3,348.3 886,343.3 888,340 C890,336.7 892,333.7 892,330 C892,326.3 888.7,320 888,318" fill="none" stroke="#8e1f8e" stroke-width="2.2" stroke-linecap="round" stroke-linejoin="round"/>
<path d="M843,225 C843.8,226.7 847.7,232 848,235 C848.3,238 845.5,241.7 845,243" fill="none" stroke="#e8e830" stroke-width="2.2" stroke-linecap="round" stroke-linejoin="round"/>
<path d="M858,269 C857,271.2 852.2,277.7 852,282 C851.8,286.3 856.7,291.2 857,295 C857.3,298.8 854.5,303.3 854,305" fill="none" stroke="#e8e830" stroke-width="2.2" stroke-linecap="round" stroke-linejoin="round"/>
<path d="M880,148 C878.7,150 872.3,156 872,160 C871.7,164 877.8,167.7 878,172 C878.2,176.3 873.8,183.7 873,186" fill="none" stroke="#8e1f8e" stroke-width="2.2" stroke-linecap="round" stroke-linejoin="round"/>
<path d="M990,242 C989.2,244.7 987.5,253.7 985,258 C982.5,262.3 976.7,266.3 975,268" fill="none" stroke="#8e1f8e" stroke-width="2.2" stroke-linecap="round" stroke-linejoin="round"/>
<path d="M900,272 C901.3,273.3 905.7,279.3 908,280 C910.3,280.7 913,276.7 914,276" fill="none" stroke="#e8e830" stroke-width="2.2" stroke-linecap="round" stroke-linejoin="round"/>
<path d="M918,200 C917.7,202.5 918.2,210.8 916,215 C913.8,219.2 908.8,221.2 905,225 C901.2,228.8 895,235.8 893,238" fill="none" stroke="#e8e830" stroke-width="1.8" stroke-linecap="round" stroke-linejoin="round"/>
<path d="M548.8,197.1 551.9,196.6 555,195.3 558,193.3 560.7,190.9 563,188.2 564.8,185.3 566,182.6 566.7,180.3 566.8,178.4 566.3,177.3 565.5,176.9 564.3,177.4 551.8,171.7 552.9,171.2 553.8,171.6 554.2,172.7 554.1,174.6 553.5,176.9 552.2,179.6 550.4,182.5 548.1,185.2 545.5,187.7 542.5,189.6 539.4,190.9 536.3,191.4Z" fill="#98569b" stroke="#5a335c" stroke-width="0.8"/>
<path d="M556.1,194.5 558.7,192.6 561,190.3 563,187.8 564.6,185.2 565.7,182.8 566.4,180.6 566.6,178.8 566.4,177.6 554.2,172 554.4,173.3 554.2,175.1 553.6,177.3 552.4,179.7 550.8,182.3 548.8,184.8 546.5,187.1 543.9,189Z" fill="#b566b8"/>
<path d="M559,188.9 560.8,186.6 562.3,184.2 563.4,181.9 564,179.8 556.5,176.4 555.8,178.5 554.7,180.8 553.3,183.2 551.4,185.5Z" fill="#cb94cd"/>
<path d="M570,206.7 573.1,206.2 576.2,204.9 579.2,202.9 581.9,200.5 584.2,197.8 586,194.9 587.2,192.2 587.9,189.9 588,188 587.5,186.9 586.7,186.5 585.5,187 573,181.3 574.1,180.8 575,181.2 575.4,182.3 575.3,184.2 574.7,186.5 573.4,189.2 571.6,192.1 569.3,194.8 566.7,197.3 563.7,199.2 560.6,200.5 557.5,201Z" fill="#98569b" stroke="#5a335c" stroke-width="0.8"/>
<path d="M577.3,204.1 579.9,202.2 582.2,199.9 584.2,197.4 585.8,194.8 586.9,192.4 587.6,190.2 587.8,188.4 587.6,187.2 575.4,181.6 575.6,182.9 575.4,184.7 574.8,186.9 573.6,189.3 572,191.9 570,194.4 567.7,196.7 565.1,198.6Z" fill="#b566b8"/>
<path d="M580.2,198.5 582,196.2 583.5,193.8 584.6,191.5 585.2,189.4 577.7,186 577,188.1 575.9,190.4 574.5,192.8 572.6,195.1Z" fill="#cb94cd"/>
<path d="M591.2,216.3 594.3,215.8 597.4,214.5 600.4,212.5 603.1,210.1 605.4,207.4 607.2,204.5 608.4,201.8 609.1,199.5 609.2,197.6 608.7,196.5 607.9,196.1 606.7,196.6 594.2,190.9 595.3,190.4 596.2,190.8 596.6,191.9 596.5,193.8 595.9,196.1 594.6,198.8 592.8,201.7 590.5,204.4 587.9,206.9 584.9,208.8 581.8,210.1 578.7,210.6Z" fill="#98569b" stroke="#5a335c" stroke-width="0.8"/>
<path d="M598.5,213.7 601.1,211.8 603.4,209.5 605.4,207 607,204.4 608.1,202 608.8,199.8 609,198 608.8,196.8 596.6,191.2 596.8,192.5 596.6,194.3 596,196.5 594.8,198.9 593.2,201.5 591.2,204 588.9,206.3 586.3,208.2Z" fill="#b566b8"/>
<path d="M601.4,208.1 603.2,205.8 604.7,203.4 605.8,201.1 606.4,199 598.9,195.6 598.2,197.7 597.1,200 595.7,202.4 593.8,204.7Z" fill="#cb94cd"/>
<path d="M551.2,294.8 553.5,292.1 555.4,289 556.9,285.8 557.8,282.7 558.2,279.9 558.2,277.6 557.7,276 556.8,275.2 555.8,275.3 554.7,276.2 553.6,278 552.7,280.5 539.2,277.5 540.1,275 541.2,273.3 542.3,272.3 543.4,272.2 544.2,273.1 544.7,274.7 544.8,277 544.3,279.8 543.4,282.9 542,286.1 540,289.1 537.7,291.8Z" fill="#98569b" stroke="#5a335c" stroke-width="0.8"/>
<path d="M555.8,287.7 557,284.9 557.7,282.1 558,279.6 558,277.6 557.5,276.1 556.8,275.3 555.9,275.1 554.9,275.7 541.9,272.8 542.9,272.2 543.8,272.4 544.5,273.2 544.9,274.7 545,276.7 544.7,279.2 543.9,282 542.8,284.8Z" fill="#b566b8"/>
<path d="M555.3,281.2 555.6,278.9 555.5,277 555.1,275.6 554.4,274.8 546.4,273 547,273.9 547.4,275.3 547.5,277.1 547.2,279.4Z" fill="#cb94cd"/>
<path d="M572,299.4 574.3,296.7 576.2,293.6 577.7,290.4 578.6,287.3 579,284.5 579,282.2 578.5,280.6 577.6,279.8 576.6,279.9 575.5,280.8 574.4,282.6 573.5,285.1 560,282.1 560.9,279.6 562,277.9 563.1,276.9 564.2,276.8 565,277.7 565.5,279.3 565.6,281.6 565.1,284.4 564.2,287.5 562.8,290.7 560.8,293.7 558.5,296.4Z" fill="#98569b" stroke="#5a335c" stroke-width="0.8"/>
<path d="M576.6,292.3 577.8,289.5 578.5,286.7 578.8,284.2 578.8,282.2 578.3,280.7 577.6,279.9 576.7,279.7 575.7,280.3 562.7,277.4 563.7,276.8 564.6,277 565.3,277.8 565.7,279.3 565.8,281.3 565.5,283.8 564.7,286.6 563.6,289.4Z" fill="#b566b8"/>
<path d="M576.1,285.8 576.4,283.5 576.3,281.6 575.9,280.2 575.2,279.4 567.2,277.6 567.8,278.5 568.2,279.9 568.3,281.7 568,284Z" fill="#cb94cd"/>
<path d="M592.8,304 595.1,301.3 597,298.2 598.5,295 599.4,291.9 599.8,289.1 599.8,286.8 599.3,285.2 598.4,284.4 597.4,284.5 596.3,285.4 595.2,287.2 594.3,289.7 580.8,286.7 581.7,284.2 582.8,282.5 583.9,281.5 585,281.4 585.8,282.3 586.3,283.9 586.4,286.2 585.9,289 585,292.1 583.6,295.3 581.6,298.3 579.3,301Z" fill="#98569b" stroke="#5a335c" stroke-width="0.8"/>
<path d="M597.4,296.9 598.6,294.1 599.3,291.3 599.6,288.8 599.6,286.8 599.1,285.3 598.4,284.5 597.5,284.3 596.5,284.9 583.5,282 584.5,281.4 585.4,281.6 586.1,282.4 586.5,283.9 586.6,285.9 586.3,288.4 585.5,291.2 584.4,294Z" fill="#b566b8"/>
<path d="M596.9,290.4 597.2,288.1 597.1,286.2 596.7,284.8 596,284 588,282.2 588.6,283.1 589,284.5 589.1,286.3 588.8,288.6Z" fill="#cb94cd"/>
<path d="M613.6,308.6 615.9,305.9 617.8,302.8 619.3,299.6 620.2,296.5 620.6,293.7 620.6,291.4 620.1,289.8 619.2,289 618.2,289.1 617.1,290 616,291.8 615.1,294.3 601.6,291.3 602.5,288.8 603.6,287.1 604.7,286.1 605.8,286 606.6,286.9 607.1,288.5 607.2,290.8 606.7,293.6 605.8,296.7 604.4,299.9 602.4,302.9 600.1,305.6Z" fill="#98569b" stroke="#5a335c" stroke-width="0.8"/>
<path d="M618.2,301.5 619.4,298.7 620.1,295.9 620.4,293.4 620.4,291.4 619.9,289.9 619.2,289.1 618.3,288.9 617.3,289.5 604.3,286.6 605.3,286 606.2,286.2 606.9,287 607.3,288.5 607.4,290.5 607.1,293 606.3,295.8 605.2,298.6Z" fill="#b566b8"/>
<path d="M617.7,295 618,292.7 617.9,290.8 617.5,289.4 616.8,288.6 608.8,286.8 609.4,287.7 609.8,289.1 609.9,290.9 609.6,293.2Z" fill="#cb94cd"/>
<path d="M634.4,313.2 636.7,310.5 638.6,307.4 640.1,304.2 641,301.1 641.4,298.3 641.4,296 640.9,294.4 640,293.6 639,293.7 637.9,294.6 636.8,296.4 635.9,298.9 622.4,295.9 623.3,293.4 624.4,291.7 625.5,290.7 626.6,290.6 627.4,291.5 627.9,293.1 628,295.4 627.5,298.2 626.6,301.3 625.2,304.5 623.2,307.5 620.9,310.2Z" fill="#98569b" stroke="#5a335c" stroke-width="0.8"/>
<path d="M639,306.1 640.2,303.3 640.9,300.5 641.2,298 641.2,296 640.7,294.5 640,293.7 639.1,293.5 638.1,294.1 625.1,291.2 626.1,290.6 627,290.8 627.7,291.6 628.1,293.1 628.2,295.1 627.9,297.6 627.1,300.4 626,303.2Z" fill="#b566b8"/>
<path d="M638.5,299.6 638.8,297.3 638.7,295.4 638.3,294 637.6,293.2 629.6,291.4 630.2,292.3 630.6,293.7 630.7,295.5 630.4,297.8Z" fill="#cb94cd"/>
<path d="M600.2,160.4 603.2,160.9 606.3,160.6 609.6,159.6 612.8,157.9 615.7,155.8 618.3,153.3 620.3,150.8 621.8,148.3 622.6,146.1 622.8,144.5 622.4,143.4 621.5,143.2 609.8,135.9 610.7,136.1 611.1,137.2 610.9,138.8 610.1,141 608.6,143.5 606.6,146 604,148.5 601.1,150.6 597.9,152.3 594.7,153.3 591.5,153.6 588.5,153.1Z" fill="#98569b" stroke="#5a335c" stroke-width="0.8"/>
<path d="M607.5,160.2 610.4,159.1 613.2,157.4 615.8,155.4 618.1,153.2 620,150.9 621.3,148.7 622.2,146.6 622.6,145 611.3,137.9 610.9,139.5 610,141.6 608.6,143.8 606.8,146.1 604.5,148.4 601.9,150.4 599.1,152 596.1,153.1Z" fill="#b566b8"/>
<path d="M611.4,155.8 613.8,153.9 615.9,151.9 617.7,149.7 619,147.6 612,143.2 610.7,145.3 608.9,147.5 606.8,149.6 604.4,151.5Z" fill="#cb94cd"/>
<path d="M620.2,172.9 623.2,173.4 626.3,173.1 629.6,172.1 632.8,170.4 635.7,168.3 638.3,165.8 640.3,163.3 641.8,160.8 642.6,158.6 642.8,157 642.4,155.9 641.5,155.7 629.8,148.4 630.7,148.6 631.1,149.7 630.9,151.3 630.1,153.5 628.6,156 626.6,158.5 624,161 621.1,163.1 617.9,164.8 614.7,165.8 611.5,166.1 608.5,165.6Z" fill="#98569b" stroke="#5a335c" stroke-width="0.8"/>
<path d="M627.5,172.7 630.4,171.6 633.2,169.9 635.8,167.9 638.1,165.7 640,163.4 641.3,161.2 642.2,159.1 642.6,157.5 631.3,150.4 630.9,152 630,154.1 628.6,156.3 626.8,158.6 624.5,160.9 621.9,162.9 619.1,164.5 616.1,165.6Z" fill="#b566b8"/>
<path d="M631.4,168.3 633.8,166.4 635.9,164.4 637.7,162.2 639,160.1 632,155.7 630.7,157.8 628.9,160 626.8,162.1 624.4,164Z" fill="#cb94cd"/>
<path d="M540.7,144.3 543.1,142.5 545.1,140 546.8,136.9 547.9,133.5 548.5,130 548.7,126.5 548.4,123.4 547.7,120.8 546.9,118.9 545.8,117.8 544.9,117.7 544,118.4 530.3,120.2 531.2,119.5 532.2,119.7 533.2,120.8 534.1,122.7 534.7,125.3 535,128.4 534.9,131.8 534.2,135.4 533.1,138.8 531.5,141.8 529.4,144.4 527,146.1Z" fill="#771a77" stroke="#471047" stroke-width="0.8"/>
<path d="M545.6,138.8 547,136 547.9,132.8 548.4,129.6 548.5,126.5 548.2,123.7 547.7,121.3 546.9,119.4 546.1,118.2 532.8,120 533.7,121.2 534.4,123.1 535,125.5 535.2,128.4 535.1,131.4 534.6,134.6 533.7,137.8 532.4,140.7Z" fill="#8e1f8e"/>
<path d="M545.4,132.8 545.9,129.8 545.9,126.9 545.7,124.2 545.2,121.9 537.1,123.1 537.5,125.4 537.7,128 537.7,130.9 537.2,133.9Z" fill="#b062b0"/>
<path d="M562.7,141.3 565.1,139.5 567.1,137 568.8,133.9 569.9,130.5 570.5,127 570.7,123.5 570.4,120.4 569.7,117.8 568.9,115.9 567.8,114.8 566.9,114.7 566,115.4 552.3,117.2 553.2,116.5 554.2,116.7 555.2,117.8 556.1,119.7 556.7,122.3 557,125.4 556.9,128.8 556.2,132.4 555.1,135.8 553.5,138.8 551.4,141.4 549,143.1Z" fill="#771a77" stroke="#471047" stroke-width="0.8"/>
<path d="M567.6,135.8 569,133 569.9,129.8 570.4,126.6 570.5,123.5 570.2,120.7 569.7,118.3 568.9,116.4 568.1,115.2 554.8,117 555.7,118.2 556.4,120.1 557,122.5 557.2,125.4 557.1,128.4 556.6,131.6 555.7,134.8 554.4,137.7Z" fill="#8e1f8e"/>
<path d="M567.4,129.8 567.9,126.8 567.9,123.9 567.7,121.2 567.2,118.9 559.1,120.1 559.5,122.4 559.7,125 559.7,127.9 559.2,130.9Z" fill="#b062b0"/>
<path d="M584.7,138.3 587.1,136.5 589.1,134 590.8,130.9 591.9,127.5 592.5,124 592.7,120.5 592.4,117.4 591.7,114.8 590.9,112.9 589.8,111.8 588.9,111.7 588,112.4 574.3,114.2 575.2,113.5 576.2,113.7 577.2,114.8 578.1,116.7 578.7,119.3 579,122.4 578.9,125.8 578.2,129.4 577.1,132.8 575.5,135.8 573.4,138.4 571,140.1Z" fill="#771a77" stroke="#471047" stroke-width="0.8"/>
<path d="M589.6,132.8 591,130 591.9,126.8 592.4,123.6 592.5,120.5 592.2,117.7 591.7,115.3 590.9,113.4 590.1,112.2 576.8,114 577.7,115.2 578.4,117.1 579,119.5 579.2,122.4 579.1,125.4 578.6,128.6 577.7,131.8 576.4,134.7Z" fill="#8e1f8e"/>
<path d="M589.4,126.8 589.9,123.8 589.9,120.9 589.7,118.2 589.2,115.9 581.1,117.1 581.5,119.4 581.7,122 581.7,124.9 581.2,127.9Z" fill="#b062b0"/>
<path d="M609.6,130.3 612.1,127.6 614.1,124.7 615.5,121.9 616.4,119.3 616.8,117.1 616.6,115.6 616,114.9 615,114.9 613.9,115.9 612.7,117.6 611.6,120.1 610.7,123.2 597.9,118.2 598.7,115.1 599.9,112.6 601.1,110.9 602.2,109.9 603.2,109.8 603.8,110.6 604,112.1 603.6,114.3 602.7,116.9 601.2,119.7 599.3,122.6 596.8,125.3Z" fill="#771a77" stroke="#471047" stroke-width="0.8"/>
<path d="M614.5,123.5 615.7,121 616.4,118.7 616.6,116.9 616.4,115.5 615.9,114.8 615.1,114.8 614.1,115.4 613,116.8 600.5,111.9 601.6,110.6 602.6,109.9 603.4,110 604,110.7 604.1,112 603.9,113.9 603.2,116.1 602.1,118.6Z" fill="#8e1f8e"/>
<path d="M614,117.5 614.2,115.8 614,114.6 613.6,113.9 612.8,113.8 605.1,110.8 605.9,110.9 606.3,111.6 606.5,112.8 606.3,114.5Z" fill="#b062b0"/>
<path d="M632.6,139.3 635.1,136.6 637.1,133.7 638.5,130.9 639.4,128.3 639.8,126.1 639.6,124.6 639,123.9 638,123.9 636.9,124.9 635.7,126.6 634.6,129.1 633.7,132.2 620.9,127.2 621.7,124.1 622.9,121.6 624.1,119.9 625.2,118.9 626.2,118.8 626.8,119.6 627,121.1 626.6,123.3 625.7,125.9 624.2,128.7 622.3,131.6 619.8,134.3Z" fill="#771a77" stroke="#471047" stroke-width="0.8"/>
<path d="M637.5,132.5 638.7,130 639.4,127.7 639.6,125.9 639.4,124.5 638.9,123.8 638.1,123.8 637.1,124.4 636,125.8 623.5,120.9 624.6,119.6 625.6,118.9 626.4,119 627,119.7 627.1,121 626.9,122.9 626.2,125.1 625.1,127.6Z" fill="#8e1f8e"/>
<path d="M637,126.5 637.2,124.8 637,123.6 636.6,122.9 635.8,122.8 628.1,119.8 628.9,119.9 629.3,120.6 629.5,121.8 629.3,123.5Z" fill="#b062b0"/>
<path d="M647.1,145.2 650.2,144.5 653.4,143.1 656.4,141.2 659.1,138.8 661.3,136.3 663,133.7 664,131.3 664.4,129.3 664.2,127.9 663.4,127.1 662.2,127.2 660.6,128 649.1,120.3 650.7,119.5 652,119.5 652.8,120.3 653,121.7 652.6,123.7 651.5,126.1 649.8,128.6 647.6,131.2 644.9,133.5 641.9,135.5 638.8,136.8 635.6,137.5Z" fill="#771a77" stroke="#471047" stroke-width="0.8"/>
<path d="M654.4,142.3 657.1,140.4 659.4,138.2 661.3,135.9 662.8,133.6 663.8,131.4 664.2,129.6 664.2,128.1 663.7,127.2 652.5,119.8 653.1,120.7 653.1,122.2 652.7,124 651.7,126.2 650.2,128.5 648.3,130.8 645.9,133 643.3,134.9Z" fill="#8e1f8e"/>
<path d="M657.5,136.5 659.3,134.3 660.7,132.2 661.6,130.1 662.1,128.4 655.2,123.8 654.7,125.6 653.8,127.6 652.4,129.7 650.7,131.9Z" fill="#b062b0"/>
<path d="M663.6,156.2 666.7,155.5 669.9,154.1 672.9,152.2 675.6,149.8 677.8,147.3 679.5,144.7 680.5,142.3 680.9,140.3 680.7,138.9 679.9,138.1 678.7,138.2 677.1,139 665.6,131.3 667.2,130.5 668.5,130.5 669.3,131.3 669.5,132.7 669.1,134.7 668,137.1 666.3,139.6 664.1,142.2 661.4,144.5 658.4,146.5 655.3,147.8 652.1,148.5Z" fill="#771a77" stroke="#471047" stroke-width="0.8"/>
<path d="M670.9,153.3 673.6,151.4 675.9,149.2 677.8,146.9 679.3,144.6 680.3,142.4 680.7,140.6 680.7,139.1 680.2,138.2 669,130.8 669.6,131.7 669.6,133.2 669.2,135 668.2,137.2 666.7,139.5 664.8,141.8 662.4,144 659.8,145.9Z" fill="#8e1f8e"/>
<path d="M674,147.5 675.8,145.3 677.2,143.2 678.1,141.1 678.6,139.4 671.7,134.8 671.2,136.6 670.3,138.6 668.9,140.7 667.2,142.9Z" fill="#b062b0"/>
<path d="M568.7,160.2 570,163.5 571.7,166.5 573.8,169 576.3,170.7 579.1,171.5 581.9,171.5 584.7,170.6 587.4,168.8 589.8,166.4 591.9,163.5 593.5,160.2 594.6,156.9 580.9,155.4 579.8,158.8 578.2,162 576.1,165 573.7,167.4 571,169.1 568.2,170 565.4,170.1 562.6,169.2 560.1,167.5 558,165.1 556.3,162.1 555,158.7Z" fill="#771a77" stroke="#471047" stroke-width="0.8"/>
<path d="M572.3,167.6 574.4,169.5 576.7,170.9 579.2,171.5 581.7,171.5 584.3,170.7 586.7,169.2 588.9,167.2 590.9,164.7 577.6,163.3 575.7,165.8 573.4,167.8 571,169.3 568.4,170 565.9,170.1 563.4,169.5 561.1,168.1 559,166.1Z" fill="#8e1f8e"/>
<path d="M574.5,170.7 576.8,171.3 579.2,171.2 581.6,170.5 583.9,169.2 575.6,168.3 573.3,169.6 571,170.3 568.6,170.4 566.2,169.9Z" fill="#b062b0"/>
<path d="M591.1,162.6 592.4,165.9 594.1,168.9 596.2,171.4 598.7,173.1 601.5,173.9 604.3,173.9 607.1,173 609.8,171.2 612.2,168.8 614.3,165.9 615.9,162.6 617,159.3 603.3,157.8 602.2,161.2 600.6,164.4 598.5,167.4 596.1,169.8 593.4,171.5 590.6,172.4 587.8,172.5 585,171.6 582.5,169.9 580.4,167.5 578.7,164.5 577.4,161.1Z" fill="#771a77" stroke="#471047" stroke-width="0.8"/>
<path d="M594.7,170 596.8,171.9 599.1,173.3 601.6,173.9 604.1,173.9 606.7,173.1 609.1,171.6 611.3,169.6 613.3,167.1 600,165.7 598.1,168.2 595.8,170.2 593.4,171.7 590.8,172.4 588.3,172.5 585.8,171.9 583.5,170.5 581.4,168.5Z" fill="#8e1f8e"/>
<path d="M596.9,173.1 599.2,173.7 601.6,173.6 604,172.9 606.3,171.6 598,170.7 595.7,172 593.4,172.7 591,172.8 588.6,172.3Z" fill="#b062b0"/>
<path d="M520.9,176.4 523.9,177.9 527.3,179 530.9,179.5 534.4,179.5 537.5,179.1 540.1,178.3 542,177.4 543.1,176.3 543.4,175.2 542.7,174.3 541.2,173.6 539,173.3 536.8,159.7 539,160 540.5,160.7 541.1,161.6 540.9,162.7 539.8,163.8 537.9,164.7 535.3,165.5 532.1,165.9 528.7,165.9 525.1,165.4 521.7,164.3 518.7,162.8Z" fill="#771a77" stroke="#471047" stroke-width="0.8"/>
<path d="M528.7,179 531.9,179.3 535,179.2 537.7,178.8 540.1,178.1 541.8,177.3 543,176.3 543.4,175.3 543,174.4 540.9,161.2 541.2,162.1 540.8,163.1 539.7,164.1 537.9,164.9 535.6,165.6 532.8,166.1 529.8,166.1 526.6,165.8Z" fill="#8e1f8e"/>
<path d="M535,176.7 537.5,176.3 539.7,175.6 541.3,174.8 542.4,173.9 541.1,165.7 540,166.6 538.3,167.5 536.2,168.1 533.6,168.5Z" fill="#b062b0"/>
<path d="M524.2,196.8 527.3,198.3 530.7,199.3 534.2,199.8 537.7,199.8 540.8,199.4 543.4,198.7 545.4,197.7 546.5,196.6 546.7,195.5 546,194.6 544.6,193.9 542.3,193.7 540.1,180.1 542.3,180.3 543.8,181 544.5,181.9 544.2,183 543.1,184.1 541.2,185.1 538.6,185.8 535.5,186.2 532,186.2 528.4,185.7 525,184.7 522,183.2Z" fill="#771a77" stroke="#471047" stroke-width="0.8"/>
<path d="M532.1,199.4 535.3,199.7 538.3,199.6 541.1,199.2 543.4,198.5 545.2,197.6 546.3,196.6 546.7,195.6 546.4,194.7 544.2,181.5 544.5,182.4 544.1,183.4 543,184.4 541.2,185.3 538.9,186 536.2,186.4 533.1,186.5 529.9,186.2Z" fill="#8e1f8e"/>
<path d="M538.3,197 540.8,196.6 543,196 544.7,195.1 545.8,194.2 544.4,186.1 543.3,187 541.7,187.8 539.5,188.4 537,188.9Z" fill="#b062b0"/>
<path d="M527.5,217.1 530.6,218.6 534,219.6 537.6,220.1 541,220.2 544.2,219.8 546.8,219 548.7,218 549.8,216.9 550,215.9 549.4,214.9 547.9,214.3 545.7,214 543.5,200.4 545.7,200.7 547.2,201.3 547.8,202.3 547.6,203.3 546.5,204.4 544.5,205.4 541.9,206.2 538.8,206.6 535.3,206.5 531.8,206 528.4,205 525.3,203.5Z" fill="#771a77" stroke="#471047" stroke-width="0.8"/>
<path d="M535.4,219.7 538.6,220 541.6,219.9 544.4,219.5 546.7,218.8 548.5,217.9 549.6,216.9 550,216 549.7,215.1 547.6,201.9 547.9,202.8 547.5,203.8 546.3,204.7 544.6,205.6 542.3,206.3 539.5,206.7 536.4,206.8 533.2,206.5Z" fill="#8e1f8e"/>
<path d="M541.6,217.4 544.2,216.9 546.3,216.3 548,215.5 549.1,214.6 547.8,206.4 546.7,207.3 545,208.1 542.8,208.8 540.3,209.2Z" fill="#b062b0"/>
<path d="M527.1,219.3 529.8,219.3 532.6,218.6 535.3,217.4 537.9,215.7 540.2,213.6 542.1,211.4 543.6,209.2 544.6,207.3 545,205.6 545,204.5 544.6,204 543.9,204.2 531.6,198.1 532.3,197.9 532.7,198.4 532.7,199.5 532.2,201.1 531.3,203.1 529.8,205.3 527.9,207.5 525.6,209.5 523,211.2 520.2,212.5 517.4,213.1 514.7,213.1Z" fill="#771a77" stroke="#471047" stroke-width="0.8"/>
<path d="M533.5,218.1 535.9,216.8 538.2,215.2 540.2,213.3 541.9,211.3 543.3,209.4 544.2,207.5 544.8,206 544.9,204.8 533,198.8 532.8,200 532.3,201.6 531.3,203.4 530,205.4 528.3,207.3 526.2,209.2 524,210.9 521.5,212.1Z" fill="#8e1f8e"/>
<path d="M536.2,213.8 538.1,212.1 539.7,210.2 540.9,208.3 541.8,206.6 534.4,202.9 533.5,204.7 532.3,206.5 530.7,208.4 528.8,210.1Z" fill="#b062b0"/>
<path d="M548.4,229.9 551.1,230 553.9,229.3 556.7,228.1 559.2,226.3 561.5,224.3 563.5,222.1 564.9,219.9 565.9,217.9 566.4,216.3 566.4,215.2 566,214.7 565.3,214.9 552.9,208.7 553.7,208.5 554.1,209 554,210.1 553.6,211.8 552.6,213.7 551.1,215.9 549.2,218.1 546.9,220.2 544.3,221.9 541.6,223.1 538.8,223.8 536.1,223.8Z" fill="#771a77" stroke="#471047" stroke-width="0.8"/>
<path d="M554.8,228.8 557.3,227.5 559.5,225.9 561.6,224 563.3,222 564.6,220 565.6,218.2 566.1,216.7 566.2,215.5 554.3,209.5 554.1,210.7 553.6,212.2 552.7,214 551.3,216 549.6,218 547.6,219.9 545.3,221.5 542.9,222.8Z" fill="#8e1f8e"/>
<path d="M557.5,224.5 559.4,222.7 561,220.9 562.3,219 563.2,217.3 555.8,213.6 554.9,215.3 553.6,217.2 552,219 550.1,220.8Z" fill="#b062b0"/>
<path d="M604.6,178.5 604.9,181.9 605.8,185.1 607.3,187.7 609.4,189.6 612.1,190.8 615.1,191.2 618.3,190.9 621.6,189.8 624.8,188.1 627.7,185.9 630.3,183.5 632.2,181 620.8,173.3 618.8,175.8 616.3,178.2 613.4,180.4 610.2,182.1 606.9,183.2 603.7,183.5 600.6,183.1 598,181.9 595.9,180 594.3,177.4 593.4,174.2 593.2,170.8Z" fill="#771a77" stroke="#471047" stroke-width="0.8"/>
<path d="M606.1,186.1 607.7,188.2 609.8,189.8 612.2,190.8 614.9,191.1 617.8,190.8 620.8,189.9 623.7,188.5 626.4,186.7 615.4,179.3 612.6,181.1 609.7,182.5 606.7,183.4 603.8,183.7 601.1,183.3 598.7,182.3 596.6,180.7 595,178.6Z" fill="#8e1f8e"/>
<path d="M608,188.6 610.3,189.4 612.8,189.7 615.5,189.5 618.3,188.7 611.4,184.1 608.7,184.8 605.9,185.1 603.4,184.8 601.1,183.9Z" fill="#b062b0"/>
<path d="M624.2,191.7 624.5,195.1 625.4,198.3 626.9,200.9 629,202.8 631.7,204 634.7,204.4 637.9,204.1 641.2,203 644.4,201.3 647.3,199.1 649.9,196.7 651.8,194.2 640.4,186.5 638.4,189 635.9,191.4 633,193.6 629.8,195.3 626.5,196.4 623.3,196.7 620.2,196.3 617.6,195.1 615.5,193.2 613.9,190.6 613,187.4 612.8,184Z" fill="#771a77" stroke="#471047" stroke-width="0.8"/>
<path d="M625.7,199.3 627.3,201.4 629.4,203 631.8,204 634.5,204.3 637.4,204 640.4,203.1 643.3,201.7 646,199.9 635,192.5 632.2,194.3 629.3,195.7 626.3,196.6 623.4,196.9 620.7,196.5 618.3,195.5 616.2,193.9 614.6,191.8Z" fill="#8e1f8e"/>
<path d="M627.6,201.8 629.9,202.6 632.4,202.9 635.1,202.7 637.9,201.9 631,197.3 628.3,198 625.5,198.3 623,198 620.7,197.1Z" fill="#b062b0"/>
<path d="M669.4,185.2 672.5,185.8 675.9,185.6 679.1,184.5 682.1,182.8 684.6,180.4 686.6,177.6 687.9,174.7 688.4,171.7 688.2,169 687.3,166.7 685.7,165 683.7,164.1 679.5,161.6 681.6,162.6 683.1,164.3 684.1,166.5 684.3,169.3 683.7,172.2 682.5,175.2 680.5,178 677.9,180.3 675,182.1 671.7,183.2 668.4,183.4 665.2,182.8Z" fill="#771a77" stroke="#471047" stroke-width="1.1"/>
<path d="M677.1,185.2 680,184 682.6,182.3 684.8,180.1 686.5,177.6 687.7,174.9 688.3,172.2 688.3,169.7 687.7,167.5 683.6,165.1 684.3,167.4 684.3,169.9 683.7,172.6 682.5,175.2 680.8,177.7 678.6,179.9 676,181.7 673.1,182.9Z" fill="#8e1f8e"/>
<path d="M682.1,181.6 684.2,179.5 685.8,177.1 686.9,174.6 687.5,172.1 685,170.7 684.4,173.2 683.3,175.7 681.7,178 679.6,180.1Z" fill="#b062b0"/>
<path d="M679.1,191 682.3,191.6 685.6,191.4 688.9,190.3 691.9,188.5 694.4,186.2 696.4,183.4 697.7,180.4 698.2,177.5 698,174.8 697,172.5 695.5,170.8 693.4,169.9 689.3,167.4 691.3,168.4 692.9,170 693.8,172.3 694.1,175 693.5,178 692.2,181 690.3,183.7 687.7,186.1 684.7,187.9 681.5,188.9 678.2,189.2 675,188.6Z" fill="#771a77" stroke="#471047" stroke-width="1.1"/>
<path d="M686.9,191 689.7,189.8 692.3,188.1 694.6,185.9 696.3,183.4 697.5,180.7 698.1,178 698.1,175.5 697.4,173.3 693.4,170.9 694,173.1 694.1,175.7 693.5,178.3 692.3,181 690.6,183.5 688.3,185.7 685.7,187.4 682.9,188.6Z" fill="#8e1f8e"/>
<path d="M691.9,187.3 693.9,185.3 695.6,182.9 696.7,180.4 697.3,177.9 694.8,176.5 694.2,179 693.1,181.5 691.5,183.8 689.4,185.9Z" fill="#b062b0"/>
<path d="M688.9,196.8 692.1,197.4 695.4,197.1 698.7,196.1 701.6,194.3 704.2,192 706.2,189.2 707.4,186.2 708,183.3 707.7,180.5 706.8,178.3 705.3,176.6 703.2,175.6 699.1,173.2 701.1,174.1 702.7,175.8 703.6,178.1 703.8,180.8 703.3,183.8 702,186.7 700.1,189.5 697.5,191.9 694.5,193.7 691.3,194.7 688,195 684.8,194.4Z" fill="#771a77" stroke="#471047" stroke-width="1.1"/>
<path d="M696.7,196.8 699.5,195.6 702.1,193.8 704.4,191.7 706.1,189.1 707.3,186.5 707.9,183.8 707.8,181.3 707.2,179.1 703.2,176.7 703.8,178.9 703.9,181.4 703.3,184.1 702.1,186.8 700.3,189.3 698.1,191.5 695.5,193.2 692.7,194.4Z" fill="#8e1f8e"/>
<path d="M701.7,193.1 703.7,191 705.3,188.7 706.5,186.2 707.1,183.7 704.6,182.2 704,184.7 702.8,187.2 701.2,189.6 699.2,191.7Z" fill="#b062b0"/>
<path d="M698.7,202.6 701.9,203.2 705.2,202.9 708.4,201.9 711.4,200.1 714,197.7 715.9,195 717.2,192 717.7,189 717.5,186.3 716.6,184 715,182.4 713,181.4 708.9,179 710.9,179.9 712.5,181.6 713.4,183.9 713.6,186.6 713.1,189.5 711.8,192.5 709.8,195.3 707.3,197.7 704.3,199.4 701.1,200.5 697.7,200.7 694.6,200.1Z" fill="#771a77" stroke="#471047" stroke-width="1.1"/>
<path d="M706.4,202.6 709.3,201.4 711.9,199.6 714.1,197.4 715.9,194.9 717.1,192.3 717.6,189.6 717.6,187.1 717,184.8 713,182.5 713.6,184.7 713.6,187.2 713,189.9 711.9,192.6 710.1,195.1 707.9,197.3 705.3,199 702.4,200.2Z" fill="#8e1f8e"/>
<path d="M711.5,198.9 713.5,196.8 715.1,194.5 716.2,192 716.8,189.5 714.4,188 713.8,190.5 712.6,193 711,195.4 709,197.4Z" fill="#b062b0"/>
<path d="M708.5,208.4 711.7,208.9 715,208.7 718.2,207.6 721.2,205.9 723.7,203.5 725.7,200.7 727,197.8 727.5,194.8 727.3,192.1 726.4,189.8 724.8,188.1 722.8,187.2 718.6,184.8 720.7,185.7 722.2,187.4 723.2,189.7 723.4,192.4 722.9,195.3 721.6,198.3 719.6,201.1 717.1,203.4 714.1,205.2 710.8,206.3 707.5,206.5 704.3,205.9Z" fill="#771a77" stroke="#471047" stroke-width="1.1"/>
<path d="M716.2,208.3 719.1,207.1 721.7,205.4 723.9,203.2 725.6,200.7 726.8,198 727.4,195.4 727.4,192.8 726.8,190.6 722.8,188.3 723.4,190.5 723.4,193 722.8,195.7 721.6,198.3 719.9,200.8 717.7,203 715.1,204.8 712.2,206Z" fill="#8e1f8e"/>
<path d="M721.2,204.7 723.3,202.6 724.9,200.2 726,197.8 726.6,195.3 724.1,193.8 723.5,196.3 722.4,198.8 720.8,201.1 718.8,203.2Z" fill="#b062b0"/>
<path d="M555.2,254.8 558.2,255.9 561.5,256.4 565.1,256.2 568.7,255.6 572,254.5 574.9,253.1 577.2,251.5 578.8,249.9 579.6,248.5 579.5,247.4 578.7,246.8 577.2,246.6 570.3,234.7 571.8,234.8 572.6,235.5 572.7,236.6 571.9,238 570.3,239.6 568,241.1 565.1,242.5 561.7,243.6 558.2,244.3 554.6,244.4 551.3,244 548.3,242.9Z" fill="#ca863c" stroke="#785024" stroke-width="0.8"/>
<path d="M562.8,256.2 566.1,255.9 569.2,255.2 572.2,254.2 574.8,252.9 576.9,251.5 578.4,250 579.3,248.7 579.5,247.6 572.8,236.1 572.6,237.2 571.7,238.5 570.2,239.9 568.1,241.3 565.5,242.6 562.5,243.6 559.4,244.3 556.1,244.6Z" fill="#f0a048"/>
<path d="M568.4,252.9 571.1,251.9 573.5,250.7 575.5,249.4 577,248 572.8,240.9 571.3,242.2 569.3,243.5 566.9,244.7 564.2,245.7Z" fill="#f4bc7f"/>
<path d="M566.2,273.8 569.2,274.9 572.5,275.4 576.1,275.2 579.7,274.6 583,273.5 585.9,272.1 588.2,270.5 589.8,268.9 590.6,267.5 590.5,266.4 589.7,265.8 588.2,265.6 581.3,253.7 582.8,253.8 583.6,254.5 583.7,255.6 582.9,257 581.3,258.6 579,260.1 576.1,261.5 572.7,262.6 569.2,263.3 565.6,263.4 562.3,263 559.3,261.9Z" fill="#ca863c" stroke="#785024" stroke-width="0.8"/>
<path d="M573.8,275.2 577.1,274.9 580.2,274.2 583.2,273.2 585.8,271.9 587.9,270.5 589.4,269 590.3,267.7 590.5,266.6 583.8,255.1 583.6,256.2 582.7,257.5 581.2,258.9 579.1,260.3 576.5,261.6 573.5,262.6 570.4,263.3 567.1,263.6Z" fill="#f0a048"/>
<path d="M579.4,271.9 582.1,270.9 584.5,269.7 586.5,268.4 588,267 583.8,259.9 582.3,261.2 580.3,262.5 577.9,263.7 575.2,264.7Z" fill="#f4bc7f"/>
<path d="M585.1,220.8 587.8,218.7 590.2,216.1 592.2,213.2 593.7,210.2 594.7,207.4 595.1,205 595,203.1 594.4,201.9 593.5,201.5 592.4,202 591.1,203.3 589.9,205.4 576.9,200.8 578.1,198.7 579.4,197.4 580.6,196.9 581.5,197.3 582,198.5 582.1,200.4 581.7,202.8 580.7,205.6 579.2,208.6 577.2,211.4 574.8,214.1 572.1,216.2Z" fill="#c36c19" stroke="#74400f" stroke-width="0.8"/>
<path d="M590.8,214.8 592.5,212.2 593.7,209.6 594.5,207.1 594.9,204.9 594.8,203.2 594.4,202 593.6,201.5 592.7,201.6 580.1,197.2 581,197 581.8,197.5 582.2,198.7 582.3,200.4 581.9,202.6 581.1,205.1 579.9,207.7 578.2,210.4Z" fill="#e8801e"/>
<path d="M591.5,208.4 592.2,206.1 592.5,204 592.4,202.4 592.1,201.3 584.3,198.5 584.7,199.7 584.7,201.3 584.4,203.3 583.7,205.6Z" fill="#efa662"/>
<path d="M605.1,227.9 607.8,225.8 610.2,223.1 612.2,220.3 613.7,217.3 614.7,214.5 615.1,212.1 615,210.2 614.4,209 613.5,208.6 612.4,209.1 611.1,210.4 609.9,212.5 596.9,207.8 598.1,205.8 599.4,204.5 600.6,204 601.5,204.4 602,205.6 602.1,207.4 601.7,209.9 600.7,212.7 599.2,215.6 597.2,218.5 594.8,221.1 592.1,223.3Z" fill="#c36c19" stroke="#74400f" stroke-width="0.8"/>
<path d="M610.8,221.9 612.5,219.3 613.7,216.6 614.5,214.2 614.9,212 614.8,210.3 614.4,209.1 613.6,208.6 612.7,208.7 600.1,204.2 601,204.1 601.8,204.6 602.2,205.8 602.3,207.5 601.9,209.7 601.1,212.2 599.9,214.8 598.2,217.5Z" fill="#e8801e"/>
<path d="M611.5,215.4 612.2,213.1 612.5,211.1 612.4,209.5 612.1,208.4 604.3,205.6 604.7,206.7 604.7,208.4 604.4,210.4 603.7,212.7Z" fill="#efa662"/>
<path d="M625.1,235 627.8,232.8 630.2,230.2 632.2,227.3 633.7,224.4 634.7,221.6 635.1,219.1 635,217.3 634.4,216.1 633.5,215.7 632.4,216.2 631.1,217.5 629.9,219.5 616.9,214.9 618.1,212.9 619.4,211.6 620.6,211.1 621.5,211.5 622,212.7 622.1,214.5 621.7,217 620.7,219.8 619.2,222.7 617.2,225.6 614.8,228.2 612.1,230.4Z" fill="#c36c19" stroke="#74400f" stroke-width="0.8"/>
<path d="M630.8,229 632.5,226.4 633.7,223.7 634.5,221.2 634.9,219.1 634.8,217.4 634.4,216.2 633.6,215.7 632.7,215.8 620.1,211.3 621,211.2 621.8,211.7 622.2,212.9 622.3,214.6 621.9,216.8 621.1,219.3 619.9,221.9 618.2,224.6Z" fill="#e8801e"/>
<path d="M631.5,222.5 632.2,220.2 632.5,218.2 632.4,216.6 632.1,215.5 624.3,212.7 624.7,213.8 624.7,215.5 624.4,217.5 623.7,219.8Z" fill="#efa662"/>
<path d="M645.1,242.1 647.8,239.9 650.2,237.3 652.2,234.4 653.7,231.5 654.7,228.7 655.1,226.2 655,224.4 654.4,223.2 653.5,222.8 652.4,223.3 651.1,224.6 649.9,226.6 636.9,222 638.1,220 639.4,218.7 640.6,218.2 641.5,218.6 642,219.7 642.1,221.6 641.7,224.1 640.7,226.9 639.2,229.8 637.2,232.7 634.8,235.3 632.1,237.5Z" fill="#c36c19" stroke="#74400f" stroke-width="0.8"/>
<path d="M650.8,236.1 652.5,233.5 653.7,230.8 654.5,228.3 654.9,226.2 654.8,224.4 654.4,223.3 653.6,222.7 652.7,222.9 640.1,218.4 641,218.3 641.8,218.8 642.2,220 642.3,221.7 641.9,223.9 641.1,226.4 639.9,229 638.2,231.7Z" fill="#e8801e"/>
<path d="M651.5,229.6 652.2,227.3 652.5,225.3 652.4,223.7 652.1,222.5 644.3,219.8 644.7,220.9 644.7,222.6 644.4,224.6 643.7,226.9Z" fill="#efa662"/>
<path d="M665.1,249.2 667.8,247 670.2,244.4 672.2,241.5 673.7,238.6 674.7,235.8 675.1,233.3 675,231.4 674.4,230.3 673.5,229.9 672.4,230.3 671.1,231.7 669.9,233.7 656.9,229.1 658.1,227 659.4,225.7 660.6,225.3 661.5,225.7 662,226.8 662.1,228.7 661.7,231.2 660.7,234 659.2,236.9 657.2,239.8 654.8,242.4 652.1,244.5Z" fill="#c36c19" stroke="#74400f" stroke-width="0.8"/>
<path d="M670.8,243.2 672.5,240.6 673.7,237.9 674.5,235.4 674.9,233.3 674.8,231.5 674.4,230.4 673.6,229.8 672.7,230 660.1,225.5 661,225.4 661.8,225.9 662.2,227.1 662.3,228.8 661.9,231 661.1,233.5 659.9,236.1 658.2,238.7Z" fill="#e8801e"/>
<path d="M671.5,236.7 672.2,234.4 672.5,232.4 672.4,230.8 672.1,229.6 664.3,226.9 664.7,228 664.7,229.6 664.4,231.7 663.7,234Z" fill="#efa662"/>
<path d="M685.1,256.2 687.8,254.1 690.2,251.5 692.2,248.6 693.7,245.7 694.7,242.9 695.1,240.4 695,238.5 694.4,237.4 693.5,237 692.4,237.4 691.1,238.7 689.9,240.8 676.9,236.2 678.1,234.1 679.4,232.8 680.6,232.4 681.5,232.7 682,233.9 682.1,235.8 681.7,238.2 680.7,241.1 679.2,244 677.2,246.9 674.8,249.5 672.1,251.6Z" fill="#c36c19" stroke="#74400f" stroke-width="0.8"/>
<path d="M690.8,250.3 692.5,247.7 693.7,245 694.5,242.5 694.9,240.3 694.8,238.6 694.4,237.5 693.6,236.9 692.7,237.1 680.1,232.6 681,232.5 681.8,233 682.2,234.2 682.3,235.9 681.9,238.1 681.1,240.5 679.9,243.2 678.2,245.8Z" fill="#e8801e"/>
<path d="M691.5,243.8 692.2,241.5 692.5,239.5 692.4,237.9 692.1,236.7 684.3,234 684.7,235.1 684.7,236.7 684.4,238.8 683.7,241Z" fill="#efa662"/>
<path d="M601.3,294.6 603.2,292.2 604.5,289.2 605.2,285.9 605.4,282.3 605,278.7 604.2,275.4 603.2,272.5 601.9,270.2 600.6,268.7 599.4,267.9 598.4,268 597.9,268.9 585.3,274.6 585.9,273.7 586.8,273.6 588,274.4 589.3,275.9 590.6,278.2 591.7,281.1 592.5,284.4 592.8,288 592.7,291.5 591.9,294.9 590.6,297.9 588.8,300.3Z" fill="#c36c19" stroke="#74400f" stroke-width="0.8"/>
<path d="M604.6,288 605.1,284.9 605.2,281.7 604.8,278.5 604.1,275.5 603.1,272.9 602,270.7 600.8,269.2 599.6,268.2 587.5,273.7 588.6,274.7 589.8,276.2 590.9,278.4 591.9,281 592.6,284 593,287.2 592.9,290.4 592.5,293.5Z" fill="#e8801e"/>
<path d="M602.8,282.3 602.4,279.3 601.7,276.6 600.8,274.1 599.8,272 592.3,275.5 593.3,277.5 594.2,280 594.9,282.7 595.3,285.7Z" fill="#efa662"/>
<path d="M622.7,284.9 624.5,282.5 625.8,279.6 626.5,276.2 626.7,272.6 626.4,269.1 625.6,265.8 624.5,262.9 623.2,260.6 621.9,259 620.7,258.3 619.8,258.3 619.2,259.2 606.7,264.9 607.2,264 608.2,263.9 609.4,264.7 610.7,266.3 611.9,268.6 613,271.4 613.8,274.8 614.2,278.3 614,281.9 613.3,285.3 612,288.2 610.1,290.6Z" fill="#c36c19" stroke="#74400f" stroke-width="0.8"/>
<path d="M626,278.3 626.5,275.2 626.5,272 626.1,268.8 625.4,265.8 624.4,263.2 623.3,261.1 622.1,259.5 621,258.5 608.8,264.1 609.9,265 611.1,266.6 612.2,268.7 613.2,271.4 613.9,274.3 614.3,277.5 614.3,280.7 613.8,283.9Z" fill="#e8801e"/>
<path d="M624.1,272.6 623.7,269.7 623.1,266.9 622.2,264.4 621.1,262.4 613.6,265.8 614.6,267.8 615.5,270.3 616.2,273.1 616.6,276Z" fill="#efa662"/>
<path d="M644,275.3 645.8,272.9 647.1,269.9 647.9,266.5 648,263 647.7,259.4 646.9,256.1 645.8,253.2 644.5,250.9 643.2,249.3 642,248.6 641.1,248.7 640.6,249.5 628,255.2 628.6,254.4 629.5,254.3 630.7,255 632,256.6 633.3,258.9 634.4,261.8 635.1,265.1 635.5,268.6 635.3,272.2 634.6,275.6 633.3,278.6 631.4,281Z" fill="#c36c19" stroke="#74400f" stroke-width="0.8"/>
<path d="M647.3,268.7 647.8,265.6 647.8,262.3 647.4,259.1 646.7,256.2 645.7,253.5 644.6,251.4 643.4,249.8 642.3,248.9 630.1,254.4 631.3,255.3 632.4,256.9 633.6,259.1 634.5,261.7 635.3,264.7 635.6,267.8 635.6,271.1 635.1,274.2Z" fill="#e8801e"/>
<path d="M645.5,262.9 645.1,260 644.4,257.2 643.5,254.8 642.5,252.7 634.9,256.1 636,258.2 636.9,260.6 637.6,263.4 637.9,266.4Z" fill="#efa662"/>
<path d="M559,343.7 561.3,341.2 563.2,338.3 564.7,335 565.7,331.6 566.2,328.3 566.2,325.4 565.8,323.1 565.1,321.4 564.1,320.6 563.1,320.8 562.1,321.7 561.3,323.6 547.6,322.9 548.4,321.1 549.4,320.1 550.4,320 551.3,320.7 552,322.4 552.4,324.7 552.4,327.6 551.9,330.9 550.9,334.3 549.5,337.6 547.6,340.5 545.3,343Z" fill="#771a77" stroke="#471047" stroke-width="0.8"/>
<path d="M563.7,337 564.8,333.9 565.6,330.9 566,328 566,325.4 565.6,323.3 565,321.7 564.2,320.8 563.3,320.6 550,319.9 550.9,320.1 551.7,321 552.3,322.6 552.6,324.7 552.6,327.3 552.3,330.2 551.5,333.3 550.3,336.3Z" fill="#8e1f8e"/>
<path d="M563.1,330.4 563.4,327.7 563.4,325.3 563.1,323.3 562.6,321.7 554.3,321.3 554.8,322.8 555.2,324.8 555.2,327.3 554.9,329.9Z" fill="#b062b0"/>
<path d="M580.3,344.7 582.6,342.3 584.5,339.3 585.9,336.1 586.9,332.7 587.4,329.4 587.4,326.5 587,324.1 586.3,322.5 585.4,321.7 584.3,321.8 583.4,322.8 582.6,324.6 568.8,323.9 569.6,322.1 570.6,321.1 571.6,321 572.5,321.8 573.2,323.4 573.6,325.8 573.6,328.7 573.1,332 572.2,335.4 570.7,338.6 568.8,341.6 566.5,344Z" fill="#771a77" stroke="#471047" stroke-width="0.8"/>
<path d="M584.9,338 586.1,335 586.8,332 587.2,329.1 587.2,326.5 586.8,324.3 586.2,322.8 585.4,321.9 584.5,321.7 571.2,321 572.1,321.2 572.9,322.1 573.5,323.7 573.8,325.8 573.8,328.4 573.5,331.3 572.7,334.3 571.6,337.4Z" fill="#8e1f8e"/>
<path d="M584.4,331.4 584.7,328.8 584.6,326.3 584.3,324.3 583.8,322.8 575.5,322.4 576.1,323.9 576.4,325.9 576.4,328.3 576.1,331Z" fill="#b062b0"/>
<path d="M601.5,345.8 603.8,343.4 605.7,340.4 607.2,337.1 608.1,333.7 608.6,330.5 608.6,327.6 608.2,325.2 607.5,323.6 606.6,322.8 605.6,322.9 604.6,323.9 603.8,325.7 590,325 590.8,323.2 591.8,322.2 592.8,322.1 593.8,322.9 594.5,324.5 594.9,326.9 594.9,329.8 594.4,333 593.4,336.4 591.9,339.7 590,342.7 587.7,345.1Z" fill="#771a77" stroke="#471047" stroke-width="0.8"/>
<path d="M606.1,339.1 607.3,336.1 608.1,333 608.4,330.1 608.4,327.6 608.1,325.4 607.5,323.8 606.7,322.9 605.8,322.7 592.4,322.1 593.3,322.3 594.1,323.2 594.7,324.7 595.1,326.9 595.1,329.5 594.7,332.4 594,335.4 592.8,338.4Z" fill="#8e1f8e"/>
<path d="M605.6,332.5 605.9,329.8 605.9,327.4 605.6,325.4 605,323.9 596.8,323.5 597.3,325 597.6,327 597.6,329.4 597.3,332.1Z" fill="#b062b0"/>
<path d="M622.7,346.9 625,344.5 626.9,341.5 628.4,338.2 629.4,334.8 629.8,331.5 629.9,328.6 629.5,326.3 628.7,324.7 627.8,323.9 626.8,324 625.8,325 625,326.8 611.3,326.1 612.1,324.3 613,323.3 614.1,323.2 615,324 615.7,325.6 616.1,327.9 616.1,330.8 615.6,334.1 614.6,337.5 613.2,340.8 611.3,343.8 609,346.2Z" fill="#771a77" stroke="#471047" stroke-width="0.8"/>
<path d="M627.4,340.2 628.5,337.2 629.3,334.1 629.7,331.2 629.7,328.6 629.3,326.5 628.7,324.9 627.9,324 627,323.8 613.7,323.1 614.6,323.3 615.4,324.2 616,325.8 616.3,327.9 616.3,330.5 615.9,333.4 615.2,336.5 614,339.5Z" fill="#8e1f8e"/>
<path d="M626.8,333.6 627.1,330.9 627.1,328.5 626.8,326.5 626.3,325 618,324.5 618.5,326.1 618.8,328.1 618.9,330.5 618.6,333.2Z" fill="#b062b0"/>
<path d="M644,348 646.3,345.5 648.2,342.6 649.6,339.3 650.6,335.9 651.1,332.6 651.1,329.7 650.7,327.4 650,325.7 649.1,325 648,325.1 647.1,326.1 646.3,327.9 632.5,327.2 633.3,325.4 634.3,324.4 635.3,324.3 636.2,325 636.9,326.7 637.3,329 637.3,331.9 636.8,335.2 635.9,338.6 634.4,341.9 632.5,344.8 630.2,347.3Z" fill="#771a77" stroke="#471047" stroke-width="0.8"/>
<path d="M648.6,341.3 649.8,338.3 650.5,335.2 650.9,332.3 650.9,329.7 650.5,327.6 649.9,326 649.1,325.1 648.2,324.9 634.9,324.2 635.8,324.4 636.6,325.3 637.2,326.9 637.5,329 637.5,331.6 637.2,334.5 636.4,337.6 635.2,340.6Z" fill="#8e1f8e"/>
<path d="M648.1,334.7 648.4,332 648.3,329.6 648,327.6 647.5,326 639.2,325.6 639.8,327.1 640.1,329.2 640.1,331.6 639.8,334.3Z" fill="#b062b0"/>
<path d="M665.2,349.1 667.5,346.6 669.4,343.7 670.9,340.4 671.8,337 672.3,333.7 672.3,330.8 671.9,328.4 671.2,326.8 670.3,326 669.3,326.1 668.3,327.1 667.5,329 653.7,328.3 654.5,326.4 655.5,325.4 656.5,325.3 657.4,326.1 658.2,327.7 658.6,330.1 658.5,333 658.1,336.3 657.1,339.7 655.6,343 653.7,345.9 651.4,348.4Z" fill="#771a77" stroke="#471047" stroke-width="0.8"/>
<path d="M669.8,342.4 671,339.3 671.8,336.3 672.1,333.4 672.1,330.8 671.8,328.6 671.2,327.1 670.4,326.2 669.5,326 656.1,325.3 657,325.5 657.8,326.4 658.4,328 658.8,330.1 658.8,332.7 658.4,335.6 657.6,338.7 656.5,341.7Z" fill="#8e1f8e"/>
<path d="M669.3,335.8 669.6,333.1 669.6,330.7 669.3,328.6 668.7,327.1 660.5,326.7 661,328.2 661.3,330.2 661.3,332.6 661,335.3Z" fill="#b062b0"/>
<path d="M686.4,350.1 688.7,347.7 690.6,344.7 692.1,341.4 693.1,338 693.5,334.8 693.5,331.9 693.2,329.5 692.4,327.9 691.5,327.1 690.5,327.2 689.5,328.2 688.7,330 675,329.3 675.8,327.5 676.7,326.5 677.7,326.4 678.7,327.2 679.4,328.8 679.8,331.2 679.8,334.1 679.3,337.3 678.3,340.7 676.9,344 675,347 672.7,349.4Z" fill="#771a77" stroke="#471047" stroke-width="0.8"/>
<path d="M691.1,343.4 692.2,340.4 693,337.4 693.4,334.5 693.3,331.9 693,329.7 692.4,328.1 691.6,327.2 690.7,327.1 677.3,326.4 678.2,326.6 679,327.5 679.7,329 680,331.2 680,333.8 679.6,336.7 678.9,339.7 677.7,342.8Z" fill="#8e1f8e"/>
<path d="M690.5,336.8 690.8,334.1 690.8,331.7 690.5,329.7 689.9,328.2 681.7,327.8 682.2,329.3 682.5,331.3 682.6,333.7 682.3,336.4Z" fill="#b062b0"/>
<path d="M553.5,276.6 551,279 549,281.7 547.8,284.6 547.4,287.5 547.8,290.3 549.2,292.8 551.3,294.9 554.1,296.6 557.3,297.8 560.9,298.5 564.5,298.6 567.9,298.3 564.5,284.9 561.1,285.2 557.5,285.1 553.9,284.4 550.7,283.3 547.9,281.6 545.8,279.4 544.4,276.9 544,274.2 544.4,271.3 545.6,268.4 547.6,265.7 550.1,263.2Z" fill="#771a77" stroke="#471047" stroke-width="0.8"/>
<path d="M548.4,282.7 547.5,285.3 547.3,287.9 547.9,290.3 549.1,292.6 551,294.5 553.4,296.1 556.3,297.3 559.4,298.1 556.1,285.1 553,284.3 550.1,283.2 547.7,281.6 545.8,279.6 544.6,277.4 544,274.9 544.2,272.3 545.1,269.7Z" fill="#8e1f8e"/>
<path d="M546.7,285.7 547.3,288 548.5,290.1 550.2,291.9 552.4,293.5 550.4,285.4 548.2,283.9 546.5,282.1 545.3,280 544.7,277.7Z" fill="#b062b0"/>
<path d="M558.9,297.6 556.3,300 554.3,302.7 553.1,305.6 552.7,308.5 553.2,311.3 554.5,313.8 556.6,315.9 559.4,317.6 562.7,318.8 566.2,319.5 569.8,319.6 573.2,319.3 569.8,305.9 566.4,306.2 562.8,306.1 559.3,305.4 556,304.3 553.2,302.6 551.1,300.4 549.8,297.9 549.3,295.2 549.7,292.3 550.9,289.4 552.9,286.7 555.5,284.2Z" fill="#771a77" stroke="#471047" stroke-width="0.8"/>
<path d="M553.7,303.7 552.8,306.3 552.7,308.9 553.2,311.3 554.4,313.6 556.3,315.5 558.8,317.1 561.6,318.3 564.7,319.1 561.4,306.1 558.3,305.3 555.5,304.2 553,302.6 551.2,300.6 549.9,298.4 549.4,295.9 549.5,293.3 550.4,290.7Z" fill="#8e1f8e"/>
<path d="M552.1,306.7 552.6,309 553.8,311.1 555.6,312.9 557.8,314.5 555.7,306.4 553.5,304.9 551.8,303.1 550.6,301 550,298.7Z" fill="#b062b0"/>
<path d="M564.2,318.6 561.6,321 559.7,323.7 558.4,326.6 558,329.5 558.5,332.3 559.8,334.8 562,336.9 564.7,338.6 568,339.8 571.5,340.5 575.1,340.6 578.5,340.3 575.1,326.9 571.7,327.2 568.1,327.1 564.6,326.4 561.3,325.3 558.6,323.6 556.4,321.4 555.1,318.9 554.6,316.2 555,313.3 556.3,310.4 558.2,307.7 560.8,305.2Z" fill="#771a77" stroke="#471047" stroke-width="0.8"/>
<path d="M559,324.7 558.2,327.3 558,329.9 558.5,332.3 559.8,334.6 561.7,336.5 564.1,338.1 566.9,339.3 570,340.1 566.8,327.1 563.6,326.3 560.8,325.2 558.4,323.6 556.5,321.6 555.3,319.4 554.7,316.9 554.9,314.3 555.7,311.7Z" fill="#8e1f8e"/>
<path d="M557.4,327.7 558,330 559.2,332.1 560.9,333.9 563.1,335.5 561.1,327.4 558.9,325.9 557.1,324.1 555.9,322 555.4,319.7Z" fill="#b062b0"/>
<path d="M545.8,346.7 548.6,348.3 551.7,349.1 555,349.1 558.3,348.3 561.4,346.7 564.2,344.6 566.3,342 567.8,339.2 568.5,336.3 568.5,333.7 567.6,331.4 566.2,329.6 562.4,326.6 563.9,328.4 564.7,330.7 564.8,333.4 564,336.2 562.5,339 560.4,341.6 557.7,343.8 554.6,345.3 551.2,346.1 547.9,346.1 544.8,345.3 542.1,343.7Z" fill="#771a77" stroke="#471047" stroke-width="1.1"/>
<path d="M553,349.2 556,348.9 558.9,348 561.7,346.5 564.1,344.6 566.1,342.2 567.5,339.7 568.3,337.1 568.5,334.6 564.9,331.8 564.7,334.2 563.8,336.8 562.4,339.4 560.4,341.7 558,343.6 555.3,345.1 552.3,346 549.3,346.3Z" fill="#8e1f8e"/>
<path d="M558.6,347.3 561.2,345.8 563.4,344 565.3,341.9 566.6,339.5 564.4,337.7 563,340.1 561.1,342.2 558.9,344.1 556.3,345.5Z" fill="#b062b0"/>
<path d="M554.3,353.4 557,355 560.1,355.8 563.5,355.8 566.8,354.9 569.9,353.4 572.6,351.3 574.8,348.7 576.2,345.9 577,343 576.9,340.3 576.1,338 574.6,336.3 570.8,333.3 572.3,335 573.1,337.3 573.2,340 572.5,342.9 571,345.7 568.8,348.3 566.1,350.4 563,352 559.7,352.8 556.4,352.8 553.2,352 550.5,350.4Z" fill="#771a77" stroke="#471047" stroke-width="1.1"/>
<path d="M561.4,355.8 564.4,355.6 567.4,354.7 570.1,353.2 572.5,351.2 574.5,348.9 575.9,346.4 576.8,343.8 577,341.3 573.3,338.4 573.1,340.9 572.3,343.5 570.9,346 568.9,348.3 566.5,350.3 563.7,351.8 560.8,352.7 557.7,352.9Z" fill="#8e1f8e"/>
<path d="M567.1,353.9 569.6,352.5 571.8,350.7 573.7,348.5 575.1,346.2 572.8,344.4 571.4,346.7 569.6,348.9 567.3,350.7 564.8,352.1Z" fill="#b062b0"/>
<path d="M562.7,360 565.5,361.6 568.6,362.4 571.9,362.4 575.2,361.6 578.3,360.1 581,357.9 583.2,355.3 584.7,352.5 585.4,349.7 585.3,347 584.5,344.7 583.1,343 579.3,340 580.8,341.7 581.6,344 581.6,346.7 580.9,349.5 579.4,352.4 577.3,355 574.6,357.1 571.5,358.6 568.1,359.5 564.8,359.5 561.7,358.6 558.9,357Z" fill="#771a77" stroke="#471047" stroke-width="1.1"/>
<path d="M569.8,362.5 572.9,362.2 575.8,361.3 578.6,359.8 581,357.9 583,355.6 584.4,353.1 585.2,350.5 585.4,348 581.8,345.1 581.6,347.6 580.7,350.2 579.3,352.7 577.3,355 574.9,357 572.2,358.4 569.2,359.3 566.2,359.6Z" fill="#8e1f8e"/>
<path d="M575.5,360.6 578,359.2 580.3,357.3 582.1,355.2 583.5,352.8 581.3,351.1 579.9,353.4 578,355.6 575.8,357.4 573.2,358.8Z" fill="#b062b0"/>
<path d="M571.2,366.7 573.9,368.3 577,369.1 580.3,369.1 583.7,368.3 586.8,366.7 589.5,364.6 591.6,362 593.1,359.2 593.9,356.3 593.8,353.7 593,351.4 591.5,349.6 587.7,346.6 589.2,348.4 590,350.7 590.1,353.4 589.4,356.2 587.9,359 585.7,361.6 583,363.8 579.9,365.3 576.6,366.1 573.3,366.1 570.1,365.3 567.4,363.7Z" fill="#771a77" stroke="#471047" stroke-width="1.1"/>
<path d="M578.3,369.2 581.3,368.9 584.3,368 587,366.5 589.4,364.6 591.4,362.2 592.8,359.7 593.7,357.1 593.9,354.6 590.2,351.8 590,354.2 589.2,356.8 587.8,359.4 585.8,361.7 583.4,363.6 580.6,365.1 577.6,366 574.6,366.3Z" fill="#8e1f8e"/>
<path d="M583.9,367.3 586.5,365.8 588.7,364 590.6,361.9 592,359.5 589.7,357.7 588.3,360.1 586.5,362.2 584.2,364.1 581.7,365.5Z" fill="#b062b0"/>
<path d="M579.6,373.4 582.3,375 585.5,375.8 588.8,375.8 592.1,374.9 595.2,373.4 597.9,371.3 600.1,368.7 601.6,365.9 602.3,363 602.2,360.3 601.4,358 599.9,356.3 596.2,353.3 597.7,355 598.5,357.3 598.5,360 597.8,362.9 596.3,365.7 594.2,368.3 591.5,370.4 588.3,372 585,372.8 581.7,372.8 578.6,372 575.8,370.4Z" fill="#771a77" stroke="#471047" stroke-width="1.1"/>
<path d="M586.7,375.8 589.7,375.6 592.7,374.7 595.5,373.2 597.9,371.2 599.9,368.9 601.3,366.4 602.1,363.8 602.3,361.3 598.6,358.4 598.5,360.9 597.6,363.5 596.2,366 594.2,368.3 591.8,370.3 589,371.8 586.1,372.7 583.1,372.9Z" fill="#8e1f8e"/>
<path d="M592.4,373.9 594.9,372.5 597.2,370.7 599,368.5 600.4,366.2 598.2,364.4 596.8,366.7 594.9,368.9 592.7,370.7 590.1,372.1Z" fill="#b062b0"/>
<path d="M638.8,270.6 641.1,272.6 644.1,274.1 647.5,275.1 651.1,275.6 654.6,275.5 657.9,275.1 660.8,274.2 663,273.2 664.5,272 665.1,270.9 664.8,270 663.7,269.3 660.1,256 661.2,256.7 661.5,257.6 660.9,258.7 659.4,259.9 657.2,260.9 654.3,261.7 651,262.2 647.5,262.3 643.9,261.8 640.5,260.8 637.6,259.3 635.2,257.2Z" fill="#771a77" stroke="#471047" stroke-width="0.8"/>
<path d="M645.4,274.3 648.5,275.1 651.7,275.4 654.9,275.3 657.9,274.9 660.5,274.1 662.6,273.2 664.1,272.2 664.9,271.1 661.4,258.2 660.6,259.3 659.1,260.3 657,261.2 654.4,261.9 651.4,262.4 648.2,262.5 645,262.2 641.9,261.4Z" fill="#8e1f8e"/>
<path d="M651.5,272.9 654.5,272.8 657.2,272.4 659.7,271.7 661.7,270.9 659.5,262.9 657.5,263.7 655.1,264.4 652.3,264.8 649.3,265Z" fill="#b062b0"/>
<path d="M644.5,291.7 646.9,293.7 649.8,295.2 653.2,296.2 656.8,296.7 660.3,296.7 663.6,296.2 666.5,295.4 668.7,294.3 670.2,293.2 670.8,292.1 670.5,291.1 669.4,290.5 665.8,277.2 666.9,277.8 667.2,278.7 666.6,279.9 665.1,281 662.9,282.1 660.1,282.9 656.7,283.4 653.2,283.4 649.6,282.9 646.2,281.9 643.3,280.4 640.9,278.4Z" fill="#771a77" stroke="#471047" stroke-width="0.8"/>
<path d="M651.1,295.5 654.2,296.2 657.4,296.5 660.6,296.4 663.6,296 666.2,295.3 668.3,294.3 669.8,293.3 670.6,292.3 667.1,279.4 666.3,280.4 664.8,281.4 662.7,282.4 660.1,283.1 657.1,283.5 654,283.6 650.7,283.3 647.6,282.6Z" fill="#8e1f8e"/>
<path d="M657.2,294.1 660.2,294 662.9,293.5 665.4,292.9 667.4,292 665.2,284 663.2,284.9 660.8,285.6 658,286 655,286.1Z" fill="#b062b0"/>
<path d="M650.2,312.8 652.6,314.8 655.5,316.4 658.9,317.4 662.5,317.8 666,317.8 669.4,317.3 672.2,316.5 674.4,315.5 675.9,314.3 676.5,313.2 676.2,312.3 675.1,311.6 671.5,298.3 672.6,298.9 672.9,299.9 672.3,301 670.8,302.2 668.6,303.2 665.8,304 662.5,304.5 658.9,304.5 655.3,304.1 651.9,303.1 649,301.5 646.6,299.5Z" fill="#771a77" stroke="#471047" stroke-width="0.8"/>
<path d="M656.8,316.6 659.9,317.4 663.2,317.7 666.3,317.6 669.3,317.1 671.9,316.4 674,315.5 675.5,314.5 676.3,313.4 672.8,300.5 672,301.6 670.5,302.6 668.4,303.5 665.8,304.2 662.9,304.7 659.7,304.8 656.4,304.5 653.3,303.7Z" fill="#8e1f8e"/>
<path d="M662.9,315.2 665.9,315.1 668.6,314.7 671.1,314 673.1,313.2 670.9,305.2 668.9,306 666.5,306.7 663.7,307.1 660.8,307.2Z" fill="#b062b0"/>
<path d="M655.9,334 658.3,336 661.2,337.5 664.6,338.5 668.2,339 671.8,339 675.1,338.5 677.9,337.7 680.2,336.6 681.6,335.5 682.2,334.3 681.9,333.4 680.8,332.8 677.2,319.4 678.3,320.1 678.6,321 678,322.1 676.6,323.3 674.3,324.4 671.5,325.2 668.2,325.6 664.6,325.7 661,325.2 657.6,324.2 654.7,322.7 652.3,320.7Z" fill="#771a77" stroke="#471047" stroke-width="0.8"/>
<path d="M662.5,337.8 665.6,338.5 668.9,338.8 672.1,338.7 675,338.3 677.6,337.6 679.7,336.6 681.2,335.6 682,334.6 678.5,321.7 677.7,322.7 676.2,323.7 674.1,324.7 671.5,325.4 668.6,325.8 665.4,325.9 662.1,325.6 659,324.9Z" fill="#8e1f8e"/>
<path d="M668.6,336.4 671.6,336.2 674.4,335.8 676.8,335.1 678.8,334.3 676.6,326.3 674.6,327.2 672.2,327.8 669.4,328.3 666.5,328.4Z" fill="#b062b0"/>
<path d="M695.2,285.5 698.6,284.4 701.8,282.8 704.6,280.9 706.8,279 708.3,277.1 709,275.4 709.1,274.2 708.4,273.5 707,273.4 705.2,274 703,275.3 700.7,277.2 691.8,266.7 694.1,264.8 696.3,263.5 698.1,262.9 699.4,263 700.1,263.7 700.1,264.9 699.4,266.6 697.8,268.5 695.6,270.4 692.9,272.3 689.7,273.9 686.3,275Z" fill="#771a77" stroke="#471047" stroke-width="0.8"/>
<path d="M702.8,281.9 705.2,280.2 707,278.4 708.2,276.7 708.9,275.3 709,274.1 708.4,273.4 707.4,273.2 705.8,273.5 697.2,263.3 698.7,263 699.8,263.2 700.3,263.9 700.3,265.1 699.6,266.5 698.3,268.2 696.5,270 694.2,271.7Z" fill="#8e1f8e"/>
<path d="M705.5,276.2 706.7,274.7 707.3,273.3 707.3,272.2 706.9,271.5 701.5,265.2 702,265.9 701.9,267 701.3,268.4 700.2,269.9Z" fill="#b062b0"/>
<path d="M709.2,302 712.6,300.9 715.8,299.3 718.6,297.4 720.8,295.5 722.3,293.6 723,291.9 723.1,290.7 722.4,290 721,289.9 719.2,290.5 717,291.8 714.7,293.7 705.8,283.2 708.1,281.3 710.3,280 712.1,279.4 713.4,279.5 714.1,280.2 714.1,281.4 713.4,283.1 711.8,285 709.6,286.9 706.9,288.8 703.7,290.4 700.3,291.5Z" fill="#771a77" stroke="#471047" stroke-width="0.8"/>
<path d="M716.8,298.4 719.2,296.7 721,294.9 722.2,293.2 722.9,291.8 723,290.6 722.4,289.9 721.4,289.7 719.8,290 711.2,279.8 712.7,279.5 713.8,279.7 714.3,280.4 714.3,281.6 713.6,283 712.3,284.7 710.5,286.5 708.2,288.2Z" fill="#8e1f8e"/>
<path d="M719.5,292.7 720.7,291.2 721.3,289.8 721.3,288.7 720.9,288 715.5,281.7 716,282.4 715.9,283.5 715.3,284.9 714.2,286.4Z" fill="#b062b0"/>
<path d="M607.1,313.3 610.2,311.6 613.1,309.4 615.6,306.8 617.6,304.2 619.1,301.5 620,299.2 620.2,297.3 619.9,296.1 619.1,295.6 617.9,295.9 616.5,297 615,298.9 602.9,292.2 604.4,290.3 605.9,289.2 607.1,288.9 607.9,289.4 608.2,290.7 607.9,292.5 607,294.9 605.6,297.5 603.5,300.2 601,302.8 598.1,304.9 595,306.6Z" fill="#771a77" stroke="#471047" stroke-width="0.8"/>
<path d="M613.9,308.3 616.1,305.9 617.8,303.5 619,301.2 619.8,299.1 620.1,297.4 619.9,296.2 619.2,295.5 618.3,295.5 606.6,289.1 607.5,289.1 608.1,289.7 608.3,290.9 608.1,292.6 607.3,294.7 606.1,297.1 604.4,299.5 602.2,301.9Z" fill="#8e1f8e"/>
<path d="M615.7,302 616.9,299.8 617.6,297.9 617.8,296.2 617.7,295.1 610.4,291.1 610.6,292.3 610.3,293.9 609.6,295.8 608.5,298Z" fill="#b062b0"/>
<path d="M627.1,324.3 630.2,322.6 633.1,320.4 635.6,317.8 637.6,315.2 639.1,312.5 640,310.2 640.2,308.3 639.9,307.1 639.1,306.6 637.9,306.9 636.5,308 635,309.9 622.9,303.2 624.4,301.3 625.9,300.2 627.1,299.9 627.9,300.4 628.2,301.7 627.9,303.5 627,305.9 625.6,308.5 623.5,311.2 621,313.8 618.1,315.9 615,317.6Z" fill="#771a77" stroke="#471047" stroke-width="0.8"/>
<path d="M633.9,319.3 636.1,316.9 637.8,314.5 639,312.2 639.8,310.1 640.1,308.4 639.9,307.2 639.2,306.5 638.3,306.5 626.6,300.1 627.5,300.1 628.1,300.7 628.3,301.9 628.1,303.6 627.3,305.7 626.1,308.1 624.4,310.5 622.2,312.9Z" fill="#8e1f8e"/>
<path d="M635.7,313 636.9,310.8 637.6,308.9 637.8,307.2 637.7,306.1 630.4,302.1 630.6,303.3 630.3,304.9 629.6,306.8 628.5,309Z" fill="#b062b0"/>
<path d="M762.4,315.3 765.5,315.2 768.6,314.3 771.7,312.7 774.5,310.5 777,308 779.1,305.2 780.6,302.5 781.6,300 781.9,297.9 781.7,296.5 781,295.7 779.9,295.8 767.6,289.7 768.7,289.6 769.4,290.3 769.6,291.7 769.2,293.8 768.3,296.3 766.8,299 764.7,301.8 762.2,304.4 759.3,306.5 756.3,308.2 753.1,309.1 750.1,309.2Z" fill="#98569b" stroke="#5a335c" stroke-width="0.8"/>
<path d="M769.6,313.7 772.4,312 774.9,310 777.1,307.6 778.9,305.1 780.3,302.6 781.2,300.3 781.7,298.4 781.7,296.9 769.7,290.9 769.7,292.4 769.3,294.4 768.4,296.7 767,299.1 765.1,301.6 762.9,304 760.4,306 757.7,307.7Z" fill="#b566b8"/>
<path d="M772.9,308.5 774.9,306.3 776.6,304 778,301.7 778.9,299.5 771.5,295.8 770.6,298 769.3,300.3 767.5,302.6 765.5,304.8Z" fill="#cb94cd"/>
<path d="M782.4,325.3 785.5,325.2 788.6,324.3 791.7,322.7 794.5,320.5 797,318 799.1,315.2 800.6,312.5 801.6,310 801.9,307.9 801.7,306.5 801,305.7 799.9,305.8 787.6,299.7 788.7,299.6 789.4,300.3 789.6,301.7 789.2,303.8 788.3,306.3 786.8,309 784.7,311.8 782.2,314.4 779.3,316.5 776.3,318.2 773.1,319.1 770.1,319.2Z" fill="#98569b" stroke="#5a335c" stroke-width="0.8"/>
<path d="M789.6,323.7 792.4,322 794.9,320 797.1,317.6 798.9,315.1 800.3,312.6 801.2,310.3 801.7,308.4 801.7,306.9 789.7,300.9 789.7,302.4 789.3,304.4 788.4,306.7 787,309.1 785.1,311.6 782.9,314 780.4,316 777.7,317.7Z" fill="#b566b8"/>
<path d="M792.9,318.5 794.9,316.3 796.6,314 798,311.7 798.9,309.5 791.5,305.8 790.6,308 789.3,310.3 787.5,312.6 785.5,314.8Z" fill="#cb94cd"/>
<path d="M908.5,222.1 910.4,224.2 913,225.9 916.2,227 919.6,227.6 923.2,227.7 926.7,227.2 929.9,226.4 932.5,225.3 934.5,224 935.6,222.7 935.9,221.5 935.3,220.6 930.8,207.6 931.4,208.5 931.1,209.6 930,210.9 928,212.2 925.4,213.4 922.2,214.2 918.7,214.6 915.1,214.6 911.7,214 908.5,212.9 905.9,211.2 904,209.1Z" fill="#98569b" stroke="#5a335c" stroke-width="0.8"/>
<path d="M914.2,226.2 917.1,227.1 920.3,227.5 923.5,227.4 926.6,227 929.5,226.3 932,225.3 933.9,224.2 935.2,223 930.8,210.4 929.5,211.5 927.6,212.7 925.1,213.6 922.3,214.4 919.2,214.8 915.9,214.8 912.7,214.4 909.8,213.6Z" fill="#b566b8"/>
<path d="M919.9,225.1 922.9,225 925.8,224.6 928.5,223.9 930.8,223 928.1,215.2 925.8,216.1 923.1,216.8 920.2,217.2 917.2,217.3Z" fill="#cb94cd"/>
<path d="M915.2,241.4 917.1,243.6 919.7,245.2 922.8,246.4 926.3,246.9 929.9,247 933.4,246.6 936.5,245.7 939.2,244.6 941.1,243.3 942.3,242 942.6,240.8 942,239.9 937.5,226.9 938.1,227.8 937.8,229 936.6,230.3 934.7,231.6 932,232.7 928.9,233.5 925.4,234 921.8,233.9 918.3,233.3 915.2,232.2 912.6,230.5 910.7,228.4Z" fill="#98569b" stroke="#5a335c" stroke-width="0.8"/>
<path d="M920.8,245.6 923.8,246.4 926.9,246.8 930.2,246.8 933.3,246.4 936.2,245.6 938.6,244.6 940.5,243.5 941.8,242.3 937.5,229.7 936.2,230.9 934.3,232 931.8,233 929,233.7 925.8,234.1 922.6,234.2 919.4,233.8 916.5,232.9Z" fill="#b566b8"/>
<path d="M926.5,244.4 929.6,244.3 932.5,243.9 935.2,243.3 937.5,242.4 934.8,234.5 932.5,235.4 929.8,236.1 926.9,236.5 923.9,236.6Z" fill="#cb94cd"/>
<path d="M921.8,260.8 923.7,262.9 926.3,264.6 929.5,265.7 933,266.3 936.6,266.3 940,265.9 943.2,265 945.8,263.9 947.8,262.6 948.9,261.3 949.2,260.2 948.7,259.3 944.2,246.2 944.7,247.1 944.4,248.3 943.3,249.6 941.3,250.9 938.7,252 935.6,252.9 932.1,253.3 928.5,253.3 925,252.7 921.9,251.5 919.2,249.9 917.3,247.7Z" fill="#98569b" stroke="#5a335c" stroke-width="0.8"/>
<path d="M927.5,264.9 930.4,265.7 933.6,266.1 936.8,266.1 940,265.7 942.8,264.9 945.3,264 947.2,262.8 948.5,261.7 944.2,249 942.9,250.2 940.9,251.3 938.5,252.3 935.6,253.1 932.5,253.5 929.3,253.5 926.1,253.1 923.1,252.2Z" fill="#b566b8"/>
<path d="M933.2,263.7 936.2,263.7 939.1,263.3 941.8,262.6 944.2,261.7 941.5,253.9 939.1,254.8 936.5,255.5 933.5,255.9 930.5,255.9Z" fill="#cb94cd"/>
<path d="M794.3,226.6 796.8,224.9 799,222.5 800.8,219.5 802.1,216.1 802.9,212.6 803.3,209.1 803.1,206 802.7,203.4 801.9,201.4 801,200.3 800.1,200.1 799.2,200.8 785.5,202.2 786.4,201.5 787.3,201.7 788.2,202.8 788.9,204.8 789.4,207.4 789.6,210.5 789.2,214 788.4,217.5 787.1,220.9 785.3,223.9 783.1,226.3 780.6,228Z" fill="#771a77" stroke="#471047" stroke-width="0.8"/>
<path d="M799.6,221.4 801.1,218.5 802.1,215.4 802.8,212.2 803.1,209.1 803,206.3 802.6,203.9 801.9,202 801.2,200.7 787.9,202 788.6,203.3 789.3,205.2 789.7,207.7 789.8,210.5 789.5,213.6 788.8,216.8 787.8,219.9 786.3,222.7Z" fill="#8e1f8e"/>
<path d="M799.7,215.3 800.3,212.3 800.5,209.4 800.4,206.7 800.1,204.4 791.9,205.3 792.2,207.6 792.3,210.2 792.1,213.1 791.5,216.1Z" fill="#b062b0"/>
<path d="M817.9,224.2 820.4,222.5 822.6,220.1 824.4,217.1 825.7,213.7 826.5,210.2 826.9,206.7 826.7,203.6 826.3,201 825.5,199 824.6,197.9 823.7,197.7 822.8,198.4 809.1,199.8 810,199.1 810.9,199.3 811.8,200.4 812.5,202.4 813,205 813.2,208.1 812.8,211.6 812,215.1 810.7,218.5 808.9,221.5 806.7,223.9 804.2,225.6Z" fill="#771a77" stroke="#471047" stroke-width="0.8"/>
<path d="M823.2,219 824.7,216.1 825.7,213 826.4,209.8 826.7,206.7 826.6,203.9 826.2,201.5 825.5,199.6 824.8,198.3 811.5,199.6 812.2,200.9 812.9,202.8 813.3,205.3 813.4,208.1 813.1,211.2 812.4,214.4 811.4,217.5 809.9,220.3Z" fill="#8e1f8e"/>
<path d="M823.3,212.9 823.9,209.9 824.1,207 824,204.3 823.7,202 815.5,202.9 815.8,205.2 815.9,207.8 815.7,210.7 815.1,213.7Z" fill="#b062b0"/>
<path d="M841.5,221.8 844,220.1 846.2,217.7 848,214.7 849.3,211.3 850.1,207.8 850.5,204.3 850.3,201.2 849.9,198.6 849.1,196.6 848.2,195.5 847.3,195.3 846.4,196 832.7,197.4 833.6,196.7 834.5,196.9 835.4,198 836.1,200 836.6,202.6 836.8,205.7 836.4,209.2 835.6,212.7 834.3,216.1 832.5,219.1 830.3,221.5 827.8,223.2Z" fill="#771a77" stroke="#471047" stroke-width="0.8"/>
<path d="M846.8,216.6 848.3,213.7 849.3,210.6 850,207.4 850.3,204.3 850.2,201.5 849.8,199.1 849.1,197.2 848.4,195.9 835.1,197.2 835.8,198.5 836.5,200.4 836.9,202.9 837,205.7 836.7,208.8 836,212 835,215.1 833.5,217.9Z" fill="#8e1f8e"/>
<path d="M846.9,210.5 847.5,207.5 847.7,204.6 847.6,201.9 847.3,199.6 839.1,200.5 839.4,202.8 839.5,205.4 839.3,208.3 838.7,211.3Z" fill="#b062b0"/>
<path d="M742.1,273.2 744.6,275.1 747.6,276.3 750.9,276.7 754.4,276.3 757.7,275.3 760.8,273.6 763.4,271.5 765.3,269 766.5,266.5 766.9,264 766.4,261.8 765.2,260.1 761.5,255.4 762.8,257.1 763.2,259.3 762.8,261.8 761.6,264.3 759.7,266.8 757.1,268.9 754.1,270.6 750.7,271.7 747.2,272 743.9,271.6 740.9,270.4 738.4,268.6Z" fill="#771a77" stroke="#471047" stroke-width="0.8"/>
<path d="M748.8,276.5 751.9,276.6 755,276.1 758,275.1 760.7,273.5 763.1,271.6 764.9,269.4 766.2,267.1 766.8,264.9 763.2,260.3 762.6,262.6 761.4,264.9 759.5,267.1 757.2,269 754.4,270.5 751.4,271.6 748.3,272.1 745.3,271.9Z" fill="#8e1f8e"/>
<path d="M754.7,275.1 757.5,274.1 760.1,272.7 762.3,270.9 764,268.9 761.8,266.1 760.1,268.1 757.9,269.9 755.3,271.3 752.5,272.3Z" fill="#b062b0"/>
<path d="M749.5,282.6 751.9,284.4 754.9,285.6 758.3,286 761.7,285.7 765.1,284.6 768.1,282.9 770.7,280.8 772.6,278.3 773.8,275.8 774.2,273.3 773.8,271.2 772.6,269.4 768.9,264.8 770.1,266.5 770.5,268.6 770.2,271.1 769,273.7 767,276.1 764.4,278.3 761.4,279.9 758,281 754.6,281.3 751.3,280.9 748.3,279.8 745.8,277.9Z" fill="#771a77" stroke="#471047" stroke-width="0.8"/>
<path d="M756.2,285.8 759.2,285.9 762.3,285.4 765.3,284.4 768.1,282.9 770.4,281 772.3,278.8 773.5,276.5 774.1,274.2 770.5,269.7 769.9,271.9 768.7,274.2 766.9,276.4 764.5,278.3 761.8,279.9 758.8,280.9 755.7,281.4 752.6,281.3Z" fill="#8e1f8e"/>
<path d="M762.1,284.5 764.8,283.4 767.4,282 769.6,280.2 771.4,278.2 769.2,275.4 767.4,277.4 765.2,279.2 762.6,280.6 759.9,281.7Z" fill="#b062b0"/>
<path d="M756.8,291.9 759.3,293.8 762.3,295 765.6,295.4 769,295 772.4,293.9 775.5,292.3 778,290.1 780,287.7 781.2,285.1 781.5,282.7 781.1,280.5 779.9,278.8 776.2,274.1 777.4,275.8 777.9,278 777.5,280.4 776.3,283 774.4,285.4 771.8,287.6 768.7,289.3 765.4,290.3 761.9,290.7 758.6,290.3 755.6,289.1 753.1,287.2Z" fill="#771a77" stroke="#471047" stroke-width="0.8"/>
<path d="M763.5,295.1 766.6,295.3 769.7,294.8 772.7,293.7 775.4,292.2 777.8,290.3 779.6,288.1 780.8,285.8 781.4,283.6 777.9,279 777.3,281.3 776,283.6 774.2,285.7 771.8,287.7 769.1,289.2 766.1,290.2 763,290.7 759.9,290.6Z" fill="#8e1f8e"/>
<path d="M769.4,293.8 772.2,292.8 774.7,291.3 776.9,289.6 778.7,287.5 776.5,284.7 774.7,286.7 772.5,288.5 770,290 767.2,291Z" fill="#b062b0"/>
<path d="M745.9,305.2 748.7,306.9 752,308.1 755.5,308.8 759.1,309 762.5,308.7 765.5,308.1 767.9,307.1 769.6,306 770.4,304.9 770.4,303.9 769.4,303.1 767.7,302.7 764.6,289.3 766.3,289.7 767.2,290.5 767.2,291.5 766.4,292.6 764.7,293.7 762.3,294.6 759.3,295.3 755.9,295.6 752.3,295.4 748.8,294.7 745.5,293.5 742.8,291.8Z" fill="#771a77" stroke="#471047" stroke-width="0.8"/>
<path d="M753.3,308.3 756.5,308.7 759.7,308.8 762.8,308.5 765.4,307.9 767.6,307 769.3,306 770.2,305 770.4,304 767.3,291 767.1,292 766.2,293 764.5,294 762.3,294.9 759.7,295.5 756.6,295.8 753.4,295.7 750.2,295.3Z" fill="#8e1f8e"/>
<path d="M759.6,306.3 762.4,306 764.8,305.4 766.9,304.6 768.5,303.7 766.6,295.6 765,296.5 762.9,297.3 760.4,297.9 757.7,298.2Z" fill="#b062b0"/>
<path d="M750.9,326.2 753.7,327.9 757,329.1 760.5,329.8 764.1,330 767.5,329.7 770.5,329.1 772.9,328.1 774.6,327 775.4,325.9 775.4,324.9 774.4,324.1 772.7,323.7 769.6,310.3 771.3,310.7 772.2,311.5 772.2,312.5 771.4,313.6 769.7,314.7 767.3,315.6 764.3,316.3 760.9,316.6 757.3,316.4 753.8,315.7 750.5,314.5 747.8,312.8Z" fill="#771a77" stroke="#471047" stroke-width="0.8"/>
<path d="M758.3,329.3 761.5,329.7 764.7,329.8 767.8,329.5 770.4,328.9 772.6,328 774.3,327 775.2,326 775.4,325 772.3,312 772.1,313 771.2,314 769.5,315 767.3,315.9 764.7,316.5 761.6,316.8 758.4,316.7 755.2,316.3Z" fill="#8e1f8e"/>
<path d="M764.6,327.3 767.4,327 769.8,326.4 771.9,325.6 773.5,324.7 771.6,316.6 770,317.5 767.9,318.3 765.4,318.9 762.7,319.2Z" fill="#b062b0"/>
<path d="M798.8,259.2 802.3,259.9 805.6,260.1 808.7,259.9 811.2,259.3 813,258.5 813.9,257.5 814,256.5 813.2,255.6 811.5,254.9 809.1,254.6 806.2,254.6 803,255.2 802,241.5 805.3,240.9 808.2,240.8 810.5,241.2 812.2,241.8 813,242.7 813,243.8 812,244.7 810.2,245.6 807.7,246.2 804.7,246.4 801.3,246.1 797.8,245.4Z" fill="#771a77" stroke="#471047" stroke-width="0.8"/>
<path d="M806.9,259.9 809.5,259.6 811.6,259 813.1,258.2 813.9,257.3 814,256.4 813.4,255.5 812.1,254.9 810.2,254.5 809.2,241.1 811.1,241.5 812.4,242.2 813.1,243 813,244 812.1,244.9 810.6,245.6 808.5,246.2 806,246.5Z" fill="#8e1f8e"/>
<path d="M811.6,256.3 813,255.6 813.7,254.8 813.8,253.9 813.3,253.1 812.7,244.9 813.3,245.6 813.1,246.5 812.4,247.3 811.1,248.1Z" fill="#b062b0"/>
<path d="M800.3,280.4 803.8,281.1 807.1,281.4 810.2,281.2 812.7,280.6 814.5,279.7 815.4,278.8 815.5,277.7 814.7,276.8 813,276.2 810.6,275.8 807.7,275.9 804.5,276.5 803.5,262.7 806.8,262.2 809.7,262.1 812,262.4 813.7,263.1 814.5,264 814.5,265 813.5,266 811.7,266.8 809.2,267.4 806.2,267.6 802.8,267.4 799.3,266.7Z" fill="#771a77" stroke="#471047" stroke-width="0.8"/>
<path d="M808.4,281.1 811,280.8 813.1,280.2 814.6,279.4 815.4,278.5 815.5,277.6 814.9,276.8 813.6,276.1 811.7,275.7 810.7,262.4 812.6,262.8 813.9,263.5 814.6,264.3 814.5,265.2 813.6,266.1 812.1,266.9 810,267.5 807.5,267.8Z" fill="#8e1f8e"/>
<path d="M813.1,277.6 814.5,276.8 815.2,276 815.3,275.1 814.8,274.4 814.2,266.1 814.8,266.9 814.6,267.8 813.9,268.6 812.6,269.3Z" fill="#b062b0"/>
<path d="M801.8,301.7 805.3,302.4 808.6,302.6 811.7,302.4 814.2,301.8 816,301 816.9,300 817,299 816.2,298.1 814.5,297.4 812.1,297.1 809.2,297.1 806,297.7 805,284 808.3,283.4 811.2,283.3 813.5,283.7 815.2,284.3 816,285.2 816,286.3 815,287.2 813.2,288.1 810.7,288.7 807.7,288.9 804.3,288.6 800.8,287.9Z" fill="#771a77" stroke="#471047" stroke-width="0.8"/>
<path d="M809.9,302.4 812.5,302.1 814.6,301.5 816.1,300.7 816.9,299.8 817,298.9 816.4,298 815.1,297.4 813.2,297 812.2,283.6 814.1,284 815.4,284.7 816.1,285.5 816,286.5 815.1,287.4 813.6,288.1 811.5,288.7 809,289Z" fill="#8e1f8e"/>
<path d="M814.6,298.8 816,298.1 816.7,297.3 816.8,296.4 816.3,295.6 815.7,287.4 816.3,288.1 816.1,289 815.4,289.8 814.1,290.6Z" fill="#b062b0"/>
<path d="M803.3,322.9 806.8,323.6 810.1,323.9 813.2,323.7 815.7,323.1 817.5,322.2 818.4,321.3 818.5,320.2 817.7,319.3 816,318.7 813.6,318.3 810.7,318.4 807.5,319 806.5,305.2 809.8,304.7 812.7,304.6 815,304.9 816.7,305.6 817.5,306.5 817.5,307.5 816.5,308.5 814.7,309.3 812.2,309.9 809.2,310.1 805.8,309.9 802.3,309.2Z" fill="#771a77" stroke="#471047" stroke-width="0.8"/>
<path d="M811.4,323.6 814,323.3 816.1,322.7 817.6,321.9 818.4,321 818.5,320.1 817.9,319.3 816.6,318.6 814.7,318.2 813.7,304.9 815.6,305.3 816.9,306 817.6,306.8 817.5,307.7 816.6,308.6 815.1,309.4 813,310 810.5,310.3Z" fill="#8e1f8e"/>
<path d="M816.1,320.1 817.5,319.3 818.2,318.5 818.3,317.6 817.8,316.9 817.2,308.6 817.8,309.4 817.6,310.3 816.9,311.1 815.6,311.8Z" fill="#b062b0"/>
<path d="M817.7,274.1 816.6,277.4 816.3,280.7 816.6,283.7 817.8,286.3 819.6,288.4 822.1,289.9 825.1,290.7 828.4,290.8 831.9,290.2 835.4,289.2 838.6,287.6 841.4,285.8 832.7,275.1 829.9,276.9 826.7,278.4 823.3,279.5 819.8,280.1 816.4,279.9 813.4,279.1 810.9,277.7 809.1,275.6 808,273 807.6,269.9 808,266.7 809,263.4Z" fill="#771a77" stroke="#471047" stroke-width="0.8"/>
<path d="M816.2,281.7 816.8,284.3 817.9,286.6 819.7,288.4 822,289.7 824.7,290.4 827.6,290.6 830.8,290.3 833.9,289.5 825.5,279.1 822.3,279.9 819.2,280.2 816.2,280.1 813.6,279.3 811.3,278 809.5,276.2 808.3,274 807.8,271.3Z" fill="#8e1f8e"/>
<path d="M816.5,284.9 818.2,286.5 820.4,287.7 822.9,288.4 825.6,288.7 820.4,282.2 817.7,282 815.2,281.3 813,280.1 811.3,278.5Z" fill="#b062b0"/>
<path d="M831.3,290.9 830.2,294.2 829.9,297.5 830.2,300.5 831.4,303.1 833.2,305.2 835.7,306.7 838.7,307.5 842,307.6 845.5,307 849,306 852.2,304.4 855,302.6 846.3,291.9 843.5,293.7 840.3,295.2 836.9,296.3 833.4,296.9 830,296.7 827,295.9 824.5,294.5 822.7,292.4 821.6,289.8 821.2,286.7 821.6,283.5 822.6,280.2Z" fill="#771a77" stroke="#471047" stroke-width="0.8"/>
<path d="M829.8,298.5 830.4,301.1 831.5,303.4 833.3,305.2 835.6,306.5 838.3,307.2 841.2,307.4 844.4,307.1 847.5,306.3 839.1,295.9 835.9,296.7 832.8,297 829.8,296.9 827.2,296.1 824.9,294.8 823.1,293 821.9,290.8 821.4,288.1Z" fill="#8e1f8e"/>
<path d="M830.1,301.7 831.8,303.3 834,304.5 836.5,305.2 839.2,305.5 834,299 831.3,298.8 828.8,298.1 826.6,296.9 824.9,295.3Z" fill="#b062b0"/>
<path d="M859.1,283.2 862.5,283.3 866,282.8 869.4,281.8 872.6,280.3 875.2,278.7 877.3,276.9 878.6,275.2 879.2,273.7 878.9,272.6 878,272 876.3,272 874.2,272.7 866.5,261.2 868.7,260.6 870.3,260.6 871.3,261.2 871.5,262.2 871,263.7 869.7,265.4 867.6,267.2 864.9,268.9 861.8,270.3 858.3,271.3 854.8,271.8 851.4,271.7Z" fill="#771a77" stroke="#471047" stroke-width="0.8"/>
<path d="M867.3,282.3 870.3,281.2 873,279.9 875.4,278.3 877.2,276.7 878.4,275.2 879,273.8 879,272.7 878.3,272 870.9,260.9 871.6,261.6 871.6,262.7 871,264.1 869.8,265.6 868,267.2 865.6,268.7 862.9,270.1 859.8,271.1Z" fill="#8e1f8e"/>
<path d="M871.9,277.5 874.1,276.1 875.8,274.6 877,273.2 877.6,271.9 873,265 872.4,266.3 871.2,267.7 869.5,269.2 867.4,270.7Z" fill="#b062b0"/>
<path d="M870.3,300 873.7,300.1 877.2,299.6 880.6,298.6 883.8,297.1 886.4,295.5 888.5,293.7 889.8,292 890.4,290.5 890.1,289.4 889.2,288.8 887.5,288.8 885.4,289.5 877.7,278 879.9,277.4 881.5,277.4 882.5,278 882.7,279 882.2,280.5 880.9,282.2 878.8,284 876.1,285.7 873,287.1 869.5,288.1 866,288.6 862.6,288.5Z" fill="#771a77" stroke="#471047" stroke-width="0.8"/>
<path d="M878.5,299.1 881.5,298 884.2,296.7 886.6,295.1 888.4,293.5 889.6,292 890.2,290.6 890.2,289.5 889.5,288.8 882.1,277.7 882.8,278.4 882.8,279.5 882.2,280.9 881,282.4 879.2,284 876.8,285.5 874.1,286.9 871,287.9Z" fill="#8e1f8e"/>
<path d="M883.1,294.3 885.3,292.9 887,291.4 888.2,290 888.8,288.7 884.2,281.8 883.6,283.1 882.4,284.5 880.7,286 878.6,287.5Z" fill="#b062b0"/>
<path d="M881.5,316.8 884.9,316.9 888.4,316.4 891.8,315.4 895,313.9 897.6,312.3 899.7,310.5 901,308.8 901.6,307.3 901.3,306.2 900.4,305.6 898.7,305.6 896.6,306.3 888.9,294.8 891.1,294.2 892.7,294.2 893.7,294.8 893.9,295.8 893.4,297.3 892.1,299 890,300.8 887.3,302.5 884.2,303.9 880.7,304.9 877.2,305.4 873.8,305.3Z" fill="#771a77" stroke="#471047" stroke-width="0.8"/>
<path d="M889.7,315.9 892.7,314.8 895.4,313.5 897.8,311.9 899.6,310.3 900.8,308.8 901.4,307.4 901.4,306.3 900.7,305.6 893.3,294.5 894,295.2 894,296.3 893.4,297.7 892.2,299.2 890.4,300.8 888,302.3 885.3,303.7 882.2,304.7Z" fill="#8e1f8e"/>
<path d="M894.3,311.1 896.5,309.7 898.2,308.2 899.4,306.8 900,305.5 895.4,298.6 894.8,299.9 893.6,301.3 891.9,302.8 889.8,304.3Z" fill="#b062b0"/>
<path d="M775.3,349 778.1,348.9 781.1,348 784,346.3 786.6,344 788.9,341.2 790.8,338.3 792.2,335.3 793,332.5 793.3,330.2 793,328.5 792.3,327.5 791.2,327.4 778.3,322.6 779.4,322.7 780.1,323.7 780.4,325.4 780.1,327.7 779.3,330.5 777.9,333.4 776,336.4 773.7,339.1 771.1,341.4 768.2,343.1 765.2,344.1 762.4,344.2Z" fill="#771a77" stroke="#471047" stroke-width="0.8"/>
<path d="M782.1,347.3 784.6,345.6 786.9,343.4 789,340.9 790.6,338.2 791.9,335.5 792.7,333 793.1,330.8 793,329 780.5,324.3 780.5,326.1 780.2,328.3 779.4,330.8 778.1,333.5 776.5,336.2 774.4,338.7 772.1,340.9 769.5,342.6Z" fill="#8e1f8e"/>
<path d="M784.8,342.2 786.7,339.8 788.3,337.3 789.4,334.8 790.2,332.4 782.5,329.5 781.7,331.9 780.5,334.4 779,336.9 777.1,339.3Z" fill="#b062b0"/>
<path d="M794.5,356.2 797.3,356.1 800.3,355.2 803.2,353.5 805.8,351.2 808.1,348.4 810,345.5 811.4,342.5 812.2,339.7 812.5,337.4 812.2,335.7 811.5,334.7 810.4,334.6 797.5,329.8 798.6,329.9 799.3,330.9 799.6,332.6 799.3,334.9 798.5,337.7 797.1,340.6 795.2,343.6 792.9,346.3 790.3,348.6 787.4,350.3 784.4,351.3 781.6,351.4Z" fill="#771a77" stroke="#471047" stroke-width="0.8"/>
<path d="M801.3,354.5 803.8,352.8 806.1,350.6 808.2,348.1 809.8,345.4 811.1,342.7 811.9,340.2 812.3,338 812.2,336.2 799.7,331.5 799.7,333.3 799.4,335.5 798.6,338 797.3,340.7 795.7,343.4 793.6,345.9 791.3,348.1 788.7,349.8Z" fill="#8e1f8e"/>
<path d="M804,349.4 805.9,347 807.5,344.5 808.6,342 809.4,339.6 801.7,336.7 800.9,339.1 799.7,341.6 798.2,344.1 796.3,346.5Z" fill="#b062b0"/>
<path d="M813.7,363.4 816.5,363.3 819.5,362.4 822.4,360.7 825,358.4 827.3,355.6 829.2,352.7 830.6,349.7 831.4,346.9 831.7,344.6 831.4,342.9 830.7,341.9 829.6,341.8 816.7,337 817.8,337.1 818.5,338.1 818.8,339.8 818.5,342.1 817.7,344.9 816.3,347.8 814.4,350.8 812.1,353.5 809.5,355.8 806.6,357.5 803.6,358.5 800.8,358.6Z" fill="#771a77" stroke="#471047" stroke-width="0.8"/>
<path d="M820.5,361.7 823,360 825.3,357.8 827.4,355.3 829,352.6 830.3,349.9 831.1,347.4 831.5,345.2 831.4,343.4 818.9,338.7 818.9,340.5 818.6,342.7 817.8,345.2 816.5,347.9 814.9,350.6 812.8,353.1 810.5,355.3 807.9,357Z" fill="#8e1f8e"/>
<path d="M823.2,356.6 825.1,354.2 826.7,351.7 827.8,349.2 828.6,346.8 820.9,343.9 820.1,346.3 818.9,348.8 817.4,351.3 815.5,353.7Z" fill="#b062b0"/>
<path d="M840.2,321.6 841.2,318.1 841.7,314.6 841.8,311.1 841.4,308 840.7,305.5 839.8,303.7 838.8,302.7 837.8,302.6 837,303.3 836.6,304.9 836.5,307.2 836.9,310 823.3,312.4 822.9,309.6 823,307.3 823.5,305.7 824.2,304.9 825.2,305 826.2,306 827.1,307.8 827.8,310.4 828.2,313.5 828.2,316.9 827.6,320.5 826.6,324Z" fill="#771a77" stroke="#471047" stroke-width="0.8"/>
<path d="M841.6,313.2 841.5,310.2 841.1,307.5 840.4,305.3 839.6,303.7 838.7,302.8 837.8,302.6 837.1,303.1 836.5,304.2 823.4,306.5 823.9,305.3 824.6,304.8 825.5,305.1 826.4,306 827.2,307.6 827.9,309.8 828.3,312.5 828.4,315.5Z" fill="#8e1f8e"/>
<path d="M838.5,307.6 837.8,305.6 837.1,304.1 836.2,303.2 835.4,303 827.2,304.4 828.1,304.7 828.9,305.6 829.7,307 830.3,309Z" fill="#b062b0"/>
<path d="M863.2,317.6 864.2,314.1 864.7,310.6 864.8,307.1 864.4,304 863.7,301.5 862.8,299.7 861.8,298.7 860.8,298.6 860,299.3 859.6,300.9 859.5,303.2 859.9,306 846.3,308.4 845.9,305.6 846,303.3 846.5,301.7 847.2,300.9 848.2,301 849.2,302 850.1,303.8 850.8,306.4 851.2,309.5 851.2,312.9 850.6,316.5 849.6,320Z" fill="#771a77" stroke="#471047" stroke-width="0.8"/>
<path d="M864.6,309.2 864.5,306.2 864.1,303.5 863.4,301.3 862.6,299.7 861.7,298.8 860.8,298.6 860.1,299.1 859.5,300.2 846.4,302.5 846.9,301.3 847.6,300.8 848.5,301.1 849.4,302 850.2,303.6 850.9,305.8 851.3,308.5 851.4,311.5Z" fill="#8e1f8e"/>
<path d="M861.5,303.6 860.8,301.6 860.1,300.1 859.2,299.2 858.4,299 850.2,300.4 851.1,300.7 851.9,301.6 852.7,303 853.3,305Z" fill="#b062b0"/>
<path d="M837.9,353.4 840.6,351.9 843.2,349.6 845.4,346.9 847.1,343.7 848.5,340.5 849.2,337.4 849.5,334.6 849.3,332.4 848.7,330.8 847.8,330.1 846.8,330.3 845.6,331.3 832.1,328.6 833.2,327.6 834.3,327.4 835.2,328.1 835.8,329.7 836,331.9 835.7,334.7 834.9,337.8 833.6,341 831.8,344.2 829.6,346.9 827.1,349.2 824.4,350.7Z" fill="#771a77" stroke="#471047" stroke-width="0.8"/>
<path d="M843.9,348.5 845.7,345.9 847.2,343.1 848.4,340.2 849,337.4 849.3,334.8 849.2,332.7 848.8,331.2 848,330.3 834.9,327.6 835.6,328.6 836.1,330.1 836.2,332.2 835.9,334.7 835.2,337.5 834.1,340.4 832.6,343.3 830.8,345.9Z" fill="#8e1f8e"/>
<path d="M844.9,342.2 845.9,339.5 846.5,336.9 846.8,334.5 846.7,332.5 838.6,330.9 838.7,332.9 838.4,335.2 837.8,337.8 836.8,340.6Z" fill="#b062b0"/>
<path d="M857.9,357.4 860.6,355.9 863.2,353.6 865.4,350.9 867.1,347.7 868.5,344.5 869.2,341.4 869.5,338.6 869.3,336.4 868.7,334.8 867.8,334.1 866.8,334.3 865.6,335.3 852.1,332.6 853.2,331.6 854.3,331.4 855.2,332.1 855.8,333.7 856,335.9 855.7,338.7 854.9,341.8 853.6,345 851.8,348.2 849.6,350.9 847.1,353.2 844.4,354.7Z" fill="#771a77" stroke="#471047" stroke-width="0.8"/>
<path d="M863.9,352.5 865.7,349.9 867.2,347.1 868.4,344.2 869,341.4 869.3,338.8 869.2,336.7 868.8,335.2 868,334.3 854.9,331.6 855.6,332.6 856.1,334.1 856.2,336.2 855.9,338.7 855.2,341.5 854.1,344.4 852.6,347.3 850.8,349.9Z" fill="#8e1f8e"/>
<path d="M864.9,346.2 865.9,343.5 866.5,340.9 866.8,338.5 866.7,336.5 858.6,334.9 858.7,336.9 858.4,339.2 857.8,341.8 856.8,344.6Z" fill="#b062b0"/>
<path d="M877.9,361.4 880.6,359.9 883.2,357.6 885.4,354.9 887.1,351.7 888.5,348.5 889.2,345.4 889.5,342.6 889.3,340.4 888.7,338.8 887.8,338.1 886.8,338.3 885.6,339.3 872.1,336.6 873.2,335.6 874.3,335.4 875.2,336.1 875.8,337.7 876,339.9 875.7,342.7 874.9,345.8 873.6,349 871.8,352.2 869.6,354.9 867.1,357.2 864.4,358.7Z" fill="#771a77" stroke="#471047" stroke-width="0.8"/>
<path d="M883.9,356.5 885.7,353.9 887.2,351.1 888.4,348.2 889,345.4 889.3,342.8 889.2,340.7 888.8,339.2 888,338.3 874.9,335.6 875.6,336.6 876.1,338.1 876.2,340.2 875.9,342.7 875.2,345.5 874.1,348.4 872.6,351.3 870.8,353.9Z" fill="#8e1f8e"/>
<path d="M884.9,350.2 885.9,347.5 886.5,344.9 886.8,342.5 886.7,340.5 878.6,338.9 878.7,340.9 878.4,343.2 877.8,345.8 876.8,348.6Z" fill="#b062b0"/>
<path d="M818.6,222.5 820.6,219.7 822.1,216.4 823.2,212.9 823.8,209.4 823.9,206.3 823.6,203.6 823,201.5 822.2,200.3 821.3,200 820.5,200.5 819.9,201.9 819.5,204.1 805.8,204.8 806.1,202.6 806.7,201.2 807.6,200.7 808.4,201.1 809.2,202.3 809.8,204.3 810.1,207 810,210.2 809.4,213.6 808.4,217.1 806.8,220.4 804.8,223.3Z" fill="#c3c328" stroke="#747418" stroke-width="0.8"/>
<path d="M822.4,215 823.2,211.8 823.6,208.8 823.7,206 823.4,203.6 822.8,201.7 822.1,200.5 821.4,200 820.6,200.2 807.3,200.9 808,200.7 808.8,201.2 809.5,202.4 810,204.3 810.3,206.7 810.3,209.5 809.9,212.6 809.1,215.7Z" fill="#e8e830"/>
<path d="M821.1,208.5 821.1,205.9 820.8,203.7 820.3,202 819.7,200.8 811.4,201.2 812.1,202.4 812.6,204.2 812.8,206.4 812.8,209Z" fill="#efef6e"/>
<path d="M843.2,221.2 845.3,218.3 846.8,215 847.9,211.5 848.4,208.1 848.5,204.9 848.3,202.2 847.7,200.2 846.9,199 846,198.6 845.2,199.2 844.5,200.6 844.2,202.7 830.4,203.5 830.8,201.3 831.4,199.9 832.2,199.4 833.1,199.7 833.9,200.9 834.5,203 834.8,205.7 834.7,208.8 834.1,212.3 833,215.8 831.5,219.1 829.5,221.9Z" fill="#c3c328" stroke="#747418" stroke-width="0.8"/>
<path d="M847.1,213.7 847.9,210.5 848.3,207.4 848.3,204.6 848,202.2 847.5,200.4 846.8,199.2 846,198.6 845.3,198.9 831.9,199.6 832.7,199.4 833.5,199.9 834.2,201.1 834.7,203 835,205.4 834.9,208.2 834.5,211.2 833.7,214.4Z" fill="#e8e830"/>
<path d="M845.8,207.2 845.8,204.6 845.5,202.4 845,200.6 844.4,199.4 836.1,199.9 836.8,201.1 837.2,202.8 837.5,205.1 837.5,207.6Z" fill="#efef6e"/>
<path d="M838.5,254.8 840.3,256.3 842.6,257.3 845.2,257.9 848,258 850.7,257.6 853.4,257 855.7,256.1 857.6,255 858.9,253.9 859.7,253 859.8,252.2 859.4,251.8 852.5,239.9 853,240.3 852.8,241 852,242 850.7,243.1 848.8,244.1 846.5,245 843.8,245.7 841.1,246 838.3,245.9 835.7,245.4 833.4,244.4 831.6,242.9Z" fill="#c3c328" stroke="#747418" stroke-width="0.8"/>
<path d="M843.5,257.4 845.9,257.8 848.4,257.8 850.9,257.4 853.3,256.8 855.4,256 857.1,255 858.5,254.1 859.4,253.2 852.7,241.6 851.8,242.5 850.4,243.5 848.7,244.4 846.6,245.2 844.2,245.8 841.7,246.2 839.2,246.2 836.8,245.8Z" fill="#e8e830"/>
<path d="M847.5,255.5 849.8,255.2 852,254.6 854,253.8 855.6,253 851.5,245.8 849.8,246.7 847.8,247.4 845.7,248 843.3,248.4Z" fill="#efef6e"/>
<path d="M848.5,272.1 850.3,273.6 852.6,274.6 855.2,275.2 858,275.3 860.7,275 863.4,274.3 865.7,273.4 867.6,272.3 868.9,271.3 869.7,270.3 869.8,269.6 869.4,269.1 862.5,257.2 863,257.6 862.8,258.4 862,259.3 860.7,260.4 858.8,261.5 856.5,262.4 853.8,263 851.1,263.4 848.3,263.3 845.7,262.7 843.4,261.7 841.6,260.2Z" fill="#c3c328" stroke="#747418" stroke-width="0.8"/>
<path d="M853.5,274.7 855.9,275.1 858.4,275.1 860.9,274.7 863.3,274.1 865.4,273.3 867.1,272.4 868.5,271.4 869.4,270.5 862.7,258.9 861.8,259.8 860.4,260.8 858.7,261.7 856.6,262.6 854.2,263.2 851.7,263.5 849.2,263.5 846.8,263.2Z" fill="#e8e830"/>
<path d="M857.5,272.8 859.8,272.5 862,271.9 864,271.2 865.6,270.3 861.5,263.1 859.8,264 857.8,264.8 855.7,265.3 853.3,265.7Z" fill="#efef6e"/>
<path d="M889.7,163.9 892.7,162.6 895.5,160.5 898,157.9 900.1,155 901.7,152 902.8,149.1 903.3,146.6 903.3,144.6 902.8,143.3 902,142.8 900.9,143.1 899.6,144.3 886.6,139.7 887.9,138.5 889,138.2 889.9,138.7 890.3,140 890.3,142 889.8,144.5 888.7,147.4 887.1,150.4 885,153.3 882.5,155.9 879.7,157.9 876.7,159.3Z" fill="#771a77" stroke="#471047" stroke-width="0.8"/>
<path d="M896.3,159.4 898.5,157 900.3,154.3 901.7,151.6 902.6,149 903.1,146.7 903.2,144.9 902.8,143.5 902.2,142.8 889.6,138.3 890.2,139 890.6,140.4 890.5,142.3 890,144.6 889.1,147.2 887.7,149.9 885.9,152.5 883.7,155Z" fill="#8e1f8e"/>
<path d="M898.1,153.1 899.3,150.6 900.2,148.2 900.7,146 900.8,144.2 893,141.5 892.9,143.3 892.4,145.4 891.5,147.8 890.3,150.4Z" fill="#b062b0"/>
<path d="M910.4,171.3 913.3,169.9 916.1,167.8 918.7,165.2 920.8,162.3 922.4,159.3 923.5,156.5 924,153.9 924,151.9 923.5,150.6 922.7,150.1 921.5,150.5 920.3,151.7 907.3,147.1 908.5,145.8 909.7,145.5 910.5,146 911,147.3 911,149.3 910.5,151.8 909.4,154.7 907.8,157.7 905.7,160.6 903.2,163.2 900.4,165.3 897.4,166.7Z" fill="#771a77" stroke="#471047" stroke-width="0.8"/>
<path d="M917,166.8 919.1,164.3 920.9,161.7 922.3,159 923.3,156.4 923.8,154.1 923.8,152.2 923.5,150.9 922.8,150.1 910.2,145.7 910.9,146.4 911.2,147.7 911.2,149.6 910.7,151.9 909.7,154.5 908.3,157.2 906.5,159.8 904.4,162.3Z" fill="#8e1f8e"/>
<path d="M918.7,160.4 920,157.9 920.9,155.5 921.3,153.4 921.4,151.6 913.7,148.8 913.6,150.6 913.1,152.8 912.2,155.2 910.9,157.7Z" fill="#b062b0"/>
<path d="M931,178.6 934,177.2 936.8,175.2 939.3,172.6 941.4,169.7 943.1,166.7 944.1,163.8 944.7,161.2 944.7,159.2 944.2,157.9 943.3,157.4 942.2,157.8 940.9,159 928,154.4 929.2,153.2 930.3,152.8 931.2,153.3 931.7,154.6 931.7,156.6 931.1,159.2 930.1,162.1 928.4,165.1 926.3,168 923.8,170.5 921,172.6 918.1,174Z" fill="#771a77" stroke="#471047" stroke-width="0.8"/>
<path d="M937.7,174.1 939.8,171.7 941.6,169 943,166.3 943.9,163.7 944.4,161.4 944.5,159.5 944.2,158.2 943.5,157.5 930.9,153 931.6,153.7 931.9,155.1 931.8,156.9 931.3,159.2 930.4,161.8 929,164.5 927.2,167.2 925.1,169.6Z" fill="#8e1f8e"/>
<path d="M939.4,167.8 940.7,165.3 941.5,162.9 942,160.7 942.1,158.9 934.3,156.1 934.2,157.9 933.7,160.1 932.9,162.5 931.6,165Z" fill="#b062b0"/>
<path d="M886.7,189.1 887,192.7 887.8,196.1 889,199.3 890.8,201.9 893.1,203.7 895.7,204.8 898.5,205 901.3,204.3 904.2,202.9 906.8,200.7 909.2,198 911.1,195 897.9,191.3 895.9,194.3 893.6,197 890.9,199.2 888.1,200.7 885.2,201.4 882.4,201.2 879.8,200.1 877.6,198.2 875.8,195.6 874.5,192.5 873.7,189 873.5,185.4Z" fill="#771a77" stroke="#471047" stroke-width="0.8"/>
<path d="M888,197.4 889.3,200.1 891.1,202.2 893.1,203.8 895.5,204.7 898,205 900.6,204.5 903.2,203.3 905.6,201.6 892.7,198 890.3,199.8 887.7,200.9 885.1,201.4 882.6,201.2 880.2,200.3 878.2,198.7 876.4,196.5 875.1,193.8Z" fill="#8e1f8e"/>
<path d="M888.9,201.8 890.8,203.2 893,204.1 895.3,204.3 897.8,203.9 889.8,201.7 887.4,202.1 885,201.9 882.8,201 880.9,199.6Z" fill="#b062b0"/>
<path d="M907.1,194.7 907.4,198.3 908.2,201.7 909.4,204.9 911.2,207.5 913.5,209.3 916.1,210.4 918.9,210.6 921.7,209.9 924.6,208.5 927.2,206.3 929.6,203.6 931.5,200.6 918.3,196.9 916.3,199.9 914,202.6 911.3,204.8 908.5,206.3 905.6,207 902.8,206.8 900.2,205.7 898,203.8 896.2,201.2 894.9,198.1 894.1,194.6 893.9,191Z" fill="#771a77" stroke="#471047" stroke-width="0.8"/>
<path d="M908.4,203 909.7,205.7 911.5,207.8 913.5,209.4 915.9,210.3 918.4,210.6 921,210.1 923.6,208.9 926,207.2 913.1,203.6 910.7,205.4 908.1,206.5 905.5,207 903,206.8 900.6,205.9 898.6,204.3 896.8,202.1 895.5,199.4Z" fill="#8e1f8e"/>
<path d="M909.3,207.4 911.2,208.8 913.4,209.7 915.7,209.9 918.2,209.5 910.2,207.3 907.8,207.7 905.4,207.5 903.2,206.6 901.3,205.2Z" fill="#b062b0"/>
<path d="M951.4,185.2 954.4,184.7 957.5,183.5 960.4,181.5 963,179.1 965.3,176.4 967.1,173.6 968.3,170.9 968.9,168.5 968.9,166.6 968.4,165.4 967.5,164.9 966.2,165.3 953.8,159.3 955.1,158.9 956,159.3 956.5,160.6 956.5,162.4 955.9,164.8 954.7,167.5 952.9,170.4 950.7,173.1 948,175.5 945.1,177.4 942,178.7 939,179.2Z" fill="#771a77" stroke="#471047" stroke-width="0.8"/>
<path d="M958.5,182.7 961,180.8 963.3,178.5 965.3,176 966.9,173.5 968,171 968.6,168.8 968.8,167 968.5,165.7 956.5,159.8 956.8,161.1 956.6,163 956,165.2 954.9,167.6 953.3,170.2 951.3,172.7 949,174.9 946.5,176.8Z" fill="#8e1f8e"/>
<path d="M961.3,177.1 963.2,174.7 964.6,172.4 965.7,170.1 966.3,168 958.9,164.4 958.2,166.4 957.2,168.7 955.7,171.1 953.9,173.5Z" fill="#b062b0"/>
<path d="M969.9,194.2 972.9,193.7 976,192.5 978.9,190.5 981.5,188.1 983.8,185.4 985.6,182.6 986.8,179.9 987.4,177.5 987.4,175.6 986.9,174.4 986,173.9 984.7,174.3 972.3,168.3 973.6,167.9 974.5,168.3 975,169.6 975,171.4 974.4,173.8 973.2,176.5 971.4,179.4 969.2,182.1 966.5,184.5 963.6,186.4 960.5,187.7 957.5,188.2Z" fill="#771a77" stroke="#471047" stroke-width="0.8"/>
<path d="M977,191.7 979.5,189.8 981.8,187.5 983.8,185 985.4,182.5 986.5,180 987.1,177.8 987.3,176 987,174.7 975,168.8 975.3,170.1 975.1,172 974.5,174.2 973.4,176.6 971.8,179.2 969.8,181.7 967.5,183.9 965,185.8Z" fill="#8e1f8e"/>
<path d="M979.8,186.1 981.7,183.7 983.1,181.4 984.2,179.1 984.8,177 977.4,173.4 976.7,175.4 975.7,177.7 974.2,180.1 972.4,182.5Z" fill="#b062b0"/>
<path d="M960.5,220.4 964.1,219.6 967.5,218.3 970.6,216.7 973.2,214.7 975.3,212.8 976.6,211 977.2,209.5 977.1,208.4 976.3,208 974.9,208.2 973.1,209.1 971,210.8 961.7,200.6 963.8,199 965.6,198 967,197.8 967.8,198.3 967.9,199.3 967.3,200.8 966,202.6 963.9,204.6 961.3,206.5 958.2,208.2 954.7,209.5 951.2,210.2Z" fill="#771a77" stroke="#471047" stroke-width="0.8"/>
<path d="M968.6,217.6 971.3,215.9 973.5,214.2 975.3,212.4 976.5,210.8 977.1,209.4 977,208.4 976.5,207.9 975.4,207.9 966.4,198 967.4,198 968,198.6 968,199.6 967.4,201 966.3,202.6 964.5,204.3 962.3,206.1 959.6,207.7Z" fill="#8e1f8e"/>
<path d="M972.1,212.1 973.7,210.4 974.8,208.9 975.3,207.6 975.4,206.7 969.8,200.6 969.7,201.5 969.2,202.8 968.1,204.4 966.5,206Z" fill="#b062b0"/>
<path d="M977,238.4 980.6,237.6 984,236.3 987.1,234.7 989.7,232.7 991.8,230.8 993.1,229 993.7,227.5 993.6,226.4 992.8,226 991.4,226.2 989.6,227.1 987.5,228.8 978.2,218.6 980.3,217 982.1,216 983.5,215.8 984.3,216.3 984.4,217.3 983.8,218.8 982.5,220.6 980.4,222.6 977.8,224.5 974.7,226.2 971.2,227.5 967.7,228.2Z" fill="#771a77" stroke="#471047" stroke-width="0.8"/>
<path d="M985.1,235.6 987.8,233.9 990,232.2 991.8,230.4 993,228.8 993.6,227.4 993.5,226.4 993,225.9 991.9,225.9 982.9,216 983.9,216 984.5,216.6 984.5,217.6 983.9,219 982.8,220.6 981,222.3 978.8,224.1 976.1,225.7Z" fill="#8e1f8e"/>
<path d="M988.6,230.1 990.2,228.4 991.3,226.9 991.8,225.6 991.9,224.7 986.3,218.6 986.2,219.5 985.7,220.8 984.6,222.4 983,224Z" fill="#b062b0"/>
<path d="M939.6,253.4 942.4,254 945.5,253.8 948.7,252.8 951.9,251.3 954.8,249.2 957.4,246.8 959.5,244.2 960.9,241.8 961.8,239.6 962,237.9 961.5,236.8 960.6,236.4 949.2,228.6 950.2,229 950.6,230.1 950.4,231.8 949.6,234 948.1,236.4 946,239 943.5,241.4 940.5,243.5 937.4,245 934.1,246 931,246.2 928.2,245.6Z" fill="#771a77" stroke="#471047" stroke-width="0.8"/>
<path d="M946.6,253.4 949.5,252.3 952.3,250.8 954.9,248.8 957.2,246.6 959.1,244.4 960.5,242.1 961.4,240.1 961.8,238.4 950.8,230.8 950.4,232.5 949.5,234.6 948.1,236.8 946.2,239.1 943.9,241.3 941.3,243.2 938.5,244.7 935.6,245.8Z" fill="#8e1f8e"/>
<path d="M950.6,249.1 953,247.2 955.1,245.2 956.9,243.1 958.3,241 951.5,236.3 950.1,238.4 948.3,240.5 946.2,242.6 943.8,244.4Z" fill="#b062b0"/>
<path d="M957.1,265.4 959.9,266 963,265.8 966.2,264.8 969.4,263.3 972.3,261.2 974.9,258.8 977,256.2 978.4,253.8 979.3,251.6 979.5,249.9 979,248.8 978.1,248.4 966.7,240.6 967.7,241 968.1,242.1 967.9,243.8 967.1,246 965.6,248.4 963.5,251 961,253.4 958,255.5 954.9,257 951.6,258 948.5,258.2 945.7,257.6Z" fill="#771a77" stroke="#471047" stroke-width="0.8"/>
<path d="M964.1,265.4 967,264.3 969.8,262.8 972.4,260.8 974.7,258.6 976.6,256.4 978,254.1 978.9,252.1 979.3,250.4 968.3,242.8 967.9,244.5 967,246.6 965.6,248.8 963.7,251.1 961.4,253.3 958.8,255.2 956,256.7 953.1,257.8Z" fill="#8e1f8e"/>
<path d="M968.1,261.1 970.5,259.2 972.6,257.2 974.4,255.1 975.8,253 969,248.3 967.6,250.4 965.8,252.5 963.7,254.6 961.3,256.4Z" fill="#b062b0"/>
<path d="M866.1,219.5 869.1,219.8 872.2,219.4 875.4,218.2 878.6,216.4 881.4,214.2 883.8,211.8 885.7,209.3 886.9,206.9 887.5,204.9 887.5,203.4 886.8,202.5 885.6,202.4 874.4,194.5 875.5,194.6 876.2,195.4 876.2,196.9 875.7,199 874.4,201.3 872.5,203.8 870.1,206.3 867.3,208.5 864.2,210.3 861,211.4 857.8,211.9 854.9,211.6Z" fill="#771a77" stroke="#471047" stroke-width="0.8"/>
<path d="M873.3,218.9 876.2,217.6 879,215.9 881.5,213.9 883.6,211.7 885.3,209.4 886.5,207.2 887.2,205.3 887.4,203.8 876.5,196.1 876.3,197.6 875.6,199.5 874.4,201.7 872.7,204 870.6,206.2 868.1,208.2 865.3,209.9 862.4,211.2Z" fill="#8e1f8e"/>
<path d="M877.2,214.2 879.6,212.3 881.5,210.2 883.2,208.1 884.3,206 877.6,201.3 876.4,203.3 874.8,205.4 872.8,207.5 870.5,209.4Z" fill="#b062b0"/>
<path d="M883.1,231.5 886.1,231.8 889.2,231.4 892.4,230.2 895.6,228.4 898.4,226.2 900.8,223.8 902.7,221.3 903.9,218.9 904.5,216.9 904.5,215.4 903.8,214.5 902.6,214.4 891.4,206.5 892.5,206.6 893.2,207.4 893.2,208.9 892.7,211 891.4,213.3 889.5,215.8 887.1,218.3 884.3,220.5 881.2,222.3 878,223.4 874.8,223.9 871.9,223.6Z" fill="#771a77" stroke="#471047" stroke-width="0.8"/>
<path d="M890.3,230.9 893.2,229.6 896,227.9 898.5,225.9 900.6,223.7 902.3,221.4 903.5,219.2 904.2,217.3 904.4,215.8 893.5,208.1 893.3,209.6 892.6,211.5 891.4,213.7 889.7,216 887.6,218.2 885.1,220.2 882.3,221.9 879.4,223.2Z" fill="#8e1f8e"/>
<path d="M894.2,226.2 896.6,224.3 898.5,222.2 900.2,220.1 901.3,218 894.6,213.3 893.4,215.3 891.8,217.4 889.8,219.5 887.5,221.4Z" fill="#b062b0"/>
<path d="M912.1,303.7 915.3,302.2 918.3,300.2 921,297.9 923.2,295.3 924.8,292.8 925.9,290.5 926.2,288.6 926,287.3 925.2,286.7 924,287 922.4,288 920.8,289.7 909.2,282.3 910.9,280.5 912.4,279.5 913.6,279.3 914.4,279.9 914.6,281.1 914.3,283 913.3,285.3 911.6,287.8 909.4,290.4 906.8,292.8 903.7,294.8 900.6,296.3Z" fill="#771a77" stroke="#471047" stroke-width="0.8"/>
<path d="M919.3,299.2 921.6,297 923.4,294.7 924.8,292.4 925.7,290.4 926,288.7 925.9,287.4 925.3,286.7 924.3,286.7 913.1,279.4 914.1,279.5 914.7,280.2 914.8,281.4 914.4,283.1 913.6,285.2 912.2,287.4 910.3,289.8 908,292Z" fill="#8e1f8e"/>
<path d="M921.5,293 922.7,290.9 923.5,289 923.9,287.4 923.8,286.2 916.8,281.7 916.9,282.9 916.6,284.5 915.8,286.4 914.5,288.5Z" fill="#b062b0"/>
<path d="M930.8,315.7 934,314.2 937,312.2 939.7,309.9 941.9,307.3 943.5,304.8 944.5,302.5 944.9,300.6 944.6,299.3 943.9,298.7 942.6,299 941.1,300 939.4,301.7 927.9,294.3 929.5,292.5 931,291.5 932.3,291.3 933,291.9 933.3,293.1 932.9,295 931.9,297.3 930.3,299.8 928.1,302.4 925.4,304.8 922.4,306.8 919.2,308.3Z" fill="#771a77" stroke="#471047" stroke-width="0.8"/>
<path d="M938,311.2 940.2,309 942.1,306.7 943.5,304.4 944.3,302.4 944.7,300.7 944.6,299.4 944,298.7 943,298.7 931.7,291.4 932.7,291.5 933.3,292.2 933.5,293.4 933.1,295.1 932.2,297.2 930.8,299.4 929,301.8 926.7,304Z" fill="#8e1f8e"/>
<path d="M940.1,305 941.4,302.9 942.2,301 942.5,299.4 942.5,298.2 935.5,293.7 935.6,294.9 935.2,296.5 934.4,298.4 933.2,300.5Z" fill="#b062b0"/>
<path d="M960.6,278.4 963.5,276.5 966,274.3 967.8,272.1 969,270.1 969.5,268.4 969.3,267.3 968.4,266.7 967,266.9 965.2,267.8 963.1,269.4 961,271.6 959.1,274.4 949.1,264.9 951.1,262.1 953.2,259.8 955.2,258.2 957,257.4 958.5,257.2 959.3,257.7 959.6,258.9 959.1,260.6 957.9,262.6 956,264.8 953.5,267 950.6,268.9Z" fill="#771a77" stroke="#471047" stroke-width="0.8"/>
<path d="M966.6,273.3 968.1,271.4 969,269.6 969.4,268.2 969.1,267.1 968.4,266.6 967.2,266.6 965.6,267.3 963.8,268.5 954.2,259.3 956,258 957.5,257.4 958.7,257.4 959.5,257.9 959.7,258.9 959.4,260.4 958.5,262.1 957,264.1Z" fill="#8e1f8e"/>
<path d="M967.3,267.6 967.5,266.3 967.3,265.4 966.6,264.9 965.5,264.8 959.5,259.1 960.6,259.1 961.3,259.6 961.6,260.6 961.3,261.9Z" fill="#b062b0"/>
<path d="M975.9,293.1 978.8,291.2 981.3,289 983.2,286.8 984.4,284.8 984.8,283.1 984.6,281.9 983.7,281.4 982.3,281.5 980.5,282.4 978.5,284 976.4,286.3 974.4,289.1 964.4,279.6 966.4,276.8 968.5,274.5 970.6,272.9 972.4,272 973.8,271.9 974.7,272.4 974.9,273.6 974.4,275.3 973.2,277.3 971.3,279.5 968.9,281.6 965.9,283.6Z" fill="#771a77" stroke="#471047" stroke-width="0.8"/>
<path d="M982,288 983.5,286 984.4,284.3 984.7,282.8 984.5,281.8 983.7,281.3 982.5,281.3 980.9,281.9 979.2,283.2 969.5,273.9 971.3,272.7 972.8,272.1 974.1,272 974.8,272.6 975,273.6 974.7,275 973.8,276.8 972.3,278.7Z" fill="#8e1f8e"/>
<path d="M982.6,282.3 982.9,281 982.6,280 981.9,279.5 980.8,279.5 974.9,273.8 976,273.8 976.7,274.3 976.9,275.3 976.6,276.6Z" fill="#b062b0"/>
<path d="M878.4,252.9 880.8,254.3 883.6,255.2 886.6,255.6 889.7,255.6 892.7,255.1 895.5,254.3 897.7,253.4 899.5,252.3 900.6,251.3 900.9,250.5 900.7,250 899.7,249.9 893.3,237.7 894.2,237.8 894.5,238.3 894.1,239.1 893,240.1 891.3,241.2 889,242.2 886.3,242.9 883.3,243.4 880.2,243.5 877.1,243.1 874.3,242.2 871.9,240.7Z" fill="#c3c328" stroke="#747418" stroke-width="0.8"/>
<path d="M884.7,255.3 887.5,255.5 890.3,255.3 892.9,254.9 895.4,254.1 897.4,253.3 899.1,252.3 900.2,251.4 900.8,250.6 894.5,238.8 893.9,239.6 892.8,240.5 891.2,241.5 889.1,242.3 886.7,243.1 884,243.5 881.2,243.7 878.4,243.5Z" fill="#e8e830"/>
<path d="M889.4,253 891.9,252.6 894.2,251.9 896.1,251.1 897.7,250.2 893.8,242.9 892.2,243.8 890.3,244.6 888,245.3 885.5,245.7Z" fill="#efef6e"/>
<path d="M889.7,274.3 892.1,275.7 894.9,276.6 898,277 901.1,276.9 904.1,276.4 906.8,275.7 909.1,274.7 910.8,273.6 911.9,272.6 912.3,271.8 912,271.3 911.1,271.3 904.6,259.1 905.5,259.2 905.8,259.7 905.4,260.5 904.3,261.5 902.6,262.5 900.3,263.5 897.6,264.3 894.6,264.7 891.5,264.8 888.5,264.4 885.7,263.5 883.3,262.1Z" fill="#c3c328" stroke="#747418" stroke-width="0.8"/>
<path d="M896,276.6 898.8,276.8 901.6,276.7 904.3,276.2 906.7,275.5 908.8,274.6 910.4,273.7 911.5,272.7 912.1,272 905.8,260.1 905.3,260.9 904.1,261.9 902.5,262.8 900.4,263.7 898,264.4 895.3,264.9 892.5,265 889.7,264.8Z" fill="#e8e830"/>
<path d="M900.8,274.4 903.2,273.9 905.5,273.2 907.5,272.4 909,271.5 905.1,264.2 903.6,265.1 901.6,265.9 899.4,266.6 896.9,267.1Z" fill="#efef6e"/>
<path d="M924.2,282.2 926.4,280.1 928.2,277.9 929.6,275.6 930.5,273.5 931,271.7 930.9,270.4 930.5,269.8 929.7,269.8 928.6,270.5 927.5,271.9 926.4,273.8 925.5,276.3 913.1,270.3 914,267.8 915.1,265.8 916.3,264.4 917.3,263.7 918.1,263.7 918.5,264.4 918.6,265.7 918.1,267.4 917.2,269.5 915.8,271.8 914,274.1 911.8,276.2Z" fill="#c3c328" stroke="#747418" stroke-width="0.8"/>
<path d="M928.6,276.8 929.8,274.8 930.5,273 930.8,271.5 930.7,270.4 930.3,269.7 929.7,269.6 928.8,270.1 927.8,271.1 915.8,265.3 916.8,264.3 917.6,263.8 918.3,263.9 918.7,264.5 918.8,265.6 918.5,267.1 917.7,269 916.6,271Z" fill="#e8e830"/>
<path d="M928.2,271.7 928.5,270.3 928.4,269.2 928.1,268.6 927.5,268.5 920,264.9 920.6,265 921,265.6 921.1,266.6 920.8,268Z" fill="#efef6e"/>
<path d="M942.7,291.2 944.9,289.1 946.7,286.9 948.1,284.6 949,282.5 949.5,280.7 949.4,279.4 949,278.8 948.2,278.8 947.1,279.5 946,280.9 944.9,282.8 944,285.3 931.6,279.3 932.5,276.8 933.6,274.8 934.8,273.4 935.8,272.7 936.6,272.7 937,273.4 937.1,274.7 936.6,276.4 935.7,278.5 934.3,280.8 932.5,283.1 930.3,285.2Z" fill="#c3c328" stroke="#747418" stroke-width="0.8"/>
<path d="M947.1,285.8 948.3,283.8 949,282 949.3,280.5 949.2,279.4 948.8,278.7 948.2,278.6 947.3,279.1 946.3,280.1 934.3,274.3 935.3,273.3 936.1,272.8 936.8,272.9 937.2,273.5 937.3,274.6 937,276.1 936.2,278 935.1,280Z" fill="#e8e830"/>
<path d="M946.7,280.7 947,279.3 946.9,278.2 946.6,277.6 946,277.5 938.5,273.9 939.1,274 939.5,274.6 939.6,275.6 939.3,277Z" fill="#efef6e"/><text x="579" y="198.4" font-size="16.5" fill="#2a1a10" textLength="22.5" lengthAdjust="spacingAndGlyphs" font-family="Liberation Sans, Arial, sans-serif">IF2</text></g>
<g fill="#1c1a1b"><text x="30.4" y="63.7" font-size="42" font-weight="bold" textLength="34.8" lengthAdjust="spacingAndGlyphs">a.</text>
<text x="519.4" y="63.6" font-size="42" font-weight="bold" textLength="37.4" lengthAdjust="spacingAndGlyphs">b.</text>
<text x="1016.4" y="49.4" font-size="42" font-weight="bold" textLength="31.4" lengthAdjust="spacingAndGlyphs">c.</text>
<text x="1619.2" y="31.2" font-size="42" font-weight="bold" textLength="39.4" lengthAdjust="spacingAndGlyphs">d.</text>
<text x="5.2" y="461.6" font-size="42" font-weight="bold" textLength="35.4" lengthAdjust="spacingAndGlyphs">e.</text>
<text x="511" y="461.3" font-size="42" font-weight="bold" textLength="26" lengthAdjust="spacingAndGlyphs">f.</text>
<text x="1036.4" y="460.8" font-size="42" font-weight="bold" textLength="38" lengthAdjust="spacingAndGlyphs">g.</text>
<text x="503.8" y="256.3" font-size="29" textLength="34.6" lengthAdjust="spacingAndGlyphs">IF1</text>
<text x="808.7" y="177.6" font-size="30" textLength="39.9" lengthAdjust="spacingAndGlyphs">IF2</text>
<text x="1107" y="45.6" font-size="27.4" textLength="86" lengthAdjust="spacingAndGlyphs">N-term</text>
<text x="1100.6" y="87.7" font-size="24.5" textLength="15" lengthAdjust="spacingAndGlyphs">0</text>
<text x="1101.6" y="209" font-size="24.5" textLength="28" lengthAdjust="spacingAndGlyphs">50</text>
<text x="1101.8" y="326.3" font-size="24.5" textLength="42.6" lengthAdjust="spacingAndGlyphs">100</text>
<text x="1333" y="323" font-size="27.4" textLength="81.2" lengthAdjust="spacingAndGlyphs">C-term</text>
<text x="1503.4" y="329.9" font-size="27.9" fill="#e4502e" textLength="40.4" lengthAdjust="spacingAndGlyphs">IF1</text>
<text x="1503.1" y="374.8" font-size="27.9" fill="#dcdc2c" textLength="44.6" lengthAdjust="spacingAndGlyphs">IF2</text>
<g><rect x="1110.7" y="91.4" width="53.3" height="7.6" fill="#c7c8ca"/><rect x="1167" y="91.4" width="90.1" height="7.6" fill="#c7c8ca"/><rect x="1303" y="91.4" width="62.8" height="7.6" fill="#c7c8ca"/><rect x="1110.7" y="101.2" width="145.1" height="7.6" fill="#c7c8ca"/><rect x="1321.1" y="101.2" width="71.8" height="7.6" fill="#c7c8ca"/><rect x="1110.7" y="111" width="190.8" height="7.6" fill="#c7c8ca"/><rect x="1339.3" y="111" width="53.6" height="7.6" fill="#c7c8ca"/><rect x="1110.7" y="120.8" width="209" height="7.6" fill="#c7c8ca"/><rect x="1110.7" y="130.6" width="227.5" height="7.6" fill="#c7c8ca"/><rect x="1119.5" y="140.4" width="182" height="7.6" fill="#c7c8ca"/><rect x="1119.5" y="150.2" width="200.2" height="7.6" fill="#c7c8ca"/><rect x="1147.1" y="160" width="154.7" height="7.6" fill="#c7c8ca"/><rect x="1165.3" y="169.8" width="136.5" height="7.6" fill="#c7c8ca"/><rect x="1165.3" y="179.6" width="154.4" height="7.6" fill="#c7c8ca"/><rect x="1165.3" y="189.4" width="172.9" height="7.6" fill="#c7c8ca"/><rect x="1422" y="91.4" width="81.5" height="7.6" fill="#c7c8ca"/><rect x="1508.4" y="91.4" width="47.2" height="7.6" fill="#c7c8ca"/><rect x="1430.3" y="91.4" width="27.2" height="7.6" fill="#f15a2e"/><rect x="1466.2" y="91.4" width="10" height="7.6" fill="#e8e51a"/><rect x="1485.3" y="91.4" width="18.2" height="7.6" fill="#e8e51a"/><rect x="1520" y="91.4" width="9.1" height="7.6" fill="#e8e51a"/><rect x="1422" y="101.2" width="94.7" height="7.6" fill="#c7c8ca"/><rect x="1519.2" y="101.2" width="55.1" height="7.6" fill="#c7c8ca"/><rect x="1430.3" y="101.2" width="27.2" height="7.6" fill="#f15a2e"/><rect x="1466.2" y="101.2" width="10" height="7.6" fill="#e8e51a"/><rect x="1485.3" y="101.2" width="18.2" height="7.6" fill="#e8e51a"/><rect x="1520" y="101.2" width="9.1" height="7.6" fill="#e8e51a"/><rect x="1422" y="111" width="106.3" height="7.6" fill="#c7c8ca"/><rect x="1430.3" y="111" width="27.2" height="7.6" fill="#f15a2e"/><rect x="1466.2" y="111" width="10" height="7.6" fill="#e8e51a"/><rect x="1485.3" y="111" width="18.2" height="7.6" fill="#e8e51a"/><rect x="1520" y="111" width="9.1" height="7.6" fill="#e8e51a"/><rect x="1422" y="120.8" width="133.6" height="7.6" fill="#c7c8ca"/><rect x="1430.3" y="120.8" width="27.2" height="7.6" fill="#f15a2e"/><rect x="1466.2" y="120.8" width="10" height="7.6" fill="#e8e51a"/><rect x="1485.3" y="120.8" width="18.2" height="7.6" fill="#e8e51a"/><rect x="1520" y="120.8" width="9.1" height="7.6" fill="#e8e51a"/><rect x="1504.3" y="130.6" width="70" height="7.6" fill="#c7c8ca"/><rect x="1520" y="130.6" width="9.1" height="7.6" fill="#e8e51a"/><rect x="1121.4" y="227.2" width="81.6" height="7.6" fill="#c7c8ca"/><rect x="1205.8" y="227.2" width="116.5" height="7.6" fill="#c7c8ca"/><rect x="1352.1" y="227.2" width="72.8" height="7.6" fill="#c7c8ca"/><rect x="1427.4" y="227.2" width="146.4" height="7.6" fill="#c7c8ca"/><rect x="1149.1" y="227.2" width="8.4" height="7.6" fill="#f15a2e"/><rect x="1185.2" y="227.2" width="9.1" height="7.6" fill="#f15a2e"/><rect x="1562.2" y="227.2" width="11.6" height="7.6" fill="#e8e51a"/><rect x="1110.2" y="237" width="8.8" height="7.6" fill="#c7c8ca"/><rect x="1121.4" y="237" width="81.6" height="7.6" fill="#c7c8ca"/><rect x="1205.8" y="237" width="143.8" height="7.6" fill="#c7c8ca"/><rect x="1352.1" y="237" width="109.2" height="7.6" fill="#c7c8ca"/><rect x="1463.8" y="237" width="110" height="7.6" fill="#c7c8ca"/><rect x="1149.1" y="237" width="8.4" height="7.6" fill="#f15a2e"/><rect x="1185.2" y="237" width="9.1" height="7.6" fill="#f15a2e"/><rect x="1562.2" y="237" width="11.6" height="7.6" fill="#e8e51a"/><rect x="1140.1" y="246.8" width="62.9" height="7.6" fill="#c7c8ca"/><rect x="1205.8" y="246.8" width="143.8" height="7.6" fill="#c7c8ca"/><rect x="1463.8" y="246.8" width="110" height="7.6" fill="#c7c8ca"/><rect x="1149.1" y="246.8" width="8.4" height="7.6" fill="#f15a2e"/><rect x="1185.2" y="246.8" width="9.1" height="7.6" fill="#f15a2e"/><rect x="1562.2" y="246.8" width="11.6" height="7.6" fill="#e8e51a"/><rect x="1157.5" y="256.6" width="45.5" height="7.6" fill="#c7c8ca"/><rect x="1205.8" y="256.6" width="143.8" height="7.6" fill="#c7c8ca"/><rect x="1489.9" y="256.6" width="83.9" height="7.6" fill="#c7c8ca"/><rect x="1149.1" y="256.6" width="8.4" height="7.6" fill="#f15a2e"/><rect x="1185.2" y="256.6" width="9.1" height="7.6" fill="#f15a2e"/><rect x="1562.2" y="256.6" width="11.6" height="7.6" fill="#e8e51a"/><rect x="1110.2" y="266.4" width="8.8" height="7.6" fill="#c7c8ca"/><rect x="1158.2" y="266.4" width="44.8" height="7.6" fill="#c7c8ca"/><rect x="1205.8" y="266.4" width="143.8" height="7.6" fill="#c7c8ca"/><rect x="1489.9" y="266.4" width="83.9" height="7.6" fill="#c7c8ca"/><rect x="1185.2" y="266.4" width="9.1" height="7.6" fill="#f15a2e"/><rect x="1562.2" y="266.4" width="11.6" height="7.6" fill="#e8e51a"/><rect x="1110.1" y="332" width="45" height="7.6" fill="#c7c8ca"/><rect x="1160.6" y="332" width="47.8" height="7.6" fill="#c7c8ca"/><rect x="1119.3" y="332" width="27.6" height="7.6" fill="#e8e51a"/><rect x="1110.1" y="341.7" width="45" height="7.6" fill="#c7c8ca"/><rect x="1119.3" y="341.7" width="27.6" height="7.6" fill="#e8e51a"/><rect x="1110.1" y="351.5" width="98.3" height="7.6" fill="#c7c8ca"/><rect x="1119.3" y="351.5" width="27.6" height="7.6" fill="#e8e51a"/><rect x="1110.1" y="361.2" width="45" height="7.6" fill="#c7c8ca"/><rect x="1119.3" y="361.2" width="27.6" height="7.6" fill="#e8e51a"/><rect x="1110.1" y="371" width="72.5" height="7.6" fill="#c7c8ca"/><rect x="1119.3" y="371" width="27.6" height="7.6" fill="#e8e51a"/><rect x="1146.9" y="380.7" width="35.7" height="7.6" fill="#c7c8ca"/><rect x="1128.4" y="380.7" width="18.5" height="7.6" fill="#e8e51a"/><rect x="1208.4" y="332" width="9.7" height="7.6" fill="#f15a2e"/><rect x="1208.4" y="351.5" width="9.7" height="7.6" fill="#f15a2e"/><rect x="1256.2" y="332" width="8.5" height="7.6" fill="#c7c8ca"/><rect x="1264.7" y="332" width="19.5" height="7.6" fill="#f15a2e"/><rect x="1284.2" y="332" width="17.6" height="7.6" fill="#c7c8ca"/><rect x="1301.8" y="332" width="18.2" height="7.6" fill="#f15a2e"/><rect x="1348.5" y="332" width="8.2" height="7.6" fill="#f15a2e"/><rect x="1356.7" y="332" width="18.8" height="7.6" fill="#c7c8ca"/><rect x="1375.5" y="332" width="8.8" height="7.6" fill="#f15a2e"/><rect x="1384.3" y="332" width="8.7" height="7.6" fill="#c7c8ca"/><rect x="1266" y="341.7" width="18.2" height="7.6" fill="#f15a2e"/><rect x="1284.2" y="341.7" width="17.6" height="7.6" fill="#c7c8ca"/><rect x="1301.8" y="341.7" width="18.2" height="7.6" fill="#f15a2e"/><rect x="1320" y="341.7" width="9" height="7.6" fill="#c7c8ca"/><rect x="1329" y="341.7" width="9.9" height="7.6" fill="#f15a2e"/><rect x="1338.9" y="341.7" width="8.6" height="7.6" fill="#c7c8ca"/><rect x="1375.5" y="341.7" width="8.8" height="7.6" fill="#f15a2e"/><rect x="1384.3" y="341.7" width="28" height="7.6" fill="#c7c8ca"/><rect x="1412.3" y="341.7" width="8.2" height="7.6" fill="#f15a2e"/><rect x="1293.1" y="351.5" width="8.7" height="7.6" fill="#c7c8ca"/><rect x="1301.8" y="351.5" width="18.2" height="7.6" fill="#f15a2e"/><rect x="1293.1" y="361.2" width="8.7" height="7.6" fill="#c7c8ca"/><rect x="1301.8" y="361.2" width="18.2" height="7.6" fill="#f15a2e"/><rect x="1293.1" y="371" width="8.7" height="7.6" fill="#c7c8ca"/><rect x="1301.8" y="371" width="18.2" height="7.6" fill="#f15a2e"/><rect x="1293.1" y="380.7" width="8.7" height="7.6" fill="#c7c8ca"/><rect x="1301.8" y="380.7" width="18.2" height="7.6" fill="#f15a2e"/><rect x="1320" y="371" width="9" height="7.6" fill="#c7c8ca"/><rect x="1329" y="371" width="9.9" height="7.6" fill="#f15a2e"/><rect x="1338.9" y="371" width="8.6" height="7.6" fill="#c7c8ca"/></g>
<rect x="1730.5" y="55.5" width="85.5" height="184.8" fill="#efe81b"/>
<rect x="1817.5" y="240.3" width="274.5" height="86.5" fill="#f15a30"/>
<line x1="1815.8" y1="55.5" x2="1815.8" y2="326.8" stroke="#231f20" stroke-width="1.9" stroke-dasharray="10.4 6.8"/>
<line x1="1728" y1="240.3" x2="2093" y2="240.3" stroke="#231f20" stroke-width="1.9" stroke-dasharray="10.4 6.8"/>
<line x1="1727.5" y1="51.8" x2="1727.5" y2="327.5" stroke="#1c1a1b" stroke-width="2.2"/>
<line x1="1726.4" y1="327.5" x2="2095.1" y2="327.5" stroke="#1c1a1b" stroke-width="2.2"/>
<line x1="1745.3" y1="327.5" x2="1745.3" y2="337" stroke="#1c1a1b" stroke-width="2"/>
<line x1="1788.4" y1="327.5" x2="1788.4" y2="337" stroke="#1c1a1b" stroke-width="2"/>
<line x1="1831.5" y1="327.5" x2="1831.5" y2="337" stroke="#1c1a1b" stroke-width="2"/>
<line x1="1874.6" y1="327.5" x2="1874.6" y2="337" stroke="#1c1a1b" stroke-width="2"/>
<line x1="1917.7" y1="327.5" x2="1917.7" y2="337" stroke="#1c1a1b" stroke-width="2"/>
<line x1="1960.8" y1="327.5" x2="1960.8" y2="337" stroke="#1c1a1b" stroke-width="2"/>
<line x1="2003.9" y1="327.5" x2="2003.9" y2="337" stroke="#1c1a1b" stroke-width="2"/>
<line x1="2047" y1="327.5" x2="2047" y2="337" stroke="#1c1a1b" stroke-width="2"/>
<line x1="2090.1" y1="327.5" x2="2090.1" y2="337" stroke="#1c1a1b" stroke-width="2"/>
<line x1="1719.7" y1="314.9" x2="1727.5" y2="314.9" stroke="#1c1a1b" stroke-width="2"/>
<line x1="1719.7" y1="270.1" x2="1727.5" y2="270.1" stroke="#1c1a1b" stroke-width="2"/>
<line x1="1719.7" y1="225.3" x2="1727.5" y2="225.3" stroke="#1c1a1b" stroke-width="2"/>
<line x1="1719.7" y1="180.5" x2="1727.5" y2="180.5" stroke="#1c1a1b" stroke-width="2"/>
<line x1="1719.7" y1="135.7" x2="1727.5" y2="135.7" stroke="#1c1a1b" stroke-width="2"/>
<line x1="1719.7" y1="90.9" x2="1727.5" y2="90.9" stroke="#1c1a1b" stroke-width="2"/>
<text x="1818" y="356.7" font-size="23" textLength="26.2" lengthAdjust="spacingAndGlyphs">10</text>
<text x="1901.8" y="358.5" font-size="23" textLength="25.8" lengthAdjust="spacingAndGlyphs">20</text>
<text x="1992.4" y="359.7" font-size="23" textLength="25.8" lengthAdjust="spacingAndGlyphs">30</text>
<text x="2074.6" y="358" font-size="23" textLength="25.8" lengthAdjust="spacingAndGlyphs">40</text>
<text x="1687" y="142.5" font-size="23" textLength="29.6" lengthAdjust="spacingAndGlyphs">20</text>
<text x="1686" y="233.3" font-size="23" textLength="30.6" lengthAdjust="spacingAndGlyphs">10</text>
<text x="2045" y="77.4" font-size="24" textLength="51.2" lengthAdjust="spacingAndGlyphs">Both</text>
<text x="1773.8" y="76.9" font-size="23.5" textLength="32.4" lengthAdjust="spacingAndGlyphs">IF2</text>
<text x="1755.8" y="259.6" font-size="23" textLength="59.2" lengthAdjust="spacingAndGlyphs">None</text>
<text x="2059.4" y="264.8" font-size="23.7" textLength="29.2" lengthAdjust="spacingAndGlyphs">IF1</text>
<text x="1748.2" y="389.8" font-size="23" textLength="341.4" lengthAdjust="spacingAndGlyphs">Average buried surface area per</text>
<text x="1780.6" y="421.1" font-size="23" textLength="279.6" lengthAdjust="spacingAndGlyphs">residue under interface #1</text>
<text x="1902.4" y="450.7" font-size="23" textLength="38.2" lengthAdjust="spacingAndGlyphs">(A<tspan font-size="15" dy="-10">2</tspan><tspan dy="10">)</tspan></text>
<text x="1648.8" y="388.7" font-size="24.5" textLength="338.3" lengthAdjust="spacingAndGlyphs" transform="rotate(-90 1648.8 388.7)">Average buried surface area per</text>
<text x="1679.6" y="377.9" font-size="24.5" textLength="323.9" lengthAdjust="spacingAndGlyphs" transform="rotate(-90 1679.6 377.9)">residue under interface #2 (A<tspan font-size="15" dy="-10">2</tspan><tspan dy="10">)</tspan></text>
<g fill="#231f20"><circle cx="1884.9" cy="65.2" r="4.3"/><circle cx="1900.1" cy="69.6" r="4.3"/><circle cx="1871.8" cy="88.1" r="4.3"/><circle cx="1760" cy="110.8" r="4.3"/><circle cx="1757.1" cy="146.8" r="4.3"/><circle cx="1782.6" cy="144.5" r="4.3"/><circle cx="1786.9" cy="188.7" r="4.3"/><circle cx="1850.1" cy="160.9" r="4.3"/><circle cx="1745.5" cy="231.3" r="4.3"/><circle cx="1745.5" cy="264.4" r="4.3"/><circle cx="1745.5" cy="299.9" r="4.3"/><circle cx="1745.5" cy="314.6" r="4.3"/><circle cx="1759.4" cy="314.6" r="4.3"/><circle cx="1764" cy="314.6" r="4.3"/><circle cx="1769.3" cy="314.6" r="4.3"/><circle cx="1870.2" cy="308.2" r="4.3"/><circle cx="1920.7" cy="314.2" r="4.3"/><circle cx="1944.7" cy="314.2" r="4.3"/><circle cx="2004.5" cy="314.2" r="4.3"/><circle cx="2044.7" cy="314.2" r="4.3"/><circle cx="2080" cy="314.2" r="4.3"/></g>
<line x1="118.8" y1="466" x2="118.8" y2="770.7" stroke="#1c1a1b" stroke-width="2.2"/>
<line x1="117.8" y1="769.7" x2="458.4" y2="769.7" stroke="#1c1a1b" stroke-width="2.2"/>
<line x1="110" y1="746.4" x2="118.8" y2="746.4" stroke="#1c1a1b" stroke-width="2"/>
<line x1="110" y1="711.4" x2="118.8" y2="711.4" stroke="#1c1a1b" stroke-width="2"/>
<line x1="110" y1="676.4" x2="118.8" y2="676.4" stroke="#1c1a1b" stroke-width="2"/>
<line x1="110" y1="641.4" x2="118.8" y2="641.4" stroke="#1c1a1b" stroke-width="2"/>
<line x1="110" y1="606.4" x2="118.8" y2="606.4" stroke="#1c1a1b" stroke-width="2"/>
<line x1="110" y1="571.4" x2="118.8" y2="571.4" stroke="#1c1a1b" stroke-width="2"/>
<line x1="110" y1="536.4" x2="118.8" y2="536.4" stroke="#1c1a1b" stroke-width="2"/>
<line x1="110" y1="501.4" x2="118.8" y2="501.4" stroke="#1c1a1b" stroke-width="2"/>
<line x1="110" y1="466.4" x2="118.8" y2="466.4" stroke="#1c1a1b" stroke-width="2"/>
<line x1="134" y1="769.7" x2="134" y2="780" stroke="#1c1a1b" stroke-width="2"/>
<line x1="173.6" y1="769.7" x2="173.6" y2="780" stroke="#1c1a1b" stroke-width="2"/>
<line x1="213.2" y1="769.7" x2="213.2" y2="780" stroke="#1c1a1b" stroke-width="2"/>
<line x1="252.8" y1="769.7" x2="252.8" y2="780" stroke="#1c1a1b" stroke-width="2"/>
<line x1="292.4" y1="769.7" x2="292.4" y2="780" stroke="#1c1a1b" stroke-width="2"/>
<line x1="332" y1="769.7" x2="332" y2="780" stroke="#1c1a1b" stroke-width="2"/>
<line x1="371.6" y1="769.7" x2="371.6" y2="780" stroke="#1c1a1b" stroke-width="2"/>
<line x1="411.2" y1="769.7" x2="411.2" y2="780" stroke="#1c1a1b" stroke-width="2"/>
<line x1="450.8" y1="769.7" x2="450.8" y2="780" stroke="#1c1a1b" stroke-width="2"/>
<text x="61" y="478.4" font-size="25" textLength="43" lengthAdjust="spacingAndGlyphs">160</text>
<text x="61" y="547.6" font-size="25" textLength="43" lengthAdjust="spacingAndGlyphs">120</text>
<text x="74.2" y="616.7" font-size="25" textLength="29.8" lengthAdjust="spacingAndGlyphs">80</text>
<text x="74.2" y="687.4" font-size="25" textLength="29.8" lengthAdjust="spacingAndGlyphs">40</text>
<text x="89.4" y="758.1" font-size="25" textLength="13.4" lengthAdjust="spacingAndGlyphs">0</text>
<text x="128" y="802.6" font-size="25" textLength="15.6" lengthAdjust="spacingAndGlyphs">0</text>
<text x="200" y="802.6" font-size="25" textLength="28.4" lengthAdjust="spacingAndGlyphs">10</text>
<text x="279.8" y="802.6" font-size="25" textLength="30" lengthAdjust="spacingAndGlyphs">20</text>
<text x="354.8" y="802.6" font-size="25" textLength="28.8" lengthAdjust="spacingAndGlyphs">30</text>
<text x="436" y="802.6" font-size="25" textLength="29" lengthAdjust="spacingAndGlyphs">40</text>
<text x="401.2" y="484.4" font-size="32" textLength="37.6" lengthAdjust="spacingAndGlyphs">IF1</text>
<text x="353.8" y="516.7" font-size="26" textLength="85" lengthAdjust="spacingAndGlyphs">r = 0.61</text>
<text x="18.9" y="737.8" font-size="25" textLength="214.2" lengthAdjust="spacingAndGlyphs" transform="rotate(-90 18.9 737.8)">% uptake difference</text>
<text x="49.4" y="783.4" font-size="24.5" textLength="306.8" lengthAdjust="spacingAndGlyphs" transform="rotate(-90 49.4 783.4)">between 0.67 μM and 75 μM</text>
<text x="255.2" y="839.3" font-size="25.5" textLength="520.6" lengthAdjust="spacingAndGlyphs">Average buried surface area per residue (A<tspan font-size="15" dy="-10">2</tspan><tspan dy="10">)</tspan></text>
<g fill="#231f20"><circle cx="249.1" cy="481.1" r="4.7"/><circle cx="372" cy="610.8" r="4.7"/><circle cx="442.3" cy="645.2" r="4.7"/><circle cx="408.3" cy="666.4" r="4.7"/><circle cx="231" cy="716.5" r="4.7"/><circle cx="250.6" cy="704.7" r="4.7"/><circle cx="262.4" cy="704.7" r="4.7"/><circle cx="276.7" cy="702.7" r="4.7"/><circle cx="294.4" cy="703.2" r="4.7"/><circle cx="317" cy="712.6" r="4.7"/><circle cx="171.9" cy="711.7" r="4.7"/><circle cx="167.7" cy="718.4" r="4.7"/><circle cx="133.9" cy="712.7" r="4.7"/><circle cx="133.9" cy="716.5" r="4.7"/><circle cx="133.9" cy="726.9" r="4.7"/><circle cx="133.9" cy="734.4" r="4.7"/><circle cx="133.9" cy="739" r="4.7"/><circle cx="133.9" cy="744.3" r="4.7"/><circle cx="133.9" cy="754.7" r="4.7"/><circle cx="146.9" cy="726.4" r="4.7"/><circle cx="145" cy="736.3" r="4.7"/><circle cx="149.7" cy="734.4" r="4.7"/><circle cx="153" cy="738.7" r="4.7"/><circle cx="153" cy="733.5" r="4.7"/></g>
<line x1="133.2" y1="734.4" x2="443.7" y2="625.6" stroke="#d9272e" stroke-width="3.8"/>
<line x1="565" y1="468.6" x2="565" y2="773.8" stroke="#1c1a1b" stroke-width="2.2"/>
<line x1="564" y1="772.8" x2="919.8" y2="772.8" stroke="#1c1a1b" stroke-width="2.2"/>
<line x1="561.5" y1="469.4" x2="565" y2="469.4" stroke="#1c1a1b" stroke-width="2"/>
<line x1="561.5" y1="504.6" x2="565" y2="504.6" stroke="#1c1a1b" stroke-width="2"/>
<line x1="561.5" y1="539.8" x2="565" y2="539.8" stroke="#1c1a1b" stroke-width="2"/>
<line x1="561.5" y1="575" x2="565" y2="575" stroke="#1c1a1b" stroke-width="2"/>
<line x1="561.5" y1="610.2" x2="565" y2="610.2" stroke="#1c1a1b" stroke-width="2"/>
<line x1="561.5" y1="645.4" x2="565" y2="645.4" stroke="#1c1a1b" stroke-width="2"/>
<line x1="561.5" y1="680.6" x2="565" y2="680.6" stroke="#1c1a1b" stroke-width="2"/>
<line x1="561.5" y1="715.8" x2="565" y2="715.8" stroke="#1c1a1b" stroke-width="2"/>
<line x1="561.5" y1="751" x2="565" y2="751" stroke="#1c1a1b" stroke-width="2"/>
<line x1="582" y1="772.8" x2="582" y2="783" stroke="#1c1a1b" stroke-width="2"/>
<line x1="639.1" y1="772.8" x2="639.1" y2="783" stroke="#1c1a1b" stroke-width="2"/>
<line x1="696.2" y1="772.8" x2="696.2" y2="783" stroke="#1c1a1b" stroke-width="2"/>
<line x1="753.3" y1="772.8" x2="753.3" y2="783" stroke="#1c1a1b" stroke-width="2"/>
<line x1="810.4" y1="772.8" x2="810.4" y2="783" stroke="#1c1a1b" stroke-width="2"/>
<line x1="867.5" y1="772.8" x2="867.5" y2="783" stroke="#1c1a1b" stroke-width="2"/>
<text x="575" y="809.3" font-size="25" textLength="15" lengthAdjust="spacingAndGlyphs">0</text>
<text x="686" y="809.3" font-size="25" textLength="29" lengthAdjust="spacingAndGlyphs">10</text>
<text x="800" y="809.3" font-size="25" textLength="30" lengthAdjust="spacingAndGlyphs">20</text>
<text x="864" y="490" font-size="32" textLength="43" lengthAdjust="spacingAndGlyphs">IF2</text>
<text x="817.4" y="522.8" font-size="26" textLength="89.4" lengthAdjust="spacingAndGlyphs">r = 0.03</text>
<g fill="#231f20"><circle cx="590.2" cy="484.2" r="4.7"/><circle cx="581.6" cy="613.5" r="4.7"/><circle cx="581.6" cy="648" r="4.7"/><circle cx="581.9" cy="669.7" r="4.7"/><circle cx="581.9" cy="705.8" r="4.7"/><circle cx="581.9" cy="715.5" r="4.7"/><circle cx="600.9" cy="715.5" r="4.7"/><circle cx="646" cy="720.4" r="4.7"/><circle cx="685" cy="730.6" r="4.7"/><circle cx="743.6" cy="714.3" r="4.7"/><circle cx="581.9" cy="727.7" r="4.7"/><circle cx="581.9" cy="732" r="4.7"/><circle cx="581.9" cy="737" r="4.7"/><circle cx="581.9" cy="742" r="4.7"/><circle cx="581.9" cy="747.2" r="4.7"/><circle cx="581.9" cy="757.7" r="4.7"/><circle cx="779.7" cy="719.9" r="4.7"/><circle cx="800.9" cy="723.3" r="4.7"/><circle cx="797.7" cy="738.7" r="4.7"/><circle cx="844" cy="730.9" r="4.7"/><circle cx="873" cy="707.7" r="4.7"/><circle cx="895.2" cy="705.8" r="4.7"/><circle cx="902.7" cy="707.7" r="4.7"/></g>
<line x1="580.2" y1="719.9" x2="903.7" y2="716.2" stroke="#d9272e" stroke-width="3.8"/>
<text x="1048.5" y="705.3" font-size="33.5" textLength="158.9" lengthAdjust="spacingAndGlyphs" transform="rotate(-90 1048.5 705.3)">Frequency</text>
<line x1="1071.5" y1="476.2" x2="1071.5" y2="767" stroke="#1c1a1b" stroke-width="1.6"/>
<rect x="1094.2" y="491.4" width="7.8" height="274.6" fill="#f15a2e" stroke="#2b2220" stroke-width="1.8"/>
<rect x="1103.8" y="724.8" width="8" height="41.2" fill="#f15a2e" stroke="#2b2220" stroke-width="1.8"/>
<rect x="1112.7" y="757.3" width="7.9" height="8.7" fill="#3b5aa6"/>
<rect x="1130.1" y="758.5" width="7.4" height="7.5" fill="#e8e51a" stroke="#2b2220" stroke-width="1.8"/>
<rect x="1139.3" y="756.6" width="8.2" height="9.4" fill="#e8e51a" stroke="#2b2220" stroke-width="1.8"/>
<rect x="1149.3" y="763.4" width="7.8" height="2.6" fill="#3a3a4a" stroke="#2b2220" stroke-width="1.8"/>
<rect x="1175.4" y="754.8" width="8.9" height="11.2" fill="#e8e51a" stroke="#2b2220" stroke-width="1.8"/>
<rect x="1194.2" y="745.6" width="7.9" height="20.4" fill="#e8e51a" stroke="#2b2220" stroke-width="1.8"/>
<rect x="1203.9" y="752.9" width="7.7" height="13.1" fill="#e8e51a" stroke="#2b2220" stroke-width="1.8"/>
<rect x="1213.4" y="763.6" width="7.4" height="2.4" fill="#3a3a4a" stroke="#2b2220" stroke-width="1.8"/>
<rect x="1230.5" y="753.6" width="7.4" height="12.4" fill="#e8e51a" stroke="#2b2220" stroke-width="1.8"/>
<rect x="1239.7" y="741.7" width="8.6" height="24.3" fill="#e8e51a" stroke="#2b2220" stroke-width="1.8"/>
<rect x="1257.5" y="754.8" width="8.8" height="11.2" fill="#e8e51a" stroke="#2b2220" stroke-width="1.8"/>
<rect x="1275.9" y="746.5" width="8.5" height="19.5" fill="#e8e51a" stroke="#2b2220" stroke-width="1.8"/>
<rect x="1294.8" y="739.5" width="7.8" height="26.5" fill="#e8e51a" stroke="#2b2220" stroke-width="1.8"/>
<rect x="1321.2" y="742.9" width="8.4" height="23.1" fill="#e8e51a" stroke="#2b2220" stroke-width="1.8"/>
<rect x="1339.7" y="748.6" width="8.4" height="17.4" fill="#e8e51a" stroke="#2b2220" stroke-width="1.8"/>
<rect x="1366.8" y="746.4" width="8.6" height="19.6" fill="#e8e51a" stroke="#2b2220" stroke-width="1.8"/>
<rect x="1377.2" y="753.3" width="6.9" height="12.7" fill="#e8e51a" stroke="#2b2220" stroke-width="1.8"/>
<rect x="1394.4" y="757.9" width="7.5" height="8.1" fill="#e8e51a" stroke="#2b2220" stroke-width="1.8"/>
<rect x="1403.7" y="750.2" width="7.6" height="15.8" fill="#e8e51a" stroke="#2b2220" stroke-width="1.8"/>
<rect x="1421.5" y="759.4" width="8.6" height="6.6" fill="#e8e51a" stroke="#2b2220" stroke-width="1.8"/>
<rect x="1431.9" y="763.2" width="7.1" height="2.8" fill="#3a3a4a" stroke="#2b2220" stroke-width="1.8"/>
<rect x="1457.9" y="754.3" width="8.4" height="11.7" fill="#e8e51a" stroke="#2b2220" stroke-width="1.8"/>
<rect x="1494.2" y="762.2" width="7.7" height="3.8" fill="#e8e51a" stroke="#2b2220" stroke-width="1.8"/>
<rect x="1503.7" y="754.1" width="8.4" height="11.9" fill="#e8e51a" stroke="#2b2220" stroke-width="1.8"/>
<line x1="1285" y1="764.4" x2="1294" y2="764.4" stroke="#e8493a" stroke-width="1.4"/>
<line x1="1303.5" y1="764.4" x2="1320" y2="764.4" stroke="#e8493a" stroke-width="1.4"/>
<line x1="1330.5" y1="764.4" x2="1338.8" y2="764.4" stroke="#e8493a" stroke-width="1.4"/>
<line x1="1355" y1="764.4" x2="1366" y2="764.4" stroke="#e8493a" stroke-width="1.4"/>
<line x1="1385" y1="764.4" x2="1393.5" y2="764.4" stroke="#e8493a" stroke-width="1.4"/>
<line x1="1468" y1="764.4" x2="1476" y2="764.4" stroke="#e8493a" stroke-width="1.4"/>
<line x1="1116.5" y1="476.5" x2="1116.5" y2="766" stroke="#1c1a1b" stroke-width="2.2" stroke-dasharray="10.5 5.5"/>
<line x1="1070.5" y1="766" x2="1563.4" y2="766" stroke="#1c1a1b" stroke-width="2"/>
<line x1="1093.8" y1="766" x2="1093.8" y2="773" stroke="#1c1a1b" stroke-width="2"/>
<line x1="1184.8" y1="766" x2="1184.8" y2="773" stroke="#1c1a1b" stroke-width="2"/>
<line x1="1275.8" y1="766" x2="1275.8" y2="773" stroke="#1c1a1b" stroke-width="2"/>
<line x1="1366.8" y1="766" x2="1366.8" y2="773" stroke="#1c1a1b" stroke-width="2"/>
<line x1="1457.8" y1="766" x2="1457.8" y2="773" stroke="#1c1a1b" stroke-width="2"/>
<line x1="1548.8" y1="766" x2="1548.8" y2="773" stroke="#1c1a1b" stroke-width="2"/>
<text x="1426.2" y="516.3" font-size="33.6" textLength="105.8" lengthAdjust="spacingAndGlyphs">60 min</text>
<text x="1165.8" y="794.8" font-size="25" textLength="34.6" lengthAdjust="spacingAndGlyphs">0.2</text>
<text x="1256.2" y="794.8" font-size="25" textLength="35.8" lengthAdjust="spacingAndGlyphs">0.4</text>
<text x="1348" y="794.8" font-size="25" textLength="35.6" lengthAdjust="spacingAndGlyphs">0.6</text>
<text x="1439" y="794.8" font-size="25" textLength="35.4" lengthAdjust="spacingAndGlyphs">0.8</text>
<text x="1238.4" y="822.7" font-size="28" textLength="98.2" lengthAdjust="spacingAndGlyphs">p values</text>
<line x1="1631.3" y1="473.3" x2="1631.3" y2="763.8" stroke="#1c1a1b" stroke-width="1.6"/>
<rect x="1654.1" y="488.4" width="7.9" height="274.4" fill="#f15a2e" stroke="#2b2220" stroke-width="1.8"/>
<rect x="1662.9" y="759.6" width="8.8" height="3.2" fill="#3b5aa6"/>
<rect x="1735.6" y="758.8" width="9" height="4" fill="#e8e51a" stroke="#2b2220" stroke-width="1.8"/>
<rect x="1753.8" y="753.7" width="9" height="9.1" fill="#e8e51a" stroke="#2b2220" stroke-width="1.8"/>
<rect x="1764.6" y="758.2" width="6.9" height="4.6" fill="#e8e51a" stroke="#2b2220" stroke-width="1.8"/>
<rect x="1790.6" y="755.9" width="6.9" height="6.9" fill="#e8e51a" stroke="#2b2220" stroke-width="1.8"/>
<rect x="1799.3" y="742.6" width="9" height="20.2" fill="#e8e51a" stroke="#2b2220" stroke-width="1.8"/>
<rect x="1817.5" y="746.5" width="9" height="16.3" fill="#e8e51a" stroke="#2b2220" stroke-width="1.8"/>
<rect x="1835.7" y="740.7" width="9" height="22.1" fill="#e8e51a" stroke="#2b2220" stroke-width="1.8"/>
<rect x="1854.3" y="715.3" width="8.2" height="47.5" fill="#e8e51a" stroke="#2b2220" stroke-width="1.8"/>
<rect x="1864.3" y="760.5" width="7.8" height="2.3" fill="#3a3a4a" stroke="#2b2220" stroke-width="1.8"/>
<rect x="1881.4" y="728.3" width="8.5" height="34.5" fill="#e8e51a" stroke="#2b2220" stroke-width="1.8"/>
<rect x="1899.6" y="735.4" width="8.6" height="27.4" fill="#e8e51a" stroke="#2b2220" stroke-width="1.8"/>
<rect x="1910" y="758.8" width="7.6" height="4" fill="#e8e51a" stroke="#2b2220" stroke-width="1.8"/>
<rect x="1926.9" y="733.8" width="8.6" height="29" fill="#e8e51a" stroke="#2b2220" stroke-width="1.8"/>
<rect x="1937.3" y="751.7" width="7.3" height="11.1" fill="#e8e51a" stroke="#2b2220" stroke-width="1.8"/>
<rect x="1946.4" y="755.3" width="7" height="7.5" fill="#e8e51a" stroke="#2b2220" stroke-width="1.8"/>
<rect x="1955.2" y="755.9" width="7.3" height="6.9" fill="#e8e51a" stroke="#2b2220" stroke-width="1.8"/>
<rect x="1964.3" y="753.6" width="7.6" height="9.2" fill="#e8e51a" stroke="#2b2220" stroke-width="1.8"/>
<line x1="1826.7" y1="761.2" x2="1834.5" y2="761.2" stroke="#e8493a" stroke-width="1.4"/>
<line x1="1845.6" y1="761.2" x2="1853.4" y2="761.2" stroke="#e8493a" stroke-width="1.4"/>
<line x1="1676.2" y1="473.5" x2="1676.2" y2="762.8" stroke="#1c1a1b" stroke-width="2.2" stroke-dasharray="10.5 5.5"/>
<line x1="1626.5" y1="762.8" x2="2123" y2="762.8" stroke="#1c1a1b" stroke-width="2"/>
<line x1="1653.6" y1="762.8" x2="1653.6" y2="772.6" stroke="#1c1a1b" stroke-width="2"/>
<line x1="1744.6" y1="762.8" x2="1744.6" y2="772.6" stroke="#1c1a1b" stroke-width="2"/>
<line x1="1835.6" y1="762.8" x2="1835.6" y2="772.6" stroke="#1c1a1b" stroke-width="2"/>
<line x1="1926.6" y1="762.8" x2="1926.6" y2="772.6" stroke="#1c1a1b" stroke-width="2"/>
<line x1="2017.6" y1="762.8" x2="2017.6" y2="772.6" stroke="#1c1a1b" stroke-width="2"/>
<line x1="2108.6" y1="762.8" x2="2108.6" y2="772.6" stroke="#1c1a1b" stroke-width="2"/>
<text x="1984.2" y="516.3" font-size="33.6" textLength="106.8" lengthAdjust="spacingAndGlyphs">30 min</text>
<text x="1726.6" y="794" font-size="25" textLength="35.4" lengthAdjust="spacingAndGlyphs">0.2</text>
<text x="1817.6" y="794" font-size="25" textLength="36.2" lengthAdjust="spacingAndGlyphs">0.4</text>
<text x="1909" y="794" font-size="25" textLength="35.6" lengthAdjust="spacingAndGlyphs">0.6</text>
<text x="2000" y="794" font-size="25" textLength="35.6" lengthAdjust="spacingAndGlyphs">0.8</text>
<text x="1790" y="822.7" font-size="28" textLength="98" lengthAdjust="spacingAndGlyphs">p values</text></g>

</svg>
</body></html>
